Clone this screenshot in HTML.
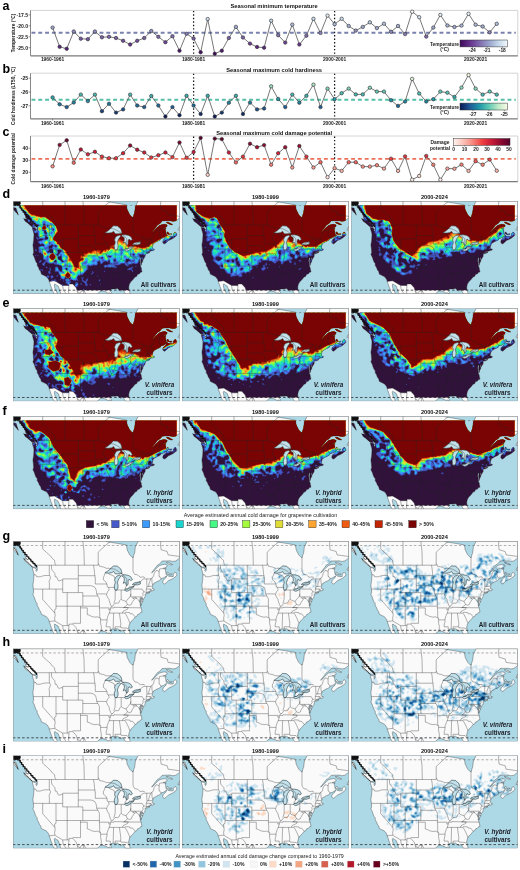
<!DOCTYPE html><html><head><meta charset="utf-8"><title>Figure</title>
<style>html,body{margin:0;padding:0;background:#fff;overflow:hidden;width:520px;height:870px;}svg{display:block;} svg.main{will-change:transform;}text{font-family:'Liberation Sans', sans-serif;}</style></head><body>
<svg class="main" width="520" height="870" viewBox="0 0 520 870">
<defs>
<clipPath id="dataclip"><path d="M163.6,32.8 163.0,31.6 162.3,30.9 160.5,33.0 160.3,35.4 159.2,35.4 157.6,35.4 155.4,35.0 154.7,34.4 153.4,33.7 152.9,31.6 152.7,29.6 152.0,28.2 153.2,27.9 152.9,27.2 151.4,27.5 149.6,27.5 150.3,27.2 151.8,26.8 153.8,25.8 154.3,24.4 153.6,23.8 151.4,23.2 148.7,23.8 146.7,24.4 144.5,26.2 142.5,28.2 140.7,30.3 139.3,31.3 138.7,31.6 140.0,29.9 141.6,27.9 142.7,26.5 144.5,24.1 146.2,23.1 147.6,22.0 149.1,20.0 151.4,19.8 154.3,19.8 156.9,19.7 159.8,20.3 162.5,20.0 163.6,19.3 163.6,4.4 123.1,4.4 122.5,5.5 121.7,12.1 121.2,13.0 120.3,16.4 119.2,16.2 116.8,13.7 114.3,8.8 113.6,4.4 7.1,4.4 6.9,5.3 8.0,7.7 9.8,9.7 11.3,12.1 12.4,14.9 12.9,16.9 14.7,18.3 15.3,18.6 15.3,18.6 13.1,17.9 11.1,17.9 12.2,20.3 14.4,21.7 16.7,23.8 19.1,25.5 21.1,26.2 22.5,26.2 22.3,24.8 20.9,23.1 18.9,21.4 17.9,20.1 19.1,21.0 20.9,22.4 22.5,23.4 23.4,24.1 23.8,25.5 24.5,27.2 24.3,29.2 23.6,30.3 22.9,29.6 23.6,27.9 21.8,27.0 19.4,26.2 19.6,27.9 20.5,30.9 21.1,33.3 20.9,36.1 20.7,39.5 20.0,43.9 20.5,48.0 20.7,51.5 20.0,53.5 21.4,56.2 22.3,59.0 23.1,61.0 24.3,62.4 24.3,64.5 25.6,66.5 26.5,68.9 27.8,70.6 28.5,73.3 30.3,74.0 31.6,74.7 33.2,75.4 34.3,76.4 35.9,78.8 36.3,80.4 36.3,80.4 41.7,79.8 49.7,84.5 56.1,84.5 56.1,83.0 59.9,83.0 63.3,86.7 64.0,89.2 97.6,89.2 97.6,88.7 99.0,87.9 101.0,87.9 102.3,87.9 104.5,87.6 105.7,88.4 106.7,89.2 109.1,89.2 109.2,89.1 109.7,89.2 116.2,89.2 115.9,87.7 115.9,85.7 116.4,83.6 117.0,82.2 118.1,80.5 119.3,79.5 120.8,77.8 122.2,75.9 123.7,75.4 124.8,73.3 126.4,73.0 127.7,71.3 129.1,71.0 128.6,68.6 128.2,66.5 127.5,65.1 127.3,62.1 126.8,60.0 127.1,57.6 127.7,56.6 128.2,57.3 127.7,60.0 128.0,62.1 128.0,64.7 128.6,63.1 128.8,62.1 129.7,60.7 130.0,59.0 129.1,57.3 129.1,56.2 130.4,58.5 131.1,57.3 132.2,55.6 132.4,53.5 132.0,53.0 132.6,52.8 132.7,52.8 134.6,52.5 137.1,51.3 136.2,51.1 134.6,51.6 133.1,51.8 134.9,50.8 136.9,50.4 138.2,49.8 138.9,49.8 139.8,49.6 141.3,49.1 141.3,47.9 140.0,48.0 139.3,47.0 139.6,45.6 140.0,43.9 140.9,42.2 142.5,41.5 144.0,40.5 145.8,39.8 147.6,38.8 148.2,37.4 150.0,37.1 151.4,36.4 152.9,35.2 153.8,34.9 152.9,36.8 151.4,38.1 150.3,39.1 149.8,41.2 150.7,42.6 151.8,42.9 153.6,41.5 155.6,39.5 158.1,38.5 160.7,37.1 162.3,35.7 163.6,34.7ZM92.1,31.8 92.3,31.5 95.0,29.9 97.8,27.5 100.5,24.8 104.5,25.1 107.9,27.9 108.8,30.9 109.0,32.7 107.9,32.5 104.5,32.8 102.3,32.7 100.7,30.3 99.0,31.5 95.6,32.1ZM108.6,34.9 109.7,33.7 112.3,33.7 115.7,34.4 117.9,35.7 119.5,38.5 117.9,39.5 116.1,38.1 115.2,39.8 115.2,43.3 113.7,44.6 112.3,41.2 110.3,42.2 111.5,39.1 111.2,36.4ZM102.3,41.9 102.3,40.5 101.6,39.1 102.3,36.8 104.1,34.9 106.8,34.2 107.9,35.0 105.7,38.1 104.5,41.2 105.2,44.6 105.0,47.0 103.9,49.1 102.3,49.1 101.6,48.0 101.4,44.6ZM119.5,43.6 120.4,42.4 122.4,41.5 125.7,41.0 127.3,40.5 127.5,42.9 124.6,43.8 121.3,43.8ZM111.5,49.1 112.1,48.0 114.6,47.9 116.8,45.8 119.0,45.8 121.3,45.3 119.0,47.4 115.2,49.8 113.5,50.1ZM3.1,7.0 0.8,6.7 0.6,8.4 2.2,10.4 3.7,12.1 5.1,13.2 4.0,9.7ZM153.6,21.0 153.8,21.7 155.6,22.7 158.1,23.8 159.8,23.6 155.8,21.4ZM154.7,30.8 153.8,32.0 154.5,33.0 156.5,33.7 158.3,34.0 159.2,32.8 156.5,33.0Z"/></clipPath>
<g id="base">
<rect x="0" y="0" width="167.0" height="93.0" fill="#add8e6"/>
<path d="M4.0,2.9 5.3,2.6 4.9,0.0 3.4,0.0ZM2.3,0.0 0.0,0.0 0.0,2.4 0.2,2.6 2.4,3.6 3.3,1.9ZM4.0,9.7 3.1,7.0 0.8,6.7 0.6,8.4 2.2,10.4 3.7,12.1 5.1,13.2ZM21.1,26.2 22.5,26.2 22.3,24.8 20.9,23.1 18.9,21.4 17.9,20.1 19.1,21.0 20.9,22.4 22.5,23.4 23.4,24.1 23.8,25.5 24.5,27.2 24.3,29.2 23.6,30.3 22.9,29.6 23.6,27.9 21.8,27.0 19.4,26.2 19.6,27.9 20.5,30.9 21.1,33.3 20.9,36.1 20.7,39.5 20.0,43.9 20.5,48.0 20.7,51.5 20.0,53.5 21.4,56.2 22.3,59.0 23.1,61.0 24.3,62.4 24.3,64.5 25.6,66.5 26.5,68.9 27.8,70.6 28.5,73.3 30.3,74.0 31.6,74.7 33.2,75.4 34.3,76.4 35.9,78.8 36.3,80.5 37.2,82.9 38.1,85.7 39.2,88.1 39.6,90.1 41.2,92.5 41.4,93.0 44.4,93.0 44.1,91.5 42.3,88.4 41.7,86.0 41.4,84.0 41.9,82.9 43.4,84.0 45.2,85.0 45.9,86.7 47.0,89.8 47.7,92.5 47.8,93.0 84.3,93.0 85.8,91.5 87.8,90.1 89.4,89.8 91.6,90.4 93.6,91.1 95.0,92.2 96.7,91.8 98.1,92.8 98.5,91.5 97.4,90.1 97.6,88.7 99.0,87.9 101.0,87.9 102.3,87.9 104.5,87.6 105.7,88.4 107.0,89.4 107.9,90.4 109.2,89.1 110.6,89.4 111.5,91.1 112.6,92.8 112.6,93.0 117.4,93.0 117.3,92.5 116.4,89.8 115.9,87.7 115.9,85.7 116.4,83.6 117.0,82.2 118.1,80.5 119.3,79.5 120.8,77.8 122.2,75.9 123.7,75.4 124.8,73.3 126.4,73.0 127.7,71.3 129.1,71.0 128.6,68.6 128.2,66.5 127.5,65.1 127.3,62.1 126.8,60.0 127.1,57.6 127.7,56.6 128.2,57.3 127.7,60.0 128.0,62.1 128.0,64.7 128.6,63.1 128.8,62.1 129.7,60.7 130.0,59.0 129.1,57.3 129.1,56.2 130.4,58.5 131.1,57.3 132.2,55.6 132.4,53.5 132.0,53.0 132.6,52.8 132.7,52.8 134.6,52.5 137.1,51.3 136.2,51.1 134.6,51.6 133.1,51.8 134.9,50.8 136.9,50.4 138.2,49.8 138.9,49.8 139.8,49.6 141.3,49.1 141.3,47.9 140.0,48.0 139.3,47.0 139.6,45.6 140.0,43.9 140.9,42.2 142.5,41.5 144.0,40.5 145.8,39.8 147.6,38.8 148.2,37.4 150.0,37.1 151.4,36.4 152.9,35.2 153.8,34.9 152.9,36.8 151.4,38.1 150.3,39.1 149.8,41.2 150.7,42.6 151.8,42.9 153.6,41.5 155.6,39.5 158.1,38.5 160.7,37.1 162.3,35.7 163.6,34.7 164.1,33.7 163.0,31.6 162.3,30.9 160.5,33.0 160.3,35.4 159.2,35.4 157.6,35.4 155.4,35.0 154.7,34.4 153.4,33.7 152.9,31.6 152.7,29.6 152.0,28.2 153.2,27.9 152.9,27.2 151.4,27.5 149.6,27.5 150.3,27.2 151.8,26.8 153.8,25.8 154.3,24.4 153.6,23.8 151.4,23.2 148.7,23.8 146.7,24.4 144.5,26.2 142.5,28.2 140.7,30.3 139.3,31.3 138.7,31.6 140.0,29.9 141.6,27.9 142.7,26.5 144.5,24.1 146.2,23.1 147.6,22.0 149.1,20.0 151.4,19.8 154.3,19.8 156.9,19.7 159.8,20.3 162.5,20.0 164.8,18.6 166.5,16.9 167.0,16.7 167.0,0.0 125.3,0.0 125.0,0.6 122.5,5.5 121.7,12.1 121.2,13.0 120.3,16.4 119.2,16.2 116.8,13.7 114.3,8.8 113.5,3.9 104.0,2.2 93.9,0.6 93.0,0.0 6.4,0.0 6.4,0.2 6.6,1.9 7.3,3.6 6.9,5.3 8.0,7.7 9.8,9.7 11.3,12.1 12.4,14.9 12.9,16.9 14.7,18.3 15.3,18.6 15.3,18.6 13.1,17.9 11.1,17.9 12.2,20.3 14.4,21.7 16.7,23.8 19.1,25.5ZM95.6,32.1 92.1,31.8 92.3,31.5 95.0,29.9 97.8,27.5 100.5,24.8 104.5,25.1 107.9,27.9 108.8,30.9 109.0,32.7 107.9,32.5 104.5,32.8 102.3,32.7 100.7,30.3 99.0,31.5ZM111.2,36.4 108.6,34.9 109.7,33.7 112.3,33.7 115.7,34.4 117.9,35.7 119.5,38.5 117.9,39.5 116.1,38.1 115.2,39.8 115.2,43.3 113.7,44.6 112.3,41.2 110.3,42.2 111.5,39.1ZM101.4,44.6 102.3,41.9 102.3,40.5 101.6,39.1 102.3,36.8 104.1,34.9 106.8,34.2 107.9,35.0 105.7,38.1 104.5,41.2 105.2,44.6 105.0,47.0 103.9,49.1 102.3,49.1 101.6,48.0ZM121.3,43.8 119.5,43.6 120.4,42.4 122.4,41.5 125.7,41.0 127.3,40.5 127.5,42.9 124.6,43.8ZM113.5,50.1 111.5,49.1 112.1,48.0 114.6,47.9 116.8,45.8 119.0,45.8 121.3,45.3 119.0,47.4 115.2,49.8ZM155.8,21.4 153.6,21.0 153.8,21.7 155.6,22.7 158.1,23.8 159.8,23.6ZM166.8,25.8 165.0,28.9 165.9,29.2 167.0,29.4 167.0,25.5ZM156.5,33.0 154.7,30.8 153.8,32.0 154.5,33.0 156.5,33.7 158.3,34.0 159.2,32.8Z" fill="#fafafa"/>
</g>
<path id="lakes" d="M100.7,30.3 102.3,32.7 104.5,32.8 107.9,32.5 109.0,32.7 108.8,30.9 107.9,27.9 104.5,25.1 100.5,24.8 97.8,27.5 95.0,29.9 92.3,31.5 92.1,31.8 95.6,32.1 99.0,31.5ZM110.3,42.2 112.3,41.2 113.7,44.6 115.2,43.3 115.2,39.8 116.1,38.1 117.9,39.5 119.5,38.5 117.9,35.7 115.7,34.4 112.3,33.7 109.7,33.7 108.6,34.9 111.2,36.4 111.5,39.1ZM103.9,49.1 105.0,47.0 105.2,44.6 104.5,41.2 105.7,38.1 107.9,35.0 106.8,34.2 104.1,34.9 102.3,36.8 101.6,39.1 102.3,40.5 102.3,41.9 101.4,44.6 101.6,48.0 102.3,49.1ZM127.3,40.5 125.7,41.0 122.4,41.5 120.4,42.4 119.5,43.6 121.3,43.8 124.6,43.8 127.5,42.9ZM121.3,45.3 119.0,45.8 116.8,45.8 114.6,47.9 112.1,48.0 111.5,49.1 113.5,50.1 115.2,49.8 119.0,47.4Z"/>
<g id="overlay">
<path d="M22.5,24.1 85.3,24.1 85.3,22.8 86.0,23.1 86.5,25.1 88.9,25.6 90.9,26.0 93.4,27.2 96.7,27.2 97.8,27.5 101.2,27.9 105.7,30.3 108.3,32.3 109.9,33.3 111.0,34.7 113.9,37.8 113.7,44.6 112.1,47.0 112.8,48.0 116.8,47.2 121.3,45.0 121.3,43.6 123.5,42.6 127.3,40.9 129.1,38.8 130.9,37.8 138.0,37.8 138.9,36.8 139.8,36.4 140.7,34.7 141.3,32.0 143.1,29.4 145.1,29.7 146.2,30.7 146.2,35.4 147.1,35.7 147.8,37.4M43.1,24.1 41.9,22.0 41.7,19.3 39.6,17.6 37.6,14.9 35.9,13.5 33.2,10.8 31.0,9.1 29.8,7.7 29.8,0.0M52.1,24.1 52.1,0.0M71.4,24.1 71.1,10.4 70.0,0.8 70.0,0.0M85.3,22.8 85.3,11.1 87.8,8.7 93.4,3.6 97.6,0.2 97.7,0.0M131.7,36.8 131.3,35.9 129.1,35.9 127.5,36.1 125.9,35.0 124.6,33.7 121.9,33.3 120.4,30.9 120.1,29.6 120.1,15.9M146.2,30.7 146.7,27.9 149.1,27.5M167.0,15.4 155.2,13.8 154.3,10.4 148.2,8.7 147.6,3.6 148.0,0.0M20.9,33.5 23.1,34.0 23.6,35.6 27.2,35.7 30.3,34.7 32.1,34.4 36.7,34.4M36.4,24.1 36.4,33.0 36.7,34.4 37.6,36.1 37.0,38.5 36.1,40.2 36.5,41.9 36.5,48.0M20.5,48.0 49.8,48.0M38.6,24.1 38.6,27.6 39.4,29.4 41.9,32.1 42.3,35.7 43.7,35.7 45.4,39.5 46.8,39.7 49.0,38.8 49.8,39.5M49.8,37.8 49.8,51.5M49.8,37.8 65.4,37.8M65.4,24.1 65.4,51.5M65.4,34.6 82.1,34.6M80.6,24.1 81.3,28.2 81.6,32.3 82.1,34.6 82.1,36.8 82.4,36.8 82.4,42.9M65.4,44.6 77.8,44.6 80.0,45.1 82.0,46.3 82.9,48.0 83.6,50.4 83.8,52.8 84.9,54.9 85.8,56.2 86.5,58.0 86.5,66.8M82.4,42.9 94.1,42.9M92.1,32.0 91.6,34.0 90.5,36.1 90.5,38.8 92.7,40.5 94.1,42.9 94.3,45.6 95.4,46.3 96.3,48.7 94.5,50.8 93.6,53.5 94.5,55.9 96.3,58.6 96.3,59.7 97.8,64.1 98.7,65.1 97.8,66.8 97.4,68.6 96.5,71.6 95.4,74.0 94.3,77.1 94.1,80.5 93.4,82.9 93.2,85.7 97.3,85.7 97.4,87.4 97.6,88.4M95.8,32.3 96.5,33.3 99.0,34.0 101.0,35.0 102.1,37.4M49.8,51.5 69.9,51.5M54.3,51.5 54.3,84.5M43.1,48.0 43.1,67.9 41.7,68.6 41.9,72.0 42.3,74.4 41.7,77.1 42.1,79.5 41.7,79.8M43.1,65.1 69.9,65.1M29.8,48.0 29.8,58.3 41.9,72.0M36.3,80.4 41.7,79.8 49.7,84.5 56.1,84.5 56.1,83.0 59.9,83.0 63.3,86.7 64.4,90.4 67.3,92.5 68.4,90.1 71.3,89.8 72.9,93.0M69.9,51.5 69.9,65.1M69.9,54.9 84.9,54.9M69.9,65.1 86.5,65.1M67.6,65.1 67.6,82.2 59.7,82.2M67.6,66.8 74.4,66.8 74.4,73.5 76.2,74.0 78.9,75.4 82.2,76.1 84.5,75.7 86.7,76.8 87.7,76.9M86.5,66.8 86.8,70.6 86.8,76.8M87.7,76.9 87.7,82.2 88.5,85.7 88.3,88.4 88.1,90.1M87.7,78.8 94.1,78.8M86.5,66.8 96.4,66.8 95.8,68.6 97.4,68.6M83.8,52.8 92.9,52.8 93.6,53.5M95.4,46.3 101.6,46.3M102.3,49.1 102.3,56.6 102.1,58.6 101.4,60.7 101.0,62.4M98.7,65.1 100.1,64.8 101.0,63.4 102.3,62.1 104.5,62.1 105.9,61.7 107.0,59.3 108.3,58.0 109.4,59.0 111.2,59.7 113.2,60.4 114.6,58.3 116.1,56.9 117.5,54.9 117.9,52.8 117.9,48.0M108.3,58.0 108.3,48.9M102.3,48.9 108.3,48.9 111.2,49.0M97.8,66.8 101.1,66.8 101.1,66.2 115.4,66.5 114.6,68.2 112.3,69.2 110.1,70.3 109.4,72.0M110.8,66.5 112.8,65.1 114.6,63.4 113.2,60.4M110.8,66.5 128.2,66.7M96.1,72.0 112.1,72.0M112.1,71.3 113.7,71.3 116.8,71.5 117.3,72.7 119.7,72.7 122.2,75.7M112.1,72.0 113.2,73.7 114.6,76.4 115.7,78.8 116.8,81.6 117.0,82.2M100.7,72.0 100.3,85.7 100.3,87.7M106.5,72.0 107.9,82.2 107.7,85.7 108.1,86.7 114.1,87.0 114.6,87.7 115.7,86.7M102.1,85.7 107.7,85.7M102.1,85.7 102.3,87.9M114.6,63.4 116.8,64.1 118.4,63.4 119.0,61.7 120.1,60.0 121.3,58.3 122.6,57.3 123.9,57.3 124.8,58.3 125.7,59.0 127.3,61.7M120.1,57.6 120.1,55.8M120.1,57.6 122.6,56.2 123.9,57.3M117.9,55.8 128.4,55.8 128.4,60.2 130.1,60.2M117.9,55.8 117.9,52.8M119.6,48.0 129.3,48.0 130.2,49.8 130.9,50.3 132.6,51.5M130.9,50.3 130.0,52.1 130.2,54.2 129.1,55.6M133.9,37.8 133.8,41.2 134.1,45.5 133.5,47.9 133.2,51.1M138.0,37.8 136.9,40.2 136.0,42.9 135.8,45.5M134.1,45.5 139.1,45.1M133.5,47.9 137.3,48.0 138.2,48.0 138.9,49.8M137.3,48.0 137.3,50.4M138.9,36.8 139.1,41.2 139.8,44.3M49.7,84.5 50.4,89.1 53.4,93.0M56.1,84.5 55.5,90.8 56.2,93.0M64.4,90.4 65.2,93.0M71.3,89.8 70.3,93.0" fill="none" stroke="#262626" stroke-width="0.42" stroke-linejoin="round" opacity="0.85"/>
<path d="M4.0,2.9 5.3,2.6 4.9,0.0 3.4,0.0ZM2.3,0.0 0.0,0.0 0.0,2.4 0.2,2.6 2.4,3.6 3.3,1.9ZM4.0,9.7 3.1,7.0 0.8,6.7 0.6,8.4 2.2,10.4 3.7,12.1 5.1,13.2ZM21.1,26.2 22.5,26.2 22.3,24.8 20.9,23.1 18.9,21.4 17.9,20.1 19.1,21.0 20.9,22.4 22.5,23.4 23.4,24.1 23.8,25.5 24.5,27.2 24.3,29.2 23.6,30.3 22.9,29.6 23.6,27.9 21.8,27.0 19.4,26.2 19.6,27.9 20.5,30.9 21.1,33.3 20.9,36.1 20.7,39.5 20.0,43.9 20.5,48.0 20.7,51.5 20.0,53.5 21.4,56.2 22.3,59.0 23.1,61.0 24.3,62.4 24.3,64.5 25.6,66.5 26.5,68.9 27.8,70.6 28.5,73.3 30.3,74.0 31.6,74.7 33.2,75.4 34.3,76.4 35.9,78.8 36.3,80.5 37.2,82.9 38.1,85.7 39.2,88.1 39.6,90.1 41.2,92.5 41.4,93.0 44.4,93.0 44.1,91.5 42.3,88.4 41.7,86.0 41.4,84.0 41.9,82.9 43.4,84.0 45.2,85.0 45.9,86.7 47.0,89.8 47.7,92.5 47.8,93.0 84.3,93.0 85.8,91.5 87.8,90.1 89.4,89.8 91.6,90.4 93.6,91.1 95.0,92.2 96.7,91.8 98.1,92.8 98.5,91.5 97.4,90.1 97.6,88.7 99.0,87.9 101.0,87.9 102.3,87.9 104.5,87.6 105.7,88.4 107.0,89.4 107.9,90.4 109.2,89.1 110.6,89.4 111.5,91.1 112.6,92.8 112.6,93.0 117.4,93.0 117.3,92.5 116.4,89.8 115.9,87.7 115.9,85.7 116.4,83.6 117.0,82.2 118.1,80.5 119.3,79.5 120.8,77.8 122.2,75.9 123.7,75.4 124.8,73.3 126.4,73.0 127.7,71.3 129.1,71.0 128.6,68.6 128.2,66.5 127.5,65.1 127.3,62.1 126.8,60.0 127.1,57.6 127.7,56.6 128.2,57.3 127.7,60.0 128.0,62.1 128.0,64.7 128.6,63.1 128.8,62.1 129.7,60.7 130.0,59.0 129.1,57.3 129.1,56.2 130.4,58.5 131.1,57.3 132.2,55.6 132.4,53.5 132.0,53.0 132.6,52.8 132.7,52.8 134.6,52.5 137.1,51.3 136.2,51.1 134.6,51.6 133.1,51.8 134.9,50.8 136.9,50.4 138.2,49.8 138.9,49.8 139.8,49.6 141.3,49.1 141.3,47.9 140.0,48.0 139.3,47.0 139.6,45.6 140.0,43.9 140.9,42.2 142.5,41.5 144.0,40.5 145.8,39.8 147.6,38.8 148.2,37.4 150.0,37.1 151.4,36.4 152.9,35.2 153.8,34.9 152.9,36.8 151.4,38.1 150.3,39.1 149.8,41.2 150.7,42.6 151.8,42.9 153.6,41.5 155.6,39.5 158.1,38.5 160.7,37.1 162.3,35.7 163.6,34.7 164.1,33.7 163.0,31.6 162.3,30.9 160.5,33.0 160.3,35.4 159.2,35.4 157.6,35.4 155.4,35.0 154.7,34.4 153.4,33.7 152.9,31.6 152.7,29.6 152.0,28.2 153.2,27.9 152.9,27.2 151.4,27.5 149.6,27.5 150.3,27.2 151.8,26.8 153.8,25.8 154.3,24.4 153.6,23.8 151.4,23.2 148.7,23.8 146.7,24.4 144.5,26.2 142.5,28.2 140.7,30.3 139.3,31.3 138.7,31.6 140.0,29.9 141.6,27.9 142.7,26.5 144.5,24.1 146.2,23.1 147.6,22.0 149.1,20.0 151.4,19.8 154.3,19.8 156.9,19.7 159.8,20.3 162.5,20.0 164.8,18.6 166.5,16.9 167.0,16.7 167.0,0.0 125.3,0.0 125.0,0.6 122.5,5.5 121.7,12.1 121.2,13.0 120.3,16.4 119.2,16.2 116.8,13.7 114.3,8.8 113.5,3.9 104.0,2.2 93.9,0.6 93.0,0.0 6.4,0.0 6.4,0.2 6.6,1.9 7.3,3.6 6.9,5.3 8.0,7.7 9.8,9.7 11.3,12.1 12.4,14.9 12.9,16.9 14.7,18.3 15.3,18.6 15.3,18.6 13.1,17.9 11.1,17.9 12.2,20.3 14.4,21.7 16.7,23.8 19.1,25.5ZM95.6,32.1 92.1,31.8 92.3,31.5 95.0,29.9 97.8,27.5 100.5,24.8 104.5,25.1 107.9,27.9 108.8,30.9 109.0,32.7 107.9,32.5 104.5,32.8 102.3,32.7 100.7,30.3 99.0,31.5ZM111.2,36.4 108.6,34.9 109.7,33.7 112.3,33.7 115.7,34.4 117.9,35.7 119.5,38.5 117.9,39.5 116.1,38.1 115.2,39.8 115.2,43.3 113.7,44.6 112.3,41.2 110.3,42.2 111.5,39.1ZM101.4,44.6 102.3,41.9 102.3,40.5 101.6,39.1 102.3,36.8 104.1,34.9 106.8,34.2 107.9,35.0 105.7,38.1 104.5,41.2 105.2,44.6 105.0,47.0 103.9,49.1 102.3,49.1 101.6,48.0ZM121.3,43.8 119.5,43.6 120.4,42.4 122.4,41.5 125.7,41.0 127.3,40.5 127.5,42.9 124.6,43.8ZM113.5,50.1 111.5,49.1 112.1,48.0 114.6,47.9 116.8,45.8 119.0,45.8 121.3,45.3 119.0,47.4 115.2,49.8ZM155.8,21.4 153.6,21.0 153.8,21.7 155.6,22.7 158.1,23.8 159.8,23.6ZM166.8,25.8 165.0,28.9 165.9,29.2 167.0,29.4 167.0,25.5ZM156.5,33.0 154.7,30.8 153.8,32.0 154.5,33.0 156.5,33.7 158.3,34.0 159.2,32.8Z" fill="none" stroke="#1e1e1e" stroke-width="0.35" stroke-linejoin="round"/>
<path d="M6.0,4.7 7.4,5.2 7.0,6.6 8.8,7.2 8.6,8.8 10.4,9.4 10.2,11.0 12.2,11.6 12.0,13.2 14.0,13.8 13.9,15.4 15.9,16.0 15.9,17.6 17.9,18.3 18.0,19.8 19.9,20.5 20.2,22.0 21.9,22.6 22.4,24.2 23.6,24.8 23.9,26.2" fill="none" stroke="#0d0d0d" stroke-width="1.25" stroke-linejoin="round"/>
<path d="M0.4,0.4 L7.6,0.4 L7.9,2.2 L6.8,4.2 L5.2,5.3 L3.6,4.4 L2.0,5.2 L0.4,4.6 Z" fill="#111"/>
<path d="M1.0,6.5 L2.6,8.8 L4.0,11.2 L5.4,14.2" fill="none" stroke="#1a1a1a" stroke-width="0.7"/>
<path d="M10.6,17.4 L13.5,20.0 L16.4,22.6 L19.2,25.8" fill="none" stroke="#1a1a1a" stroke-width="0.7"/>
<line x1="0" y1="4.35" x2="167.0" y2="4.35" stroke="#555" stroke-width="0.6" stroke-dasharray="2.4 2.1" opacity="0.8"/>
<line x1="0" y1="89.2" x2="167.0" y2="89.2" stroke="#222" stroke-width="0.75" stroke-dasharray="2.5 2.1"/>
</g>
</defs>
<rect width="520" height="870" fill="#fff"/>
<text x="274.15" y="8.30" font-size="5.75" font-weight="bold" text-anchor="middle" fill="#111" >Seasonal minimum temperature</text>
<text x="2.6" y="10.2" font-size="12.5" font-weight="bold" fill="#000">a</text>
<line x1="30.5" y1="10.4" x2="517.8" y2="10.4" stroke="#cfcfcf" stroke-width="0.9"/>
<line x1="517.8" y1="10.4" x2="517.8" y2="55.9" stroke="#cfcfcf" stroke-width="0.9"/>
<line x1="30.5" y1="10.4" x2="30.5" y2="55.9" stroke="#7a7a7a" stroke-width="0.9"/>
<line x1="30.5" y1="55.9" x2="517.8" y2="55.9" stroke="#7a7a7a" stroke-width="1.1"/>
<line x1="28.5" y1="14.9" x2="30.5" y2="14.9" stroke="#555" stroke-width="0.6"/>
<text x="28.20" y="16.70" font-size="5.1" font-weight="bold" text-anchor="end" fill="#222" >-17.5</text>
<line x1="28.5" y1="25.83" x2="30.5" y2="25.83" stroke="#555" stroke-width="0.6"/>
<text x="28.20" y="27.63" font-size="5.1" font-weight="bold" text-anchor="end" fill="#222" >-20.0</text>
<line x1="28.5" y1="36.77" x2="30.5" y2="36.77" stroke="#555" stroke-width="0.6"/>
<text x="28.20" y="38.57" font-size="5.1" font-weight="bold" text-anchor="end" fill="#222" >-22.5</text>
<line x1="28.5" y1="47.7" x2="30.5" y2="47.7" stroke="#555" stroke-width="0.6"/>
<text x="28.20" y="49.50" font-size="5.1" font-weight="bold" text-anchor="end" fill="#222" >-25.0</text>
<line x1="52.60" y1="55.9" x2="52.60" y2="57.4" stroke="#555" stroke-width="0.6"/>
<text x="52.60" y="60.90" font-size="4.9" font-weight="bold" text-anchor="middle" fill="#222" >1960-1961</text>
<line x1="193.60" y1="55.9" x2="193.60" y2="57.4" stroke="#555" stroke-width="0.6"/>
<text x="193.60" y="60.90" font-size="4.9" font-weight="bold" text-anchor="middle" fill="#222" >1980-1981</text>
<line x1="334.60" y1="55.9" x2="334.60" y2="57.4" stroke="#555" stroke-width="0.6"/>
<text x="334.60" y="60.90" font-size="4.9" font-weight="bold" text-anchor="middle" fill="#222" >2000-2001</text>
<line x1="475.60" y1="55.9" x2="475.60" y2="57.4" stroke="#555" stroke-width="0.6"/>
<text x="475.60" y="60.90" font-size="4.9" font-weight="bold" text-anchor="middle" fill="#222" >2020-2021</text>
<text x="0" y="0" transform="translate(15.3,33.0) rotate(-90)" font-size="4.8" font-weight="bold" text-anchor="middle" fill="#222">Temperature (°C)</text>
<line x1="31.0" y1="32.8" x2="515.8" y2="32.8" stroke="#7882ad" stroke-width="1.9" stroke-dasharray="3.9 2.9" stroke-dashoffset="-0.5"/>
<line x1="193.60" y1="10.9" x2="193.60" y2="55.4" stroke="#111" stroke-width="1.25" stroke-dasharray="1.4 2.06"/>
<line x1="334.60" y1="10.9" x2="334.60" y2="55.4" stroke="#111" stroke-width="1.25" stroke-dasharray="1.4 2.06"/>
<polyline points="52.60,27.60 59.65,46.80 66.70,48.80 73.75,31.50 80.80,38.70 87.85,39.20 94.90,31.50 101.95,37.30 109.00,36.80 116.05,38.00 123.10,40.80 130.15,44.50 137.20,40.80 144.25,38.00 151.30,31.00 158.35,36.80 165.40,42.20 172.45,36.20 179.50,50.70 186.55,33.80 193.60,38.50 200.65,52.30 207.70,19.10 214.75,53.70 221.80,50.70 228.85,38.00 235.90,26.90 242.95,37.50 250.00,43.60 257.05,47.00 264.10,47.70 271.15,20.70 278.20,35.20 285.25,42.60 292.30,24.60 299.35,44.50 306.40,35.70 313.45,18.80 320.50,32.90 327.55,15.60 334.60,24.20 341.65,18.80 348.70,26.00 355.75,30.60 362.80,26.90 369.85,22.30 376.90,28.10 383.95,23.70 391.00,31.80 398.05,26.00 405.10,34.10 412.15,11.70 419.20,17.20 426.25,36.60 433.30,27.60 440.35,14.90 447.40,25.50 454.45,27.00 461.50,25.60 468.55,13.80 475.60,24.70 482.65,26.50 489.70,32.30 496.75,23.80" fill="none" stroke="#4a4a4a" stroke-width="0.75"/>
<circle cx="52.60" cy="27.60" r="1.72" fill="#9ca6ce" stroke="#2e2e2e" stroke-width="0.62"/>
<circle cx="59.65" cy="46.80" r="1.72" fill="#5d2982" stroke="#2e2e2e" stroke-width="0.62"/>
<circle cx="66.70" cy="48.80" r="1.72" fill="#532076" stroke="#2e2e2e" stroke-width="0.62"/>
<circle cx="73.75" cy="31.50" r="1.72" fill="#8f8cbf" stroke="#2e2e2e" stroke-width="0.62"/>
<circle cx="80.80" cy="38.70" r="1.72" fill="#795aa5" stroke="#2e2e2e" stroke-width="0.62"/>
<circle cx="87.85" cy="39.20" r="1.72" fill="#7757a3" stroke="#2e2e2e" stroke-width="0.62"/>
<circle cx="94.90" cy="31.50" r="1.72" fill="#8f8cbf" stroke="#2e2e2e" stroke-width="0.62"/>
<circle cx="101.95" cy="37.30" r="1.72" fill="#7d63aa" stroke="#2e2e2e" stroke-width="0.62"/>
<circle cx="109.00" cy="36.80" r="1.72" fill="#7f67ad" stroke="#2e2e2e" stroke-width="0.62"/>
<circle cx="116.05" cy="38.00" r="1.72" fill="#7b5fa7" stroke="#2e2e2e" stroke-width="0.62"/>
<circle cx="123.10" cy="40.80" r="1.72" fill="#724d9c" stroke="#2e2e2e" stroke-width="0.62"/>
<circle cx="130.15" cy="44.50" r="1.72" fill="#66358d" stroke="#2e2e2e" stroke-width="0.62"/>
<circle cx="137.20" cy="40.80" r="1.72" fill="#724d9c" stroke="#2e2e2e" stroke-width="0.62"/>
<circle cx="144.25" cy="38.00" r="1.72" fill="#7b5fa7" stroke="#2e2e2e" stroke-width="0.62"/>
<circle cx="151.30" cy="31.00" r="1.72" fill="#908fc1" stroke="#2e2e2e" stroke-width="0.62"/>
<circle cx="158.35" cy="36.80" r="1.72" fill="#7f67ad" stroke="#2e2e2e" stroke-width="0.62"/>
<circle cx="165.40" cy="42.20" r="1.72" fill="#6d4497" stroke="#2e2e2e" stroke-width="0.62"/>
<circle cx="172.45" cy="36.20" r="1.72" fill="#816bae" stroke="#2e2e2e" stroke-width="0.62"/>
<circle cx="179.50" cy="50.70" r="1.72" fill="#4c176c" stroke="#2e2e2e" stroke-width="0.62"/>
<circle cx="186.55" cy="33.80" r="1.72" fill="#887cb7" stroke="#2e2e2e" stroke-width="0.62"/>
<circle cx="193.60" cy="38.50" r="1.72" fill="#7a5ba5" stroke="#2e2e2e" stroke-width="0.62"/>
<circle cx="200.65" cy="52.30" r="1.72" fill="#451063" stroke="#2e2e2e" stroke-width="0.62"/>
<circle cx="207.70" cy="19.10" r="1.72" fill="#c9dbec" stroke="#2e2e2e" stroke-width="0.62"/>
<circle cx="214.75" cy="53.70" r="1.72" fill="#3f0a5c" stroke="#2e2e2e" stroke-width="0.62"/>
<circle cx="221.80" cy="50.70" r="1.72" fill="#4c176c" stroke="#2e2e2e" stroke-width="0.62"/>
<circle cx="228.85" cy="38.00" r="1.72" fill="#7b5fa7" stroke="#2e2e2e" stroke-width="0.62"/>
<circle cx="235.90" cy="26.90" r="1.72" fill="#a0abd0" stroke="#2e2e2e" stroke-width="0.62"/>
<circle cx="242.95" cy="37.50" r="1.72" fill="#7d62a9" stroke="#2e2e2e" stroke-width="0.62"/>
<circle cx="250.00" cy="43.60" r="1.72" fill="#683b91" stroke="#2e2e2e" stroke-width="0.62"/>
<circle cx="257.05" cy="47.00" r="1.72" fill="#5b2880" stroke="#2e2e2e" stroke-width="0.62"/>
<circle cx="264.10" cy="47.70" r="1.72" fill="#58257c" stroke="#2e2e2e" stroke-width="0.62"/>
<circle cx="271.15" cy="20.70" r="1.72" fill="#c0d4e8" stroke="#2e2e2e" stroke-width="0.62"/>
<circle cx="278.20" cy="35.20" r="1.72" fill="#8471b2" stroke="#2e2e2e" stroke-width="0.62"/>
<circle cx="285.25" cy="42.60" r="1.72" fill="#6c4195" stroke="#2e2e2e" stroke-width="0.62"/>
<circle cx="292.30" cy="24.60" r="1.72" fill="#acbad9" stroke="#2e2e2e" stroke-width="0.62"/>
<circle cx="299.35" cy="44.50" r="1.72" fill="#66358d" stroke="#2e2e2e" stroke-width="0.62"/>
<circle cx="306.40" cy="35.70" r="1.72" fill="#826eb0" stroke="#2e2e2e" stroke-width="0.62"/>
<circle cx="313.45" cy="18.80" r="1.72" fill="#cbdced" stroke="#2e2e2e" stroke-width="0.62"/>
<circle cx="320.50" cy="32.90" r="1.72" fill="#8a81ba" stroke="#2e2e2e" stroke-width="0.62"/>
<circle cx="327.55" cy="15.60" r="1.72" fill="#deeaf4" stroke="#2e2e2e" stroke-width="0.62"/>
<circle cx="334.60" cy="24.20" r="1.72" fill="#adbcda" stroke="#2e2e2e" stroke-width="0.62"/>
<circle cx="341.65" cy="18.80" r="1.72" fill="#cbdced" stroke="#2e2e2e" stroke-width="0.62"/>
<circle cx="348.70" cy="26.00" r="1.72" fill="#a4b0d3" stroke="#2e2e2e" stroke-width="0.62"/>
<circle cx="355.75" cy="30.60" r="1.72" fill="#9191c2" stroke="#2e2e2e" stroke-width="0.62"/>
<circle cx="362.80" cy="26.90" r="1.72" fill="#a0abd0" stroke="#2e2e2e" stroke-width="0.62"/>
<circle cx="369.85" cy="22.30" r="1.72" fill="#b8c9e2" stroke="#2e2e2e" stroke-width="0.62"/>
<circle cx="376.90" cy="28.10" r="1.72" fill="#9aa3cc" stroke="#2e2e2e" stroke-width="0.62"/>
<circle cx="383.95" cy="23.70" r="1.72" fill="#b0bfdc" stroke="#2e2e2e" stroke-width="0.62"/>
<circle cx="391.00" cy="31.80" r="1.72" fill="#8e89be" stroke="#2e2e2e" stroke-width="0.62"/>
<circle cx="398.05" cy="26.00" r="1.72" fill="#a4b0d3" stroke="#2e2e2e" stroke-width="0.62"/>
<circle cx="405.10" cy="34.10" r="1.72" fill="#8779b6" stroke="#2e2e2e" stroke-width="0.62"/>
<circle cx="412.15" cy="11.70" r="1.72" fill="#f5f9fc" stroke="#2e2e2e" stroke-width="0.62"/>
<circle cx="419.20" cy="17.20" r="1.72" fill="#d5e3f0" stroke="#2e2e2e" stroke-width="0.62"/>
<circle cx="426.25" cy="36.60" r="1.72" fill="#8068ad" stroke="#2e2e2e" stroke-width="0.62"/>
<circle cx="433.30" cy="27.60" r="1.72" fill="#9ca6ce" stroke="#2e2e2e" stroke-width="0.62"/>
<circle cx="440.35" cy="14.90" r="1.72" fill="#e2ecf5" stroke="#2e2e2e" stroke-width="0.62"/>
<circle cx="447.40" cy="25.50" r="1.72" fill="#a7b3d5" stroke="#2e2e2e" stroke-width="0.62"/>
<circle cx="454.45" cy="27.00" r="1.72" fill="#9faad0" stroke="#2e2e2e" stroke-width="0.62"/>
<circle cx="461.50" cy="25.60" r="1.72" fill="#a7b3d5" stroke="#2e2e2e" stroke-width="0.62"/>
<circle cx="468.55" cy="13.80" r="1.72" fill="#e9f1f8" stroke="#2e2e2e" stroke-width="0.62"/>
<circle cx="475.60" cy="24.70" r="1.72" fill="#abb9d8" stroke="#2e2e2e" stroke-width="0.62"/>
<circle cx="482.65" cy="26.50" r="1.72" fill="#a1add2" stroke="#2e2e2e" stroke-width="0.62"/>
<circle cx="489.70" cy="32.30" r="1.72" fill="#8c86bc" stroke="#2e2e2e" stroke-width="0.62"/>
<circle cx="496.75" cy="23.80" r="1.72" fill="#b0bfdc" stroke="#2e2e2e" stroke-width="0.62"/>
<defs><linearGradient id="g_a" x1="0" x2="1" y1="0" y2="0"><stop offset="0.0" stop-color="#3f0a5c"/><stop offset="0.1" stop-color="#511d73"/><stop offset="0.2" stop-color="#63308a"/><stop offset="0.3" stop-color="#714a9b"/><stop offset="0.4" stop-color="#7f66ac"/><stop offset="0.5" stop-color="#8b84bb"/><stop offset="0.6" stop-color="#97a0ca"/><stop offset="0.7" stop-color="#adbcda"/><stop offset="0.8" stop-color="#c3d7ea"/><stop offset="0.9" stop-color="#dce8f3"/><stop offset="1.0" stop-color="#f5f9fc"/></linearGradient></defs>
<rect x="460" y="40.0" width="47.70" height="6.90" fill="url(#g_a)" stroke="#333" stroke-width="0.5"/>
<line x1="472.3" y1="46.9" x2="472.3" y2="48.1" stroke="#333" stroke-width="0.5"/>
<text x="472.30" y="52.40" font-size="4.9" font-weight="bold" text-anchor="middle" fill="#222" >-24</text>
<line x1="487" y1="46.9" x2="487" y2="48.1" stroke="#333" stroke-width="0.5"/>
<text x="487.00" y="52.40" font-size="4.9" font-weight="bold" text-anchor="middle" fill="#222" >-21</text>
<line x1="502.3" y1="46.9" x2="502.3" y2="48.1" stroke="#333" stroke-width="0.5"/>
<text x="502.30" y="52.40" font-size="4.9" font-weight="bold" text-anchor="middle" fill="#222" >-18</text>
<text x="444.50" y="45.60" font-size="4.85" font-weight="bold" text-anchor="middle" fill="#222" >Temperature</text>
<text x="444.50" y="51.40" font-size="4.85" font-weight="bold" text-anchor="middle" fill="#222" >(°C)</text>
<text x="274.15" y="71.70" font-size="5.75" font-weight="bold" text-anchor="middle" fill="#111" >Seasonal maximum cold hardiness</text>
<text x="2.6" y="72.6" font-size="12.5" font-weight="bold" fill="#000">b</text>
<line x1="30.5" y1="73.2" x2="517.8" y2="73.2" stroke="#cfcfcf" stroke-width="0.9"/>
<line x1="517.8" y1="73.2" x2="517.8" y2="118.9" stroke="#cfcfcf" stroke-width="0.9"/>
<line x1="30.5" y1="73.2" x2="30.5" y2="118.9" stroke="#7a7a7a" stroke-width="0.9"/>
<line x1="30.5" y1="118.9" x2="517.8" y2="118.9" stroke="#7a7a7a" stroke-width="1.1"/>
<line x1="28.5" y1="78.2" x2="30.5" y2="78.2" stroke="#555" stroke-width="0.6"/>
<text x="28.20" y="80.00" font-size="5.1" font-weight="bold" text-anchor="end" fill="#222" >-25</text>
<line x1="28.5" y1="92.0" x2="30.5" y2="92.0" stroke="#555" stroke-width="0.6"/>
<text x="28.20" y="93.80" font-size="5.1" font-weight="bold" text-anchor="end" fill="#222" >-26</text>
<line x1="28.5" y1="105.8" x2="30.5" y2="105.8" stroke="#555" stroke-width="0.6"/>
<text x="28.20" y="107.60" font-size="5.1" font-weight="bold" text-anchor="end" fill="#222" >-27</text>
<line x1="52.60" y1="118.9" x2="52.60" y2="120.4" stroke="#555" stroke-width="0.6"/>
<text x="52.60" y="124.50" font-size="4.9" font-weight="bold" text-anchor="middle" fill="#222" >1960-1961</text>
<line x1="193.60" y1="118.9" x2="193.60" y2="120.4" stroke="#555" stroke-width="0.6"/>
<text x="193.60" y="124.50" font-size="4.9" font-weight="bold" text-anchor="middle" fill="#222" >1980-1981</text>
<line x1="334.60" y1="118.9" x2="334.60" y2="120.4" stroke="#555" stroke-width="0.6"/>
<text x="334.60" y="124.50" font-size="4.9" font-weight="bold" text-anchor="middle" fill="#222" >2000-2001</text>
<line x1="475.60" y1="118.9" x2="475.60" y2="120.4" stroke="#555" stroke-width="0.6"/>
<text x="475.60" y="124.50" font-size="4.9" font-weight="bold" text-anchor="middle" fill="#222" >2020-2021</text>
<text x="0" y="0" transform="translate(15.3,96.0) rotate(-90)" font-size="4.8" font-weight="bold" text-anchor="middle" fill="#222">Cold hardiness (LT50, °C)</text>
<line x1="31.0" y1="99.7" x2="515.8" y2="99.7" stroke="#55c0a8" stroke-width="1.9" stroke-dasharray="3.9 2.9" stroke-dashoffset="-0.5"/>
<line x1="193.60" y1="73.7" x2="193.60" y2="118.4" stroke="#111" stroke-width="1.25" stroke-dasharray="1.4 2.06"/>
<line x1="334.60" y1="73.7" x2="334.60" y2="118.4" stroke="#111" stroke-width="1.25" stroke-dasharray="1.4 2.06"/>
<polyline points="52.60,97.40 59.65,104.30 66.70,107.10 73.75,102.50 80.80,94.60 87.85,101.10 94.90,94.60 101.95,111.20 109.00,103.80 116.05,112.60 123.10,109.40 130.15,94.60 137.20,105.50 144.25,107.10 151.30,96.00 158.35,105.50 165.40,116.50 172.45,107.10 179.50,115.20 186.55,95.80 193.60,105.50 200.65,114.00 207.70,95.80 214.75,116.50 221.80,112.60 228.85,102.70 235.90,95.80 242.95,114.00 250.00,102.60 257.05,109.40 264.10,108.50 271.15,86.30 278.20,99.00 285.25,107.10 292.30,94.60 299.35,102.70 306.40,95.80 313.45,84.70 320.50,107.10 327.55,88.60 334.60,99.20 341.65,93.20 348.70,88.60 355.75,94.40 362.80,94.40 369.85,87.70 376.90,91.60 383.95,91.60 391.00,100.20 398.05,105.90 405.10,101.50 412.15,78.90 419.20,93.50 426.25,101.50 433.30,99.20 440.35,91.60 447.40,92.70 454.45,97.00 461.50,87.60 468.55,75.00 475.60,88.60 482.65,94.60 489.70,91.50 496.75,94.60" fill="none" stroke="#4a4a4a" stroke-width="0.75"/>
<circle cx="52.60" cy="97.40" r="1.72" fill="#31a4ac" stroke="#2e2e2e" stroke-width="0.62"/>
<circle cx="59.65" cy="104.30" r="1.72" fill="#1f759d" stroke="#2e2e2e" stroke-width="0.62"/>
<circle cx="66.70" cy="107.10" r="1.72" fill="#1f5f96" stroke="#2e2e2e" stroke-width="0.62"/>
<circle cx="73.75" cy="102.50" r="1.72" fill="#1f82a2" stroke="#2e2e2e" stroke-width="0.62"/>
<circle cx="80.80" cy="94.60" r="1.72" fill="#46b6b0" stroke="#2e2e2e" stroke-width="0.62"/>
<circle cx="87.85" cy="101.10" r="1.72" fill="#1f8ba5" stroke="#2e2e2e" stroke-width="0.62"/>
<circle cx="94.90" cy="94.60" r="1.72" fill="#46b6b0" stroke="#2e2e2e" stroke-width="0.62"/>
<circle cx="101.95" cy="111.20" r="1.72" fill="#18417d" stroke="#2e2e2e" stroke-width="0.62"/>
<circle cx="109.00" cy="103.80" r="1.72" fill="#1f789f" stroke="#2e2e2e" stroke-width="0.62"/>
<circle cx="116.05" cy="112.60" r="1.72" fill="#153773" stroke="#2e2e2e" stroke-width="0.62"/>
<circle cx="123.10" cy="109.40" r="1.72" fill="#1c4e8a" stroke="#2e2e2e" stroke-width="0.62"/>
<circle cx="130.15" cy="94.60" r="1.72" fill="#46b6b0" stroke="#2e2e2e" stroke-width="0.62"/>
<circle cx="137.20" cy="105.50" r="1.72" fill="#1f6b9a" stroke="#2e2e2e" stroke-width="0.62"/>
<circle cx="144.25" cy="107.10" r="1.72" fill="#1f5f96" stroke="#2e2e2e" stroke-width="0.62"/>
<circle cx="151.30" cy="96.00" r="1.72" fill="#3cadae" stroke="#2e2e2e" stroke-width="0.62"/>
<circle cx="158.35" cy="105.50" r="1.72" fill="#1f6b9a" stroke="#2e2e2e" stroke-width="0.62"/>
<circle cx="165.40" cy="116.50" r="1.72" fill="#0c1a55" stroke="#2e2e2e" stroke-width="0.62"/>
<circle cx="172.45" cy="107.10" r="1.72" fill="#1f5f96" stroke="#2e2e2e" stroke-width="0.62"/>
<circle cx="179.50" cy="115.20" r="1.72" fill="#0f245f" stroke="#2e2e2e" stroke-width="0.62"/>
<circle cx="186.55" cy="95.80" r="1.72" fill="#3daeae" stroke="#2e2e2e" stroke-width="0.62"/>
<circle cx="193.60" cy="105.50" r="1.72" fill="#1f6b9a" stroke="#2e2e2e" stroke-width="0.62"/>
<circle cx="200.65" cy="114.00" r="1.72" fill="#122c68" stroke="#2e2e2e" stroke-width="0.62"/>
<circle cx="207.70" cy="95.80" r="1.72" fill="#3daeae" stroke="#2e2e2e" stroke-width="0.62"/>
<circle cx="214.75" cy="116.50" r="1.72" fill="#0c1a55" stroke="#2e2e2e" stroke-width="0.62"/>
<circle cx="221.80" cy="112.60" r="1.72" fill="#153773" stroke="#2e2e2e" stroke-width="0.62"/>
<circle cx="228.85" cy="102.70" r="1.72" fill="#1f81a1" stroke="#2e2e2e" stroke-width="0.62"/>
<circle cx="235.90" cy="95.80" r="1.72" fill="#3daeae" stroke="#2e2e2e" stroke-width="0.62"/>
<circle cx="242.95" cy="114.00" r="1.72" fill="#122c68" stroke="#2e2e2e" stroke-width="0.62"/>
<circle cx="250.00" cy="102.60" r="1.72" fill="#1f81a1" stroke="#2e2e2e" stroke-width="0.62"/>
<circle cx="257.05" cy="109.40" r="1.72" fill="#1c4e8a" stroke="#2e2e2e" stroke-width="0.62"/>
<circle cx="264.10" cy="108.50" r="1.72" fill="#1e5692" stroke="#2e2e2e" stroke-width="0.62"/>
<circle cx="271.15" cy="86.30" r="1.72" fill="#9bdec1" stroke="#2e2e2e" stroke-width="0.62"/>
<circle cx="278.20" cy="99.00" r="1.72" fill="#259aa9" stroke="#2e2e2e" stroke-width="0.62"/>
<circle cx="285.25" cy="107.10" r="1.72" fill="#1f5f96" stroke="#2e2e2e" stroke-width="0.62"/>
<circle cx="292.30" cy="94.60" r="1.72" fill="#46b6b0" stroke="#2e2e2e" stroke-width="0.62"/>
<circle cx="299.35" cy="102.70" r="1.72" fill="#1f81a1" stroke="#2e2e2e" stroke-width="0.62"/>
<circle cx="306.40" cy="95.80" r="1.72" fill="#3daeae" stroke="#2e2e2e" stroke-width="0.62"/>
<circle cx="313.45" cy="84.70" r="1.72" fill="#aee5c5" stroke="#2e2e2e" stroke-width="0.62"/>
<circle cx="320.50" cy="107.10" r="1.72" fill="#1f5f96" stroke="#2e2e2e" stroke-width="0.62"/>
<circle cx="327.55" cy="88.60" r="1.72" fill="#80d5bb" stroke="#2e2e2e" stroke-width="0.62"/>
<circle cx="334.60" cy="99.20" r="1.72" fill="#2499a9" stroke="#2e2e2e" stroke-width="0.62"/>
<circle cx="341.65" cy="93.20" r="1.72" fill="#50beb2" stroke="#2e2e2e" stroke-width="0.62"/>
<circle cx="348.70" cy="88.60" r="1.72" fill="#80d5bb" stroke="#2e2e2e" stroke-width="0.62"/>
<circle cx="355.75" cy="94.40" r="1.72" fill="#48b7b0" stroke="#2e2e2e" stroke-width="0.62"/>
<circle cx="362.80" cy="94.40" r="1.72" fill="#48b7b0" stroke="#2e2e2e" stroke-width="0.62"/>
<circle cx="369.85" cy="87.70" r="1.72" fill="#8ad8bd" stroke="#2e2e2e" stroke-width="0.62"/>
<circle cx="376.90" cy="91.60" r="1.72" fill="#5cc8b4" stroke="#2e2e2e" stroke-width="0.62"/>
<circle cx="383.95" cy="91.60" r="1.72" fill="#5cc8b4" stroke="#2e2e2e" stroke-width="0.62"/>
<circle cx="391.00" cy="100.20" r="1.72" fill="#1f93a7" stroke="#2e2e2e" stroke-width="0.62"/>
<circle cx="398.05" cy="105.90" r="1.72" fill="#1f6999" stroke="#2e2e2e" stroke-width="0.62"/>
<circle cx="405.10" cy="101.50" r="1.72" fill="#1f89a4" stroke="#2e2e2e" stroke-width="0.62"/>
<circle cx="412.15" cy="78.90" r="1.72" fill="#def3d8" stroke="#2e2e2e" stroke-width="0.62"/>
<circle cx="419.20" cy="93.50" r="1.72" fill="#4ebcb1" stroke="#2e2e2e" stroke-width="0.62"/>
<circle cx="426.25" cy="101.50" r="1.72" fill="#1f89a4" stroke="#2e2e2e" stroke-width="0.62"/>
<circle cx="433.30" cy="99.20" r="1.72" fill="#2499a9" stroke="#2e2e2e" stroke-width="0.62"/>
<circle cx="440.35" cy="91.60" r="1.72" fill="#5cc8b4" stroke="#2e2e2e" stroke-width="0.62"/>
<circle cx="447.40" cy="92.70" r="1.72" fill="#54c1b2" stroke="#2e2e2e" stroke-width="0.62"/>
<circle cx="454.45" cy="97.00" r="1.72" fill="#35a7ac" stroke="#2e2e2e" stroke-width="0.62"/>
<circle cx="461.50" cy="87.60" r="1.72" fill="#8cd9be" stroke="#2e2e2e" stroke-width="0.62"/>
<circle cx="468.55" cy="75.00" r="1.72" fill="#fbfbe6" stroke="#2e2e2e" stroke-width="0.62"/>
<circle cx="475.60" cy="88.60" r="1.72" fill="#80d5bb" stroke="#2e2e2e" stroke-width="0.62"/>
<circle cx="482.65" cy="94.60" r="1.72" fill="#46b6b0" stroke="#2e2e2e" stroke-width="0.62"/>
<circle cx="489.70" cy="91.50" r="1.72" fill="#5ec9b4" stroke="#2e2e2e" stroke-width="0.62"/>
<circle cx="496.75" cy="94.60" r="1.72" fill="#46b6b0" stroke="#2e2e2e" stroke-width="0.62"/>
<defs><linearGradient id="g_b" x1="0" x2="1" y1="0" y2="0"><stop offset="0.0" stop-color="#0c1a55"/><stop offset="0.1" stop-color="#153874"/><stop offset="0.2" stop-color="#1f5894"/><stop offset="0.3" stop-color="#1f769e"/><stop offset="0.4" stop-color="#1f95a8"/><stop offset="0.5" stop-color="#3eafae"/><stop offset="0.6" stop-color="#5cc8b4"/><stop offset="0.7" stop-color="#8dd9be"/><stop offset="0.8" stop-color="#bdeac8"/><stop offset="0.9" stop-color="#ddf3d7"/><stop offset="1.0" stop-color="#fbfbe6"/></linearGradient></defs>
<rect x="460" y="103.1" width="47.70" height="6.90" fill="url(#g_b)" stroke="#333" stroke-width="0.5"/>
<line x1="473" y1="110.0" x2="473" y2="111.2" stroke="#333" stroke-width="0.5"/>
<text x="473.00" y="115.50" font-size="4.9" font-weight="bold" text-anchor="middle" fill="#222" >-27</text>
<line x1="489" y1="110.0" x2="489" y2="111.2" stroke="#333" stroke-width="0.5"/>
<text x="489.00" y="115.50" font-size="4.9" font-weight="bold" text-anchor="middle" fill="#222" >-26</text>
<line x1="504.3" y1="110.0" x2="504.3" y2="111.2" stroke="#333" stroke-width="0.5"/>
<text x="504.30" y="115.50" font-size="4.9" font-weight="bold" text-anchor="middle" fill="#222" >-25</text>
<text x="444.50" y="108.70" font-size="4.85" font-weight="bold" text-anchor="middle" fill="#222" >Temperature</text>
<text x="444.50" y="114.40" font-size="4.85" font-weight="bold" text-anchor="middle" fill="#222" >(°C)</text>
<text x="274.15" y="134.60" font-size="5.75" font-weight="bold" text-anchor="middle" fill="#111" >Seasonal maximum cold damage potential</text>
<text x="2.6" y="136.2" font-size="12.5" font-weight="bold" fill="#000">c</text>
<line x1="30.5" y1="136.0" x2="517.8" y2="136.0" stroke="#cfcfcf" stroke-width="0.9"/>
<line x1="517.8" y1="136.0" x2="517.8" y2="181.6" stroke="#cfcfcf" stroke-width="0.9"/>
<line x1="30.5" y1="136.0" x2="30.5" y2="181.6" stroke="#7a7a7a" stroke-width="0.9"/>
<line x1="30.5" y1="181.6" x2="517.8" y2="181.6" stroke="#7a7a7a" stroke-width="1.1"/>
<line x1="28.5" y1="148.2" x2="30.5" y2="148.2" stroke="#555" stroke-width="0.6"/>
<text x="28.20" y="150.00" font-size="5.1" font-weight="bold" text-anchor="end" fill="#222" >40</text>
<line x1="28.5" y1="160.3" x2="30.5" y2="160.3" stroke="#555" stroke-width="0.6"/>
<text x="28.20" y="162.10" font-size="5.1" font-weight="bold" text-anchor="end" fill="#222" >30</text>
<line x1="28.5" y1="172.3" x2="30.5" y2="172.3" stroke="#555" stroke-width="0.6"/>
<text x="28.20" y="174.10" font-size="5.1" font-weight="bold" text-anchor="end" fill="#222" >20</text>
<line x1="52.60" y1="181.6" x2="52.60" y2="183.1" stroke="#555" stroke-width="0.6"/>
<text x="52.60" y="187.70" font-size="4.9" font-weight="bold" text-anchor="middle" fill="#222" >1960-1961</text>
<line x1="193.60" y1="181.6" x2="193.60" y2="183.1" stroke="#555" stroke-width="0.6"/>
<text x="193.60" y="187.70" font-size="4.9" font-weight="bold" text-anchor="middle" fill="#222" >1980-1981</text>
<line x1="334.60" y1="181.6" x2="334.60" y2="183.1" stroke="#555" stroke-width="0.6"/>
<text x="334.60" y="187.70" font-size="4.9" font-weight="bold" text-anchor="middle" fill="#222" >2000-2001</text>
<line x1="475.60" y1="181.6" x2="475.60" y2="183.1" stroke="#555" stroke-width="0.6"/>
<text x="475.60" y="187.70" font-size="4.9" font-weight="bold" text-anchor="middle" fill="#222" >2020-2021</text>
<text x="0" y="0" transform="translate(15.3,158.8) rotate(-90)" font-size="4.8" font-weight="bold" text-anchor="middle" fill="#222">Cold damage potential</text>
<line x1="31.0" y1="158.9" x2="515.8" y2="158.9" stroke="#ee7058" stroke-width="1.9" stroke-dasharray="3.9 2.9" stroke-dashoffset="-0.5"/>
<line x1="193.60" y1="136.5" x2="193.60" y2="181.1" stroke="#111" stroke-width="1.25" stroke-dasharray="1.4 2.06"/>
<line x1="334.60" y1="136.5" x2="334.60" y2="181.1" stroke="#111" stroke-width="1.25" stroke-dasharray="1.4 2.06"/>
<polyline points="52.60,166.30 59.65,144.90 66.70,140.30 73.75,162.70 80.80,149.50 87.85,154.30 94.90,151.80 101.95,156.60 109.00,158.20 116.05,158.20 123.10,153.20 130.15,145.50 137.20,149.70 144.25,152.50 151.30,157.50 158.35,155.20 165.40,152.50 172.45,157.10 179.50,142.50 186.55,157.80 193.60,152.00 200.65,137.90 207.70,174.80 214.75,138.60 221.80,139.10 228.85,152.50 235.90,162.40 242.95,156.60 250.00,143.70 257.05,147.20 264.10,145.10 271.15,164.70 278.20,153.20 285.25,147.20 292.30,167.50 299.35,146.00 306.40,156.60 313.45,167.50 320.50,162.20 327.55,177.20 334.60,168.20 341.65,170.90 348.70,162.20 355.75,162.20 362.80,166.60 369.85,166.60 376.90,165.20 383.95,168.60 391.00,158.70 398.05,170.90 405.10,156.40 412.15,179.70 419.20,176.00 426.25,155.90 433.30,164.70 440.35,179.70 447.40,168.60 454.45,168.70 461.50,164.60 468.55,170.90 475.60,161.20 482.65,164.70 489.70,159.60 496.75,170.70" fill="none" stroke="#4a4a4a" stroke-width="0.75"/>
<circle cx="52.60" cy="166.30" r="1.72" fill="#f78e84" stroke="#2e2e2e" stroke-width="0.62"/>
<circle cx="59.65" cy="144.90" r="1.72" fill="#8e0a30" stroke="#2e2e2e" stroke-width="0.62"/>
<circle cx="66.70" cy="140.30" r="1.72" fill="#68032c" stroke="#2e2e2e" stroke-width="0.62"/>
<circle cx="73.75" cy="162.70" r="1.72" fill="#f46a64" stroke="#2e2e2e" stroke-width="0.62"/>
<circle cx="80.80" cy="149.50" r="1.72" fill="#b81535" stroke="#2e2e2e" stroke-width="0.62"/>
<circle cx="87.85" cy="154.30" r="1.72" fill="#d9283c" stroke="#2e2e2e" stroke-width="0.62"/>
<circle cx="94.90" cy="151.80" r="1.72" fill="#cc1a38" stroke="#2e2e2e" stroke-width="0.62"/>
<circle cx="101.95" cy="156.60" r="1.72" fill="#e5353f" stroke="#2e2e2e" stroke-width="0.62"/>
<circle cx="109.00" cy="158.20" r="1.72" fill="#ed3f41" stroke="#2e2e2e" stroke-width="0.62"/>
<circle cx="116.05" cy="158.20" r="1.72" fill="#ed3f41" stroke="#2e2e2e" stroke-width="0.62"/>
<circle cx="123.10" cy="153.20" r="1.72" fill="#d3223a" stroke="#2e2e2e" stroke-width="0.62"/>
<circle cx="130.15" cy="145.50" r="1.72" fill="#940b31" stroke="#2e2e2e" stroke-width="0.62"/>
<circle cx="137.20" cy="149.70" r="1.72" fill="#b91536" stroke="#2e2e2e" stroke-width="0.62"/>
<circle cx="144.25" cy="152.50" r="1.72" fill="#cf1e39" stroke="#2e2e2e" stroke-width="0.62"/>
<circle cx="151.30" cy="157.50" r="1.72" fill="#ea3b40" stroke="#2e2e2e" stroke-width="0.62"/>
<circle cx="158.35" cy="155.20" r="1.72" fill="#dd2d3d" stroke="#2e2e2e" stroke-width="0.62"/>
<circle cx="165.40" cy="152.50" r="1.72" fill="#cf1e39" stroke="#2e2e2e" stroke-width="0.62"/>
<circle cx="172.45" cy="157.10" r="1.72" fill="#e73840" stroke="#2e2e2e" stroke-width="0.62"/>
<circle cx="179.50" cy="142.50" r="1.72" fill="#7b072e" stroke="#2e2e2e" stroke-width="0.62"/>
<circle cx="186.55" cy="157.80" r="1.72" fill="#ea3c40" stroke="#2e2e2e" stroke-width="0.62"/>
<circle cx="193.60" cy="152.00" r="1.72" fill="#cd1b38" stroke="#2e2e2e" stroke-width="0.62"/>
<circle cx="200.65" cy="137.90" r="1.72" fill="#55002a" stroke="#2e2e2e" stroke-width="0.62"/>
<circle cx="207.70" cy="174.80" r="1.72" fill="#fdd2ca" stroke="#2e2e2e" stroke-width="0.62"/>
<circle cx="214.75" cy="138.60" r="1.72" fill="#5a012b" stroke="#2e2e2e" stroke-width="0.62"/>
<circle cx="221.80" cy="139.10" r="1.72" fill="#5f022b" stroke="#2e2e2e" stroke-width="0.62"/>
<circle cx="228.85" cy="152.50" r="1.72" fill="#cf1e39" stroke="#2e2e2e" stroke-width="0.62"/>
<circle cx="235.90" cy="162.40" r="1.72" fill="#f46863" stroke="#2e2e2e" stroke-width="0.62"/>
<circle cx="242.95" cy="156.60" r="1.72" fill="#e5353f" stroke="#2e2e2e" stroke-width="0.62"/>
<circle cx="250.00" cy="143.70" r="1.72" fill="#85082f" stroke="#2e2e2e" stroke-width="0.62"/>
<circle cx="257.05" cy="147.20" r="1.72" fill="#a20f33" stroke="#2e2e2e" stroke-width="0.62"/>
<circle cx="264.10" cy="145.10" r="1.72" fill="#910b30" stroke="#2e2e2e" stroke-width="0.62"/>
<circle cx="271.15" cy="164.70" r="1.72" fill="#f68077" stroke="#2e2e2e" stroke-width="0.62"/>
<circle cx="278.20" cy="153.20" r="1.72" fill="#d3223a" stroke="#2e2e2e" stroke-width="0.62"/>
<circle cx="285.25" cy="147.20" r="1.72" fill="#a20f33" stroke="#2e2e2e" stroke-width="0.62"/>
<circle cx="292.30" cy="167.50" r="1.72" fill="#f8998f" stroke="#2e2e2e" stroke-width="0.62"/>
<circle cx="299.35" cy="146.00" r="1.72" fill="#980c31" stroke="#2e2e2e" stroke-width="0.62"/>
<circle cx="306.40" cy="156.60" r="1.72" fill="#e5353f" stroke="#2e2e2e" stroke-width="0.62"/>
<circle cx="313.45" cy="167.50" r="1.72" fill="#f8998f" stroke="#2e2e2e" stroke-width="0.62"/>
<circle cx="320.50" cy="162.20" r="1.72" fill="#f36560" stroke="#2e2e2e" stroke-width="0.62"/>
<circle cx="327.55" cy="177.20" r="1.72" fill="#fee2dd" stroke="#2e2e2e" stroke-width="0.62"/>
<circle cx="334.60" cy="168.20" r="1.72" fill="#f99f95" stroke="#2e2e2e" stroke-width="0.62"/>
<circle cx="341.65" cy="170.90" r="1.72" fill="#fbb6ac" stroke="#2e2e2e" stroke-width="0.62"/>
<circle cx="348.70" cy="162.20" r="1.72" fill="#f36560" stroke="#2e2e2e" stroke-width="0.62"/>
<circle cx="355.75" cy="162.20" r="1.72" fill="#f36560" stroke="#2e2e2e" stroke-width="0.62"/>
<circle cx="362.80" cy="166.60" r="1.72" fill="#f89187" stroke="#2e2e2e" stroke-width="0.62"/>
<circle cx="369.85" cy="166.60" r="1.72" fill="#f89187" stroke="#2e2e2e" stroke-width="0.62"/>
<circle cx="376.90" cy="165.20" r="1.72" fill="#f7857c" stroke="#2e2e2e" stroke-width="0.62"/>
<circle cx="383.95" cy="168.60" r="1.72" fill="#f9a399" stroke="#2e2e2e" stroke-width="0.62"/>
<circle cx="391.00" cy="158.70" r="1.72" fill="#f04242" stroke="#2e2e2e" stroke-width="0.62"/>
<circle cx="398.05" cy="170.90" r="1.72" fill="#fbb6ac" stroke="#2e2e2e" stroke-width="0.62"/>
<circle cx="405.10" cy="156.40" r="1.72" fill="#e4343f" stroke="#2e2e2e" stroke-width="0.62"/>
<circle cx="412.15" cy="179.70" r="1.72" fill="#fff2ef" stroke="#2e2e2e" stroke-width="0.62"/>
<circle cx="419.20" cy="176.00" r="1.72" fill="#fddbd4" stroke="#2e2e2e" stroke-width="0.62"/>
<circle cx="426.25" cy="155.90" r="1.72" fill="#e1323e" stroke="#2e2e2e" stroke-width="0.62"/>
<circle cx="433.30" cy="164.70" r="1.72" fill="#f68077" stroke="#2e2e2e" stroke-width="0.62"/>
<circle cx="440.35" cy="179.70" r="1.72" fill="#fff2ef" stroke="#2e2e2e" stroke-width="0.62"/>
<circle cx="447.40" cy="168.60" r="1.72" fill="#f9a399" stroke="#2e2e2e" stroke-width="0.62"/>
<circle cx="454.45" cy="168.70" r="1.72" fill="#f9a399" stroke="#2e2e2e" stroke-width="0.62"/>
<circle cx="461.50" cy="164.60" r="1.72" fill="#f67e76" stroke="#2e2e2e" stroke-width="0.62"/>
<circle cx="468.55" cy="170.90" r="1.72" fill="#fbb6ac" stroke="#2e2e2e" stroke-width="0.62"/>
<circle cx="475.60" cy="161.20" r="1.72" fill="#f25b57" stroke="#2e2e2e" stroke-width="0.62"/>
<circle cx="482.65" cy="164.70" r="1.72" fill="#f68077" stroke="#2e2e2e" stroke-width="0.62"/>
<circle cx="489.70" cy="159.60" r="1.72" fill="#f14a49" stroke="#2e2e2e" stroke-width="0.62"/>
<circle cx="496.75" cy="170.70" r="1.72" fill="#fbb4aa" stroke="#2e2e2e" stroke-width="0.62"/>
<defs><linearGradient id="g_c" x1="0" x2="1" y1="0" y2="0"><stop offset="0.0" stop-color="#fff2ef"/><stop offset="0.1" stop-color="#fdd8d0"/><stop offset="0.2" stop-color="#fbb9af"/><stop offset="0.3" stop-color="#f8968c"/><stop offset="0.4" stop-color="#f46d67"/><stop offset="0.5" stop-color="#f04242"/><stop offset="0.6" stop-color="#da2a3c"/><stop offset="0.7" stop-color="#bf1736"/><stop offset="0.8" stop-color="#9b0d32"/><stop offset="0.9" stop-color="#77062e"/><stop offset="1.0" stop-color="#55002a"/></linearGradient></defs>
<rect x="453.5" y="138.5" width="56.50" height="6.80" fill="url(#g_c)" stroke="#333" stroke-width="0.5"/>
<line x1="453.5" y1="145.3" x2="453.5" y2="146.5" stroke="#333" stroke-width="0.5"/>
<text x="453.50" y="150.60" font-size="4.9" font-weight="bold" text-anchor="middle" fill="#222" >0</text>
<line x1="464.6" y1="145.3" x2="464.6" y2="146.5" stroke="#333" stroke-width="0.5"/>
<text x="464.60" y="150.60" font-size="4.9" font-weight="bold" text-anchor="middle" fill="#222" >10</text>
<line x1="476" y1="145.3" x2="476" y2="146.5" stroke="#333" stroke-width="0.5"/>
<text x="476.00" y="150.60" font-size="4.9" font-weight="bold" text-anchor="middle" fill="#222" >20</text>
<line x1="487" y1="145.3" x2="487" y2="146.5" stroke="#333" stroke-width="0.5"/>
<text x="487.00" y="150.60" font-size="4.9" font-weight="bold" text-anchor="middle" fill="#222" >30</text>
<line x1="498" y1="145.3" x2="498" y2="146.5" stroke="#333" stroke-width="0.5"/>
<text x="498.00" y="150.60" font-size="4.9" font-weight="bold" text-anchor="middle" fill="#222" >40</text>
<line x1="509" y1="145.3" x2="509" y2="146.5" stroke="#333" stroke-width="0.5"/>
<text x="509.00" y="150.60" font-size="4.9" font-weight="bold" text-anchor="middle" fill="#222" >50</text>
<text x="440.00" y="144.30" font-size="4.85" font-weight="bold" text-anchor="middle" fill="#222" >Damage</text>
<text x="440.00" y="149.60" font-size="4.85" font-weight="bold" text-anchor="middle" fill="#222" >potential</text>
<svg x="12.9" y="201.0" width="167.0" height="93.0" viewBox="0 0 167.0 93.0" overflow="hidden">
<use href="#base"/>
<g clip-path="url(#dataclip)">
<rect x="0" y="0" width="167.0" height="93.0" fill="#30123b"/>
<g transform="scale(0.5) translate(0.5,0.5)" stroke-width="0.8" stroke-linejoin="round"><path d="M116,185h1v1h-1ZM91,185h1v1h-1ZM130,185l4,0 0,-1-3,0ZM84,183l-1,0-1,2 2,0ZM142,176l-2,0-1,1 2,1ZM73,176l1,1 1,-1ZM116,168l-1,2 1,1 2,0 1,-2-1,-1ZM153,167l1,1 2,-1-1,-1ZM77,168l3,0 2,1 2,3 2,0 2,2-1,6 2,-1 0,-2 4,-4 2,0 3,2 4,0 2,-1 2,2 0,3 3,3 0,-3 2,-2 1,0 0,-1-3,0-3,-3-2,1-2,-2 0,-3-3,-2-2,0-3,4-2,0-1,-1-6,1-3,-2 0,-2-1,-1-2,0ZM174,165h1v1h-1ZM135,164l0,2 1,1 1,-2ZM92,164l0,1 1,0ZM125,162l-1,8 1,1 3,0 2,-4 0,-3-2,-2ZM111,160l1,-1 1,1-1,1ZM100,159h1v1h-1ZM174,157l-2,0 0,2 1,1 1,-1ZM95,156l-1,0 0,2ZM87,160l-2,-2 0,-1-2,-1-2,2-2,0-1,-1-5,5-4,0 0,4 2,3 1,-1 0,-2 2,-2 4,0 4,-3 4,1ZM136,152l2,1 0,6 6,5 1,2 0,3 4,-1 0,-1-2,-2 0,-5 2,-2 0,-2 1,-1-2,0-2,2 0,2-1,1-3,0-3,-3 0,-2 2,-2-3,0ZM103,153l2,-2 4,2 5,-1 1,1 0,2-2,2-3,-2-3,0-2,1-2,-2ZM56,151l-1,0 0,1ZM168,149l0,1 1,0ZM79,149l-3,0-1,1 2,5 3,-3 0,-2ZM89,148l-1,0-1,2 2,0ZM70,148l-1,0 0,1-5,5 0,3 2,0 6,-6ZM114,143l1,-2 2,1-2,2ZM51,142h1v1h-1ZM36,141l1,1 0,3 2,0 0,-3-1,-1ZM159,140l-1,0 1,1 0,2-3,3 2,0 1,-2 2,-1ZM279,140l-1,-1-1,1ZM184,140l-1,-1-1,2ZM54,137l0,1 2,0 1,-1 2,2 1,0-1,-2ZM106,133l1,0 2,2 0,1-2,2-1,0-2,-2 0,-1ZM75,133l-2,0 1,6-4,2 2,4 2,0 0,-4-1,-1 2,-2ZM256,133l0,2 1,1 3,-1 0,-2-1,-1-2,0ZM290,131l-2,1 0,2 2,0ZM240,132l-2,-1-3,2-3,0-1,2-3,2 1,1 1,-1 6,0 3,4 1,-2-4,-3 2,-2 1,0ZM66,131l0,2 2,1 0,-2ZM33,131l-1,0-3,4-2,0-1,1 2,2 1,0 4,-4 1,0 0,-2ZM245,130h1v1h-1ZM260,126l1,2 0,-2ZM196,125l1,-1 1,1-1,1ZM286,125l-1,-1-1,2 2,0ZM278,124l-3,1 0,1 3,0ZM327,121l2,-1-2,0ZM41,120l-4,-1-1,1 1,4-2,2-2,0-1,-1-2,2 9,-1 2,-3ZM85,117l2,2 0,1-2,2-3,0-1,-2 3,-3ZM56,118l-1,0-3,3 0,2 4,-2ZM201,119l0,-2 1,-1 2,0 2,2-2,3-1,0ZM225,121l0,-4 2,-2 3,0 5,3-1,2-3,0-3,3-1,0ZM44,114l-1,0 0,1ZM178,111l2,2 0,1-1,1-3,0-1,-1ZM68,111l1,-1 1,1-1,1ZM290,110l-2,0-1,2 1,3 1,0 2,-2 0,-2ZM262,110h1v1h-1ZM190,110l2,-2 3,1 1,2-1,1-4,0ZM89,112l2,-2 3,0 2,-2 1,1 1,8 4,4-1,1-4,0-2,-4-3,0-3,-3ZM49,108h1v1h-1ZM44,108h1v1h-1ZM295,106l0,2 2,0 0,-2ZM239,108l0,-2 1,-1 2,0 1,1 0,1-2,2ZM27,103l-1,2 4,3 0,3 3,3 3,0 1,-1-1,-2-1,0-2,-2-1,-4-1,-1-3,0ZM94,96l3,2 0,2-4,4 0,1-2,1 0,3-1,1-3,-3 0,-1 2,-2-1,-6 2,-2ZM67,101l4,-2 2,-4 3,0 1,1 2,0 2,2 0,5 2,2 0,1-1,1-2,-2-4,0-4,-3-1,1-2,0ZM45,96l-1,3 3,0-1,-3ZM82,89l1,-1 3,0 1,1 0,2-2,1ZM79,87l2,2-2,2 0,1-3,3-3,0-2,-2 0,-2 2,-2 4,-2ZM30,87h1v1h-1ZM39,84l0,2 2,-1 0,-1ZM293,84l0,-2 1,-1 2,0 2,2-2,2-2,0ZM308,76l1,-1 1,1-1,1ZM31,76l0,1 2,2 6,0 1,-1-2,-2 0,-2-4,0ZM323,73l-2,-1-1,1 0,2 2,0ZM25,71l0,2 1,1 2,0 0,-2-1,-1ZM20,71l-1,2 1,0ZM65,69l1,0 4,3 0,3-2,2-4,0-1,-1 0,-3ZM26,63l-2,0-2,2-1,0 0,2 4,-2ZM64,57l3,3 0,2 1,1 0,1-3,3-4,-5 1,-3ZM58,58l3,-2 2,1-1,2-3,0ZM79,56l2,-1 1,2-2,1ZM20,54h1v1h-1ZM46,53l1,-1 2,1-1,1ZM68,51l0,-2 1,-1 2,2-2,2ZM0,49l0,5 4,-1 0,-1-1,0ZM62,44l2,2 0,3-1,1-1,0-2,-2 0,-2ZM41,47l3,-3 3,2 3,0 1,1 0,2-2,2-1,0-2,-2-3,0ZM30,36l0,4 1,1 3,-1-1,-3-1,-1ZM0,33h1v1h-1ZM12,27l-1,1 0,4-5,6-1,4-3,3-2,0 0,2 1,-1 4,0 0,-3 1,-1 2,0 3,-4 2,1 2,2 1,3 3,1 1,1 0,2 2,1 2,-2-4,-5-1,-4-3,-2 0,-3-3,-4 1,-2ZM6,17l0,2 2,0ZM13,0l3,9-4,4 0,2 1,1 0,2-1,1 5,2 0,-3 1,-1 1,0 1,2 2,-1 2,1 4,4-2,2-2,0 0,1 4,0 2,-1 5,5-2,1 5,4-2,4 2,2 1,0 2,3 0,3-5,4 0,2 1,1 2,0 0,-1 2,-1 1,1 4,0 1,1-1,4-1,1-3,0-1,-2-2,-1 3,3 0,3 1,1 4,0 1,-1 2,2 0,5 2,4-2,2-2,-3-2,0 1,2 2,1 0,3 1,-1-1,-1 1,-1 4,0 1,-1 4,0 2,2-4,3-4,0-1,1-2,0 0,2 4,4 6,-1 2,2 0,2-1,1-6,0-1,1-2,0-1,2 0,4 1,1-1,3 2,2 2,0 1,-1 1,1-1,3 2,-1 2,2-1,1 1,1 0,7 6,3-1,2-2,0-3,3-1,0 0,3 3,2 1,-1-1,-2 5,-5 4,3 10,0 3,3 1,-1 1,1 6,0 1,1 2,0 3,3 0,3 1,1-1,2 0,3-1,1-2,0-5,-5 0,-3-2,-2-3,0-1,1 0,5-1,2 2,2 4,-1 2,2 1,4 3,3 0,4 2,2 2,1 3,0 1,-1 2,2 0,3 1,1-1,2 4,3 0,2 1,1 2,0 1,-2 0,-3 2,-2 0,-2-2,-1 2,-2 4,0 1,1 3,0 1,1 1,0 2,-2 2,2 1,0-2,-4 0,-3 1,-2 2,-2 3,0 1,-1 2,0 1,1 1,-2 11,-11-1,-3 2,-4 4,2 1,-1 3,0 2,-2 2,1 4,0 2,-3 0,-2-1,-1 2,-2 3,0 1,1 1,4 3,0 0,-1 3,-3 2,-1 4,0 1,1 2,0 0,-1 2,-2 1,1 0,4 1,2-1,1-3,0-2,2-5,0-1,1 1,4 2,0 2,-2 2,1 10,0 1,1 7,0 0,-2-1,0-3,-3 1,-1 6,1 1,-1 2,0 4,-3 6,0 1,1 0,2 2,2 4,1 0,-1 3,-3 4,0 3,-2 2,0 1,1 5,0 2,-2 1,-4 3,-3 2,0 1,-1 3,3 2,0 1,-1-1,-2-2,0-2,-2 1,-1-4,1-4,-6 1,-1 6,0 1,1 6,1 4,-3 0,-3 4,-4 3,-1 3,2 2,0 3,-3 2,0 1,1 2,0 1,-1 8,0 3,4 3,1 2,-2 0,-1-2,-2 2,-2 1,0 1,-2 1,0 3,3 2,0 1,-1 1,-4 2,-2 1,0 0,-2-1,-1 0,-2 1,-1 2,0 4,2 0,5-2,2 0,3 4,3 6,0 0,-7-3,-3 0,-1 3,-3 0,-8-5,4-5,0-1,-1-8,6-4,2-2,0-1,1-8,-4 0,-1 5,-5 3,-1 1,1-2,4 0,3 3,0 1,-1 0,-5 2,-2 0,-1 5,-4 2,0 4,-2 2,0 1,1 3,0 2,-1 2,1-1,-2 0,-4 1,-1 0,-63ZM5,1l4,2 2,-3-6,0Z" fill="#4559cb" stroke="#4559cb" fill-rule="evenodd"/><path d="M90,171l-1,1 0,2 2,0 0,-2ZM97,169l-1,3 3,0 2,1-1,-1 0,-3ZM129,164l-2,0 0,1-2,2 0,2 2,0 1,-1ZM108,161l-1,2 1,0 3,3 1,-1 0,-2-2,0-1,-2ZM106,157l1,2 4,-1 0,-1-2,-1-2,0ZM112,140l2,-1 5,4-4,2ZM105,132l3,1 2,3-3,3-4,-3 0,-2ZM86,132l-1,4 3,3 1,0 1,-1 0,-2-2,-2 0,-1ZM184,129l0,1 2,1 0,-2ZM111,131l0,-2 1,-1 1,0 2,2-2,2ZM192,130l1,1 3,0 1,-1 4,0 0,-1-2,-1-6,0ZM102,128l2,-3 1,0 2,2 0,1-2,2-1,0ZM60,126h1v1h-1ZM228,126l-1,-1-1,1ZM241,122l-1,-1-4,2-5,-1 0,2 2,1 1,-1 3,0ZM147,119l1,1 0,4-3,2-3,0-2,-2 1,-2ZM163,116l2,2 0,1-5,4-2,-2 0,-2 3,-3ZM105,111l1,-1 1,1-1,1ZM222,110l1,-1 2,0 1,1 0,2-1,1-2,0-1,-1ZM188,109l2,-2 2,1 5,0 1,1 0,2-2,2-3,1-2,-1-3,-3ZM92,107l-1,1 2,1 1,-1ZM240,103l2,0 3,4-3,4-2,0-4,-5ZM218,101l1,1 0,2-2,2-1,0-1,-1 1,-1 0,-2ZM89,96l7,0 3,3 0,1-4,3 0,2 1,0 2,2 0,8 3,4 2,0 2,-2 1,0 1,1 0,2-1,1-4,1-1,1-4,0-3,-4-2,0-3,-3-1,-2 0,-2 1,-1-4,-4 3,-3 0,-4-1,-2ZM216,93l1,0 3,4 0,2-1,1-1,0-3,-4 0,-2ZM289,89l2,-1 1,2-2,1ZM309,80l-2,1 0,2 2,-1ZM333,77l-7,4-4,0 0,1 3,1 2,2 0,3-1,1-1,5 1,0 2,2 5,0 0,-2-2,-1-1,-4-1,-1 1,-4 2,-2 1,0ZM34,77h1v1h-1ZM297,76l1,-1 2,1-1,1ZM325,65l1,-1 2,2 0,1-2,1-1,-1ZM77,61l2,1 0,2-1,1-2,0-1,-1 0,-1ZM44,62l2,0 2,-2-4,0ZM79,53l2,0 2,4 0,1-2,2-1,0-3,-4 0,-1ZM58,51l1,-1 1,1-1,1ZM42,51l1,1 3,0 0,-2-3,0ZM68,46l1,0 3,3-2,4-1,0-2,-2 0,-4ZM73,45l2,-2 4,3-1,1-3,0ZM60,40l4,0 1,1 0,5 1,1 0,2-1,1-4,0-1,1-1,-1 0,-9ZM8,39h1v1h-1ZM31,37l0,3 1,0 0,-2ZM13,33l-2,2 0,2 4,1 1,1 1,4 1,0 1,-1-1,-2-4,-3-1,-2 1,-2ZM14,0l0,4 2,3 0,3-2,2-1,0 1,7 2,0 0,-2 1,-1 2,0 2,2 4,1 1,2 9,9 0,1 3,2 0,5 1,1 3,-1 5,7 3,0 3,3-3,3 0,7 2,2 0,11 2,2 8,0 1,-1 0,-5-2,-3 0,-4-2,0-2,-2 0,-1 2,-2 4,1 4,3 0,2 2,3-1,2 0,4 1,0 2,2-1,4-2,2-4,0-1,1-4,-1 0,2-1,1-4,0-1,2 1,1 2,0 2,-2 6,6 0,3 2,1 2,-3 2,-1 3,0 2,-2-3,0-1,-1 0,-2 2,-2 1,0 6,5 4,0 1,1 2,0 2,2-1,3-2,2-1,0-2,-2-3,0-1,3 2,1 0,7 3,3-1,2-3,-3-2,0-1,1-3,-2-3,0-2,1-3,-4 0,-2 4,-2 0,-2-1,-1-3,2-2,0-2,-2 0,-2-2,-1-5,0-2,2 0,3 4,3 0,2 2,4 2,2 0,2 1,1 0,4 1,1 2,0 3,-6 2,-1 2,2-1,4-1,1 1,1 0,5 3,2 4,0 4,-4 1,-2 3,0 2,2 0,4-1,2 3,0 3,2 2,0 3,3 1,2 0,8 3,2 0,2-2,1-2,-1-1,-2-2,0-1,-1-1,0 0,3 2,2 0,2 2,2 0,2 2,2 3,0 0,-2 2,-2 1,0 4,3 2,0 2,-2 2,0 1,1 0,2 2,2 2,1 5,0 1,-1 0,-3 2,-4 3,-3 4,0 3,-3 1,1 2,-1 2,-4 4,-3 1,-2-1,-1 1,-1-1,-1 0,-2 3,-3 4,2 6,-3 2,0 1,1 4,0 0,-4-1,-2 3,-2 4,0 2,1 2,4 1,-1 0,-1-2,-2 1,-2-1,0-5,-5 1,-1 5,0 1,-1 3,2 0,4 3,2 5,0 2,-2 2,0 2,2 0,4 2,1 3,0 1,-1-2,-4 0,-2 2,-2 4,0 2,2 0,2 3,3 0,4 4,-1 1,-1 6,0 2,-1 1,-6 3,-3 1,1 6,1 2,2 6,-1 2,2 0,5 3,0 2,-2 3,-6 2,-1-2,-2 0,-1-3,-2-1,-2 0,-2 1,-1 3,0 1,1 6,0 1,-1 4,3 1,-1 2,0 1,-1 0,-3 4,-4 4,-2 4,1 3,-2 7,0 1,-1 5,0 1,1 3,0 1,1 0,3 4,0 0,-1-1,-1-2,0-1,-2 2,-2 2,0 3,-2 4,0 0,-2-5,0-2,-2-1,1-2,-2-2,1-1,-1 0,-2-6,3-1,-1 0,-6 2,-1 4,2 2,-2 12,-5 4,-4 5,0 3,-3 2,2 2,0 3,-2 0,-3-2,-1 1,-1 3,0 0,-62ZM6,0l1,1 2,0 1,-1Z" fill="#3e9bfe" stroke="#3e9bfe" fill-rule="evenodd"/><path d="M109,158h1v1h-1ZM86,135l2,2 1,0-1,-2ZM246,117l0,2 1,1 1,-2ZM196,114l0,7 2,1 1,-2ZM246,112l0,2 4,0 0,-1ZM212,111l3,4-2,2-1,0-2,-2 0,-2ZM102,109l1,-1 4,1 1,1 0,4-1,1-4,-4ZM92,108h1v1h-1ZM303,98h1v1h-1ZM227,98l1,-1 2,0 1,1 0,2-1,1-2,-1ZM55,92l0,3 2,0 1,1 0,5 4,7 1,5 1,-1 2,0 0,-2 4,-3 2,2 0,7 1,1-1,3 2,2 4,0 6,-6 1,0 3,2 1,2 0,3 1,1 2,0 1,2 2,0 4,4 0,1 2,1 0,-3 2,-3 0,-2-1,-1-1,1-4,0-1,1-2,-2 0,-3-1,-1-2,0-2,-2-1,-2 0,-4-3,-3-2,0-3,-3-2,0-1,1-2,0-1,-1-5,1-2,-2-3,-6-3,-3 0,-2-1,-1ZM217,91l3,3 1,4 1,1-2,2 0,2 1,1-1,2-4,3-3,0-1,-1-4,1-1,-1-2,0-1,-1 1,-2 8,0 1,-2 0,-3-1,-1 1,-8 1,-1ZM328,89l-1,2 1,1 0,2 2,1 0,-2ZM66,89h1v1h-1ZM293,90l0,2 2,1 5,0 1,-1 4,0 1,-1 0,-2-1,-1-3,0-2,1-2,-3-3,1ZM333,79l-1,1-2,0-2,2 0,1 2,0 3,-3ZM82,52l2,2-1,1 1,3-3,3 0,3-2,2-2,0 0,1 1,0 2,2 0,3-1,1-6,-7 0,-3 3,-3 1,0 0,-2-2,-2-2,1-1,-2 6,-3ZM67,45h1v1h-1ZM49,41l2,-1 1,2-2,1ZM40,32l1,-1 1,1-1,1ZM14,0l1,1 0,3 1,1-1,1 2,3-3,3 0,3 1,1 2,-1 3,0 2,3 1,-1 16,17 0,3 3,0 5,5 1,2 3,1 3,3 0,1-4,3 1,6 2,2 0,11 1,1 8,0 0,-2-1,-1 0,-4-1,-1 0,-3-4,-3 1,-2 0,-3-1,-1 3,-3-1,-4-1,-1 1,-4 1,-1 5,-1 3,3 3,0 2,2 5,0 3,2 0,1-2,2-6,-1 0,5-2,2-3,-1-3,-3-3,0-2,2 0,3 2,1 4,0 3,3 0,3 2,2-1,2 0,4 1,0 2,2-1,4-3,3-1,-1-3,2-2,0-1,1 0,2 4,4 2,0 5,-7 3,0 2,1 4,-3 1,1 0,6 2,0 2,2 2,0 2,2 0,2-3,5-3,0-2,-2 1,1-2,4 1,4 2,2 2,0 1,-1 0,-4-1,-1 0,-2 2,-2 6,0 1,1 2,0 3,3 0,3 3,5 0,1-1,1-2,0-1,2 0,5 2,2 2,0 3,-4 2,3 0,3-2,2 0,3 2,2 0,1-2,2 0,2 4,1 0,-5 2,-3 1,0 4,5 0,1-2,2-1,0-1,2-2,1 0,1 2,0 1,-1 3,3 0,1 1,1 2,0 3,3 0,1-1,1-3,0-1,-1-2,0-1,1-6,-7-3,0-2,-2-4,-1-1,3 4,2 0,3-1,1-3,0-1,-1-4,-1 1,1 0,3 4,5 0,1 1,0 0,-2 1,-1 4,0 4,3 2,0 3,-3 2,0 1,1 0,2 2,1 1,2 1,0 1,-1 2,0 5,-10 3,0 2,-2 6,-1 2,-2-2,-4 1,-1 5,0 0,-4-1,-2-3,0-2,-1-3,-3 0,-1 8,-6 0,-2-1,-1 1,-2 2,0 2,2 0,4 1,1-1,1 0,3 4,0 2,2 2,-1 0,-3-1,-2 4,-5-3,-3 1,-1 4,-1 2,3 2,0 4,4 4,0-1,-2-1,0-2,-2 0,-2 1,-1 5,0 1,-1 2,0 4,4 0,3 4,2 3,-2 0,-3-1,0-2,-2 0,-3 2,-2 2,0 1,1 6,0 2,2 0,3 2,1 6,0 2,2-1,2 2,2 1,3 3,0 1,-1 4,1 3,-4 0,-1-3,-3 1,-2-1,-2 2,-2 3,0 4,5 2,0 4,2 6,0 1,-1 2,0-4,-1-8,-7 0,-2 1,-1 4,1 1,-1 0,-3 2,-2 2,2 0,2 3,3 0,2 1,1 1,0 1,-4 1,-1 4,0 2,1 2,-1 1,-2 1,0 5,5 1,0 3,-2-1,-2-3,0-1,-1 0,-1 3,-3 2,1 0,2 2,-3 3,0 2,-1 1,-2 1,1 4,0 1,-1 6,0 1,-1-2,-2-2,0-1,-1 0,-2 2,-2 1,1 4,0 0,-3 1,-1-1,-1 0,-2 2,-2 4,2 4,-1 0,-2-1,1-2,0-2,-2 2,-2 2,-1 2,1 1,2 2,0 4,-2 1,1 2,-1 4,-5 5,0 1,-2 4,-4 2,0 1,1-1,1 2,2 1,-2-3,-2 1,-1 4,0 0,-62ZM8,0h1v1h-1Z" fill="#19d5cd" stroke="#19d5cd" fill-rule="evenodd"/><path d="M108,129l-1,2 2,1 1,-1-1,-2ZM102,124l-2,0-3,2 0,1 3,3 1,-1ZM220,117l-2,-2-3,3 0,1 5,-1ZM100,112l0,4 1,1 2,0 1,-1-1,-4ZM219,109l-4,1 0,2 1,1 2,0 1,-1ZM201,110l4,2 2,-1-4,-2ZM151,108l1,1 0,2-1,1-2,-2ZM73,106l0,8 1,1-1,6 3,1 4,-2 3,-6 2,2 1,0 5,5 1,2 2,-2-2,-1-4,-4-1,-2 0,-4-1,-1-2,0-4,-4-2,0-1,1ZM263,103l0,1 2,1 2,-1-1,-1ZM82,97l0,5 2,2 2,0 1,-2-3,-3 0,-1ZM61,97l-2,1 0,3 4,8 0,2 2,0 0,-1 3,-3 0,-1-3,-4 0,-1ZM56,93h1v1h-1ZM294,91l1,1 4,0 3,-3 1,0 0,-1-2,1-2,-1-3,0-2,2ZM69,80l-2,-1-4,2-1,2 2,2 3,0 2,-1 1,-2ZM329,65l1,1 0,-1ZM52,51l-1,1 0,5 2,2 2,0 1,1-2,2 0,9 2,1 1,-1 2,0 0,-5-1,0-2,-2 1,-1 2,0 0,-2-4,-3 1,-1 0,-4-2,-2-1,1ZM59,52l0,3 2,1 5,0 2,2 0,3 2,2 2,0 4,-4-1,-1-3,0-2,-2 0,-1-1,-1-2,0-3,-3 0,-1-3,0ZM72,52l1,1 3,0 3,-3 0,-1-6,-1ZM69,36l1,-1 1,1-1,1ZM59,33l1,-1 1,1-1,1ZM15,0l1,2 0,6 1,2-3,3 0,1 1,1 2,0 2,-2 2,4 3,0 2,2 0,1 2,1 1,3 3,3 1,0 4,5 2,-2 4,1 1,1-1,2-1,-1-2,0-1,1 1,2 3,1 3,3 2,0 3,-3 0,-1 2,-1 1,1-1,2 0,3 4,8 1,0-1,-2 0,-6 1,-2 3,-2 3,0 3,3 3,0 2,2 4,0 1,1 2,0 4,4 1,2 0,3 1,1-1,2 1,4-3,3 0,2 1,1-2,2-1,0 2,2-1,2 0,3-2,2-2,-2 0,-2-2,-2 0,-1-1,0-2,-2 0,-1-1,0-1,1 0,2 3,4-1,1 0,3-1,1 4,1 1,1 1,-1 2,0 0,-2 1,-1 3,2 1,6 7,5-1,2 0,3 3,0 1,1 4,1 3,3 3,8 3,1 2,2 0,5-1,1 0,5-1,1 0,3 2,1 3,-4 1,0 2,2 0,2 3,3 0,5-1,1 0,3 1,2 3,1 4,3-1,4-4,2-3,-4-3,0-3,-5-2,-1-3,0-3,-3-2,0-1,2 2,0 2,2 0,3-2,2-6,-1 0,3 2,2 2,0 1,-1 1,1 3,0 4,3 2,0 3,-3 3,0 3,4 4,-1 3,-6-1,-2 2,-1 0,-2 3,-3 1,0 2,2 6,0 1,-1-1,-1 0,-4-1,-1 1,-1 5,0 0,-1-2,-2-4,1-4,-7 2,-2 2,0 4,-4 0,-4 3,-2 1,0 3,3 0,3 1,1-1,4 2,0 1,-3 5,-3 0,-2-2,-1-1,-2 3,-3 2,0 3,-2 2,1 2,4 2,0 0,-1 2,-2 4,0 4,-2 5,4 0,4 2,2 2,0 1,-1 0,-2-2,-2-2,-4 0,-2 3,-2 1,1 2,-1 0,-1 5,-5 2,0 1,1-1,1 0,3-2,2-3,1 1,1 2,0 4,-3 2,0 1,-1 6,0 1,1 2,-1 0,-2-1,-1 1,-8-1,-2 2,-2 2,0 5,4 1,4 3,3-3,3 0,3 1,2 4,0 3,4 2,0 2,2 4,1 1,-1-7,-6-1,-4-6,-3 4,-5 4,2 2,2 0,2 2,2 1,0 1,-2-1,-1 0,-2 1,-1 3,0 1,1 0,3 4,4 0,1 3,-4 6,0 3,-2-3,-3 1,-1 2,0 3,2 2,0 3,-2 6,0 2,-4 2,0 3,2 2,-1 2,-2-1,-3 3,-3 6,1 0,-4-1,-2 4,-3 2,1 0,-2 3,-3 5,0 1,-1 2,0 2,2 2,0 5,-7 5,1 0,-2 2,-2 4,-2 2,0 1,-1 3,0 0,-61Z" fill="#46f884" stroke="#46f884" fill-rule="evenodd"/><path d="M124,150l-3,1 3,0ZM96,147l1,2 7,0 5,4 2,0 3,-4 3,0 0,-2-3,0-2,-2 0,-2-2,-2-4,0-1,1 0,3-1,1-7,0ZM101,138l1,1 2,0-1,-1ZM101,125l-2,0-1,2 2,1 1,-1ZM157,116l-2,0-1,2 3,-1ZM102,113l-1,1 0,2 2,-1ZM233,111l1,1 0,-1ZM185,110l0,3 2,3 1,-1-2,-2 0,-3ZM80,105l-2,0-4,2-1,5 3,4-2,1-1,2 1,2 3,0 2,-1 2,-2 0,-2 3,-4 3,4-1,-6-1,-1-1,1ZM224,105l4,2 2,2 0,-3-1,-2-2,-1ZM236,100l0,2 1,-1ZM61,99l-1,1 1,5 1,2 2,2 1,0 2,-2 0,-2-2,-2 0,-1-3,-3ZM83,98l-1,1 1,2ZM298,89l-2,1 0,1 1,0ZM67,80l-1,0-2,2 0,2 2,1 3,-2 0,-1ZM73,70l0,3 1,1-1,2 1,2 4,0 0,-2-3,-6ZM57,67l-2,0-1,1 0,2 1,1 1,0 2,-2ZM52,52l-1,1 0,3 1,2 2,0 1,-1 0,-4-1,-1-1,1ZM61,50l-2,2 0,3 2,1 3,0 2,-1 2,2 0,3 2,2 1,0 0,-4-2,-2 0,-1-3,-1-2,-4ZM73,49l0,3 4,0 1,-1-1,-2ZM55,39l0,2 1,1 1,-2ZM58,37l2,-1-2,0ZM66,35l1,-1 2,0 3,3-1,1-2,0-2,-1ZM15,0l3,5-1,2 0,4-2,1 0,2 4,-1 3,4 2,0 6,6 0,1 6,5 0,2 1,-1 6,0 2,2 0,1-1,1-4,0 1,2 2,0 3,3 2,0 2,-2 0,-3 1,-1 2,0 2,2 1,0 4,-4 2,0 2,2-1,3 3,0 1,1 0,2 4,1 3,2 4,0 3,2 0,1 4,5 0,2 1,1-1,2 2,3-4,4 1,1 0,5-4,8 4,3 0,2 2,4 4,2 2,2-1,3 2,2 5,1 3,3 3,8 2,1 4,4 0,3-1,1 0,6-1,1 0,2 1,0 3,-3 1,0 4,4 0,1 3,4-1,2 0,4-1,1 0,2 5,3 3,0 6,-6 2,2 0,1 2,1 3,0 0,-5-3,-3 0,-4-2,-3 0,-2 3,-2 2,0 4,-5-1,-1 0,-2 1,-1 5,0 0,-3 2,-2 2,0 1,-1 3,0 1,1 8,-1 6,3 1,-1 5,-1 4,-4 5,0 2,-2 5,-2 4,-3 1,0 2,2 1,4 2,-1 4,0 1,1 2,0-1,-2 0,-3-1,-1 2,-1-1,-4 4,-5 7,4 2,6 2,1 3,-3 2,0 2,2 2,0 1,-1 4,0 1,1 2,0 2,2 0,4 4,2 0,-1 2,-2 6,0 1,-1-1,-2-2,0-1,-1 2,-2 4,0 4,2 4,-2 5,0 1,-3 2,-2 2,0 1,1 5,0 0,-2-2,-1 4,-4 2,-1 2,2 2,0 0,-4-1,-1 2,-2 4,-1 3,-4 5,0 3,-2 3,2 2,0 2,-4 4,-4 3,0 3,-2 2,0 4,-2 4,0 0,-61Z" fill="#a4fc3c" stroke="#a4fc3c" fill-rule="evenodd"/><path d="M97,147l0,1 7,1 5,4 2,0 2,-2 0,-1 3,-2-2,0-1,-1-2,-5-4,0-1,1 0,2-3,2-3,0-1,-1ZM100,126l-1,1 1,0ZM169,106l1,-1 1,1-1,1ZM80,105l-4,1-3,4 1,4 3,3-1,1-2,0 0,2 3,0 2,-1 6,-8 0,-1-1,0ZM62,100l-1,1 0,3 1,2 2,2 1,0 1,-1 0,-3ZM255,99l-2,1 1,1ZM207,97l0,1 1,0ZM280,90h1v1h-1ZM66,81l-1,2 2,1 1,-2ZM74,71l1,2 0,4 1,1 2,0 0,-1-3,-3 0,-2ZM55,69h1v1h-1ZM69,58l0,3 2,0-1,-3ZM67,55h1v1h-1ZM52,53l0,4 2,0 0,-2 1,-1-1,-1ZM61,50l-2,2 0,3 2,1 3,0 1,-1 0,-3-1,-2ZM74,49l0,3 2,0 1,-2-1,-1ZM16,0l4,5 0,2-3,3 1,1-2,1 0,1 2,-1 2,1 2,3 2,0 12,13 6,0 2,1 2,2 0,2-1,1-4,0 3,1 3,3 2,-2 0,-4 1,-1 4,0 1,2 2,0 2,-3 4,0 2,2 4,1 3,3-1,1-3,0 0,1 2,0 3,2 6,1 7,8 1,10-3,3 1,4-3,4-2,5 5,4 0,1 2,2-1,1 2,2 4,2 2,5 1,1 4,1 2,2 0,1 2,2 0,2 2,4 1,0 4,4 0,11-1,1 2,-1 4,0 4,4 1,4 1,1 0,5-2,2 0,2 3,2 4,0 3,-3 0,-2 1,-1 1,0 4,3 2,0 1,-1 0,-2-2,0-2,-3 0,-6-1,-1 0,-2 2,-2 4,-1 3,-3 0,-2-2,-3 1,-1 2,1 3,0 1,-1 0,-3 5,-3 13,0 2,2 3,0 2,1 1,-1 4,-1 3,-4 6,0 2,-3 3,0 5,-4 2,0 2,2 2,0 3,-3-1,-2 4,-2 4,-5 3,0 1,2 4,1 2,2 0,4 1,1 2,-1 0,-2-1,-1 1,-1 1,0 5,5 2,0 4,-2 2,2 4,2 0,4 3,2 1,-1-1,-2 1,-1 4,0-1,-3 3,-2 3,0 4,2 3,0 3,-2 3,0 5,-5 3,-1 9,-6 1,1 2,0 0,-4 6,-3 0,-1 2,-2 2,-1 4,1 2,-2 6,1-1,-1 2,-1 0,-1 4,-4 4,-1 1,-1 3,0 4,-2 5,0 0,-61Z" fill="#e1dd37" stroke="#e1dd37" fill-rule="evenodd"/><path d="M114,149l-1,-3-3,-4-2,0 0,1-4,4-6,0 0,1 6,0 1,2 4,3 2,0ZM74,119l1,1 1,-1ZM80,105l-4,1-3,4 1,4 2,2 1,0 1,2 1,0 4,-4 1,-2-1,-4ZM62,103l1,4 3,0 0,-2-2,-2ZM66,82l0,1 1,0 0,-1ZM76,77h1v1h-1ZM70,60h1v1h-1ZM52,54l0,2 2,0 0,-1ZM75,50l0,1 1,0 0,-1ZM61,50l-2,2 0,3 2,1 3,0 1,-1 0,-3-1,-2ZM48,34l-1,0-2,2 2,2 2,-2ZM17,0l3,2 0,3 1,1 0,2-2,1 0,2-1,1 1,-1 3,0 1,1-2,2 1,2 3,0 5,5 2,4 1,0 4,4 7,0 2,2 8,0 1,2 2,0 2,-2 5,0 4,3 1,0 4,4-1,1 2,2 4,0 8,9 1,2 0,3 1,1 0,5-3,2 0,2 1,1-4,5-2,5 6,4 1,2 0,3 1,1 3,0 2,2 1,3 3,3 4,2 0,1 3,4 1,4 2,1 4,4 0,5-1,1 0,2 1,2 3,0 5,3 1,4 2,3 0,6-2,2 0,1 2,1 4,0 2,-2 0,-3 1,-1 6,3 2,-1-4,-3 0,-7-1,-1 1,-1 0,-2 2,-2 3,0 2,-1 1,-2 0,-2-2,-3 1,-1 6,0 1,-1-1,-2 6,-4 2,0 1,1 7,-1 1,1 3,0 1,1 0,-2 1,-1 2,0 3,3 2,0 5,-5 3,0 2,1 3,-4 3,0 5,-4 4,2 2,0 2,-2 0,-2-2,-1 2,-2 3,0 5,-6 3,0 2,2 0,2 2,0 1,-2 4,1 4,4 0,1 4,3 1,-1 3,0 1,-1 2,2 4,-1 1,1-2,1 2,2 0,4 2,1-1,-5 2,-2 4,-2 12,2 5,-3 3,0 3,-4 8,-4 2,-2 4,-2 0,-1 2,-2 4,-1 3,-3 2,-1 4,0 3,-2 3,1-1,-1 1,-1 2,0 4,-4 2,-1 5,-1 3,-2 8,-1 0,-60Z" fill="#fea431" stroke="#fea431" fill-rule="evenodd"/><path d="M109,142l-1,2-5,4 1,0 3,4 4,1 2,-2 1,-3-3,-4 0,-1ZM78,105l-4,3-1,4 3,4 4,1 3,-3 1,-4-4,-5ZM63,103l-1,1 1,2 2,0 0,-2ZM245,100h1v1h-1ZM53,55h1v1h-1ZM61,50l-2,2 0,3 2,1 3,0 1,-1 0,-3-1,-2ZM48,36l-1,0 0,1ZM18,0l1,0 2,2 0,7 4,3-2,2-1,0 1,1 2,0 5,5 0,2 7,6 6,0 3,2 7,0 3,3 2,-2 6,0 4,3 1,0 3,3 1,0 1,1-1,1 1,1 3,0 9,10 2,4 0,2 1,1 0,4-2,2-1,0 0,3-4,5-2,5 4,3 1,0 3,3 0,3 1,1 2,0 3,3 1,3 2,2 3,1 4,4 2,6 1,0 4,4 1,2-1,8 6,1 2,2 3,6 0,2 1,1 0,3 1,1-1,1 0,2 1,1 2,0 1,-1-1,-2 3,-3 1,1 4,1-2,-3 0,-6-1,-1 1,-1 0,-3 1,-1 5,-1 3,-3 0,-1-3,-3 2,-2 5,0-2,-2 1,-1 2,0 6,-4 2,1 4,0 2,-2 1,0 2,2 1,0 0,-1-3,-2 1,-1 4,0 2,2 3,0 3,3 1,0 2,-2 1,0 2,-3 2,-1 1,2 2,0 3,-4 4,0 3,-3 7,1 1,-1 0,-2-1,0-1,-2 2,-2 3,0 2,-2 0,-4 2,-2 4,1 2,2 1,0 1,1 0,2 0,-2 3,-2 3,1 3,3 3,6 6,0 1,-1 2,1 1,-1 6,0 1,2-2,2-1,0 0,1 1,0 1,-2 3,0 1,-2 2,1 3,0 1,1 8,0 4,-3 3,0 5,-6 4,-2 2,0 3,-3 3,-1 2,-2 5,-2 4,-3 4,0 2,-2 4,-2 2,0 4,-4 2,-1 2,0 1,-1 4,0 1,-1 3,0 1,-1 4,0 0,-60Z" fill="#f05b12" stroke="#f05b12" fill-rule="evenodd"/><path d="M109,143l-3,3-1,4 2,2 4,1 2,-2 1,-3-1,-2-3,-3ZM78,105l-4,3-1,4 3,4 4,1 3,-3 1,-4-4,-5ZM63,104l1,2 0,-2ZM173,100l1,-1 1,1-1,1ZM61,50l-2,2 0,3 2,1 3,0 1,-1 0,-3-1,-2ZM20,0l2,1 0,7 2,2 1,4 1,0 2,2 0,1 3,3 1,3 3,1 2,3 3,0 1,1 2,-1 3,2 3,0 1,1 3,0 1,1 10,0 4,3 1,0 3,3 1,0 2,3 2,0 9,10 4,10-8,11-2,5 4,3 1,0 3,3 0,2 1,1 2,0 1,1 3,6 2,2 3,1 5,4 1,4 3,2 1,3 2,2 2,4-2,4 3,0 2,1 6,12 1,1 1,-1 1,1 0,2-2,1 0,2 2,-1 0,-2 1,-1 4,0 0,-3-1,-1 1,-1 0,-6 5,-4 4,-1 0,-2-1,-1-3,0-1,-1 2,-4 1,1 4,-1 0,-2 1,-1 3,0 6,-4 2,1 3,0 1,-2 1,0 4,-3 3,0 1,1 2,-1 1,1-1,2 4,-1 1,1-1,2 2,1 2,-1 5,-6 2,2 0,1 1,0 2,-4 4,1 4,-4 1,0 1,-2 1,2 3,2 2,-1 0,-1-1,0-2,-2 0,-2 6,-3 0,-4 1,-2 3,-2 3,0 4,3 5,-1 6,5 1,2 0,3 1,1 2,0 1,-1 11,0 1,1 2,-1 1,1 0,2 1,-2 2,0 1,1 3,0 4,2 1,-1 4,0 2,-1 1,-2 4,1 1,-2 4,-4 5,-2 2,-2 5,-2 2,-2 5,-2 4,-3 4,0 2,-3 12,-6 2,0 1,-1 4,0 1,-1 3,0 1,-1 4,0 0,-60Z" fill="#c32503" stroke="#c32503" fill-rule="evenodd"/><path d="M109,143l0,1-3,2-1,4 2,2 4,1 2,-2 1,-3-1,-2ZM125,136h1v1h-1ZM137,107l1,-1 1,1-1,1ZM78,105l-4,3-1,4 3,4 4,1 3,-3 1,-4-4,-5ZM200,93l1,1 0,-1ZM61,50l-2,2 0,3 2,1 3,0 1,-1 0,-3-1,-2ZM22,3l1,1 0,5 1,2 2,2 2,4 3,3 0,1 3,3 4,2 5,1 3,2 3,0 1,1 3,0 1,1 10,0 4,3 1,0 3,3 4,2 10,11 4,10-8,11-2,5 4,3 1,0 4,4 0,2 2,0 1,1 3,6 2,2 3,1 2,2 4,2 4,9 7,10 7,14 1,-1 1,1 4,0 0,-8 1,-1 0,-2 4,-2 2,-2 2,0 1,-1 0,-1-2,-1-1,1-2,0-1,-1 0,-3 3,-4 2,2 1,0 1,-1 0,-2-1,-1 2,-2 1,1 4,0 4,-3 4,2 1,-2 4,-3 7,0 1,-1 2,0 1,1 3,-1 2,2-2,4 2,0 6,-7 2,2 1,0 0,-2 1,-1 6,1 1,-2 0,-3 3,-3 1,1 3,-2 4,0 0,-4-1,-1 4,-4 6,-3 1,0 3,3 6,1 2,2 3,1 3,6-1,2 2,0 4,-2 1,1 1,-1 1,1 3,-1 6,3 3,0 1,1 3,0 1,1 4,0 1,-1 3,0 5,-3 2,1 1,-2 4,-3 5,-2 2,-2 5,-2 2,-2 5,-2 2,-2 4,-2 1,1 3,-3 12,-6 2,0 1,-1 4,0 1,-1 3,0 1,-1 4,0 0,-60-310,0 0,2Z" fill="#7a0403" stroke="#7a0403" fill-rule="evenodd"/></g>
</g>
<use href="#lakes" fill="#c3e1eb" stroke="#4f6f7c" stroke-width="0.3"/>
<use href="#overlay"/>
<text x="145.6" y="85.9" font-size="6.3" font-weight="bold" text-anchor="middle" fill="#1b1b22">All cultivars</text>
<rect x="0.25" y="0.25" width="166.5" height="92.5" fill="none" stroke="#8a8a8a" stroke-width="0.5"/>
</svg>
<text x="96.40" y="198.70" font-size="5.65" font-weight="bold" text-anchor="middle" fill="#111" >1960-1979</text>
<svg x="181.9" y="201.0" width="167.0" height="93.0" viewBox="0 0 167.0 93.0" overflow="hidden">
<use href="#base"/>
<g clip-path="url(#dataclip)">
<rect x="0" y="0" width="167.0" height="93.0" fill="#30123b"/>
<g transform="scale(0.5) translate(0.5,0.5)" stroke-width="0.8" stroke-linejoin="round"><path d="M142,152l-1,1 1,1ZM98,134l1,0 2,2 0,6-2,2-2,-1 0,-8ZM238,134l-4,1-1,2 3,-1ZM118,133l3,0 1,1 0,2-2,2-3,0-1,-1 0,-2ZM170,132l0,2 2,0 0,-2ZM194,131h1v1h-1ZM150,130l-1,2 1,0ZM262,129l-3,2 0,3 1,0 2,-2 1,-2ZM296,128h1v1h-1ZM79,126l1,0 2,2 0,3-2,2-3,-3 0,-2ZM174,126l0,1 1,0ZM131,126l2,-1 2,2-1,1-2,0ZM282,123l0,1 2,0 0,-1ZM169,123l-1,0-1,4-1,1-4,0 0,2 1,1-3,3-1,0 0,3 1,1 3,0 4,-3-2,-4 0,-2 1,-1 3,0 0,-3-1,-1ZM226,122l-1,1 0,4 2,-1ZM127,121l1,-1 2,0 1,1-1,1-2,0ZM278,118l-2,0-4,2-2,2 0,1 5,0 0,-1 3,-3ZM233,119l1,1 3,0 1,-1-1,-1ZM91,117l3,0 1,1 0,2-2,2-2,0-2,-2 0,-1ZM100,116l2,0 2,2 0,3-2,2-2,0-1,-1 0,-5ZM255,116l-1,2 2,1 2,2 0,1 1,0 1,-1 0,-3-3,0ZM306,115l-1,0-1,2 2,0ZM296,113l0,1 2,0 0,-1ZM185,113l1,-1 1,1-1,1ZM109,112l1,0 2,2-1,6 2,0 1,1 0,2 2,4 0,1-3,3-4,-4-1,-2 0,-5-2,-2 0,-3ZM306,112h1v1h-1ZM283,112l-1,3 2,-2ZM66,114l3,-4 4,0 1,1 4,1 2,2 0,1-3,3-4,2-4,-2-3,-3ZM274,109l0,3 1,0 1,-1-1,-2ZM316,105l0,2 2,1 1,-1 0,-2ZM242,105l2,-1 1,1 0,2-2,1-1,-1ZM82,100l1,2-2,2-1,0-1,-2 2,-2ZM229,99l2,0 4,4 0,3-2,2-3,0-1,-2-2,-1 0,-4ZM197,98l1,1 0,7-2,4 0,5-1,1-2,-2 1,-2 0,-6-2,-2 0,-4 2,-2ZM92,99l1,-1 1,1-1,1ZM324,98l1,1 3,0 0,-1ZM93,98l1,-1 2,1-1,1ZM51,98l2,1 0,-1ZM211,93l1,-1 2,1-1,1ZM46,92h1v1h-1ZM79,87l2,0 2,2 0,1-3,2-3,-3ZM320,81h1v1h-1ZM323,80l0,3 2,3 0,2 2,0 6,-3 0,-6-7,0-1,-1ZM68,80l0,-2 3,-3 8,0 1,1 0,1-6,6-3,0ZM63,75l1,-1 2,2-2,1ZM329,72l1,-1 1,1-1,1ZM25,69l0,1 1,0 0,-1ZM0,63h1v1h-1ZM9,60l1,2 0,-2ZM61,59l1,-1 4,1 1,1 0,3-2,1-1,-2-1,0-2,-2ZM33,58l0,1 3,3 2,0 1,-2-1,-1ZM76,57l1,-1 1,1-1,1ZM15,61l1,2 3,0 3,-3 2,-1 3,0 0,-1-1,-1-4,0-3,-3-1,0-2,3 0,3ZM74,46l2,3 0,3-2,2-3,0-2,-2 0,-2ZM4,47l1,1 1,-1 3,0 1,-1-1,-1-3,0-2,1ZM26,42l-1,1 1,7 1,1 4,0 1,-2-3,-2 0,-3ZM57,36l2,-2 2,0 2,1 1,2-1,1-4,0ZM7,28l-1,1 0,4 1,1 3,0 1,1 0,3-4,2 2,0 2,-2 2,2 0,4 1,0 1,-2-1,-2 1,-10-5,0ZM0,23l0,4 4,-2 2,0-2,0ZM21,22l-1,2 1,2 2,0 0,-3ZM10,6l4,5-1,1 0,2 3,1-2,-4 0,-1 2,-2 4,7 1,0 2,2 0,1 2,2 1,0 13,14 3,0 2,1 2,3 0,2-1,1-2,-1-2,1 4,0 2,2 0,3 3,2-2,3-1,-2-1,1 0,1 1,-1 1,1 0,6-3,2 2,2 1,0 2,3-2,2 0,3 2,2 0,2-1,1 0,5 1,1 3,0 1,-1 2,0 3,-3 2,1 0,2-1,1-2,0-3,3 0,4 2,1 3,0 3,3-1,4-3,4 0,8 4,5 0,2 1,1 0,1-2,1-1,2 2,0 3,4 1,0 4,4 3,1 2,2-1,2 1,2 2,1 5,0 3,3 1,3 3,3 2,1 4,0 1,1 0,4 1,1 2,-1 10,-1 1,-1 1,0 1,2 2,1 3,0 2,-2 0,-2-1,0-1,-2 5,-3 1,0 3,3 0,-1 4,-3 2,0 2,2 1,-1 0,-3 5,-4-1,-2 0,-3 3,-2 1,1 3,0 1,-1 4,-1 1,-4 1,-1 3,0 1,-1 0,-2-1,-1 0,-2 1,-1 2,2 0,1 12,0 1,1 5,0 7,5 3,-1 0,-2 1,-1 2,0 4,-2 3,4 0,3 2,1 2,-1 0,-2 3,-3 4,-1 1,-1 3,0 1,1 1,4 3,0 1,-1-2,-4 2,-2 1,0 1,-2-2,-2-1,0-3,-4 0,-1 2,-2 3,0 6,3-1,2 0,4 1,1 3,0 4,-5 3,0 3,3 3,0 1,-1 4,0 1,1 1,-1 2,0 1,-2-1,-2 1,-1 1,0 2,2 4,0 1,-1 2,0-1,0-2,-2 0,-1 2,-1 0,-2 3,-3 2,1 6,-3 6,8 0,2 3,0 2,2 2,-2 1,1 3,0 1,-2-1,-1 0,-3-2,-2-1,2-2,2-1,0-1,-1-2,0-2,-4 2,-2 4,-1 0,-4-1,-1 0,-2 1,-1 2,0 1,1 4,0 2,2 0,2 4,3-1,2 1,1 4,0 1,1 3,-2 3,0 1,1 0,4 1,0 3,-6 5,0 3,-2 0,-5-2,-1-4,1-1,-1 1,-1 0,-5-3,2-1,-1-2,2-4,1-1,1-2,0-1,1-4,-1-1,-1 0,-2 6,-3 0,-3-2,-1 0,-2 3,-3 2,0 1,1-1,5 2,0 3,-2 2,2 0,2 4,-2 2,1 4,-2 1,-2-2,-1-4,0-1,1-2,0-1,-1-3,0-2,-2 2,-2 3,2 4,-1 2,-2 0,-2 1,-1 2,0 1,1 3,0 2,-1 2,3-1,2 2,2 2,0 0,-74-320,0 3,8-1,1-3,-3ZM5,0l1,1 1,-1Z" fill="#4559cb" stroke="#4559cb" fill-rule="evenodd"/><path d="M122,131l2,3-1,1 0,2-4,3-3,0-2,-3 0,-2 3,-3 2,-1ZM129,126l3,-3 1,0 2,2 1,0 2,3-3,2-2,0ZM131,118l2,2 0,1-2,2-2,0-2,2 1,1-1,2-2,-2-1,-6 4,-2ZM145,115l3,2 0,1-2,2-3,-3ZM117,130l-2,2-3,0-3,-3-3,-6-2,0-1,1-2,0-4,-2-2,1-5,0-4,-2-2,-3 1,-1 4,0 1,-1 3,0 1,-1 2,0 1,1 4,-2 2,1 3,0 0,-1 3,-3 1,0 2,2 0,5 2,0 2,3 0,3 1,1ZM227,108l-1,2 0,3 2,1 2,-3-1,-2ZM257,106l0,1 1,0ZM237,96l1,-1 3,0 3,3-1,1-5,0-1,-1ZM75,96l1,-1 1,1-1,1ZM94,94l5,5 0,2-2,1-1,-1 1,-1-2,0 2,2-3,2-2,0-1,-1 1,-1-2,-2 0,-2ZM70,95l1,-1 2,0 1,1-1,1-2,0ZM295,92l0,1 3,0 3,3 4,-1 2,2 5,0 4,-2 2,-2 1,1 1,-1-1,-2-1,1-2,-1-6,0-4,-2-1,1-1,-1-6,1ZM78,85l2,0 4,3 0,2-2,3-3,0-2,-2-1,-3ZM311,86l2,0 1,-1-3,0ZM328,84l2,0 1,-1-3,0ZM333,82h1v1h-1ZM326,81h1v1h-1ZM320,77h1v1h-1ZM52,76l0,1 2,0 0,-1ZM308,75l-1,0 0,3 2,-2ZM77,62l2,2 0,2 1,1-1,1-3,0-1,-1 0,-3ZM62,56l2,0 5,5 0,2-3,3-1,0-3,-4-2,0-1,-1 0,-2ZM73,45l1,0 3,3 0,5 2,2 0,3-1,1-2,0-3,-4-2,0-3,-2 0,-2ZM27,44l0,5 2,0-2,-3ZM69,40l2,-1 2,2 0,2-1,1ZM56,35l3,-2 3,0 2,1 2,2 0,1-2,2-4,1-4,-2ZM13,33h1v1h-1ZM8,31h1v1h-1ZM22,25h1v1h-1ZM14,0l1,1 0,3 2,2 0,4 2,3 2,0 2,2 1,3 5,4 0,1 3,3 0,1 1,0 5,6 3,0 2,1 4,4 1,5 1,-1 2,0 1,1-1,2 0,2 1,1-3,4 0,4 1,1 0,2 3,0 4,3-2,4-3,0-1,1 1,4 1,1 2,-1 1,-3 2,-1 3,3 0,2 3,0 4,3 2,-1 7,0 1,-1 2,1 1,4-5,6-7,0-1,1-3,-5-2,0-3,2-2,0-2,2 0,2 1,1 3,0 4,3 0,3-3,4 0,2-1,1 0,4 1,1 1,4 2,2 2,0 0,-1 2,-2 2,0 2,-4 4,-2 3,-4 6,0 1,1 0,3-3,3-2,1-2,0-1,-1-2,2 0,3 5,3 0,2-7,6-3,0-3,-2-1,0 0,1 6,6 2,0 1,-1 0,-2 2,-2 4,5 0,2 1,1 0,5 1,0 6,6 0,1 3,2 2,0 1,-1 0,-9 1,-1 4,1 1,1 0,9-2,4 3,0 0,-2 2,-2 2,0 2,2 4,1 5,-6 1,1 2,0 1,-1 2,0 1,1 3,0 1,-1 6,0 0,-2 3,-2 0,-6 2,-2 2,0 4,-2 3,0 1,-1 0,-6 2,-2 2,0 1,-2 4,-1 3,3 7,0 0,-1 3,-3 2,0 1,1-1,2 1,2 4,0 1,-1 2,2 0,1 2,-2 1,0 0,-2-1,-1-3,0-1,2-2,-4 6,-3 3,0 2,2 0,3 2,1 1,-2 0,-3 1,-1 0,-3-2,-3 0,-4 2,-3 6,0 1,1 3,-3 2,4 1,0 2,2-3,4-2,1-3,0-2,3 0,6-1,1 1,4 4,0 1,-1 5,-1 3,-3 7,0-1,-3-4,-2-2,-2 0,-1 3,-3-1,-1-4,-1-2,-2 1,-1-2,-3 0,-2 1,-1 2,0 2,-2 4,0 1,1-3,6 4,2 2,2 0,1 3,2 3,0 1,-5 3,-3 0,-2-1,-1 2,-2 2,2-1,3 2,2 4,2-1,1 0,6 3,2 1,-1 0,-5 3,-3 1,0 4,5 2,-1 4,0 3,-3 3,-1 1,-2-1,-1 0,-2 2,-2 1,0 4,4 1,0 2,-2 3,0 1,1 0,2 2,2 1,0 1,-2-1,-1 2,-2 4,-1-1,-7 2,-2 2,0 3,2 4,-1 2,-2 0,-2 2,-3 1,2 2,0 0,-2-2,0-1,-1 0,-3 1,-1 2,0 4,-3 3,0 4,-3 2,2 0,1 3,0 1,-1 0,-4 1,-1 4,0 2,-1 2,2 2,0 1,2 3,3 1,0 0,-72Z" fill="#3e9bfe" stroke="#3e9bfe" fill-rule="evenodd"/><path d="M129,135l1,-1 1,1-1,1ZM128,134l1,-1 1,1-1,1ZM109,131l-1,0-4,4-1,2 0,3 1,1 1,0 5,-5 1,-2ZM136,131l-3,0-4,-2-1,2 1,2-4,2-1,4 1,0 2,2 5,-2 2,-3 3,-1ZM95,127l0,1 2,2 4,2 5,-4 1,0 0,-1-4,-3-6,0ZM83,123l0,9 3,3 1,0 5,5 0,1 2,1 1,-1 0,-9-3,-3-1,-4-3,-2ZM206,112l1,2-2,2-1,0-1,-2 2,-2ZM228,111h1v1h-1ZM150,109l2,1 0,2-1,1-2,0-1,-1 0,-1ZM140,109l2,2-4,2-1,-2 2,-2ZM105,108l1,-1 2,0 1,1-1,1-2,0ZM239,105l-2,0 0,3 2,-1ZM210,104l-3,0-2,4-2,1-2,-1-2,2 0,8 4,-2 3,1 4,-3 0,-5-1,-1 2,-3ZM240,101h1v1h-1ZM90,101l-2,-2-1,1 0,3-6,5-2,-1-1,2 2,1 3,-4 2,0 3,-3 1,0ZM307,93l0,2 1,1 3,0 2,-2-2,-1ZM303,91l0,1 1,0 0,-1ZM62,82l-1,1-2,0-2,2 1,1 5,0 3,3-1,5-3,3 0,2-1,1 1,7 2,1 3,-2 2,0 1,-1 0,-2 4,-2 2,-2-1,-1-5,0-2,-2 0,-2 2,-2 2,0 1,1 4,0 0,-1-1,-1-1,-5-4,0-3,2-3,-2 0,-4ZM58,63l0,2 1,1 3,0 1,-1-1,-2ZM73,60l1,-1 1,1-1,1ZM52,50l-2,3 0,2 2,2 5,2 2,-2 0,-3-2,0-1,-1 2,-1 1,-2ZM57,33l2,0 1,-1 4,1 4,4 3,1 3,3 0,3 4,5 0,3 2,4 0,2-1,1-4,1-3,-4-4,-1-2,-2 5,-6 0,-3-3,-3 0,-2-3,0-4,2-4,-1-2,-3 0,-2ZM15,0l1,1 0,2 3,3-1,1 0,3 1,2 3,0 2,2 0,3 1,2 1,0 6,6 0,1 1,0 4,4 1,2 6,2 3,3 0,1 6,5 0,4 1,1 5,-4 3,0 3,3 0,1-2,2-1,0 0,1 5,5 0,1 3,3 3,1 1,2-2,2-2,0-2,2-1,0-1,2-2,0 0,2 1,0 4,3 4,0 1,-1 2,0 1,-1 0,-3-2,0-2,-2 1,-1 0,-4 1,-1 2,0 2,2 2,0 1,1 0,4-1,1 1,2-2,2 2,3 0,2-1,1 0,5 4,2 4,-1 2,3-2,2-3,0-3,4 2,2 4,0 2,-2 1,-3 2,-1 2,4 3,3 1,2 0,3-6,3-5,4-5,0-2,2 1,1 0,2-4,5 2,2 1,0 0,-4 1,-1 7,0 6,-3 9,1 5,-4 3,3 0,3 1,0 3,3 0,2 1,1 0,5 2,2 3,0 1,-1-2,-8 2,-2 3,0 1,-1 4,0 2,2 0,2 1,1 2,0 2,2 0,3 3,0 7,-5 0,-2-1,0-2,2-4,-3 0,-5 2,-3 2,0 2,2 1,3 4,-1 1,-2 4,-2 1,-2 4,-3 2,1 0,2-4,3 0,2 2,2 6,0 0,-2 2,-2 3,0 4,-4 3,0 1,1 6,0 2,2 1,0 1,-4-2,-3 0,-6 2,-2 4,0 1,-1 2,0 0,-3 2,-2 4,1 1,1 2,0 3,-2 4,0 2,2 0,3-2,1 0,2 4,0 4,5 5,-6-1,-4 2,-2 2,0 3,6 1,0 2,-3 4,0 1,1 2,0 3,4-1,1 1,4 5,0 4,-4 0,-2 2,-1 3,-4 2,0 4,4 1,0 2,-2 3,0 3,2-1,1 1,2 0,-3 6,-4-2,-4 4,-5 6,3 3,-2 0,-3 2,-3 0,-2 2,-2 8,-4 2,0 4,-3 2,0 1,1 0,2 2,0 0,-2-1,-1 2,-2 3,0 4,-2 9,7 0,-71Z" fill="#19d5cd" stroke="#19d5cd" fill-rule="evenodd"/><path d="M126,137l0,1 2,1ZM108,135l-2,0-2,3 1,1 0,-1ZM131,131l1,2 3,0ZM97,126l0,2 3,2 2,0 2,-2 0,-2-2,-1-4,0ZM143,124l-2,0-1,2 2,0ZM85,124l-2,3 1,2 0,3 2,2 6,2 2,-2-1,-2-2,-1-1,-5-1,0-2,-2ZM120,123l-1,2 1,2 2,0 0,-2ZM203,111l-2,-1-1,1 0,2 2,0ZM208,106l-2,4 2,0ZM107,111l-1,-1-2,1-2,-2-3,0-1,-1 0,-3-2,0-4,4-5,2-2,4 5,0 1,-1 2,0 1,-1 0,-3 3,-2 2,1 0,3 1,1 5,0ZM88,101h1v1h-1ZM255,97l-3,0-1,1-2,-1-1,1 0,5 4,0 3,-3ZM65,96l-2,2 0,2 1,0 4,3 2,-2 0,-1-4,1-1,-1 1,-1 0,-3ZM91,90l-2,0-1,1 0,3 1,1 3,-4ZM70,89l0,2 5,1 0,-3-1,-1-3,0ZM83,71l2,3-1,2-2,-1 0,-3ZM67,69l3,4 3,0 3,-2-1,-1-2,1-3,-4-1,0ZM59,64l2,1 0,-1ZM70,57l0,1 2,0ZM51,53l0,2 2,0 2,2 2,0 0,-1-1,0-3,-4ZM66,40l-4,2 0,1 4,2 0,3-2,2 0,1 3,0 4,-5 0,-1-2,-1ZM16,0l1,2 2,0 3,3-3,3-1,0 1,3 4,0 2,2-1,2 1,1 0,2 10,10 1,0 3,4 2,0 4,2 3,3 0,1 3,3 2,0 2,2 0,1 3,0 2,-1-1,-2-2,0-2,-2 0,-4 2,-2 2,0 1,-1 4,0 2,1 7,6 3,7 3,4 0,3 2,4 0,1-2,2-1,0 0,1 1,1 2,0 1,-1 1,1 0,9-2,2 1,1 0,4 1,1-1,1 0,2 1,1 3,-1 1,2 2,0 5,5 1,3 6,7 0,3 2,2 4,2 4,0 1,1-1,2 1,2 8,10 1,-3 2,-2 2,1 2,0 1,-1 5,0 4,4 3,0-2,-2 0,-2-3,-3 1,-3 2,-2 3,0 3,2 3,0 2,-2 3,0 2,2 0,1 1,0 2,-2 2,0 0,-1 2,-2 4,-1 2,2-1,3-4,3 0,1 2,2 3,0 4,-5 3,-1 3,-3 8,0 1,1 2,-1 2,2 0,-3-1,-1 0,-6-1,-2 2,-2 5,0 2,-1 0,-5 1,-1 5,0 3,2 3,0 1,-1 2,1 4,0 2,2 0,3-2,2 4,0 2,-1 2,2 0,1 1,0 2,-2-1,-2 0,-3 2,-2 3,0 2,2 0,3 1,1 1,0 2,-3 4,0 4,2 3,0 3,-2 2,0 4,2 4,-3 2,0 4,4 1,0 2,-2 7,1 1,-2-3,-1-2,-2 2,-2 3,0 2,-2 1,0 0,-1 2,-2 4,0 2,2 1,0 2,-2 0,-2 2,-4 2,-2 4,-1 2,-2 4,-1 4,-3 2,0 4,-2 3,0 4,-2 3,0 2,2 1,0 1,2 3,1 0,-69Z" fill="#46f884" stroke="#46f884" fill-rule="evenodd"/><path d="M99,126l0,2 2,0 1,-1-1,-1ZM86,125l-2,2 0,4 2,2 4,1 0,-5-1,-2ZM92,111l-2,0-2,3 4,-1ZM100,110l0,2 2,0 0,-1ZM95,107l1,1 1,-1ZM254,98l-1,-1-3,3-1,0 0,1 2,1 3,-2ZM91,91l-2,0-1,2 1,1 2,-2ZM72,89l0,1 2,1 0,-1ZM213,86l1,-1 1,1-1,1ZM69,44l-2,1 0,3-1,2 1,0 0,-1 3,-3ZM65,42h1v1h-1ZM56,42l1,1 2,-1ZM18,0l1,0 4,4-1,2-2,2-1,0 0,2 1,1 2,-1 2,0 2,3-1,1 0,3 3,3 0,1 1,0 1,2 9,8 4,1 2,2 1,0 6,7 1,0 2,-3-1,-2 1,-2 4,-1 1,-1 2,0 1,-1 4,2 5,4 4,9 4,5 1,8-2,1 0,1 1,1 1,-1 2,0 1,1 0,9 2,3 0,2-1,1-2,0 0,1 9,8 3,6 7,6 0,2 2,3 1,0 2,2 4,0 2,2 0,4 1,0 2,2 0,1 2,2 0,2 2,0 0,-3 1,-1 2,0 3,2 1,0 2,-2 1,1 1,-1 2,0 1,-1 0,-2 4,-4 2,0 4,2 2,0 2,-2 6,0 3,2 2,-1 1,-2 3,-2 3,0 2,3 0,2-5,4 1,2 3,0 1,-1 0,-2 2,-2 3,-1-1,-6 2,-2 3,4 4,0 1,1 2,-1 2,2 2,-2 0,-2 1,-1-5,-5 7,-4 2,1 3,-1 0,-3-1,-1 2,-2 3,0 2,-2 3,0 1,-1 1,1 3,0 1,1-1,1 2,2 4,0 2,2 1,4 1,0 2,-2 1,0 2,2 0,-3 2,-2 2,-1 3,0 1,-1 1,1 0,2-1,1 1,1 0,2 2,-1 0,-2 1,-1 3,0 5,3 2,0 4,-2 7,1 1,-1 5,-1 1,2 2,2 1,0 1,-2 2,-1 4,-5 3,0 5,-5 5,0 1,1 7,-9 3,0 2,-2 4,-1 4,-3 6,-1 2,-2 4,0 1,-1 4,0 1,-1 1,0 1,2 4,-1 0,-64Z" fill="#a4fc3c" stroke="#a4fc3c" fill-rule="evenodd"/><path d="M86,126l-1,1 0,4 1,1 2,0 1,-1 0,-2ZM167,112l-1,0-1,2 2,0ZM117,112l1,1 0,-1ZM187,102h1v1h-1ZM253,98l-1,2 1,0ZM234,92l1,2 0,-2ZM90,91h1v1h-1ZM21,8h1v1h-1ZM21,0l0,1 3,4 0,3 2,3 0,3-1,1 1,3 2,1 0,1 4,4 0,1 4,2 4,4 4,1 2,2 5,3 0,3 2,0 1,-1 0,-4 1,-1 4,-1 1,-1 2,0 1,-1 4,1 5,5 4,9 5,7 1,7 1,0 2,2 0,2-1,1 0,4 3,5 0,2-3,2 5,5 2,1 4,8 4,4 1,0 6,7 4,1 1,1 2,0 1,1 1,4 1,-2 2,2 1,0 1,2 2,0 4,3 6,-3 1,-2 4,-3 6,0 2,1 4,-3 1,1 3,0 3,2 2,0 3,-4 2,-1 4,0 1,1 0,3 1,1 2,0 1,-1-1,-1 0,-4 2,-2 2,0 1,-1 2,3 0,2 1,1 2,0 2,-1 0,-1-4,-1-2,-2 0,-1 4,-2 3,-3 3,1 4,-3 1,1 3,0 1,-2-3,-2 3,-3 3,0 2,-3 3,0 2,-3 3,3 5,0 3,2 3,0 1,1-2,1-1,2 2,4 1,-1 4,-1 2,-2 1,0 1,-2 2,1 1,-1 2,0 1,1 2,0 2,2 5,1 2,2 6,-1 1,-1 2,1 3,0 1,-1 6,0 1,2 2,1 1,-2 5,-5 5,-2 2,-2 4,-2 3,0 1,1 5,-7 18,-9 7,-1 4,-2 10,0 0,-63Z" fill="#e1dd37" stroke="#e1dd37" fill-rule="evenodd"/><path d="M86,128l-1,1 2,1 0,-2ZM180,103l0,1 1,0 0,-1ZM194,91l-1,1 1,0ZM52,34l1,-1 1,1-1,1ZM21,0l3,2 0,2 2,3 0,2 1,1-1,6 2,2 1,3 2,1 2,3 4,2 1,2 9,4 2,2 2,0 1,1-1,1 0,2 2,0 0,-4 1,-1 2,0 1,-1 2,0 4,-2 2,0 4,2 2,2 5,11 6,8 0,3 1,2 3,3-1,2 0,7 2,3 0,3-2,1 6,6 4,8 4,4 1,0 8,7 2,0 5,4 2,0 2,2 4,2 3,3 4,-2-1,-1 1,-2 4,0 4,-3 5,0 1,1 4,-3 3,0 4,3 3,0 3,-4 6,-1 1,1 1,4 2,0-1,-2 0,-3 3,-3 4,-2 2,0 5,-4 4,1 2,-2 0,-1 10,-9 1,-2 1,0 1,2 1,0 0,-1 2,-2 2,0 2,3 11,1 1,1 0,3-3,3 1,2 5,-2 1,-1 0,-3 2,-2 1,0 3,2 6,1 1,2 2,1 3,0 2,2 3,0 1,-1 12,0 1,-1 1,1 2,0 1,2 1,0 1,-2 4,-4 5,-2 2,-2 1,0 1,-2 2,-1 1,1 1,-1 3,1 5,-6 18,-9 7,-1 1,-1 6,-1 1,-1 6,1 0,-63Z" fill="#fea431" stroke="#fea431" fill-rule="evenodd"/><path d="M170,106h1v1h-1ZM225,87l-2,-1-2,4 3,0 1,-1ZM52,38h1v1h-1ZM23,0l2,1 0,2 2,4 0,3 1,1-1,5 2,3 0,2 10,8 10,5 2,-1 5,1 1,-1 8,-2 4,2 2,2 5,11 2,2 2,4 3,3 1,4 2,1 0,4-1,1 0,6 3,6-1,2 3,3 5,10 9,8 9,4 2,2 4,1 7,6 2,0 1,-1-2,-2 3,-2 4,0 3,-2 7,-1 4,-2 4,0 2,3 3,1 1,-1 0,-2 2,-2 4,0 1,-1 4,1 4,-4 2,0 10,-7 1,2 2,0 1,-1 0,-2 6,-6 1,0 5,-6 1,0 2,-2 2,2 2,0 2,2 0,1 6,0 1,1 12,1 3,2 5,1 2,1 1,2 3,0 4,3 4,-2 6,0 1,1 2,-1 6,0 1,2 1,0 2,-4 6,-3 2,-2 8,-4 1,1 2,0 3,-4 20,-10 7,-1 1,-1 6,-1 1,-1 6,0 0,-62Z" fill="#f05b12" stroke="#f05b12" fill-rule="evenodd"/><path d="M126,111h1v1h-1ZM208,77l1,1 0,-1ZM206,76h1v1h-1ZM26,0l0,4 2,3 0,8 1,1 0,5 17,11 4,0 1,1 5,1 1,-1 8,-2 4,2 2,2 5,11 10,14 0,4-1,1 0,6 2,3 1,5 4,8 2,2 1,3 9,8 18,9 6,-1 1,-1 3,0 1,-1 2,1 2,-2 3,0 1,-1 2,1 4,-3 6,1 2,3 2,0 0,-4 1,-1 7,0 1,-1 2,1 2,-2 5,-2 2,-2 4,-2 3,-3 4,2 1,-1 0,-3 3,-3 1,0 0,-1 2,-1 4,-4 1,-2 1,0 6,-5 7,7 0,1 2,1 1,-1 1,1 4,0 1,1 7,0 2,2 8,2 1,2 2,0 3,3 3,0 2,-2 1,1 14,0 1,1 1,-2 3,-1 7,-5 8,-4 4,0 2,-3 20,-10 7,-1 1,-1 6,-1 1,-1 6,0 0,-62Z" fill="#c32503" stroke="#c32503" fill-rule="evenodd"/><path d="M155,104l0,1 1,0 0,-1ZM27,0l0,3 1,1 0,11 1,1 0,5 10,7 4,2 5,1 6,3 2,0 1,-1 2,0 4,-2 2,0 4,2 2,2 5,11 10,14 0,4-1,1 0,6 2,3 1,5 4,8 2,2 1,3 9,8 18,9 6,-1 1,-1 3,0 1,-1 3,0 1,-1 3,0 1,-1 2,0 4,-2 8,0 2,-2 7,0 1,-1 3,1 1,-2 9,-4 6,-5 1,0 2,2 0,1 1,0 0,-4 2,-3 2,0 1,-1 0,-2 2,-1 8,-8 1,0 2,-2 2,0 8,8-1,1 2,0 1,1 12,0 8,4 5,1 1,2 4,3 2,-2 2,1 15,0 4,-2 2,-2 3,-1 2,-2 10,-5 1,1 1,-2 22,-11 7,-1 1,-1 6,-1 1,-1 6,0 0,-62Z" fill="#7a0403" stroke="#7a0403" fill-rule="evenodd"/></g>
</g>
<use href="#lakes" fill="#c3e1eb" stroke="#4f6f7c" stroke-width="0.3"/>
<use href="#overlay"/>
<text x="145.6" y="85.9" font-size="6.3" font-weight="bold" text-anchor="middle" fill="#1b1b22">All cultivars</text>
<rect x="0.25" y="0.25" width="166.5" height="92.5" fill="none" stroke="#8a8a8a" stroke-width="0.5"/>
</svg>
<text x="265.40" y="198.70" font-size="5.65" font-weight="bold" text-anchor="middle" fill="#111" >1980-1999</text>
<svg x="350.9" y="201.0" width="167.0" height="93.0" viewBox="0 0 167.0 93.0" overflow="hidden">
<use href="#base"/>
<g clip-path="url(#dataclip)">
<rect x="0" y="0" width="167.0" height="93.0" fill="#30123b"/>
<g transform="scale(0.5) translate(0.5,0.5)" stroke-width="0.8" stroke-linejoin="round"><path d="M131,133l0,2 1,0 0,-2ZM128,128l-1,-1-2,0-2,2-1,-1-4,0-1,1 0,2 2,2 1,-1 6,1 2,-3ZM150,126l-1,2 1,0ZM137,126l-2,0-4,2 1,1 4,0 1,-1ZM286,115l1,1 0,3 0,-4ZM88,112l1,1 0,2-3,5-1,-1-1,-5 2,-2ZM279,112l0,1 2,0ZM155,106l0,-1 4,-3 4,2 0,1-2,2-5,0ZM139,106l3,-3 2,0 1,-1 4,3 0,3-1,1-2,0-1,-1-2,0ZM58,102l-2,3 0,4 3,0 2,-2 0,-1ZM156,100l1,-1 1,1-1,1ZM220,99l1,-1 2,0 2,2-1,1-3,0ZM155,99l1,-1 1,1-1,1ZM243,94l1,2-2,3-2,-2 0,-1 2,-2ZM276,94l0,1 3,0 0,-1ZM56,91l-1,1 1,2-1,4 2,2 1,0 0,-4-1,-1 0,-3ZM284,90l2,-1-2,0ZM256,88l1,-1 2,0 1,1 0,2-1,1-2,0-1,-1ZM303,87h1v1h-1ZM291,86h1v1h-1ZM191,85l2,2-2,2-1,0-1,-2ZM323,74l-2,0-1,1 0,2 1,1 3,-2ZM297,62l2,0 2,2-2,4-2,0-2,-2 0,-2ZM75,57l1,-1 2,0 1,1-1,1-2,0ZM58,54l4,0 4,4 0,6 1,1 4,0 1,1 2,0 2,1 1,2 4,2-3,4 1,3-3,3 2,4 0,1-2,2-2,0-3,-2-1,0-2,2-3,-3 0,-2 3,-3 3,0 1,-1 1,-6-2,-2-2,0-4,4-3,0-3,-3 0,-2-2,-3 0,-5-2,-1 0,-4ZM72,52l2,2 0,2-4,2-2,-4 2,-2ZM29,50l0,7 2,1 1,-2-2,-2ZM4,49l1,1 0,-1ZM44,45l-2,1 1,2 2,-1ZM62,37l1,1 0,3-2,2-3,1 2,2 0,2-2,3-3,0-1,-1 0,-7 1,-1 0,-2 3,-3ZM13,35l0,2 2,0 0,-1ZM30,31l1,-1 1,1-1,1ZM6,9l3,0 0,-1-2,0ZM0,4l0,2 1,0ZM13,0l0,1 4,4-1,3 2,4 4,4-1,1 5,6-1,1 1,-1 4,5 0,1-2,2-2,-1 0,4-1,1 0,2 1,1 5,0 1,-2-1,-4 1,-1 5,5 1,0 6,7 2,0 1,-1 2,2-1,1 0,5-1,1 0,4 1,1 0,4-1,2 4,5 0,6 2,-1 6,0 1,1 0,4-4,3-3,0-2,-2 0,-1 0,2 2,1 4,4 0,3 3,0 4,6 5,0 3,2 3,0 3,-2 3,0 3,5 3,-4 1,0 2,2 0,2 2,3-3,3-3,-2-2,3 3,3-1,1-2,0-1,-1-2,0-1,1 0,1 2,2 0,2-1,1-4,0-2,-2-4,-2 0,-3 2,-2 1,0 2,2 0,-2-5,-6-3,3 0,2-3,3-1,6 5,5 0,1 5,4 2,0 1,-4 2,-2 3,3-1,2 0,3 1,1-1,2 0,3 3,3 2,0 3,3 1,3 2,1 4,0 4,5 2,0 1,1 6,-1 5,-3 6,1 1,-1 0,-5-1,-1-3,0-3,3-4,2-5,0-1,-1-2,0-2,-2 0,-4 1,-1 5,0 4,-4 0,-2-5,-6-2,0-1,-1-1,0 0,2 2,2 0,1-2,2-4,1-2,-2 0,-5-2,-4 0,-3 2,-4-2,-4 1,-2 5,-4 3,0 2,2-4,5 0,3 2,2 7,1 2,2 1,4 4,4 1,-1 0,-3-2,-2 0,-2 3,-5 2,1 0,3-1,1 0,2 1,1 2,0 0,-1 2,-1 1,-2 2,0 4,4 2,1 5,0 2,-2 0,-3 1,-1 4,0 1,-1 2,0 5,3 3,0 0,-3-1,-1 1,-1 8,0 1,2-2,2 0,1 4,0 1,-1-1,-1 0,-2 2,-2 3,0 4,4 1,-1 3,0 2,-2-4,1-3,-4 0,-2-1,-1 4,-3 1,-4 1,-1 2,0 3,3 0,2-3,3 0,1 6,-1 2,2 0,3 1,1 4,-2 3,0 1,1 3,-2 0,-2-3,-4 2,-2 8,0 1,-1 2,1 5,0 1,1 0,2 2,2 8,-2 1,-1 0,-2-1,0-2,-2 0,-1 2,-4 2,-2 4,-2 1,2-2,3 1,2-1,2 5,4 5,0 1,-1 3,0 2,-4 2,-2 8,1 1,1 4,-1 1,1 1,-2 3,0 2,-1 0,-3 2,-2 2,-1 2,1 4,-4 2,-1-3,-3 3,-4 2,-1 3,0 1,1-1,5 8,0 1,-1 0,-3 3,-2 5,0 2,-1 0,-2 1,-1 0,-5-1,-1 0,-7 2,-2 4,1 4,3 0,1-3,3-3,0 0,3-1,1 0,5 1,-1 4,1 3,-4 4,-1 4,-4 1,-2 3,3-1,3 2,2-1,1 1,1 2,0 0,-74ZM4,0l0,1 2,1 0,-2Z" fill="#4559cb" stroke="#4559cb" fill-rule="evenodd"/><path d="M101,143l0,2 2,1 4,0 2,-1 0,-1ZM119,140l-1,0 0,1ZM125,130h1v1h-1ZM121,130l-1,-1-1,2 2,0ZM109,129l-3,-3-1,0 0,1-2,2-4,2-8,0-4,-4-2,0-1,1 0,4 1,0 7,8 4,0 1,1 2,0 0,-5 2,-2 5,0 2,-2ZM70,114l0,5 3,2 2,0 1,-1 0,-4-3,-2ZM112,110l1,-1 1,1-1,1ZM69,109l-1,0-1,2 2,0ZM58,106l1,1 0,-1ZM221,103h1v1h-1ZM137,106l5,-4 5,0 3,3 0,2 1,1-2,2-2,0-4,-2-4,2ZM72,103l-2,0-1,3 2,0 1,-1ZM246,100l-2,1 2,0ZM82,85l1,2-2,1-1,-1ZM82,84l1,-1 1,2-1,1ZM201,83l0,1-2,1 0,3-1,1-2,0-1,-1-2,0-2,2-2,0-1,-1 0,-3 3,-2 5,0 2,-2 2,0ZM70,71l-2,2 0,5 1,1 2,-1 1,-2 0,-3ZM56,63l-4,2 0,6 5,0 0,-5-1,-1ZM299,61l3,3 0,1-3,4-4,2-1,-1 1,-2-1,-4 3,-3ZM76,47l2,1 0,3-1,1-1,0-2,-2 0,-1ZM53,46l-3,0 0,16 1,0 0,-1 3,-3 2,-4-3,-3ZM29,34l0,2 1,1 0,-3ZM17,3l1,6 1,2 4,4 1,6 3,3 0,1 3,3 0,1 4,4 3,1 6,7 5,0 1,1 3,0 5,-5 3,0 2,-1 2,2 0,4-1,2 1,0 2,2-3,4-2,0-1,1 3,0 2,4 2,0 0,-2 2,-2 4,0 2,3 3,0 2,2 1,2-2,2-8,-2 0,4-1,1 3,3 6,1 4,3 0,1-4,4 0,4-2,2 0,2 2,2 0,1-3,3-6,-1-2,2-1,0-2,-3-1,-6-4,1-2,2 0,1 1,0 5,6 5,0 3,3 3,0 4,-3 2,0 2,2 1,3 1,0 0,-1 2,-2 1,0 2,2 1,3 4,3-6,5-2,-2-2,0 0,1 4,3 1,6-1,1-1,5 1,1 1,4 2,1 2,0-1,-6-1,-1 0,-3 2,-2-1,-8 4,-4 2,-1 4,0 3,3 0,3-1,1-2,0-1,4 3,2 5,1 3,5 1,0 0,-2 2,-3 0,-2 2,-2 2,0 1,1 0,4-1,1 1,2 2,-1 2,-3 2,0 4,4 2,1 3,0 1,-1-1,-2 5,-5 1,1 7,0 1,1 3,0-1,-2 0,-3 1,-1 0,-2 3,-3 0,-1-4,-3 0,-2 1,-1 2,0 4,2 4,4 6,0 1,-1 3,0 1,2 3,0 0,-6 1,-1 4,0 4,5 0,4 5,0 3,4 1,-1 4,0 0,-2-2,-3 3,-3 8,0 1,-1 7,1 4,-3 6,0 1,-3 5,-5 4,0 3,4-1,1-3,0-1,1 0,3 1,2 2,1 2,0-1,-7 3,-2 3,0 2,3 0,3 2,-1 3,-4 2,0 3,2 1,-2-2,-2 0,-3 2,-2 2,0 3,3-2,4 1,4 2,-1 2,1 3,-2 0,-3-1,-1-2,0-2,-2 5,-5 1,0 3,3 0,1 3,0 1,-1 2,0 1,1 1,-1-1,-2 0,-4 1,-2 5,-4 2,0 4,3-1,4 5,0 1,-1 0,-3 2,-2 2,0 1,-1 4,-1 2,-2 0,-4-2,-3 1,-1 0,-3-1,-1 0,-2 1,-1 9,2 3,3-1,3-5,4 0,2 2,2 0,-1 3,-3 3,0 5,-4-4,-5 1,-3 1,-1 2,0 1,1 0,3 4,4 1,2 0,5 2,2 0,-12-2,-1 0,-1 2,-2 0,-57-315,0 0,2ZM14,0h1v1h-1Z" fill="#3e9bfe" stroke="#3e9bfe" fill-rule="evenodd"/><path d="M85,129l0,2 5,4 1,3 2,1 5,0 0,-4-1,0-4,-3-4,-1-2,-2ZM108,129l-2,-1-3,2-2,0-1,1 0,2 5,0 3,-3ZM71,116l0,2 1,1 2,0 0,-2-1,-1ZM142,110l0,1 2,1 6,0-1,-1-2,0-4,-2ZM110,109l1,-1 3,0 1,1 0,2-1,1-2,0-2,-2ZM93,105l-1,0-2,3 1,2 0,4-2,3 0,3 2,4 1,0-1,-7 2,-3 0,-3-1,-1 0,-4ZM235,96l0,2 2,2 0,-3ZM191,95l2,-1 1,2-1,1ZM263,92l0,2 3,0 0,-1-2,0ZM70,90l2,3 3,0 3,-2 0,-2-1,1-3,0-1,-1-2,0ZM216,87l1,1 0,2-5,4-1,-1 1,-3 3,-3ZM61,83l0,3 2,2 1,0 0,-4-1,-1ZM217,81l1,1 0,2-2,3-1,-1 0,-3ZM205,80l3,-3 2,0 2,2 0,2-1,1-5,0ZM70,72l-1,1 0,2 1,1 1,-1 0,-2ZM55,65l-2,1 0,4 3,0 1,-1ZM331,63l0,2 1,1 0,4 1,1 0,-8ZM318,64l1,2 1,-1 3,0 0,-1-2,-2-2,0ZM54,54l-2,0 0,4 2,-2ZM51,47l0,1 1,0ZM70,42l2,-1 1,2-2,1ZM18,0l0,6 5,7 3,6 0,3 2,2 0,1 14,13 1,2 5,0 1,1 2,0 5,-4 4,0 1,-1 2,0 2,2 0,5 2,2-1,5 7,0 0,-1 3,-3 1,0 2,2 0,6 3,4 0,3-2,1-3,-2-3,0-2,-1 0,4 1,2 6,0 4,4 0,3-3,3 0,4 1,1-1,1-2,0 0,2 1,1 2,0 1,-2 2,-1 2,2 0,2-2,1 0,5 1,2 1,-1 2,0 2,2 2,4 2,0 2,3 6,-1 5,4 1,4-2,2-2,0-1,2 1,1 2,0 1,1 4,1 1,1 0,2 2,-1 1,-4 3,-3 2,0 3,4-2,2 0,1 2,0 0,-2 1,-1 2,0 2,1 4,4 2,0 1,-1 0,-2 3,-3 0,-2-2,-3 0,-2 4,-4 2,0 1,-1 5,1 3,3 0,1 1,0 2,-2 0,-3-1,0-3,-3 0,-1 2,-2 4,0 2,2 6,3 2,0 1,1 1,0 2,-2 3,0 2,2 0,1 1,0 0,-3-1,-2 3,-3 2,1 3,0 3,-2 3,0 1,1 0,2-4,3 1,4 1,1 2,-2 2,1 3,4 1,0-1,-4 1,-2 3,-2 0,-4-2,-4-3,-2-4,3-3,-2 0,-4 2,-2 2,-1 4,0 4,-3 2,1 3,0 1,1 0,1-2,2 0,2 1,1-1,1-3,0-1,1 0,1 3,3 0,4 1,1 5,0 1,-1 6,1 5,-3 6,0 0,-2 5,-5 2,-1 3,0 5,3 4,0 1,1 7,0 3,-6 5,0 1,1 2,0 3,-4 3,0 4,4 3,-3 2,-6 2,-1 4,-5 1,0 3,3 3,1 1,2-2,3 3,0 1,-1-2,-2 0,-1 2,-2 5,0 4,-2 2,-2 0,-3-1,-2-2,0-3,4-3,1-2,2-3,-3 1,-2 0,-4 4,-4 2,0 4,4 1,0 1,-2-1,-1 0,-4 1,-1 3,0 1,1 1,-1 4,3 5,0 2,-1 2,-3 2,0 2,2 1,3 2,0 1,-3 2,-2 0,-55Z" fill="#19d5cd" stroke="#19d5cd" fill-rule="evenodd"/><path d="M90,133l2,4 2,1 3,0 0,-1-1,0-3,-4ZM106,130l-4,1 2,1 2,-1ZM104,111l1,2 6,1 2,2 1,-1 0,-2-2,0-4,-3-1,1ZM190,98l-1,2 1,1 2,0 0,-3ZM196,95l0,2 1,1 1,-1-1,-2ZM168,91l1,-1 3,0 1,1 0,3-1,1-2,0-2,-2ZM62,84l1,2 0,-2ZM213,83l-1,1-2,-1-4,0-1,1 0,3 1,2-3,3 0,5 1,1 4,0 1,-1 1,-7 1,-1 0,-2ZM80,83h1v1h-1ZM304,67l-1,0-1,4-1,1-3,0 1,2 2,-1 1,-2 3,0 0,-3ZM54,67l0,2 1,1 1,-2ZM333,64l-1,1 1,1-1,1 1,1 0,2ZM73,61l0,2 1,1 2,0 1,-2-1,-1ZM19,0l0,6 1,1 2,-1 2,1 0,3-1,2 4,7 0,3 1,2 5,5 1,0 4,4 1,2 1,0 3,3 3,0 3,2 2,0 4,-3 5,0 1,-1 3,0 1,1 0,4 2,2 1,0 3,-4 3,3 0,2-2,2-4,1 0,2 1,1 3,0 1,-3 2,-2 2,0 2,2 1,2 0,5 3,5-1,4-1,1 0,2 3,6 0,1-3,2 0,2 6,6 1,2-1,1-2,0-1,1 0,2 2,2 2,-1 2,2 1,3 2,2 2,0 1,1 0,2 4,0 1,-1 4,2 3,3 0,2 1,1 5,0 2,2 3,0 4,4 2,0 4,2 3,3 1,0 4,-5-2,-4 0,-3 3,-4 4,-2 2,0 1,1 3,0 2,1 1,2 2,0 0,-2-1,0-3,-3 0,-4 1,-1 4,-1 6,4 4,0 3,-2 2,2 4,0 1,1 0,-3 3,-3 2,0 2,2 5,-2 0,-7 2,-2 7,-1 2,-3 4,0 1,1 2,-1 4,-4 2,0 4,4 0,1 4,-1 2,2 0,2-1,1 0,5-1,2-6,5 1,2 2,0 6,-4 1,1 3,0 1,-3 2,-1 0,-1 2,-2 3,0 1,-1 4,0 3,2 3,0 2,-1 2,2 4,1 2,-2 0,-2 2,-2 4,0 1,1 2,0 3,-4 5,0 2,2 2,0 2,-2 0,-4-1,-2 2,-2 3,1 5,-6 4,5 2,0 0,-2-1,-1 1,-7 4,-4 4,-1 2,2 0,1 2,0-3,-4 0,-1 2,-2 8,0 2,2 0,1 6,0 2,-1 0,-1 2,-2 2,0 4,4 2,-2 0,-1 2,-1 0,-54Z" fill="#46f884" stroke="#46f884" fill-rule="evenodd"/><path d="M92,135h1v1h-1ZM106,112l4,1 0,-1ZM145,98l1,2 2,0-1,-2ZM217,94l-1,0-2,2 2,0ZM209,84l-2,0-1,1 1,2 0,3-3,4 0,2 1,1 2,0 2,-4 0,-5 1,-1 0,-2ZM304,68h1v1h-1ZM333,67h1v1h-1ZM70,49l2,-1-2,0ZM19,0l0,5 1,1 2,-1 2,0 1,1 0,4-1,2 4,7 1,6 2,1 1,2 2,0 2,2 1,0 1,1 0,2 3,3 2,1 4,0 3,2 2,0 2,-3 1,1 10,-1 1,1 0,4 1,1 3,-3 2,0 3,3 0,1 5,4 0,2 1,1 0,4 2,4-1,6-1,1 1,1 0,2 2,4 0,6 6,8-1,2-1,-1-3,0 0,2 2,1 2,-2 3,3 1,4 1,1 1,-1 2,1 0,3 1,1 1,-1 3,0 4,2 4,5 3,0 3,2 3,0 4,4 4,1 5,4 1,0 2,-3 0,-3-1,-1 0,-5 1,-2 4,-4 0,-3 2,-2 5,1 2,-2 2,0 1,-1 4,0 3,3 2,1 3,0 2,-1 2,-3 0,-2-2,-3 0,-1 2,-2 4,1 4,6 0,-1 4,-3 3,1 2,2 1,-6 2,-2 4,0 2,-1 4,-5 7,1 3,-3 8,0 2,3 4,0 4,2 0,2-1,1-1,-1-2,1 0,3 2,2-2,2-1,0 0,3 1,0 2,2 1,0 0,-1 3,-3 0,-2-4,-2 3,-4 3,3 0,2 4,0 1,-2 2,-1 4,3 7,-1 3,3 3,0 2,-4 2,-1 6,1 2,-4 10,1 1,-1-1,-6 3,-3 3,1 3,-4 4,0 2,1 0,-4 1,-2 5,-5 1,0 3,-4 2,-1 9,0 2,2 0,1 3,1 1,-1 2,0 4,-4 2,0 3,3 2,0 0,-1 3,-3 0,-52Z" fill="#a4fc3c" stroke="#a4fc3c" fill-rule="evenodd"/><path d="M165,91l-2,2-4,-1 0,2 1,1 2,0 2,-1ZM225,89l-1,0-2,2 2,1ZM86,87l0,2 1,0ZM230,85l0,1 2,0 0,-1ZM208,85l0,1 1,0 0,-1ZM20,0l0,4 1,1 1,-1 2,0 1,1 0,2 1,1-1,4 4,8 0,4 4,4 3,1 5,6 2,1 6,0 1,1 2,-1 2,0 1,1 10,-1 4,2 3,0 4,4 0,1 1,0 3,3 0,2 2,3 0,4 1,1 0,4-1,1 0,7 2,4 0,3 1,1 1,4 5,6 0,2 2,2 1,3 4,2 0,2-1,1 1,1 2,0 1,-1 6,3 3,4 2,0 3,2 4,0 4,4 5,2 4,3 2,-2 0,-2-2,-3 0,-3 5,-7 1,-4 2,-2 5,0 4,-2 7,0 1,-2 6,-1 0,-2 3,-3 5,1 4,3 1,0 4,-5 2,0 4,-3 3,0 8,-4 2,0 2,-1 0,-2 1,-1 4,0 3,2 5,-1 4,3 6,1 3,5 2,0 2,-2 2,2 3,1 4,4 2,0 1,-1 0,-2 3,-3 2,0 1,2-2,1 0,2 1,0 3,3 1,0 3,-4 6,0 5,-5 1,1 3,0 1,1 3,-1 0,-5 4,-4 4,0 0,-1 2,-2 4,-1 0,-1 10,-10 1,-2 3,0 1,-1 9,0 2,2 0,2 4,0 5,-5 4,1 2,2 3,-3 1,0 0,-52Z" fill="#e1dd37" stroke="#e1dd37" fill-rule="evenodd"/><path d="M205,66l2,-1 1,1 0,2-1,1-2,-2ZM20,0l1,3 3,0 2,2 0,7 1,1 0,3 2,2 1,7 1,0 3,3 3,1 5,6 8,0 1,1 3,0 1,1 10,-1 1,1 8,2 2,2 0,1 1,0 2,2 1,4 3,5-1,15 2,4 1,6 3,4 0,1 6,7 0,1 5,4 0,3 4,0 2,2 2,0 3,4 2,1 3,0 6,3 5,4 2,0 3,2 1,0 0,-3-2,-4 5,-7 1,-4 4,-4 2,-1 3,0 4,-2 2,1 3,0 1,-1-1,-1 2,-3 2,2 2,0 5,-5 4,0 5,3 2,0 3,-4 4,-1 3,-3 2,-1 6,0 4,-2 4,-5 1,1 3,0 4,2 1,-1 4,0 4,3 4,0 3,2 0,2 1,1 2,0 2,-2 4,2 4,4 0,1 2,1 1,-1 0,-3 3,-2 4,0 1,1-1,5 1,0 2,2 4,-5 1,1 4,0 4,-5 3,0 4,2 1,-1 0,-5 4,-3 4,-1 3,-3 3,-1 9,-9 0,-1 3,-3 3,0 1,-1 1,1 2,-1 6,0 3,3 0,1 3,0 2,-1 0,-1 2,-2 4,0 1,1 2,0 2,-2 2,0 0,-51Z" fill="#fea431" stroke="#fea431" fill-rule="evenodd"/><path d="M173,82l0,1 2,1 1,-1 0,-1ZM21,0l1,2 3,0 1,1 0,2 1,1 0,8 4,8-1,2 1,0 2,2 0,1 5,2 2,2 0,2 1,0 2,2 7,0 1,1 3,0 1,1 10,-1 4,2 3,0 6,4 2,4 0,2 3,5-1,15 2,4 1,6 3,4 0,1 3,3 0,1 3,3 0,1 8,7 4,2 2,0 2,2 0,1 12,6 3,0 4,3 0,-2-1,0-2,-2 5,-4 4,-7 0,-2 2,-1 5,-5 5,0 2,-2 1,1 2,0 3,-5 3,0 1,1 0,2 1,0 0,-2-2,-1 1,-1 4,0 1,-1 6,0 1,-1 3,0 1,-1 7,0 4,-4 9,0 2,-2 0,-3 2,-1 4,-4 4,-2 4,4 0,2 0,-1 2,-1 5,5 2,0-1,-1 1,-1 2,0 3,3 0,1 2,1 0,2 1,1 2,-2 2,0 2,2 3,1 3,3 0,1 1,0-1,-2 2,-2 7,0 2,2 0,2 2,0 3,-3 4,2 3,-4 6,-1 1,-1 2,1 0,-3 1,-1 1,0 3,-3 4,-1 6,-5 3,-1 2,-4 6,-6 2,-1 12,-1 2,1 2,2 0,1 3,0 2,-4 4,0 1,1 2,0 3,-2 2,0 0,-50Z" fill="#f05b12" stroke="#f05b12" fill-rule="evenodd"/><path d="M318,53h1v1h-1ZM21,0l1,1 3,0 2,2 0,6 1,1-1,1 1,1 0,3 2,2 0,4 1,1 0,2 3,3 4,2 4,4 4,1 1,1 7,1 1,1 10,-1 4,2 6,1 3,3 2,4 0,2 3,5-1,15 1,1 1,6 1,1 1,4 8,10 0,1 3,3 3,1 2,2 3,1 2,2 4,2 3,3 8,4 4,-3 1,0 3,-3 0,-2 4,-4 0,-2 8,-7 4,0 1,-1 2,0 2,-1 3,-4 3,0 1,-1 5,0 1,-2 1,1 4,0 1,-1 3,0 2,-1 1,-2 4,2 2,-1 0,-1 3,-3 7,0 1,1 2,0 1,-1 0,-4 5,-5 4,-2 3,0 2,2 3,1 2,2 4,2 4,0 5,6 4,0 2,2 4,2 3,0 1,-1 8,0 1,1 0,2 3,0 2,-2 6,0 2,-2 3,0 2,-1 1,-2 1,1 0,-1 6,-5 2,0 4,-3 1,0 3,-3 2,0 3,-4 0,-1 6,-6 3,0 4,-2 1,1 5,-1 1,1 4,1 2,-2 7,0 2,1 1,-1 3,0 2,-1 0,-49Z" fill="#c32503" stroke="#c32503" fill-rule="evenodd"/><path d="M26,0l2,2 0,9 1,1 0,4 1,1 0,4 1,1 0,2 13,10 6,1 1,1 3,0 1,1 10,-1 4,2 6,1 3,3 2,4 0,2 3,5-1,15 2,4 1,6 3,4 0,1 9,11 3,1 2,2 3,1 2,2 4,2 3,3 8,4 1,-2 5,-4-1,-1 2,-1 0,-1 4,-4 0,-2 4,-2 4,-4 8,-2 5,-5 19,-3 18,-9 1,2 2,2 1,0-1,-4-1,-1 5,-4 8,-4 3,1 4,4 4,1 10,5 1,2 2,1 1,-1 2,1 1,2 2,0 2,2 4,0 2,-1 1,1 5,0 2,2 2,0 2,-2 4,0 1,1 1,-2 2,0 1,-1 2,0 4,-2 6,-5 1,0 4,-4 1,0 2,-2 4,-1 1,-1 0,-2 6,-6 2,-1 3,0 1,-1 6,-1 1,-1 4,2 2,0 2,-2 16,0 0,-49ZM23,0h1v1h-1Z" fill="#7a0403" stroke="#7a0403" fill-rule="evenodd"/></g>
</g>
<use href="#lakes" fill="#c3e1eb" stroke="#4f6f7c" stroke-width="0.3"/>
<use href="#overlay"/>
<text x="145.6" y="85.9" font-size="6.3" font-weight="bold" text-anchor="middle" fill="#1b1b22">All cultivars</text>
<rect x="0.25" y="0.25" width="166.5" height="92.5" fill="none" stroke="#8a8a8a" stroke-width="0.5"/>
</svg>
<text x="434.40" y="198.70" font-size="5.65" font-weight="bold" text-anchor="middle" fill="#111" >2000-2024</text>
<svg x="12.9" y="308.3" width="167.0" height="93.0" viewBox="0 0 167.0 93.0" overflow="hidden">
<use href="#base"/>
<g clip-path="url(#dataclip)">
<rect x="0" y="0" width="167.0" height="93.0" fill="#30123b"/>
<g transform="scale(0.5) translate(0.5,0.5)" stroke-width="0.8" stroke-linejoin="round"><path d="M125,184l0,1 2,0 0,-1ZM109,185l10,0-1,-1-8,0ZM68,184l0,1 1,0ZM66,182h1v1h-1ZM91,179l-1,2 2,2 1,-1 0,-2ZM56,178h1v1h-1ZM115,175l-1,-1-1,1-3,0 0,2 1,1 2,0 2,-2ZM162,172l-2,1 0,2 2,-2ZM126,171l1,1 0,2-2,2 0,1 1,0 2,-3 0,-1ZM140,168l-2,2 1,1 0,2 2,2 1,0 1,1 0,2 2,1 1,-1 0,-3-3,0-1,-1 1,-3-1,-2ZM106,169l3,0 1,-2-3,0ZM83,164l0,2 2,2 0,1 2,2 1,0 1,-2-1,-3-2,-2ZM137,161l-1,1 0,3 2,0 0,-3ZM101,161l1,-1 1,1-1,1ZM199,158h1v1h-1ZM137,158h1v1h-1ZM69,158l-2,2 1,1 1,0ZM56,155l-1,-1-2,0-2,4 3,0 2,-2ZM189,149l0,2 2,2 1,0 1,-1 0,-2-1,-1ZM73,149l-2,0-1,1-1,6 2,-1-1,-2 3,-3ZM48,146l-1,0 0,7-3,2 2,0 1,-1 0,-2 2,-3-1,-1ZM154,144l1,2 3,0 1,1-4,3-2,-1 0,-2-1,-1ZM297,142h1v1h-1ZM251,136h1v1h-1ZM57,136h1v1h-1ZM274,135l1,2 2,1 1,-1-1,-2ZM193,134l1,1 0,3-1,1-1,-1 0,-3ZM35,132l-4,1-1,1 0,2 1,1 2,0 2,-2ZM257,131l0,2 1,0ZM86,130l2,-1 1,2-1,1ZM46,130l0,2 2,4 3,0 2,-2-5,-2-1,-2ZM58,128l-2,0-1,1 0,3 3,-3ZM298,128l-1,-1-1,2 2,0ZM289,127l-2,0-1,1-3,0-1,-1-2,2-2,0-1,1-4,-1 0,1 3,0 1,1 12,-1ZM222,125l1,-1 3,0 2,2 1,4-1,1-2,0-3,-3ZM35,125l-1,0 0,1ZM221,124l1,-1 1,1-1,1ZM106,123l1,-1 2,0 2,2 1,3-2,2-2,0-2,-2ZM68,123l2,-1 2,1 2,2 0,1-2,2-1,0-2,-2ZM59,123l0,2 1,1 1,-2ZM262,121l0,3-2,4 4,0 1,1-2,4 0,2 1,1 3,0 1,-2-2,-4-3,-3 0,-3 2,-1 0,-2ZM163,120l2,4 2,2 0,2-3,3-5,1-2,-2 0,-2 3,-3 0,-3 2,-2ZM93,119l1,0 3,3 0,3-2,2-1,0-4,-4 2,-1 0,-2ZM259,119h1v1h-1ZM225,118l1,-1 3,3 0,1-2,1ZM252,114l1,2-3,3-3,1-1,-2 3,-3ZM219,114l2,2 0,3 1,1 0,3-1,1-2,0-3,-3 0,-5ZM69,114l2,1 0,3-1,1-2,-2 0,-2ZM252,114l1,-1 1,1-1,1ZM107,113l1,2-3,3-1,0-2,-2 3,-3ZM296,111l0,1 2,2 2,-1-2,-2ZM41,109h1v1h-1ZM33,108l-1,0-1,3 2,-2ZM280,107h1v1h-1ZM80,105l1,-1 2,1-1,1ZM305,104l-1,1 1,2 1,0 0,-3ZM55,102l-2,0-2,-2-2,0-1,3-3,4 0,5-1,1 1,2 2,0 1,-1 0,-1-3,-3 2,-2 4,-1 4,3 2,-2-2,-2ZM310,98l2,-1 1,2-1,1ZM85,97l2,0 4,3 0,5-3,2-2,-2 0,-2-2,-2 0,-3ZM72,100l3,-3 2,0 4,4 0,3-1,1-4,0-4,-3ZM85,90l1,-1 3,0 2,2 0,3-1,1-3,0-2,-2ZM47,89l-2,4-2,2-2,0-3,-3 0,-2 0,5-2,2-2,0 0,1 1,1 4,-1 2,2 1,0 0,-1 5,-4ZM303,88l1,-1 1,1-1,1ZM26,87l-2,-1-1,1 0,2 1,0ZM64,80l1,1 0,2-1,1 0,4-3,2-2,0-1,-1 2,-6 3,-3ZM35,79l-3,1-1,1 0,3-3,2 5,-2 2,-3ZM321,79l-4,3-1,-1-2,1 0,1-2,2-6,3-1,-1 0,-3-1,0 0,3-1,1-1,-1-2,0-2,-2 0,-2 3,-2 4,0 2,-1 1,2 1,0-1,-3 4,-3 1,1 4,0ZM54,72l2,1 0,2 2,2 0,3-1,1-2,0-3,-4 0,-3ZM37,64l-1,1 1,0ZM57,63l2,-1 1,2-2,1ZM39,62h1v1h-1ZM21,59l0,2 2,1 1,-2-1,-1ZM4,55l0,2 2,0 1,-1-1,-1ZM15,53l-3,1 0,1 2,1 1,-1ZM80,51l1,0 2,3 0,1-2,2-2,0-1,-1 0,-2ZM77,50l1,1 0,2-2,2-1,0-2,-2 3,-3ZM62,50l1,-2 2,-1 3,3 0,1-1,1-3,0ZM1,48l-1,0 0,2ZM25,46l2,2-1,5 1,0 2,-2 2,0 1,1-1,6 2,0 1,-1 0,-5-3,-4 1,-2ZM34,43h1v1h-1ZM9,40l0,2 1,0 0,-2ZM1,33l-1,0 0,3 1,-1ZM10,29l-1,1 0,3 2,1 1,-1 0,-2ZM8,24l0,1 2,2 1,0-1,-1 0,-2ZM15,19l-1,1 1,2 2,-1ZM5,20l-4,0-1,-1 0,8 1,-2 5,-4ZM0,14h1v1h-1ZM6,10l-1,1 0,3 2,4 2,1 1,-1 0,-6-2,0ZM8,5l0,2 1,0 5,-3 4,7 0,4 2,0 1,2 8,7 0,2 1,1 0,2-4,4-4,-1-2,-4-7,-1 8,8 2,1 2,-1 4,0 3,-2 2,0 1,1 4,0 4,4 2,4 0,3-2,2 0,1 2,0 2,3-1,1-3,0-1,2 4,4 3,-4 2,1-2,4 0,3-1,1 0,3-1,1 1,5-4,2-2,2 0,1 2,1 3,0 2,2 0,7 5,0 2,2 1,2-1,6 2,2 3,1 2,3 0,2-1,1 0,2-2,4-1,6 5,5 2,1-2,2 1,1 4,0 1,1-1,3-3,2-2,-2-1,0 0,3 6,3 2,-1 3,-4 4,0 2,4 2,2 0,2 2,1 4,4 2,0 1,1 1,-2 4,0 5,5 0,1-2,2-4,0-1,-1-5,0-2,1-1,-1-2,2 1,1-2,2-1,0-1,-2-2,-2-1,0-1,1 2,4 0,2-2,2 1,2 1,-1-1,-2 4,-3 3,1 3,3 2,0 0,-1-2,-1-2,-3 1,-3 1,-1 8,0 3,5-2,2-1,0 0,3 3,1 2,2 2,0 0,-2-1,-1 1,-1 2,0 1,-1 5,0 2,-1-1,-6 3,-4 2,2 0,3-1,1 0,3-1,1 1,1-1,2 2,2 0,5-1,1 4,-4 3,1 1,-2-3,-3 0,-1 2,-2-1,-5 1,-1 6,0 3,3 1,0 0,-5 4,-2 5,-5 2,0 3,3 2,0 1,1 0,2 3,0 3,2 4,0 5,-3 0,-3-3,-3 0,-1 4,-4 6,1 0,-3 2,-2 4,0 1,1 0,4 1,1 5,0 1,-1 16,1 3,-5 0,-4 4,-6 2,0 2,2-1,2 0,8 3,3 2,-1 4,0 1,-1 5,1-1,-1 3,-4 2,0 2,2 1,0-1,-2 0,-3 3,-3-1,-5 2,-3 1,0 2,3 3,0 1,-1 2,0 1,1-1,5-2,2-2,0-1,3 2,2 3,1 1,-1-2,-2 0,-2 1,-1 2,0 5,-5 0,-1 2,-1-1,-4 2,-2 6,-3 0,-4 1,-1 5,0 7,-5 4,1 0,-3 1,-1 8,0 1,1-3,4 4,0 0,-4 1,-1 7,0 4,-3 5,3 6,0 3,-2 3,3 4,-2 3,0 1,1 4,0 2,-1 0,-100-320,0 1,3-1,1-4,-1ZM2,0l-2,0 0,3 2,-2Z" fill="#4559cb" stroke="#4559cb" fill-rule="evenodd"/><path d="M97,160l0,1 3,1 0,-2ZM117,146l1,-1 2,1-1,1ZM111,139l1,-1 2,0 2,2 1,3-1,1ZM178,130l1,-1 1,1-1,1ZM74,129l-2,0-4,4 0,2 2,0 4,-4ZM86,127l4,0 1,1 0,2-2,4-1,0-3,-3 0,-3ZM67,124l-1,1 0,2 2,-1ZM199,122l2,2 0,2-1,1-1,0-2,-2 0,-1ZM253,122l-2,1-1,-1-2,3 0,3 2,-1 1,-4ZM214,122l0,4 5,5 2,0 3,5 2,-2 0,-1-2,-1-1,-2-3,-3-1,0-4,-5ZM106,121l4,1 3,3-1,4-3,2-2,-1-2,-3 0,-5ZM72,121l1,-1 2,1-1,1ZM163,119l2,2 0,1 2,1 1,2 0,3-1,2-4,3-2,0-1,1-4,-2-2,0-1,-1 0,-3 1,-1 3,0 2,-1 0,-5 2,-2ZM93,119l2,0 3,3 0,3-4,5-4,-5 0,-2 2,-1 0,-2ZM71,120l1,-1 1,1-1,1ZM68,113l2,0 1,1 0,4 1,1-1,1-1,0-4,-4 0,-1ZM108,112l2,2-5,5-2,0-2,-3 4,-4ZM243,108l0,-2 2,-1 1,2-2,2ZM289,104h1v1h-1ZM50,102l-2,4 4,0 2,2 1,0 0,-1-2,-2 0,-2-1,-1ZM94,100l1,-1 2,0 1,2-1,1-2,0ZM325,95l1,-1 1,1-1,1ZM91,90l1,4-2,2-3,0 1,1 2,0 2,2 0,6-2,2-2,0-3,-2-2,0-1,1-7,-1-4,-3 0,-2 3,-3 3,-1 5,5 1,2 2,0-2,-2 0,-2 2,-3-1,-6 2,-2 3,0ZM53,83l0,3 3,1 1,-1 0,-3ZM321,79l0,3-3,2-2,-2-1,0-6,6-2,0-3,2-4,-2-3,-3 0,-1 3,-3 5,-1 2,-1 0,-1 2,-2 2,1 1,-2 4,2 3,0ZM62,73l2,-1 2,2 0,1-1,1-2,0-1,-1ZM72,62l2,0 1,1 0,3 1,1-1,2-4,-4 0,-2ZM58,60l3,2 0,3-1,1-3,0-1,-1 0,-3ZM70,53l4,-3 4,-1 2,1 4,5-3,3-2,0-4,-3-3,0ZM29,48l0,1 1,0 0,-1ZM64,46l2,0 2,2 1,2 0,2-1,1-5,0-1,-1 0,-4ZM22,33l1,2 2,-1-1,-1ZM17,29l2,2 1,0 0,-2ZM0,21l0,1 1,0 0,-1ZM7,13l0,2 2,1 0,-2ZM14,0l0,4 4,8 2,2 1,3 4,4 1,0 4,4 1,2 0,3-3,2 0,2 2,0 2,-2 2,1 4,0 5,5 1,3 2,2 2,4-1,1 1,1 0,3-3,2 4,-2 2,0 2,3-2,4 0,4 1,1 0,2-2,2 1,4-2,2-4,1 0,1 4,1 1,1 2,0-1,-4 3,-4 3,2 0,3 2,2 0,3 3,0 2,-1 2,2 0,2-2,1 0,3 1,2-4,2-3,4 0,2 5,4 0,2 1,1 0,3-2,2 0,2-1,1 0,1 1,0 2,2-1,1 0,3 1,1 2,0 1,-1 2,2 2,0 4,3 0,2 3,3 0,1 2,0 3,5-1,1 0,3 1,1 3,1 4,3 3,0 1,-1 3,1 4,4 0,3-4,3 3,1 3,3 8,1 1,-1 0,-5 3,-5 3,4 0,2-1,1 0,5 1,1 1,4 3,0 0,-1-1,0-2,-2 0,-1 2,-1 1,-2-2,-3 0,-6 1,-1 2,1 0,2 1,1 4,0 1,-1 2,1 0,-1 2,-2 4,-1 1,-1 1,-4 3,-2 1,0 5,5 2,0 0,-2 5,-3 0,-2 2,-1 0,-1 2,-2 2,0 2,2 1,-1 5,0 2,-3 4,0 2,-1 1,-2 1,1 0,3 2,2 0,2 1,1 4,-2 3,0 1,-1 0,-3-3,-4 2,-4 1,0 4,5 0,2 2,3 0,2 4,0 4,-3 0,-3 1,-2 5,-6 0,-5 2,-2 3,0 4,-4 3,3 0,4 1,1 1,0 0,-3-1,-1 1,-2 2,0 3,3 0,1 2,2 0,2-2,2 2,4 0,2 3,-2 0,-5 1,-1 0,-3 3,-3 2,0 1,1 0,4 2,0 1,-1 0,-3 2,-2 2,0 5,-6 1,1 6,0 4,-2 7,-1 4,-4 1,1 3,-4 16,1 6,-4 6,1 3,-4 5,0 2,-2 2,0 1,1 0,6-1,1 2,0 2,-2 7,1 0,-1 3,-3 0,-11-2,-2 2,-2 0,-80ZM1,0l-1,0 0,1Z" fill="#3e9bfe" stroke="#3e9bfe" fill-rule="evenodd"/><path d="M118,157l0,3 2,0 1,-2-1,-1ZM119,136l1,-1 2,0 1,1 0,2-3,2-1,-1ZM103,136l1,-1 2,2-2,1ZM73,130l-1,0-2,2 0,1ZM67,126h1v1h-1ZM197,122l4,0 2,2 0,5-1,1-3,-1-4,-4 0,-1ZM96,119l2,2 0,5-1,1 0,5 1,1-2,1-2,-2 0,-1-3,0 0,2-2,2-2,0-2,-2-1,-5 3,-3 2,1 0,-2 2,-2 1,0 0,-3 1,-1 1,1ZM65,118h1v1h-1ZM205,116l1,-1 1,1-1,1ZM196,118l0,-2 2,-1 1,2-2,2ZM106,111l3,0 2,2 0,1-4,4 1,3 2,0 3,3 0,4-3,4-4,-1-1,-1 0,-7-3,-4 0,-1-3,-2ZM262,106l1,-1 2,1-1,1ZM51,104h1v1h-1ZM295,90l1,-1 1,2-1,1ZM70,99l2,-2 3,-1 1,-2 5,5 1,0 2,-3 0,-5-1,-1 0,-2 1,-1 3,0 1,1 2,0 2,2 0,2 1,1 0,4 1,1 3,0 2,2 0,2-1,1-4,0-4,5-5,-3-2,0-1,1-6,0-1,-1-2,0-3,-3ZM55,84l-1,1 2,1 0,-2ZM60,77l0,2 1,-1ZM47,75l4,2 0,-2ZM80,73l2,3 0,3-2,2-1,0-1,-2 1,-1 0,-4ZM78,61l1,-1 1,1-1,1ZM76,58l2,2-2,4 1,2 0,3-1,1-2,0-1,-2-1,0-3,-3 1,-1 0,-2 3,-2 2,0ZM49,47l-1,1 1,2 2,0 0,-2ZM61,48l3,-3 2,0 4,5 3,0 1,-1 5,0 5,6 0,2-2,1-2,3-1,-2-2,0-2,-3-3,1-4,-3-5,0-2,-2ZM58,41l2,-1 1,2-2,1ZM45,37l2,-2 3,0 2,2 0,1-2,2-2,0ZM14,0l1,1 0,5 4,5 1,4 12,12 1,4 1,1 3,0 4,3 1,0 2,2 0,4 3,4 1,0 3,-3 3,1 2,2 0,4-2,2 0,2 2,2 0,3 4,2 2,2 0,3-2,2-2,-1-4,0-3,3 0,1 1,1 1,-1 4,1 1,1 0,3 1,0 0,-1 3,-4 2,0 3,3 0,4-1,1 1,2-1,1 0,2-2,1 0,3 1,2-2,2-1,0-3,4 1,3 1,0 3,3 0,2 2,3 0,1-4,3 0,2 2,1 4,0 2,-1 1,1 0,5 6,5-1,1 1,4 1,0 6,6-1,2 0,3 8,5 2,-1 5,0 1,2 4,3-1,1 0,3-2,1-1,2 8,4 4,-2 0,-2 4,-8 4,4 0,1 0,-3-4,-2 1,-3-6,-6 3,-3 3,3 0,1 3,3 0,1 3,3 0,1 3,4 4,0 2,-1 3,-4 1,1 0,-1-2,-2 0,-2 3,-2 1,1 6,-1 4,4 2,0 0,-1 2,-1 2,-2 0,-1 2,-2 1,0 0,-1-5,-1-4,5-2,0-1,-1 1,-3 2,-2 4,-2 0,-3-2,-2-1,0-1,-2 1,-1 5,0 2,2 3,0 0,-6 2,-2 4,0 2,4 1,0 2,2 0,3-1,1 0,2-2,2 0,2 2,0 2,-3 4,0 6,-5 1,0 2,2 0,2-2,1-1,2 2,1 2,-3 1,1 0,2 1,1 2,0 0,-3-4,-2 1,-2 4,-4-1,-1 1,-1 2,0 2,3 0,2 4,8 2,0 1,-1 2,0 0,-4 4,-3 3,-6-1,-1 0,-4 1,-1 6,0 0,-1 3,-3 2,1 5,0 6,-3 2,0 1,2-3,3-1,0 0,3 3,3 0,2 1,-1 0,-3 4,-5 0,-3 4,-4 0,-1 4,-3 2,2-1,1 1,1 0,2-4,2 0,2-1,1 1,1 4,0 2,-2 0,-2-2,-2 2,-2 3,0 4,3 2,0 3,-3 1,2 2,-2 5,0 2,-1 3,-4 4,-2 7,0 3,2 3,0 5,-3 2,0 2,-2 4,0 1,-1 0,-2 2,-2 1,0 0,-2-2,0-3,2-5,-3-2,0-1,-1 0,-2 3,-4 6,-2 4,-4 1,1 2,-2 4,2 4,0 3,3 0,1 4,5 0,3-2,3-3,0-2,-2 0,-2 1,-1-6,-3-2,2 0,2-2,2 0,3 1,1 2,0 0,-1 3,-3 1,0 4,4 1,2 1,0 0,-1 2,-2 1,0 2,2 4,0 0,-9-3,-3 0,-1 2,-2 1,0 0,-79Z" fill="#19d5cd" stroke="#19d5cd" fill-rule="evenodd"/><path d="M119,158l0,1 1,0 0,-1ZM151,137l-1,1 1,0ZM197,130l0,3 2,1 1,-2-2,-2ZM175,120l2,-1 1,1 0,2-1,1ZM198,120l0,1 5,0 2,2 1,0 0,-2-1,0-3,-4-1,0ZM234,114l-2,1 0,1 1,0ZM246,110l-1,1 0,2 3,0 1,-2-1,-1ZM63,110l0,1 2,0 0,-1ZM217,105l1,-1 2,2 0,1-1,1-2,-2ZM228,102l2,-1 1,2-1,1ZM288,98l1,2 3,0 0,-2-1,-1ZM324,92l-2,0 0,1 1,1ZM305,92l-2,0-2,-2-2,0-3,7 2,0 2,-2 3,0 2,-2ZM314,85l0,1 4,2 2,-2-3,0-2,-2ZM74,57h1v1h-1ZM62,44l6,0 1,1 0,3 1,1 8,-1 7,8 0,1-3,3 0,1-2,2-2,0-1,2 1,2 0,3 1,0 3,3 0,3 2,2-1,3-2,2-3,0-1,-1 1,-2 0,-4-1,-1 0,-2-1,0-3,-3 0,-1-5,-4 4,-7-1,0-3,-3-6,0-2,-2 1,-2 0,-2-1,-1ZM45,40l0,2 1,2 1,0 2,-2-2,-2ZM15,0l1,2 0,4 2,4 2,2 1,3 12,13 0,2 1,1 3,0 5,4 4,0 1,-1 4,1 1,-1 2,0 1,1-1,6 2,0 2,-2 3,0 1,1 0,4-4,3-2,4 0,2 2,2 0,2 4,3 1,4-2,3-6,0-2,2 3,0 2,2 1,-1 3,0 2,-1 5,6 0,2-1,1-1,5-1,1-2,0 1,6-4,3-1,3 2,2 1,0 4,-3 4,2 1,-1 2,0 0,-2 2,-2 4,4 0,1 2,1 2,-3 0,-2-2,-3 0,-3 3,-4 8,7 1,6 1,1 2,0 3,3 0,2-2,2-4,-1-1,2 0,3-1,1-7,-4-6,1-1,1-1,-1-5,-1-3,-3 0,-2-2,-1-2,1 0,2 3,3-1,1 0,3 1,2 1,0 2,2 0,5 7,6 0,3 2,1 3,3 0,1 1,0-2,-3 1,-2 4,-4 2,1 2,-2 1,0 0,-3 1,-1 2,0 3,2 1,2 0,2-1,1 0,5 2,3 0,2-1,1-3,0-2,-2 0,-1-2,-1-3,4-5,0-1,1 2,3 1,0 4,3 5,-1 1,1 3,0 2,3 2,0 1,1 0,6-1,1-3,0 1,2 4,2 4,0 2,-2 5,-12-6,-6 0,-5-3,0 0,4 1,1-1,1-2,0-1,1-2,-2-2,-4 2,-2-1,-1 3,-3 0,-6-2,-2 0,-1-5,-4 0,-2 1,-1 2,2 7,-4 2,0 2,2 0,2-3,4 0,2 1,1 2,0 4,4-2,2 0,4-1,1 4,5 1,0 4,-3 3,3 0,1-3,3 0,3 4,6 4,0 3,-4 0,-4 3,-3 2,1 4,0 1,-1 1,-3-2,0-2,-2 1,-1 6,0 1,-1 2,0 1,-2-5,-5 0,-2 1,-1 2,0 1,1 4,0 2,2 3,0-1,-1 0,-4 3,-3 5,0 1,1 0,2 4,3-1,6 3,0 0,-3 3,-3 2,1-1,2 1,1 1,0 2,-2 1,0 2,2 2,0 3,-3-4,-5 1,-1 2,0 6,3 1,-1 0,-3 3,-4 6,1 1,-1 4,0 1,-1 3,2 2,0 3,-3 7,0 1,-1 4,-1 2,-2 6,1 9,-7 1,0 2,2-1,1 0,2 2,0 1,-1 4,0 2,2 2,0 0,-2 1,-1 11,0 2,-4 2,0 4,-2 7,0 0,-1 2,-2 2,-1 1,1 1,-1 0,-2 2,-2 0,-3 2,-4 2,-2 4,-2 2,0 3,-3 4,-2 8,0 2,1 5,6 2,4 0,6 1,1 4,0-1,-6-4,-5 3,-3 2,0 0,-78Z" fill="#46f884" stroke="#46f884" fill-rule="evenodd"/><path d="M84,137l0,1 1,1 2,0 2,2 0,1 3,0 0,-2 1,-1 1,0 2,3 3,0 2,2 0,1 1,0 2,2 0,5 1,1-2,2-1,0 3,2 4,0 1,-2 2,-1 2,-4 0,-2 2,-3 0,-1-6,-6-7,2-3,-3-3,1-5,-5 0,2-2,2-3,0-1,-1ZM199,120l3,0 0,-1-2,0ZM246,111l0,1 1,0 0,-1ZM209,107l0,-2 2,-1 1,2-2,2ZM251,104l-1,-1-1,2ZM213,103l1,-1 4,0 3,3 0,3-2,1ZM282,94l1,-1 1,1-1,1ZM236,94l2,-2 2,0 3,3-1,1-4,0ZM300,92l0,2 2,-1ZM331,89l-1,-1-1,2 2,0ZM330,85h1v1h-1ZM328,71l2,-1 2,2-2,1ZM56,68l1,1 2,0 0,-1-2,-1ZM64,63l-1,1 0,3-1,1 3,0 5,8 0,2-2,4-2,2-2,0 1,7-2,1 0,1-2,2 1,1 2,-1 3,0 1,-1 1,1 4,0 0,-3 3,-2 3,3 0,1 2,2 1,0 1,-1 0,-3-2,-2 0,-4-5,-4 1,-2 0,-4-3,-3-1,-3-6,-5 1,-2ZM65,56l0,3 1,1 2,0 1,-2-2,-2ZM60,49l-2,1 1,1ZM73,41l1,1 0,2-3,2-1,-2ZM46,41h1v1h-1ZM16,0l0,5 3,6 2,2 1,3 14,15 2,0 3,3 5,0 1,-1 4,1 1,-1 1,1 5,1 2,2 0,1 2,1 1,4 5,0 2,2 0,3 3,0 1,-1 4,1 4,4 0,1 5,6 0,4-7,5-1,-1 0,2 3,3 0,2 1,1 0,2 2,2 0,2 2,1 1,3 5,5 2,5 5,4 0,4 1,2-2,2-2,-3-3,0-1,4-1,1-7,-4-6,1-1,1-2,-1-3,0-1,-1-4,0 0,3 1,2 2,1 0,7 6,5 1,0 2,2-1,1 1,1 3,-1 4,-3 3,0 2,-1 0,-3 1,-1 3,0 3,3 0,7 2,1 3,-2 0,-3-2,-4-5,-4 0,-5 1,-1 1,2 2,1 7,-4 2,0 2,4-3,4 0,3 8,4 0,1-3,2 0,7 3,2 2,-2 4,0 1,1 0,4-2,3 0,2 1,1 0,2 1,0 2,3 4,-2 0,-4 5,-7 3,3 2,-1 0,-1-4,-2 3,-4 2,-1 7,0 0,-1-4,-5 0,-4 1,-1 4,2 4,0 2,2 1,0 0,-3 2,-4 8,-2 4,3-2,2 0,1 4,2 2,-1-1,-2 4,-4 3,5-1,3 2,0 2,2 2,0 2,-2 0,-1-6,-3 4,-4 4,1 1,1 2,0 5,-6 9,0 1,-1 3,0 4,2 3,-3 7,0 5,-3-1,-3-1,0-4,-3 0,-2 2,-4 4,5 3,0 2,3-1,2 2,2 2,0 9,-7 8,0 1,1-2,1 0,2 1,0 0,-2 1,-1 1,1 6,0 1,1 3,0 7,-5 12,-1 4,-4 2,0 0,-5 2,-1 1,-2 5,-5 4,-1 3,-3 6,-3 5,0 1,-1 3,2 5,0 1,1 0,3-1,1 1,1 2,-2 4,-1 0,-77Z" fill="#a4fc3c" stroke="#a4fc3c" fill-rule="evenodd"/><path d="M97,139l-1,1 0,2 5,-1 2,2 0,3 1,1 0,5 2,0 1,1-2,2 0,1 3,1 2,-4 2,1 4,-10-6,-6-2,1-3,0-2,1-1,2-2,-2 0,-1ZM87,137l-2,0 0,1 1,1ZM93,136l-1,0 0,1-2,1 1,4-1,-3 2,-1ZM181,123l0,1 1,0 2,2 2,-1 0,-2-2,-1-2,0ZM174,113l-3,4 1,1 1,0 2,-3ZM103,127l0,-4-3,-5-2,0-2,-2 0,-5 1,-1 0,-5-1,-1-2,0 0,4-1,1-8,-4-6,1-1,1-2,0-1,-1-4,0-2,-1-1,2 4,4-1,2 0,5 9,7 6,-1 1,-1 3,0 2,-1 0,-3 2,-2 2,0 3,4 0,5 2,2ZM222,102l-1,1 1,1 0,5 2,0 3,-2 0,-2-2,-2ZM234,99l1,-2 0,-3 2,-2 5,0 4,4-4,2-4,-1 0,3-1,1ZM80,92l0,3 3,0 0,-3ZM68,67l-1,0 0,3 3,4 1,3-1,1 0,4-1,1-5,1 0,3 1,1-1,6 1,1 2,-1 0,-2 1,-1 1,1 4,0 3,-2 3,0 1,-2-1,-2-3,-2 0,-4 1,-1-1,-1 0,-2-3,-2-1,-4ZM16,0l1,6 4,8 6,6 0,1 8,9 2,0 3,3 2,0 1,1 2,-1 4,0 1,1 2,-1 4,2 4,0 4,7 6,0 3,-3 2,2 1,2 0,3 3,2 0,1 3,3 0,1 3,3 0,1 4,5 0,2-2,2-2,-1-4,4 2,2 0,5 2,2 0,2 3,2 1,3 3,3 3,6 6,5 0,5 1,1-2,3 0,4 5,-1 5,-4 3,5-4,7 4,3 3,0 1,-1 2,2 0,1-5,4 0,4 1,2 2,1 1,-1 4,-1 3,3 0,3-3,4 1,1 0,2 3,3 2,0 1,-1 0,-5 2,-1 3,-6 4,-4 4,-2 3,0 0,-2-2,-2 0,-3-1,-1 0,-3 1,-1 3,0 4,3 3,0 2,1 1,-1 0,-4 1,-1 2,0 3,-2 6,0 2,-3 9,0 1,1 0,4-1,2 3,0 3,-3 2,1 5,0 4,-5 9,0 1,-1 3,0 1,1 4,1 3,-3-1,-2-2,-2 0,1-4,4-3,-3 0,-2 4,-4 4,-2 5,0 2,-1 0,-3 3,-2 2,0 2,2 0,4 5,0 1,1 0,5 3,0 3,-3 3,-1 1,-1 0,-3 1,-1 1,2 2,1 2,-1 6,3 3,-1 5,3 4,-4 4,-2 5,0 2,-1 2,-4 2,0 1,1 0,2 1,0 3,-3 0,-2 2,-4 1,0 5,-5 7,-3 2,-3 4,-2 4,0 4,-2 4,3 1,-1 4,0 1,-1-1,-2 1,-1 3,0 2,2 0,1-3,3-1,-1-1,1 0,2 1,0 2,-2 2,0 0,-75Z" fill="#e1dd37" stroke="#e1dd37" fill-rule="evenodd"/><path d="M97,140l0,1 1,0 0,-1ZM110,138l-7,2 1,12 2,0 1,1 0,3 1,0 0,-2 1,-1 3,1 2,-4 0,-2 2,-3 0,-1ZM183,123l0,1 2,1 0,-1ZM154,119l0,2 1,0 0,-2ZM99,119l0,2 1,1 0,4 2,1 1,-1-1,-5-2,-2ZM173,115h1v1h-1ZM93,109l1,-1 1,1-1,1ZM215,108l-4,2 1,1 2,0 1,-1ZM225,104l-2,0 0,3 1,1 2,-2ZM97,105l-2,-1-1,1 0,3-1,1-8,-4-6,1-1,1-3,0-1,-1-5,0 0,1 3,3 0,2-1,1 0,5 9,7 6,-1 1,-1 3,0 2,-1 0,-3 1,-2 2,-1 0,-4-1,-2 3,-2ZM245,99l-1,-1-5,1-2,4 2,0 4,-2ZM81,92l-1,2 2,1 1,-2ZM74,76l-1,0-2,2 0,4-1,1-6,1 1,7 8,1 7,-4-5,-5 0,-6ZM333,73h1v1h-1ZM322,71l1,-1 1,1-1,1ZM68,69l0,2 2,2 0,1 1,0 1,-1 0,-2-2,-2ZM16,0l2,4 0,3 2,4 2,2 0,2 4,3 2,4 4,3 2,4 4,1 3,3 4,0 1,-1 2,0 1,1 3,0 4,2 4,0 5,7 4,-1 4,-3 2,2 4,9 3,3 0,1 8,10-1,2 0,3-1,1-3,-3-2,2 0,2 2,1-2,4 7,10 0,1 2,2 3,6 7,6 0,7-1,1 0,3 3,0 3,-2-1,-2 1,-2 1,0 1,2 1,0 3,4 0,2-3,4 0,2 5,3 2,-2 3,3 0,1-5,4 0,5 1,1 2,0 1,-1 4,0 2,2 1,3-1,1 0,2-2,2 0,2 4,3 1,-1 0,-3-1,-1 5,-4 1,-3 5,-5 5,-2 0,-2-2,-2-1,-2 0,-3-1,-1 2,-2 2,0 1,-1 1,1 2,-1 1,2 2,2 1,0 3,-4 3,0 4,-3 6,0 3,-3 3,0 1,-1 4,0 3,3-1,5 2,0 1,-1 0,-7 3,-2 1,0 3,3 0,1-2,2-2,0 0,1 6,0 3,-3 5,0 1,-1 3,0 1,-1 1,1 2,0 0,-1-3,-3 1,-2 5,-5 7,-1 0,-1-2,-2 0,-2 2,-2 2,2 3,0 2,-2 6,1 1,1 0,1-2,2 0,2 1,1 3,-2 1,-4 2,-2 4,0 1,1 4,1 3,3 0,1 2,0 2,2 3,0 1,1 4,-1 2,3 2,0 1,-2 3,-2 9,-2 4,-5 5,1 2,-2 1,-4 2,-1 5,-5 6,-2 3,-3 6,-3 10,-1 1,2 1,-1 2,0 2,-4 3,0 2,1 0,-69Z" fill="#fea431" stroke="#fea431" fill-rule="evenodd"/><path d="M126,142l-2,0 0,3 1,1 1,-1ZM103,140l1,12 8,2 4,-10-6,-6ZM100,120l0,5 2,1 0,-4ZM95,114h1v1h-1ZM206,108l0,1 1,0ZM224,105l0,1 1,0 0,-1ZM95,105l-1,2 2,1 0,-3ZM93,109l-8,-4-6,1-1,1-8,0 2,2 0,3-1,1 0,5 9,7 6,-1 1,-1 3,0 2,-1 0,-3 1,-1 0,-5 1,-1 0,-2ZM244,99h1v1h-1ZM81,93l0,1 1,0 0,-1ZM74,77l-2,1 0,4-1,1-4,0-1,1-2,0 1,7 8,1 7,-4-6,-6 0,-2 1,-1ZM86,70h1v1h-1ZM69,70l2,2 0,1-1,-3ZM85,67h1v1h-1ZM16,0l2,3 1,6 3,3 0,2 6,5 0,2 7,8 2,0 3,3 9,0 1,1 2,0 4,2 4,0 3,3 1,3 2,0 1,-1-1,-1 0,-2 1,-1 1,0 2,2 3,0 2,2 4,9 3,3 0,1 8,10-1,2 0,3-1,1 0,3-2,2-2,0 0,2 2,2 2,5 4,5 3,6 7,6 0,2 1,1-1,7 3,0 1,-1-1,-4 1,-1 2,0 2,2 1,3 3,4-3,4 0,2 2,2 3,0 1,-2 4,6-6,4 1,4 2,0 1,-1 4,0 3,3 0,3 1,2 4,-1 1,-4 2,-2 7,-4 0,-2-2,-2 0,-3-2,-3 3,-3 9,-2 2,2 0,1 3,-3 4,1 2,-4 7,0 2,-2 3,0 1,-1 5,0 4,5-1,1 0,2 2,0-1,-2 0,-6 4,-2 3,0 3,4 1,0 3,-4 1,1-1,3 4,0 0,-3 7,-5 1,-4 1,-1 1,1 4,0 1,-1 0,-3-1,0-2,-2 0,-3 1,-1 2,0 1,1 0,2 3,-2 2,2 3,0 1,-2 2,0 1,1 4,0 1,1 0,4-1,1 2,-1 0,-2 2,-2 8,0 4,3 1,0 4,4 3,0 1,-1 1,1 4,0 1,1 0,2 2,0 0,-2 1,-1 2,0 1,-1 4,0 2,-1 3,-4 4,-2 2,1 3,0 2,-4 3,-3 1,0 1,-2 7,-4 2,0 3,-3 8,-4 2,0 1,-1 5,0 1,-1 1,0 1,2 1,0-1,-2 3,-2 5,1 0,-68Z" fill="#f05b12" stroke="#f05b12" fill-rule="evenodd"/><path d="M126,143l-2,0 0,2 1,0ZM103,140l1,12 8,2 4,-10-6,-6ZM101,122l0,3 1,0ZM95,105l0,2 1,0ZM93,109l-8,-4-6,1-1,1-7,0 1,1-1,10 9,7 6,-1 1,-1 3,0 2,-1 0,-3 1,-1 0,-5 1,-1 0,-2ZM80,88l-7,-7 1,-2-1,0 0,2-2,2-4,0-1,1-2,0 1,7 8,1ZM16,0l3,3 0,5 4,4 0,3 4,2 1,3 4,3 0,2 2,2 0,1 2,0 6,4 3,-1 1,1 3,0 1,1 2,0 4,2 5,0 4,5 1,0-1,-2 2,-2 6,1 1,1 5,11 3,3 0,1 8,10-1,2 0,3-1,1 0,3-1,2-2,1 3,8 4,5 3,6 8,7 1,2-1,7 2,-1-1,-4 2,-2 1,0 3,3 1,3 2,2 2,4-4,3 3,3 1,0 2,-2 4,6 0,1-4,3 0,3 2,-1 4,0 5,6 0,1 2,-1 0,-2 2,-2 4,-1 3,-3-1,-2 0,-4-1,-1-1,1-2,-2 1,-2 4,-4 7,-1 2,-2 3,0 1,1 1,-1 3,2 2,0 0,-2 4,-3 6,0 1,-1 4,0 1,-1 1,1 1,-1 2,1 3,0 2,-2 3,0 1,-1 3,0 2,2 5,-4 2,1-1,2 0,4 2,-4 2,-2 2,0 0,-2 2,-1 0,-4 1,-1 2,0 2,2 2,0 1,-1 0,-2-5,-4 0,-3 2,-2 3,0 2,2 1,0-1,-1 1,-1 4,0 1,1 6,1 1,1 3,0 1,-1 1,1 0,2 2,-1 7,0 8,4 3,4 2,-2 2,1 5,0 1,1 0,3 0,-3 1,-1 3,0 1,-1 1,1 2,0 1,-1 2,0 0,-2-1,-1 3,-2 2,0 1,-1 7,0 3,-6 5,-2 2,-2 5,-2 2,-2 10,-5 5,-1 6,-3 8,0 0,-67Z" fill="#c32503" stroke="#c32503" fill-rule="evenodd"/><path d="M103,140l1,12 8,2 4,-10-6,-6ZM115,118l1,-1 1,1-1,1ZM104,108h1v1h-1ZM95,106h1v1h-1ZM93,109l-8,-4-6,1-1,1-3,0-1,1-1,-1-1,1 0,4-1,1 0,5 9,7 6,-1 1,-1 3,0 2,-1 0,-3 1,-1 0,-5 1,-1 0,-2ZM209,94l0,1 2,2 2,0 0,-2ZM80,88l-6,-6-10,2 1,7 8,1ZM17,0l0,1 3,4 0,4 2,0 1,-1 2,3-2,2 0,1 4,2 1,4 5,4 0,2 2,2 3,0 2,2 2,0 4,2 3,0 1,1 2,0 4,2 5,0 4,4 0,-2 1,-1 3,0 1,1 3,0 1,1 5,11 3,3 0,1 8,10-1,2 0,3-1,1 0,3-2,3 0,4 2,4 4,5 3,6 3,3 1,0 3,3 1,0 1,2 3,1 3,3 1,3 2,2 3,6-1,1-3,0 0,1 1,1 2,0 1,-1 2,1 4,7-2,2-1,0 0,1 2,-2 1,2 2,1 2,4 3,-3 1,1 1,-1 4,0 2,-2 0,-6-2,1-2,-4 2,-8 2,-2 3,3 3,-1 2,-4 2,1 0,2 0,-2 1,-1 1,1 3,0 5,3 1,-3 3,-2 14,-1 1,-1 4,1 2,-2 5,0 1,-1 3,1 1,-2 1,1 6,-3 1,2 2,1 2,-1-1,-2 2,-2 0,-3 2,-2-2,-2 0,-1 2,-1 0,-3 3,-3 2,0 1,1 5,-4 1,1 5,0 1,2 1,0 3,3 5,0 1,2 3,0 1,1 2,-2 7,4 5,1 1,1-1,2 2,0 1,-1 2,0 1,1 6,0 1,-1 2,0 3,2 1,-1 2,0 0,-3 4,-2 2,-2 7,1 1,-1 0,-3 2,-2 5,-2 2,-2 5,-2 2,-2 10,-5 2,0 6,-3 2,0 3,-2 6,0 0,-66Z" fill="#7a0403" stroke="#7a0403" fill-rule="evenodd"/></g>
</g>
<use href="#lakes" fill="#c3e1eb" stroke="#4f6f7c" stroke-width="0.3"/>
<use href="#overlay"/>
<text x="146.6" y="78.9" font-size="6.3" font-weight="bold" text-anchor="middle" fill="#1b1b22"><tspan font-style="italic">V. vinifera</tspan></text>
<text x="146.6" y="86.5" font-size="6.3" font-weight="bold" text-anchor="middle" fill="#1b1b22">cultivars</text>
<rect x="0.25" y="0.25" width="166.5" height="92.5" fill="none" stroke="#8a8a8a" stroke-width="0.5"/>
</svg>
<text x="96.40" y="306.00" font-size="5.65" font-weight="bold" text-anchor="middle" fill="#111" >1960-1979</text>
<svg x="181.9" y="308.3" width="167.0" height="93.0" viewBox="0 0 167.0 93.0" overflow="hidden">
<use href="#base"/>
<g clip-path="url(#dataclip)">
<rect x="0" y="0" width="167.0" height="93.0" fill="#30123b"/>
<g transform="scale(0.5) translate(0.5,0.5)" stroke-width="0.8" stroke-linejoin="round"><path d="M135,155l0,1 2,0ZM98,153l2,-1-2,0ZM124,151l-1,0 0,1ZM160,150l0,1 4,2 0,-2ZM114,147h1v1h-1ZM150,146l0,1 3,0 0,-2-2,0ZM247,143l0,1 1,0 0,-1ZM198,142h1v1h-1ZM160,142l1,1 2,0 1,-2-3,0ZM73,138l-1,1 2,1 0,-2ZM177,131l2,2-3,3-2,0-1,-2ZM294,130h1v1h-1ZM102,130l1,-1 2,0 2,2 0,2-1,1-2,0-2,-2ZM184,130l0,-2 1,-1 5,0 1,1-5,4ZM276,125l2,-1-2,0ZM102,123l2,2 0,2-1,1-2,0-1,-1 0,-2ZM285,121h1v1h-1ZM167,116l4,0 1,1 0,3-3,4-2,0-2,-2 0,-2ZM298,116l1,2 3,0-1,-3-2,0ZM261,115l1,1 0,-1ZM208,114l1,1 0,2-1,1-3,0-1,-1 3,-3ZM50,114h1v1h-1ZM219,114l1,-2 2,0 1,1-3,2ZM85,110l1,-1 4,0 3,3 4,0 4,-3 1,2 3,0 1,1 0,3-2,1-4,-3-2,3 0,5 1,1-2,1-2,-2 0,-3-2,-2 0,-1-1,-1-4,0-3,-3ZM73,107l2,-1 1,2-1,1ZM284,107l0,2 1,1 5,0 2,-1 0,-2-1,0-2,-2-3,0ZM86,101l1,-1 1,1-1,1ZM84,93l1,-1 2,0 3,3-2,1ZM297,87l1,1 0,2-1,1-3,0-1,1-1,-2 3,-3ZM52,81l1,0 2,2 0,3-2,2-3,-1-2,-3ZM320,80l1,-1 4,0 2,2-2,2-3,0-2,-2ZM333,73h1v1h-1ZM316,73l1,-1 1,1-1,1ZM76,67l3,-2 1,1 3,0 2,2 0,2-3,2-3,0-1,-1 0,-3ZM29,61l1,1 1,-1ZM53,45l2,0 1,1 0,7-1,1-5,-2-2,-2 0,-1ZM20,46h1v1h-1ZM10,45l0,1 2,2 0,3-2,1 0,1 2,2 0,2 2,2 0,-2-2,-3 0,-4 1,-1 0,-2-2,-2ZM67,45l2,-2 2,0 3,3 0,2-2,1ZM46,39l1,-1 2,1-1,1ZM60,36l1,0 2,2 0,2-1,1-2,0-2,-3ZM25,34l0,2 3,0-2,-2ZM18,25l-1,0 0,4-1,1 1,1 2,-3ZM13,21l-2,0-1,2-4,-1-2,2 1,1 1,5 6,-2 0,-4 1,-1ZM5,10l-1,0-1,2 1,0ZM12,2l0,3 1,1 4,1 5,5-1,2 2,4 1,0 4,3-1,2 2,2 1,-1 1,2 5,5 2,0 1,-1 1,1 0,2 2,4-2,8 2,3 0,3 1,1 0,1-3,2 1,1 0,5 1,1-4,5-3,-1 0,1 4,0 1,1 10,-1 2,2 0,2 5,0-1,-10-6,0-2,1-2,-2 0,-1 3,-3 5,0 2,-2 2,2 0,2 4,4 0,3-1,1 1,7-1,1-2,0-1,-1-3,4-2,-1-3,-4-4,1 0,7 1,1 0,4 1,1-1,1 0,2 1,1 0,2 2,4 2,2 3,0 2,1 2,-2 0,-2-2,-3 1,-2 3,0 1,1 0,2 4,2 4,-1 0,-4 2,-3 6,3-1,1 0,5-5,5-2,0-2,2 0,2-5,3-3,0-3,-5-2,-1-3,0-1,2 1,6 1,1 3,0 1,-1 4,1 1,1 0,4-2,2 0,1 4,2 1,0 2,-3-1,-1 0,-2 1,-1 2,0 4,2 2,2 0,4-2,2-6,0-1,1 1,1 0,2 3,2 3,0 2,1 3,3 2,0 1,2 5,0 2,-3 1,-4 2,-2 1,0 1,1 0,2-2,3 0,4 1,1 3,0 1,1 0,1-2,2-2,0 0,1 2,0 2,-2 3,-1 3,2 0,3 1,0 0,-2 1,-1 3,0 2,-2 4,0 8,4 6,-1 1,2 2,-3-3,-2 1,-1 6,-1 1,1 0,3 2,2-1,3 1,1 3,0 0,-2-4,-3 0,-2 1,-1 3,0 1,-1 3,0 2,-1 3,-5 2,0 2,2 3,0 2,-3 7,1 1,1 0,3 1,1 2,-3 3,0 1,1-1,1 0,3 3,0 4,-4 1,-2 3,0 2,-2 5,1 4,3 2,0-1,-2 0,-3 5,-4 2,0 4,5 3,0 2,-1 1,-2 3,-2 0,-2 3,-4 5,1 0,-2 3,-3 0,-3-1,-1 1,-1 2,0 1,1 2,-1 3,2 0,2-5,7 0,3-1,1 0,1 3,0 1,-1 2,1 4,-3 1,0 3,-3 3,0 3,-2 1,1 2,-2 3,-1 1,-2 5,-4 0,-3 3,-2 5,0 4,-4 6,0 3,-5 2,-1 4,0 0,-3 3,-2 4,4 0,1-2,2-3,0 2,2 4,1 1,1 10,0 2,-2 0,-1-8,-7 1,-1 0,-2-4,-3 0,-2-1,-1 3,-2 2,0 0,-1-2,-1 3,-2 2,0 3,-3 2,2 0,1 1,0 2,-2 2,0 2,2 2,0 1,1 0,5 1,0 2,3 0,2-3,4-3,0-1,-1 3,-6-4,1-1,1 0,8 1,1 1,0 3,3 5,1 1,-1 4,0 2,-2 0,-2 1,-1 2,0 0,-9-2,0-2,-3 0,-2 2,-2 2,0 0,-1-3,-1-1,-2-2,0-3,2-7,-5 10,-5 2,1 1,3 3,0 0,-71-320,0Z" fill="#4559cb" stroke="#4559cb" fill-rule="evenodd"/><path d="M189,132l4,0-1,-1-2,0ZM183,131l-2,1 2,0ZM206,128l1,2 2,0 1,-1-1,-1ZM208,112l3,3 0,1-2,3-5,1-1,-1 0,-3 4,-4ZM190,113l1,-1 2,0 1,2-1,1-2,0ZM82,111l-1,1-2,0 0,5-2,1-2,6-1,1-3,0-1,-1-2,1 2,3 3,0 1,1 1,-1 2,2 2,0 3,3 3,0 2,-4 2,-2 0,-3-2,-1-2,-2 1,-3 3,-3 1,0-2,0-4,-2ZM105,108l-1,1 1,0ZM54,104l-1,1 0,3 1,1 4,0-1,-4-1,-1ZM218,101l1,-1 3,0 2,2-1,1-3,0ZM300,96l0,3-1,2 5,0 0,-2ZM238,94l1,1 0,2-3,3 0,3-2,1-2,-2 0,-4 4,-4ZM91,91l1,-1 2,1-1,1ZM333,87l-3,0-3,3-1,-2 2,-2-1,-2-2,0-1,1 0,3-1,2-5,6 0,1 2,2 6,-1 5,-5 2,0ZM65,77l2,2-1,2-1,0-2,-2ZM314,74l1,2 5,0-3,-2ZM72,64l1,-1 2,0 1,1 5,0 5,4 0,2-4,3-6,1-2,-2 1,-3-3,-4ZM66,61l3,3 0,2-1,1-4,-3 0,-1ZM67,43l3,-1 5,4 0,4 1,1 0,3-1,1-2,-1-3,0-1,-1 1,-1 0,-3-5,-4ZM13,0l2,6 4,1 2,2 0,1 2,1 0,5 6,5 0,2 1,0 3,3 1,3 2,0 1,1 1,-1 2,0 1,1 0,5 2,2 3,0 1,-1 2,1 0,3-1,1-3,0-1,-1-1,4-1,1 1,1 0,3 2,3 0,2-2,1 2,4-2,4 0,3 2,0 1,1 1,-1 4,0 3,3 2,-1-1,-1 0,-3-2,-2-3,0-2,1-3,-3 0,-2 2,-2 2,-1 3,0 0,-1-1,0-4,-4 0,-2 3,-3 1,0 0,-2 1,-1 6,-1-1,-3 2,-2 3,0 3,4-8,7 0,5 1,1 0,2 4,4 1,4 1,1-2,4 1,1 0,3 1,2-2,2-3,0-3,4-1,0-2,-2 0,-1-4,-3-2,1 0,4 1,1 3,0 1,-1 4,2 0,6-2,2-4,0 0,4 2,2 5,2 0,-3-1,-1 0,-4 1,-1 3,0 2,-2 1,0 2,2-2,2 0,2 2,2 3,0 2,-3-1,-2 2,-3 2,0 3,2 4,-2 3,0 1,1 0,4 5,0 1,2 4,3 0,1-4,3-1,3-2,1-4,-3 3,-3-2,-2-3,-1-1,-1 0,-2-2,0 0,4-1,2-4,4-2,0-2,2 0,1-6,5 0,2 1,1-1,6 2,0 1,-1-2,-3 0,-1 2,-2 4,2 4,0 0,-3-2,-3 0,-3 2,-2 1,0 2,2 0,2 2,2 4,0 4,-2 3,0 2,1 3,-3 8,1 2,-2 1,0 2,2 0,2-1,1 0,7-2,2-1,0-2,-2-2,0 0,2-1,1 0,1 2,2 1,-1 4,3 0,3 2,3 0,3-2,2-3,0-3,-3 0,-2-2,-4-5,-5 0,-1-2,0-1,2 5,5 0,2-2,3 0,3 2,2 2,0 6,3 4,0 1,-1 6,0 4,3 5,1 0,-3 2,-4 2,0 3,2 1,-1 3,0 1,-1 3,4 5,-1 3,-4 0,-2 2,-2 4,0 1,1 3,0 1,-1 0,-1 2,-2 0,-4 6,-5 0,-3 2,-2 2,0 4,3 0,3-1,1 0,4 1,1 0,2-1,1-3,0-5,-4-1,0-1,5 1,1 3,0 1,2 5,0 3,-4 3,0 4,-3 2,0 6,-4 2,1 4,5 1,0 3,-3 1,1 2,0 3,-2 3,0 2,2 2,0 2,-4 3,-3 6,-3-1,1-4,0-2,-2 0,-3 6,-3 2,0 4,3 3,0 1,-1 3,2-1,4-4,4-1,2 0,3 4,0 6,-7 8,-1-3,0-1,-1 0,-2-2,-2 1,-2 2,-1 4,4 5,0 3,-3 0,-2 5,-3 0,-3 2,-2 2,0 2,2 0,2 3,-4 2,1 4,-1 0,-1 3,-3 1,0 2,-2 2,0 4,-4 2,-1-1,-2 3,-3 0,-1 4,-4 2,-1 1,-2 2,0 1,1 2,-4 2,-1 1,1 4,-1 2,-2 1,0 0,-3 1,-1 2,1 0,2 4,0 2,-1 4,-7 2,2 0,4 2,2 1,0 0,-70Z" fill="#3e9bfe" stroke="#3e9bfe" fill-rule="evenodd"/><path d="M164,128l0,1 1,0 0,-1ZM134,128l1,-2 2,1-2,2ZM69,126l1,1 3,0-1,-1ZM114,125l1,-1 2,0 1,2-2,2ZM196,123l0,3 1,0 1,-2ZM236,118l-3,3-1,0-1,4 2,0 2,-2 0,-3ZM139,118l2,-2 3,0 2,2-3,3-2,0ZM241,116l-1,-1-1,2 2,0ZM81,113l-1,1 0,3-3,4-1,6 2,-1 3,0 1,-1 2,2 0,5 1,0 2,-4 0,-3-3,0-1,-1 0,-3 3,-6-2,-2ZM196,113l0,2-3,2-5,0-1,-1 2,-1 0,-3 2,-2 2,0ZM55,106h1v1h-1ZM78,106l1,1 6,0 0,-2-6,0ZM70,105l-3,3-1,0 0,2 2,2 4,1-1,-8ZM217,99l1,-1 3,0 5,4-2,3-4,0-3,-3ZM246,95l2,3-4,5 1,2 0,2-1,1-3,-2 0,-2 1,-1-1,-4 3,-4ZM238,93l3,3 0,1-4,4 0,3-2,2-1,0-3,-3-1,-5 4,-4ZM79,93l0,4-1,1 0,2 2,1 2,-1 1,-2-1,0-2,-2ZM327,93l-2,-2-2,0-1,1-1,5 4,-1ZM52,91l0,1 2,1 0,-1ZM333,88l-2,1 0,2 2,0ZM76,83l1,-1 1,1-1,1ZM296,77l1,-1 1,1-1,1ZM49,76l-1,2 2,1 1,-2ZM73,69l-1,0 0,1ZM45,63l0,3 2,-1 5,0 2,1 0,-2-1,-1-3,0-1,1ZM46,54l3,0-1,-1ZM45,49h1v1h-1ZM15,4l1,-1 1,1-1,1ZM13,0l1,4 2,1 1,-1 1,2 1,0 5,5 0,5 5,4 0,2 1,1 1,-1 5,7 4,-1 2,2-1,2 1,3 6,0 2,2 0,4-1,1-3,0-1,1 0,1 2,2 3,-2 0,-2 1,-1 4,-1 0,-2 2,-2 4,-1 4,3 1,4 6,0 4,5 0,3 3,6-1,1-4,0-1,-1-5,0-1,1-1,-1 0,-3-1,-1 3,-2-1,-2-4,-4-1,0-4,4 0,5 3,3 6,3 3,3 2,0 1,-1 6,0 1,2 5,2 2,4-2,3-4,1-2,2-4,0-4,2-3,-3 0,-3 1,-2-4,-2-1,1 1,7 1,0 2,2 1,3-3,3-2,0-2,-2 0,-2-2,-1-3,4 0,3 2,1 2,-2 3,0 2,3 0,2-2,2 0,1 1,1 3,0 0,-6 1,-1 0,-3 2,-2 2,1 0,3 1,1 3,0 2,-2 2,1 1,-1 0,-3 4,-4 2,1 0,1-3,3 0,3 1,1-1,4 5,0 1,-1 3,0 1,1 0,1-2,2 0,1 2,2 0,2-5,4 0,4 2,1 7,-5 2,2 5,-1 2,2 1,4 1,1 0,1-2,1 0,5-4,3-1,-1-2,0 0,1 3,0 5,4-1,4 2,2 0,1-2,2 0,2-4,2-1,-1-3,0-2,-3 0,-3-2,0-2,3 0,1 2,2 5,1 2,2 3,0 2,-2 1,0 1,1 7,1 2,2 3,0 0,-4-4,0-1,-1 3,-3 1,1 6,0 2,2 4,0 2,-2 2,2 1,3 2,0 3,-2 1,-4 3,-3 5,0 1,1 2,0 2,-2 1,-2 0,-3-1,-1-3,0-1,1-2,-3 1,-1 3,0 2,-4 2,4 3,0 2,-2 1,0-1,-2 3,-3 3,0 2,2 1,-1 1,1 2,-1 3,0 2,2-1,2-2,-1-3,0-1,2 0,3-1,1 2,4 2,0 1,-1 0,-3 3,-4 8,0 1,1 6,1 2,-4 0,-2 1,-1 2,0 1,1 1,-2-1,0-1,-2 5,-4 1,0 2,4 3,2-1,6-6,3 2,1 2,0 3,-2 1,1 4,-4 0,-1-2,-2 0,-3 8,-5 3,1 3,3 3,0 1,-1 2,0 1,1 5,0 3,-3 1,0 4,5 3,0 1,-1-1,-2 1,-1-1,-1 1,-1 6,0 2,-2 0,-2 3,-3 0,-1-2,-1 0,-1 2,-2 2,-1 4,0 1,-1 3,4 5,0 3,-3 8,-4-1,-3 6,-7 0,-2 1,-1 1,1 2,-3 8,-4 5,1 2,-2 0,-3 2,-2 2,0 2,2 2,0 3,-2 0,-2 2,-2 3,0 1,1 0,6 2,1 0,-69Z" fill="#19d5cd" stroke="#19d5cd" fill-rule="evenodd"/><path d="M121,139l-1,-1-1,2ZM96,133l0,1 1,0 0,-1ZM157,125l-3,0-2,2 0,2 1,1 2,0 2,-3ZM233,123h1v1h-1ZM177,119l-2,1 0,4 1,0 1,-2ZM109,118l-1,1 0,2 3,1 1,-1 0,-2-1,-1ZM213,117l0,2 1,0 0,-2ZM84,114l-2,0-1,1 0,4-3,3 0,3 2,0 1,-1 0,-4 2,-2 1,0 1,-2ZM69,108l-1,2 1,1 2,0-1,-3ZM238,106l-2,2 4,2 1,-1 0,-2-1,-1ZM240,102l-2,0 0,1 1,1ZM80,99h1v1h-1ZM223,97l1,-1 1,1-1,1ZM324,93h1v1h-1ZM67,91l-2,1 2,0ZM67,84h1v1h-1ZM60,81l-1,2 1,0ZM71,79h1v1h-1ZM61,46l-3,3 0,2 3,4 2,0 1,1 1,-1 0,-2-1,-1 1,-4-2,-2ZM46,43l0,1 3,0 0,-1ZM19,2l1,2-1,2 5,4 1,2 0,4 5,4 0,2 1,0 5,6 5,0 1,1 0,5 6,0 3,2 0,4 2,0 0,-1 3,-3 2,-1 3,0 2,2 1,0 3,3 0,1 3,0 4,3 4,7 1,4 2,2 0,2-1,1-2,-2-3,0-1,1-4,-1 0,1 1,1 1,-1 2,1 4,0 1,-1 2,2 0,1 4,2 2,3 0,4-6,3-2,2-3,1 0,1 3,3 2,0 0,-1 4,-4 2,-1 3,1 2,2-4,2-1,2 0,4-1,1 0,2 2,1 4,-3 2,0 3,3 0,1-2,1 1,7-2,3-3,0-1,1 0,2 2,1 4,-3 3,-1 1,-2-1,-3 2,-1 2,2 0,2 2,1 4,4 1,4 4,5 1,6 4,4 0,3-2,3-1,0-3,-3-1,0 0,4-3,2 0,3 2,2 4,0 3,-6 8,1 3,2 4,0 1,-3-2,-2 0,-3 5,-4 2,0 1,1 0,3-2,2 0,2 2,2-2,1 0,4 2,0 1,-1 0,-2-1,-1 3,-3 0,-1 2,-2 1,1 3,0 0,-5 1,-1 0,-2-1,-1-4,2-4,0-1,1-2,-3 0,-2 2,-3 5,-1 5,4 2,0 1,1 1,-1 0,-2 2,-2 1,0 2,2 0,3 3,0 2,-1 0,-4 3,-2 3,0 1,1 8,-1 3,3 0,1 3,0 0,-6 1,-1 4,0 1,-1 2,0 4,2 0,-2 2,-2 1,0 2,2 3,-2 1,-7-3,0-2,-2 2,-2 3,0 3,3 1,2 0,3 1,1 0,5 1,1 2,0 4,-2 0,-3-2,-2 0,-4 2,-2 4,0 1,1 2,-1 1,1 0,2 2,2-2,4 3,4 3,0 2,-1-4,-5 0,-4-1,-2 6,-6 4,0 1,1 6,0 4,4 2,0 1,1 0,3-1,1-4,0-2,2 1,4 3,3-1,-1 1,-1 0,-3 2,-2 2,0 2,2 3,0 1,-1 1,-4 1,-1-2,-1 0,-4 3,-2 1,1 2,-1 3,0-3,-2 1,-1 2,0 1,1 5,-1 1,1 0,4 3,0 3,-3 4,-2 3,0-1,-3 1,-2 3,-2 0,-4-2,-1 0,-1 2,-2 2,0 1,-1 4,0 8,-4 5,1 1,-1 0,-3 3,-3 6,1 5,-5 3,0 3,3-2,2 0,2 2,1 0,-68-313,0ZM13,0l0,1 2,0 0,-1Z" fill="#46f884" stroke="#46f884" fill-rule="evenodd"/><path d="M140,135l-1,0 0,2ZM116,133l-1,-1-5,1 0,3 1,1 3,0ZM156,127l-2,0-1,2 2,0ZM82,115l1,2 1,-1ZM230,106l0,3 1,0 0,-2ZM251,103h1v1h-1ZM91,103l0,2 3,-1 0,-1ZM256,98l-2,2 0,1 2,4 3,0 1,-2 0,-3-1,-2ZM333,64l-1,1 0,2 1,0ZM76,59h1v1h-1ZM62,47l-3,2 0,2 2,3 2,0 0,-2 1,-1ZM20,4l0,2 6,6 0,4 4,3 0,2 1,0 6,7 1,-1 2,0 3,3-1,2 1,2 1,-1 6,1 2,2 0,2 1,0 4,-3 4,0 2,2 6,3 5,4 8,14 0,3 5,5 1,2-1,4-1,1-4,1 0,1-2,2-1,0 0,2 2,0 0,-1 3,-3 2,0 1,-1 2,0 4,4 0,2 1,1-2,2-2,0-1,-2-1,1 0,4-1,2 2,1 2,-1 1,-3 2,-2 1,1 0,2 3,3 0,2-3,2 2,3-1,6 1,0 2,-2-1,-1 0,-3 2,-2 1,0 3,3 1,3 4,4 2,5 3,3 0,4 1,1 0,2 6,6-2,5 5,3 3,-1 2,2 2,0-1,-6 7,-7 0,-4 5,-4 4,0 4,3 3,1 0,-3 2,-2 5,4 0,2 1,1 2,-2 0,-3 2,-2 3,0 1,-1 6,0 1,-1 5,0 2,3 1,-4 3,-3 1,1 2,0 2,-2 1,1 2,0 5,-4 0,-2 1,-1 2,2 0,1 1,0 0,-2-2,0-2,-2 0,-3 4,-2 2,0 4,4 1,5 3,2-1,1 2,1 1,-1-1,-2 0,-5 1,-1 0,-4 1,-2-3,0-1,1-1,-1 0,-1 3,-2 1,1 3,0 1,1-1,1 2,3-1,2 3,-3 1,0 3,3 2,0 4,-3 1,-2-1,-2 1,-1 1,0 5,4 6,0 1,-1 3,3 0,1 6,-1 1,-1 1,1 2,0 2,-2 3,0 0,-2 1,-1 6,0 1,-1 5,0 2,3 1,-1 2,0 3,-4 1,0 4,-3 0,-2-3,-2 2,-4 4,-1 1,-1 5,0 8,-4 4,1 1,-4 3,-3 6,0 5,-4 2,0 4,2 0,-61-312,0 0,3ZM14,0h1v1h-1Z" fill="#a4fc3c" stroke="#a4fc3c" fill-rule="evenodd"/><path d="M110,134l0,1 2,2 2,-2 0,-1ZM257,99l-1,1 0,3 2,1 1,-1 0,-3ZM212,96l-1,4 1,1 2,0 0,-4ZM96,93l0,1 1,0 0,-1ZM91,84l-1,0-2,2 0,2 2,0 1,-1ZM286,83l2,1 2,-2-3,0ZM84,74h1v1h-1ZM333,65l-1,1 1,1ZM62,48l-2,1 0,2 1,1 2,-1 0,-2ZM21,0l0,6 1,0 4,6 0,3 4,3 1,3 1,0 5,6 4,0 2,2 0,4 7,0 3,3 6,-2 7,5 3,1 5,4 0,1 4,5 1,3 2,2 2,6 5,5 0,6 1,0 5,6 1,4 1,1 0,2 3,3 1,4 5,5 1,3 3,3 2,5 3,2 1,2 0,5 1,1 0,2 6,4 1,4-2,1 0,1 2,2 2,0 4,-2 0,-2 6,-6 1,-2 0,-3 6,-5 5,0 3,2 2,0 0,-1 2,-2 1,1 2,0 4,4 0,1 1,0 1,-4 3,-2 3,0 3,-2 1,1 2,0 4,-3 5,0 2,-2 3,0 1,-1 7,-1 2,-2-1,-2 1,-4 5,-4 4,1 5,-5 6,0 1,-1 2,2 0,2-1,1 1,1 3,0 2,2 3,0 2,-2 0,-2-1,-1 2,-3 4,1 4,4 5,0 0,-1 2,-1 4,4 8,0 7,-5 6,0 2,-2 1,0-1,-1 1,-1 4,1 1,1 2,0-1,-4 1,-2 5,-4 6,-3 5,0 2,-2 2,0 3,-2 5,0 2,-4 5,-4 4,0 3,-2 6,0 2,1 0,-60Z" fill="#e1dd37" stroke="#e1dd37" fill-rule="evenodd"/><path d="M111,135l1,1 0,-1ZM126,121l1,-1 2,2-2,1ZM257,100l0,3 1,0 0,-3ZM90,86h1v1h-1ZM287,83h1v1h-1ZM333,66h1v1h-1ZM61,50l0,1 1,0 0,-1ZM21,4l0,1 6,7 0,3 4,3 0,2 1,0 1,2 4,4 3,0 3,2 0,3 1,1 6,0 2,1 1,2 6,-1 7,5 3,1 5,4 0,1 4,5 1,3 4,5 0,2 4,4 2,4 0,3 3,3 3,7 6,8 1,4 4,4 0,2 3,3 3,6 3,3 1,2-1,2 1,1 1,4 3,2 3,0 2,2 1,4-2,1-1,2 4,-2 2,-2 0,-1 6,-5-1,-1 1,-1 0,-3 2,-2 3,0 0,-1 3,-2 4,0 1,1 8,-1 4,3 2,0 0,-1 2,-2 5,-1 2,-2 4,1 3,-4 3,1 8,-4 2,1 6,-3-1,-1 7,-10 5,0 2,-2 4,-1 1,-1 2,1 2,-1 0,-2 2,-2 2,3 0,4 1,1-1,2 4,-1 2,2 1,0 0,-4 3,-3 3,0 2,1 4,4 3,0 2,-2 2,0 4,4 7,0 7,-5 2,1 3,0 1,-1 0,-2 2,-2 4,0 3,-4 3,-1 2,-2 7,-4 6,0 2,-2 2,0 3,-2 4,0 2,-4 2,-2 4,-2 6,-1 1,-1 4,0 1,1 2,0 0,-59-311,0 0,3Z" fill="#fea431" stroke="#fea431" fill-rule="evenodd"/><path d="M127,125l0,2 1,0 0,-2ZM22,3l0,2 6,7 0,3 1,0 3,3 2,4 4,4 3,0 3,3 0,2 1,1 5,-1 3,3 6,0 7,5 3,1 5,4 0,1 4,5 1,3 8,11 8,17 2,2 0,1 4,5 1,3 2,2 0,1 6,8 1,3 4,5 2,8 3,2 2,0 1,-1 4,-1 3,4 2,0 2,-2-1,-5 2,-2 3,0 2,-1 1,-2 5,0 1,-1 1,1 3,0 1,-1 3,0 6,3 3,-3 4,-1 3,-3 1,0 2,3 4,-5 5,0 4,-3 3,0 1,1 7,-6 2,-4 0,-4 2,-4 2,0 1,1 2,0 1,-1 6,0-1,-2 2,-2 1,2 1,0-1,-1 1,-1 4,-1 4,5 0,4 4,0 1,-2 3,-3 1,0 1,1 5,1 1,1-1,1 3,2 2,0 2,-2 1,0 5,4 4,0 2,1 8,-6 2,1 3,0 0,-3 1,-1 6,-2 6,-5 6,-3 2,0 1,-1 4,0 9,-5 3,0 2,-1 0,-2 3,-3 4,-2 4,0 1,-1 9,0 0,-58-310,0 0,2Z" fill="#f05b12" stroke="#f05b12" fill-rule="evenodd"/><path d="M174,105l1,-1 1,1-1,1ZM23,3l0,2 2,1 1,4 2,1 1,3 4,4 1,3 2,1 1,3 3,0 2,1 2,2 0,3 7,0 3,3 3,-1 4,2 5,4 3,1 5,4 0,1 4,5 1,3 8,11 8,17 2,2 0,1 4,5 1,3 2,2 0,1 6,8 1,3 4,5 2,4 0,3 2,2 8,-2 3,3 0,1 3,0-1,-7 3,-2 2,1 2,-1 0,-1 2,-2 9,0 1,-1 2,0 1,1 4,0 2,-2 1,0 1,2 1,-1 3,0 4,-4 4,0 1,1-1,2 1,0 0,-2 2,-3 3,0 1,-1 8,-2 2,-2 1,0-1,-1 2,-2 1,1 0,2 2,-1 2,-2 2,-4-1,-1 0,-3 1,-2 2,-2 5,1 2,-1 5,-5 8,0 2,1 2,2 0,5 1,1 1,0 4,-5 3,0 1,1 6,1 1,1-1,1 1,2 4,-1 1,-1 5,4 4,-1 1,2 1,-1 4,-1 0,-1 4,-3 4,2 1,-1-1,-2 1,-2 2,0 17,-9 2,0 3,-2 1,1 5,-4 1,1 5,-3 3,0 2,-4 8,-4 3,0 1,-1 7,0 1,1 0,-58-308,0 0,2Z" fill="#c32503" stroke="#c32503" fill-rule="evenodd"/><path d="M120,118l1,-1 1,1-1,1ZM226,85l2,0 1,-1-3,0ZM26,0l2,4-1,1-1,4 1,0 3,3-1,1 3,2 1,3 2,2 2,4 7,3 1,1-1,1 1,2 6,-1 2,1 1,2 3,0 4,2 2,2 6,3 5,4 0,1 4,5 1,3 8,11 8,17 2,2 0,1 4,5 1,3 8,11 1,3 7,10 0,2 2,2 2,-2 4,-1 1,1 2,0 1,2 2,1-1,-6 2,-2 5,0 3,-4 4,0 1,-1 1,1 3,0 2,-2 2,2 4,0 2,-3 5,1 5,-3 3,0 1,-1 2,0 4,-2 6,-1 4,-3 0,-1 4,-5 2,1-1,2 0,2 1,0 3,-4 0,-2-2,-2 2,-4 4,-3 2,2 4,-1 2,-2 0,-2 2,-2 1,1 3,-1 1,1 11,1 1,1 2,0 2,2 4,0 15,8 2,-1 2,0 1,1 4,0 2,-4 4,-1 2,2 1,0-1,0-2,-2 1,-1 5,-1 17,-9 2,0 3,-2 2,0 2,-2 8,-4 3,0 0,-1 2,-2 12,-6 2,1 6,0 0,-57Z" fill="#7a0403" stroke="#7a0403" fill-rule="evenodd"/></g>
</g>
<use href="#lakes" fill="#c3e1eb" stroke="#4f6f7c" stroke-width="0.3"/>
<use href="#overlay"/>
<text x="146.6" y="78.9" font-size="6.3" font-weight="bold" text-anchor="middle" fill="#1b1b22"><tspan font-style="italic">V. vinifera</tspan></text>
<text x="146.6" y="86.5" font-size="6.3" font-weight="bold" text-anchor="middle" fill="#1b1b22">cultivars</text>
<rect x="0.25" y="0.25" width="166.5" height="92.5" fill="none" stroke="#8a8a8a" stroke-width="0.5"/>
</svg>
<text x="265.40" y="306.00" font-size="5.65" font-weight="bold" text-anchor="middle" fill="#111" >1980-1999</text>
<svg x="350.9" y="308.3" width="167.0" height="93.0" viewBox="0 0 167.0 93.0" overflow="hidden">
<use href="#base"/>
<g clip-path="url(#dataclip)">
<rect x="0" y="0" width="167.0" height="93.0" fill="#30123b"/>
<g transform="scale(0.5) translate(0.5,0.5)" stroke-width="0.8" stroke-linejoin="round"><path d="M134,157l1,1 0,-1ZM110,151h1v1h-1ZM115,139l0,1 2,1 0,-2ZM174,126l-2,1 1,2 1,-1ZM173,121h1v1h-1ZM114,114l1,1 0,5-5,3-2,-2 0,-4 2,-2ZM239,109l0,2 2,0 3,3-1,1 0,2 3,0 0,-2-2,-4 0,-3-3,0ZM106,107l0,-2 1,-1 2,0 1,1 0,1-2,2ZM263,104l-3,0-2,1-3,3 0,1 2,1 1,-1 0,-2 1,-1 3,0ZM254,103h1v1h-1ZM103,102l1,-1 2,2-2,1ZM316,96l-2,-1-2,2 1,1 2,0ZM274,95l-1,2 1,0ZM221,98l2,-2 2,0 3,-2 2,0 3,3 0,1-2,2 1,3-1,1-6,0-3,-3ZM68,93l1,-2 2,-2 1,0 3,2 0,6 1,0 3,-3 0,-2 2,-2 3,0 1,1 4,0 2,-1 4,4 2,1 0,3-1,1-3,0-2,-2-1,-3-1,-1-2,0-2,3 0,4 1,1 0,2-2,1-3,-2-2,0-1,1 0,7-1,1-2,0-3,-2-2,-4 2,-6-4,-4ZM266,88l2,2-1,2-1,0-2,-2ZM62,87l0,1-2,2-3,0-1,-1 1,-2 2,0 1,-1ZM275,83l2,-1 1,2-2,1ZM65,83l1,-1 4,0 1,1 0,2-2,2-1,0-3,-3ZM319,81l-3,1-7,5 5,0 2,-2 0,-1 2,-2 1,0ZM282,79l1,-1 2,0 2,2 1,4-2,1-4,-4ZM312,76l1,2 2,0 0,-2ZM82,71l2,1-1,7 4,0 3,4 0,1-2,2-2,0-2,-2-1,0-2,-2-2,0-2,-2 0,-3 2,-2 0,-2ZM52,71l-2,0-2,2 0,1 1,1 2,-1ZM66,69l0,-1 2,-2 2,0 3,2-3,3-2,0ZM309,66l1,-1 3,0 1,1 0,2-1,1-2,0-2,-2ZM75,64l2,0 3,3-3,4-4,-3ZM330,59l1,1 0,3-5,5-1,0-3,-3 0,-1 5,-5ZM62,60l1,-1 2,1 4,0 1,2-1,1-2,0-1,-1-3,0ZM28,57l0,1 6,1 0,-1-2,-1ZM32,50l-1,1 1,1ZM52,43l3,3 5,0 1,1 0,3-2,1-2,3-3,0-2,-2-4,-2 1,-4ZM37,44l-1,1 0,3 1,1 0,2 2,1 2,-5-2,-2 0,-1ZM19,41h1v1h-1ZM48,33l1,2-2,1-1,-1ZM16,32l-1,1 0,2 3,0 0,-3ZM5,21l-2,2 0,1 0,-1 2,-1ZM18,15h1v1h-1ZM6,4l0,2 1,1 2,0 3,-2 0,-1ZM13,1l1,1 1,4 1,-1 0,-2ZM16,8l2,4 2,2 1,3 5,5 0,1 1,0-1,-4 1,-1 2,0 2,3 0,5 6,6-2,2 0,2 2,2 2,0 2,-2 3,4-1,8 3,4 0,5-2,4 2,8 1,0 2,-2 2,0 2,1 4,4 4,0 1,-1 2,1 3,4-3,3-4,0-3,-4-2,1 0,4-3,5 0,2 3,4 1,3 1,1 4,0 3,2 0,5-2,2 0,2 6,6 1,2 2,1 3,0 1,1 2,0 3,-3 1,0 3,3 1,0 1,-1-1,-4 3,-3 2,-1 4,0 2,3-1,6 3,3 0,1-2,2-2,0-2,-2 0,-1-1,0 0,1 2,2 0,2-3,3 0,2 2,-1 1,-4 2,-2 4,4 2,1 4,-1 2,4 6,0 9,5 3,0 2,-1 0,-2-1,-1 0,-4-1,-1 1,-1 2,0 3,3 0,2 2,1 2,0 4,-3 2,0 1,2 1,0 1,-1 2,0-1,-1-3,0-1,-1 7,-7 2,1 0,4 3,0 2,-2 2,-4 0,-2 1,-1 2,1 0,6 2,1 4,0 0,-1 2,-2 1,0 0,-4 2,-2 3,0 1,-1 2,0 3,3 0,3 2,0 0,-5 3,-2 4,4 0,1 2,0 0,-2 1,-1-1,-1 0,-4-2,-3-2,0-1,-1 0,-1 3,-2 2,0 2,2 1,3 3,0 1,1 2,-1 5,0 1,1 2,-1 3,3 3,0 0,-1-2,-2 0,-6 1,-1 3,0 4,4 0,4-1,1 0,2 1,-1 8,-1 1,-1 2,0 3,-4 3,0 1,1 1,-1 0,-2-3,-3 3,-6 3,0 2,2 0,2 1,1 4,0 1,-2 7,0 0,-2 1,-1 2,0 2,3 0,2 12,-9 2,0 3,-3 4,0 1,1 2,0 0,-1 4,-3 2,0 2,2-1,2 2,2 3,0 0,-2 4,-3 0,-1-2,0-1,-1 0,-3 2,-1 1,-2 2,-1 3,0 4,-2 4,-4 4,1 8,-4 2,1 2,4-4,3 2,4-1,5-1,1-4,1 0,1 10,0 0,-87-312,0 0,3 1,2-3,3ZM0,0l0,1 1,0 0,-1Z" fill="#4559cb" stroke="#4559cb" fill-rule="evenodd"/><path d="M70,109l0,3 1,1 6,1-1,-2ZM65,106h1v1h-1ZM220,102l0,1 2,2 0,4 1,1 4,-1 3,-2 0,-1-4,0-5,-4ZM105,100l6,5 0,2-2,2-3,0-1,2-2,2-1,0-2,-2 0,-1 4,-2 0,-1-3,-5 2,-2ZM61,92l-2,0 0,1 1,1ZM65,88l-1,1 0,3 1,1-1,2 1,1 0,3 1,2 2,1 2,-1 0,-2-3,-3 0,-3 2,-4-1,-1ZM333,83h1v1h-1ZM56,77l0,2 1,0 0,-2ZM79,71l4,0 2,2-1,5 3,0 2,2 1,2 0,3-2,2-3,-1-2,-2-6,-1-1,-1 0,-5 2,-2 0,-3ZM59,60l3,-3 3,0 1,1 3,-1 3,4 0,1-2,2 2,2 1,-1 0,-2 1,-1 2,0 5,5-1,1 0,2-2,2-6,-2-4,3-1,0-2,-4 3,-4-1,-1-4,0-2,-1-2,-2ZM73,54l1,-1 2,0 1,2-2,2-2,-2ZM65,52l1,-1 2,0 2,2 0,1-2,2-1,0-2,-2ZM44,35l1,-2 2,-1 2,1 2,2 0,1-4,2ZM18,11l0,1 4,3 5,0 4,4 1,2 0,6 6,6-1,2 1,1 1,-2 1,1 1,-1 4,5 0,5-1,1 1,3 2,0 2,-4 3,-2 3,3 6,0 1,1 0,4-1,2-4,4-2,0-6,-4-2,1 0,7-1,1 1,4 1,1 4,0 2,1 2,2 0,1 2,1 3,0 2,-1 4,3 0,2 1,1 0,2-2,2-5,0-2,2-2,0-1,2 1,1 7,0 1,-3 2,-2 4,0 2,2 0,3-2,2 0,1 3,1 2,2 0,4 2,-1 0,-3 2,-4 4,3 5,0 2,-2 1,0 1,1 0,3 5,3 0,3-2,2-3,0-2,-2-1,-3-1,-1-2,0-2,4 1,1 0,2 2,2-2,2-3,0-2,-2-1,0-1,1 0,6 1,1 3,0 2,-1 0,-1 2,-2 2,0 1,-1 4,0 2,2 0,7 2,2 2,-1 3,0 2,2 0,2-2,3-3,-2-2,1 0,1 2,2 4,-2 2,1 1,-1 0,-3-1,-2 3,-3 6,-3 1,1 0,7-5,4 0,4 4,2 1,2 2,1 1,-1 3,0 1,1 1,-2 0,-5-1,-1-2,0-2,-2 1,-2 2,0 1,1 5,0 4,5 2,1 3,0 6,-5 1,0 4,-4 2,0 2,2-1,1 1,2 3,-3-1,-6 2,-1 1,1 2,0 2,2 0,4 3,2 3,-3 1,-4 3,-3 2,0 1,1 2,-1 0,-2-3,-3 2,-2 2,0 3,4 0,4 2,0 2,-2 2,0 3,2 1,-2-1,-3-1,-1-3,0-2,-2 5,-4 0,-4 2,-2 2,1 0,5 1,0 2,2 0,2 2,0 0,-1 2,-2 3,0 1,2 2,2 1,0 4,-3-1,-1 0,-4 1,-1 2,0 1,1 4,1-2,-4 0,-4 1,-1 2,0 2,4 5,0 2,-2 3,0 5,4 4,-5 2,1 2,0 1,-1 1,1 0,5 3,0 0,-1 2,-2 5,0 3,-3 3,0 2,2 0,1 2,1 0,-2-2,-2 0,-3 2,-2 2,0 3,3 0,1 2,1 0,-1 2,-2 1,0 1,-2-3,-4 1,-2 2,-1 1,1 2,0 1,1 0,3 2,2 2,0 1,-1-5,-5 0,-1 3,-3 3,0 3,3 0,1 6,5 0,1 2,0 2,-1 0,-7 1,-2 5,-3 4,0 3,-3-4,-3 0,-3 1,-1 3,-1 3,3 1,0 1,2 3,0 1,-1-1,-1 1,-2 6,-6 3,0 2,2 0,3-3,4 0,2 3,3 0,1-3,2 0,2 1,1 2,-2 1,0 0,-76-311,0 0,6Z" fill="#3e9bfe" stroke="#3e9bfe" fill-rule="evenodd"/><path d="M122,126l-3,1 0,4 3,0 1,-1 0,-3ZM116,123l-3,0-1,1 0,2 2,1 2,-2ZM143,111l1,-1 3,0 3,3-3,2-2,0-2,-2ZM98,110l-2,4 2,2 2,-2-2,-2ZM180,107l2,4 6,0 0,-2-3,0-3,-2ZM80,105l-1,1 0,2 2,2 2,0 2,-2 0,-1-3,-2ZM246,97h1v1h-1ZM67,90l-1,0 0,1ZM208,85l1,2-3,4-2,-4ZM73,87l4,2 0,-2-1,-1-2,0ZM282,85h1v1h-1ZM82,85l0,3 2,1 5,0 0,-2-3,0ZM73,80l1,2 0,-2ZM63,80l-2,2 1,2 2,-2ZM70,72l-1,2 1,2 2,-1 3,1 2,-2 0,-1-3,-2ZM333,65l-2,2 0,3 2,2 0,1ZM48,62l0,2 1,1 6,1 3,4 2,0 3,-3 2,0 1,-2-5,0-2,-1-2,-2 0,-4-1,-1-3,0 0,1 4,3-2,3-6,-3ZM50,54l-1,0-1,2 2,0ZM53,39l-2,-1-3,0-2,1 0,5-1,1 1,1 2,0 0,-1 5,-4ZM20,10l0,2 3,2 3,0 5,4 2,4 0,4 4,4 1,3 6,-1 1,-1 1,1 3,0 2,1 3,3 0,1 4,0 2,2 0,2-1,1-4,0 1,2 3,0 1,-2 7,0 1,1-3,3-1,0-1,2 0,4 1,0 2,-2 4,-1 2,2 2,0 3,2 1,3-2,2-2,0-2,-3-2,1 3,4 2,0 5,4 0,1 2,2-1,1 0,2 2,0 3,3-1,4 4,2 2,4 0,3 1,0 2,2 0,4 5,3 0,3-2,3-4,0-2,-2-1,-3-1,-1-2,0-1,1 0,4 3,3-1,2 6,0 4,2 2,-2 0,-3 2,-3 2,0 4,3 1,0 3,4-1,2-5,4-1,2 1,2 3,-2 2,0 3,-3 1,0 2,2 0,4-1,1 0,2 1,1 2,0 1,-1 2,1 3,0 4,-2 2,2 0,3 2,2 4,0 2,-1 2,-2 3,-1 5,-5 1,1 2,0 0,-5 1,-1 2,0 2,2 4,1 1,1 0,4 2,1 2,-2 2,-4 0,-2 3,-3 0,-2 2,-3 2,-1 8,0 3,-2 0,-5 4,-3 3,0 1,1 4,-4 0,-2 3,-3 1,1 0,3 1,2-2,2 0,2-2,2 0,3 4,1 1,2 2,1 1,-1 0,-1-2,-1 0,-3 1,-2 3,-3 2,0 5,-5 2,0 3,3 0,1 2,1 3,-1 3,-3 5,4 1,0 3,-4 1,0 2,2 1,-1 3,0 3,3 5,0 2,-2 6,-2-1,0-2,-2 0,-3 1,-1 2,0 1,2 5,0 1,1 2,0 0,-2 4,-5 5,0 4,-4 3,0 2,2 1,0 3,-3 3,2-3,3 0,2 2,2 4,1 0,-5-2,-4 1,-1 4,0 3,-2 5,0 1,-1 0,-1-2,-2-6,0-2,-2 2,-3 6,0 1,-1 4,-1 6,5 2,-5 2,-1 0,-1 2,-2 4,-1 4,3 0,-60-311,0 1,7Z" fill="#19d5cd" stroke="#19d5cd" fill-rule="evenodd"/><path d="M121,128l-1,1 1,0ZM114,124h1v1h-1ZM81,106l-1,2 2,1 1,-2ZM87,95l-1,3 4,5 0,1 5,0 1,1 2,0 0,-2-5,0-2,-2 0,-2-2,-4ZM205,94l-3,1 0,2-2,2 0,1 2,1 2,-2ZM83,86l0,2 2,1 2,0 1,-1ZM294,79l-1,1 0,2 4,2 0,-3-2,-2ZM71,72l0,2 4,0-1,-2ZM333,68h1v1h-1ZM58,66l-1,2 2,1 0,-2ZM50,63l0,1 2,0ZM51,39l-3,0-2,3 0,2 1,1 4,-4ZM21,11l2,2 3,0 5,4 3,6 0,2 2,2 1,0 3,4 4,0 1,-1 3,2 4,1 2,2 3,0 4,4 1,2 6,0 1,1-1,4-4,3 4,0 2,-2 8,7 0,8 4,4 1,3 3,3 0,4 4,4 1,4 4,3-1,4 2,2 3,1 2,3-2,4 2,-3 3,0 4,3 1,0 3,3 0,5-2,2-1,0-1,2 3,0 4,-3 3,4-1,2 0,4 9,0 3,-3 6,-1 1,-1 4,0 1,2-2,2-7,0 1,5 6,0 2,-2 2,0 3,-3 0,-1-5,-5 0,-2 2,-2 4,-2 2,4 3,0 1,-1 5,0 0,-1 2,-2 1,1 0,2-2,2 0,2 3,1 1,1 0,3 1,0 3,-4 0,-2 3,-5 0,-2 2,-2 4,-1 1,-1 3,0 1,1 4,-1 0,-3-1,-2 2,-2 2,0 1,-2 2,-1 2,-3 2,3 2,-2 0,-3 2,-2 6,0 4,-5 1,0 2,3-1,1 0,3-2,2 0,3 2,0 2,-2 0,-4 1,-1 0,-3 1,-1 2,2 1,3 2,1 0,1 3,4 4,-1 2,-5 4,-2 3,2-1,2-3,1 0,2 1,1 1,0 4,-4 3,-1 4,3 3,-1 3,4 2,0 2,-2 0,-4 4,-4 2,0 2,2 4,0 1,1 4,-6 2,-1 5,0 4,-4 6,1 2,-3 2,1 2,-1 1,-2 4,2 6,-1-1,-2-4,2-2,-1 0,-4 3,-4 7,0 4,-2 4,3 2,-1 6,-6 6,0 2,1 0,-58-310,0 1,8Z" fill="#46f884" stroke="#46f884" fill-rule="evenodd"/><path d="M145,119l-2,-2-1,0-4,4-2,0 0,1 2,1 2,-2 3,0ZM87,96l0,3 1,1 2,0-1,-4ZM211,89h1v1h-1ZM84,87h1v1h-1ZM294,80l0,2 2,1 0,-2ZM73,73h1v1h-1ZM49,40h1v1h-1ZM23,0l0,3 2,3 0,2-2,3 3,1 5,4 5,10 1,0 4,4 3,0 1,-1 2,2 2,0 5,3 3,0 2,1 4,5 4,0 3,3 0,2 2,2 0,1 6,5 1,2 0,7 2,1 3,6 2,2 1,2 0,3 3,3 2,5 1,0 3,3-1,2 0,3 5,2 6,5 4,2 3,4 0,5 2,-1 3,4 0,6 4,0 1,1 1,0 3,-3 2,0 7,-4 4,0 0,-2 3,-3 1,0 2,-3 1,0 2,2 0,2 1,1 4,-2 3,1 2,-4 3,0 1,1 0,3-2,3 0,2 5,1 1,-2-1,-2 0,-5 1,-1 6,-3 3,0 1,-1 2,0 1,1 4,-1-2,-5 2,-2 4,0 2,-3 0,-3 1,-1 5,1 0,-2 3,-2 6,0 2,-2 0,-3 1,-1 5,0 2,1 3,3 0,2 5,3 0,3 1,1 1,0 2,-2 0,-3-1,-1 1,-2 7,0 5,3 1,-1 8,1 2,2 1,4 2,0 0,-5 6,-5 4,1 1,1 4,0 2,-2 0,-1 4,-3 4,0 5,-4 5,1 0,-1 2,-2 4,0 0,-1 3,-3 1,0 1,-3 4,-3 7,0 2,-2 3,0 1,1 4,-2 2,-2 2,0 1,-1 6,0 2,1 0,-57Z" fill="#a4fc3c" stroke="#a4fc3c" fill-rule="evenodd"/><path d="M142,119l-1,1 1,0ZM164,110l-1,2 2,2ZM88,96l-1,2 2,1 0,-2ZM226,87l-2,1 1,2 1,-1ZM24,0l0,4 2,2 0,3-1,2 1,0 6,6 4,8 1,0 4,4 5,0 2,2 2,0 3,2 3,0 4,2 3,4 3,0 6,6 1,3 5,4 1,2 0,3 1,1-1,3 4,3 1,4 2,2 3,7 2,2 0,2 6,6-2,4 3,2 4,1 5,5 1,0 5,4 2,5 4,5 0,5 1,1 4,0 2,-2 7,-3 3,-3 2,0 3,-3 3,-1 0,-2 2,-2 4,2 0,4 1,0 0,-1 3,-3 2,1 1,-2 9,0 1,-1 2,0 6,-3 6,1 1,-1-1,-1 0,-4 2,-2 4,1 2,-3 0,-3 2,-2 2,0 5,-3 7,0 1,-1 0,-2-3,-2 1,-2 5,0 1,1 2,-1 2,2 2,0 2,2 1,4 1,1 2,0 0,-1 3,-2 10,0 4,2 1,-1 1,1 4,0 1,1 6,1 2,-2 2,0 2,-2 8,0 1,1 2,-1 1,-2 4,-3 4,0 3,-3 6,0 2,-3 4,0 0,-1 2,-2 1,0 4,-5 2,-1 3,0 1,-1 2,1 4,-3 4,-1 2,-2 3,0 2,1 2,-2 5,0 2,-2 1,0 0,-53Z" fill="#e1dd37" stroke="#e1dd37" fill-rule="evenodd"/><path d="M179,99h1v1h-1ZM88,97h1v1h-1ZM24,0l0,3 3,4-1,3 2,2 0,1 5,4 0,2 2,4 2,2 1,0 3,3 5,0 1,2 2,1 3,0 10,5 1,2 2,0 9,9 0,1 4,4 2,4 0,5 2,0 3,5 0,2 3,4 0,2 3,3 1,4 5,6-1,4 1,1 5,1 5,5 1,0 5,4 1,3 3,3 1,3 2,2 0,5 4,0 2,-2 4,-1 2,-2 1,0 2,-3 3,-1 2,-2 2,0 1,-1 0,-2 3,-2 4,1 1,1 2,-1 11,0 1,-1 2,0 1,-1 4,-1 0,-4 1,-1 1,1 6,1 0,-3 3,-2 4,1 1,-2 0,-3 2,-3 5,-1 3,-2 6,0 1,-1-4,-3 4,-4 2,1 6,0 1,1 2,0 3,3 0,1 2,1-1,2 1,-2 4,0 1,-1 1,1 8,0 1,1 5,0 1,1 3,0 1,1 5,1 2,-2 3,0 2,-2 10,0 7,-5 3,0 3,-3 5,0 2,-3 4,0 11,-9 5,0 4,-3 4,-1 3,-2 4,1 3,-3 1,1 2,0 2,-2 2,0 0,-52Z" fill="#fea431" stroke="#fea431" fill-rule="evenodd"/><path d="M25,0l0,3 2,3 0,4 1,2 4,3 1,3 2,2 2,4 1,0 4,4 2,-1 20,10 13,13 11,23 2,2 5,10 3,3-1,1 0,2 1,1 3,-1 3,3 1,0 1,2 2,1 6,6 2,4 5,6-1,2 0,2 1,1 2,0 3,-3 3,0 2,-2 1,0 3,-4 6,-3 3,-4 18,0 5,-3 2,0 3,-4 3,0 1,-1 1,1 4,-3 6,0 0,-4 4,-4 6,-3 5,0-2,-3 5,-5 3,0 1,1 5,0 4,2 2,2 6,1 1,1 14,1 1,1 3,0 1,1 5,1 1,-2 10,-1 1,-1 5,0 4,-3 4,-2 2,0 4,-3 3,0 3,-3 4,0 2,-2 1,0 4,-5 4,-2 1,1 1,-1 4,0 3,-3 4,-1 3,-2 1,1 2,0 3,-3 5,0 1,-1 2,0 0,-51Z" fill="#f05b12" stroke="#f05b12" fill-rule="evenodd"/><path d="M25,2l3,4 1,6 3,3 1,3 2,2 2,4 3,1 2,2 2,0 20,10 13,13 11,23 2,2 5,10 4,4-1,2 1,-2 15,14 2,4 5,6 0,4 2,0 4,-3 3,0 1,-2 4,-4 1,0 3,-3 1,0 0,-1 3,-3 7,0 1,-1 2,1 10,0 2,-2 4,-2 0,-1 3,-2 2,0 1,-1 2,1 4,-3 5,0 0,-3 3,-4 3,-1 5,-4 2,0 0,-2 8,-6 4,2 4,0 4,3 2,0 1,1 2,0 4,2 14,1 6,3 2,0 2,-2 4,0 1,-1 5,0 1,-1 3,0 1,1 1,-2 16,-8 1,1 0,-1 2,-2 1,1 1,-1 3,0 2,-2 1,0 2,-3 10,-5 1,1 9,-5 5,0 0,-1 2,-2 9,0 0,-51-307,0Z" fill="#c32503" stroke="#c32503" fill-rule="evenodd"/><path d="M26,2l2,2 0,5 9,15 27,13 13,13 11,23 2,2 5,10 19,18 2,4 5,6 0,3 3,0 2,-2 4,-1 1,-1 0,-2 2,-2 3,-1 2,-2 0,-2 1,-1 3,0 1,-1 7,0 1,-1 6,0 1,1 1,-1 4,0 3,-3 6,-3 2,0 7,-4 4,0-1,-1 9,-9 1,0 0,-1 2,-2 5,-2 6,-6 4,1 1,1 2,0 1,1 2,0 1,2 2,1 2,-1 1,1 2,0 4,3 3,0 1,1 2,-1 1,1 6,1 4,2 4,0 1,-1 5,0 1,-1 10,-1 18,-9 2,-2 4,0 4,-4 18,-9 2,0 3,-2 4,0-1,-1 3,-2 9,0 0,-50-306,0Z" fill="#7a0403" stroke="#7a0403" fill-rule="evenodd"/></g>
</g>
<use href="#lakes" fill="#c3e1eb" stroke="#4f6f7c" stroke-width="0.3"/>
<use href="#overlay"/>
<text x="146.6" y="78.9" font-size="6.3" font-weight="bold" text-anchor="middle" fill="#1b1b22"><tspan font-style="italic">V. vinifera</tspan></text>
<text x="146.6" y="86.5" font-size="6.3" font-weight="bold" text-anchor="middle" fill="#1b1b22">cultivars</text>
<rect x="0.25" y="0.25" width="166.5" height="92.5" fill="none" stroke="#8a8a8a" stroke-width="0.5"/>
</svg>
<text x="434.40" y="306.00" font-size="5.65" font-weight="bold" text-anchor="middle" fill="#111" >2000-2024</text>
<svg x="12.9" y="416.2" width="167.0" height="93.0" viewBox="0 0 167.0 93.0" overflow="hidden">
<use href="#base"/>
<g clip-path="url(#dataclip)">
<rect x="0" y="0" width="167.0" height="93.0" fill="#30123b"/>
<g transform="scale(0.5) translate(0.5,0.5)" stroke-width="0.8" stroke-linejoin="round"><path d="M137,185h1v1h-1ZM106,181l0,4 10,0-1,-2-3,0-1,-1ZM94,178h1v1h-1ZM142,177h1v1h-1ZM129,177l-2,0-1,2 0,3 1,1 3,-2 0,-3ZM151,176h1v1h-1ZM83,175l-2,0 0,2 1,1 1,-1ZM76,170h1v1h-1ZM114,168l1,2 3,0 0,-3-3,0ZM81,167l2,4 8,0 0,-2-2,-2-4,0-2,-2ZM155,168l0,-2-2,-3-4,3 0,1 2,1ZM162,161l0,2 2,0 0,-1ZM171,160h1v1h-1ZM112,160l-2,1 0,2 1,1 2,-2ZM86,159l-1,3 3,0 1,-2ZM139,158l0,2 2,0 0,-2ZM94,157l0,3 1,1 1,7 5,0 4,5 2,-8-6,3-3,-3 0,-6 2,-1 1,-2-2,0-1,1-2,-1ZM156,154l-1,1 0,3 2,-1 0,-2ZM78,154h1v1h-1ZM104,149l-1,1 0,3 3,1 2,-2 0,-1ZM96,146l0,2 1,0 0,-2ZM178,145l0,1 2,1 0,-2ZM67,146l1,1 5,0-2,-2-3,0ZM73,138l1,2 2,-1 0,-1ZM84,137l-2,2 0,1 2,-1ZM116,132l1,-1 2,1-1,1ZM74,129l0,1 1,0 0,-1ZM107,128l1,-1 3,0 3,3 2,0 1,1-1,1-2,0-1,3-2,1-2,-2-2,-4ZM269,127l2,-1 1,2-2,1ZM252,127l0,1 1,0 0,-1ZM184,125l-5,1-2,2 0,1 1,1 4,0 2,-1ZM268,124l-3,3 1,1 0,2 4,2 2,-2 1,0 2,-2-1,-3ZM246,123l-1,1 1,0ZM185,123h1v1h-1ZM264,119l0,1 3,0-1,-1ZM101,118l2,2 0,4-3,3-4,1 1,2-3,3-2,0-2,-2 1,-6 7,-6ZM253,117h1v1h-1ZM331,114l2,2-1,-2ZM99,114l3,-2 2,0 2,4-3,2-2,0-2,-2ZM86,111l1,-1 3,0 5,4 0,2-2,2-4,-1-3,-3ZM305,108h1v1h-1ZM283,109l1,3 3,3 4,0 1,1 1,-1-6,-3-1,-2 1,-2-3,0ZM171,107l1,2-3,3-2,0-2,-2 0,-1 4,-3ZM82,107l1,-1 2,2-2,1ZM273,106l-2,-1-4,2-1,3 6,0 1,-1ZM249,103l2,-1 3,3 0,2-3,2-2,0-1,-1 0,-3ZM191,103l1,-1 2,0 3,2 0,2-3,2-3,-2ZM174,107l0,-3 3,-2 2,0 3,3-5,4-1,0ZM63,103l1,-1 4,0 2,2 3,0 3,-2 2,0 2,2 1,0 1,2-1,1-4,1-3,3-3,0-2,-2-4,-1-2,-3ZM306,102l0,1 1,0 0,-1ZM289,101l-1,-1-2,0-2,1 0,1 1,1ZM88,98l2,0 2,2-1,1 0,2-2,2-3,-3 0,-2ZM188,96l3,2 0,2-2,2-3,-3 0,-1ZM297,96l0,2 4,0 2,1-1,-2-2,-1ZM333,95h1v1h-1ZM218,89l1,1 0,4-3,3-1,0-1,-1 0,-4ZM274,88l3,4 0,1-3,4-3,0-2,-4 1,-2 3,-3ZM97,89l-3,3-2,0-4,3-2,-2 0,-1 2,-2 0,-2 2,-2 3,0ZM303,83h1v1h-1ZM38,81h1v1h-1ZM87,78l2,2 0,2-2,2-2,0-2,2-1,0-1,-1 0,-2 5,-5ZM325,79l-2,0-1,-1-2,2-1,0 1,6-3,4 0,4 1,1 4,0 1,-2 2,-2 2,0 1,-2-1,-2-4,-3 0,-2 2,-2ZM290,74l4,0 1,1 0,3-2,2-3,0-2,-2 0,-2ZM322,72l-1,0 0,2ZM329,70l1,-1 1,1-1,1ZM51,66l2,-2 2,0 2,3 3,0 1,1 0,2-1,1-3,0-1,-1-2,1-3,-2ZM77,63l2,2 0,1-4,3-2,-2 0,-2ZM33,63l0,1 2,0 0,-1ZM16,59l0,4 2,1 1,-2ZM62,58l1,-1 2,1-1,1ZM33,56l-2,-1-3,4 3,0ZM0,43l0,11 2,0-2,-3 0,-4 2,-2 1,0 0,-1-1,-1ZM23,39l0,3-1,1 2,1 1,-2ZM60,35l3,3 0,2-5,3 0,4-3,2-4,0-2,-2 0,-1 3,-4 3,-7 1,-1 1,1ZM14,26l-2,0 1,2 0,3-1,1-2,0-2,-2-3,0-4,2 0,2 2,1 2,-2 3,0 1,1 1,6 3,-1 1,-1 0,-5 2,-2 0,-2ZM18,22l0,1 2,2 4,1 0,-3-2,-2-3,0ZM15,13l-3,-3-5,3-3,0-1,1 1,2 2,1 2,-2 6,0ZM0,8l0,3 1,0 0,-2ZM18,0l0,3 1,1 0,7 5,4 1,6 1,0 7,7 1,2 1,-2 3,3 0,2 5,5-1,1 0,2-2,1-3,-3-1,-5-1,0-3,4 0,2 1,0 2,2 0,1-2,1-1,2 1,-1 8,0 2,-2 3,3-1,2-2,0 0,4-3,2-1,4 1,1 0,-1 2,-2 4,-2 1,-2 2,0 1,1 0,1-3,3 0,2-1,1 0,5 1,1 0,2-2,2-1,0 1,5 6,6 6,2 3,3 0,2 1,0 2,2-1,1-3,0-6,-4-2,0-2,2 0,1 2,2 0,4 4,3 0,2-1,1 1,4 3,3 2,1 4,0 2,2 0,2 1,1 0,5 4,3 1,0 4,-4 2,0 1,-1 4,0 1,1 0,6-4,4 0,2 2,0 2,2 0,1 4,0 5,7 5,2 2,2 4,0 1,1 4,-2 1,1 0,2 3,2 1,0 2,-2 5,4 4,0 3,2 4,0 1,-1 0,-2 3,-3 3,2 4,0 2,2 1,-1-3,-5-3,0-2,2-2,-1 0,-2 3,-3 6,0 2,2 0,2 1,0 3,3 2,-2 0,-3-6,-2-4,-4-3,2-4,1-1,1-1,4-6,6-2,0-3,-2-2,0-1,-1-1,-4-1,0-2,-3 1,-1 3,0 1,1 4,1 2,-3 0,-2 4,-5-2,-3 1,-1 3,0 2,1 1,2 1,0 1,-1 0,-2-2,-3 1,-3 7,-6 0,-3 1,-2 4,-3 4,3 0,4-2,2-4,0 0,2-1,1 0,4 2,2 4,-3 4,0 1,2-5,4 0,2 1,0 4,-2 0,-3 4,-4 4,-1 1,-1 2,0 3,-2 2,0 2,2 2,-1 1,1 3,0 1,1 4,0 1,-1 3,1 2,-1 1,1 4,0 1,1 6,-3 2,-2 0,-7 1,-1-1,-1 2,-3 0,-4 3,-3 3,-1 1,2-1,1-1,4-2,2 0,4 1,1-1,3 2,3 0,2-2,2-4,0-2,1 2,1 3,0 1,1 5,0 6,-3 3,3 1,-1 2,0 2,-2 0,-2 1,-1 2,0 4,-2 1,0 2,2 0,1 4,-1 0,-4 2,-2 3,4 3,-3 1,0 5,-4-1,-1 1,-2 2,0 2,-2 1,1 2,-1 4,-4 3,0 3,-2 2,0 0,-5 3,-2 2,0 0,-1-4,-4 0,-1 2,-2 2,0 5,3-1,1 0,2 1,1 4,-3 1,0 1,1 0,2 3,2 2,-2 2,2 8,0 1,-1 3,0 2,-3 0,-4-5,2-4,3-5,0-1,-1 0,-7-2,-2 0,-1 1,-1 4,0 5,-4 4,0 3,-3 2,1 6,-1 1,-1-1,-1 0,-3 2,-2 2,0 3,-2 2,2-3,4-3,1 0,2 2,2 1,0 1,-2 2,2-2,2-1,0 0,1 2,4 3,-1 0,-78ZM12,0l2,1 0,-1Z" fill="#4559cb" stroke="#4559cb" fill-rule="evenodd"/><path d="M116,168l0,1 1,0 0,-1ZM105,168l-2,0 0,1 1,1ZM96,159l0,4 1,1 0,2 0,-6ZM104,150l-1,2 1,1 2,0 1,-2-1,-1ZM132,149l-3,2 1,2 2,-1ZM141,147h1v1h-1ZM143,139l-2,1 2,0ZM83,129h1v1h-1ZM86,128l1,0 1,2 0,-1ZM148,118l-1,6 3,0 0,-3-1,-1 1,-2ZM85,122l1,2 2,1 2,-2 3,-1 2,-2 0,-1-4,0-4,-2-1,1ZM175,115l1,-1 1,1-1,1ZM176,114l1,-1 1,1-1,1ZM184,112l1,2-3,3-1,-2 1,-2ZM252,110l-2,0-1,2 1,1 2,-1ZM157,110l1,-1 1,1-1,1ZM269,109l2,-1-2,0ZM85,114l-1,-1 0,-2-1,0-3,-3-3,1 0,1-2,2-5,0-2,-1 0,6 2,2 5,0 1,-1 7,-1 2,-2ZM104,107l2,-1 1,2-2,1ZM226,105l2,2-1,3-2,1-2,-2 0,-1ZM183,104l0,2-1,1-1,0-4,3-4,-1-5,5-4,-4 0,-1 5,-4 3,1 3,-4 6,0ZM229,102l1,-1 1,1-1,1ZM185,96l1,-1 1,1 4,0 2,2 0,3 3,1 2,2 0,2-4,3-2,-1-3,-4-4,-2ZM224,92l2,-1 2,2-2,2-2,-2ZM236,90l2,-2 2,2-1,1-2,0ZM219,88l1,-1 1,1-1,1ZM220,87l1,-1 2,0 1,1-1,1-2,0ZM326,88l-2,-2-2,0-4,4 1,3 2,0 3,-3 1,0ZM312,85l0,3 1,-2ZM67,73l1,-1 1,2-1,1ZM333,72l-2,2 1,1 1,0ZM319,64l0,1-2,1 0,2 2,0 1,-1 0,-2ZM79,63l1,1 0,2-4,4-2,0-3,-3 0,-1 3,-3ZM55,54l2,-2 2,0 1,2 6,0 1,-1 1,1 0,6-2,2-3,0-1,-2-1,0-2,-2 0,-1-1,0ZM66,45l1,-1 2,2-2,1ZM36,43l1,1 3,0 0,-2-3,0ZM35,36l-2,2 0,1 2,1 1,-1 0,-2ZM12,34l-1,0 0,4 2,-1 0,-2ZM14,28h1v1h-1ZM21,22l-1,1 2,1ZM10,13l1,1 2,0-1,-2ZM19,0l0,6 1,1 0,3 4,3 2,8 6,5 4,1 3,3 0,3 5,4 0,4 3,4 1,0 4,-4 0,-3 2,-2 0,-1-2,-1 2,-2 2,0 2,2 3,1 3,3 0,2-5,4 1,2 2,0 1,-1 1,2-1,1-4,1-1,2-2,-2-3,0-1,1 0,6-4,2-1,2 0,4 2,2 1,0 0,-1 3,-3 2,0 3,4 2,0 2,2 0,2-2,2-6,0-4,-3-1,0-3,4 1,1 0,2 4,4 2,0 1,1 4,1 4,5 3,0 1,-1 5,0 0,-2 3,-3 2,-1 5,0 2,-2 5,-1 2,2 0,3-2,2 0,1 4,0 5,3 0,2-4,4-1,0-2,2 0,1 2,1 3,-2 6,0 1,-1 3,3-2,3-2,-1-1,2-2,-1-4,2-2,-1-4,5-3,-4 0,-2-1,-1 3,-3 0,-1-2,-2 0,-6-5,0-2,-2-3,0 2,2 0,1-4,4-3,0-1,-1-6,0-1,1-2,0-6,-3-1,4 4,3-1,7 5,4 2,0-1,-2 0,-3 2,-3 2,0 4,3 4,0 3,-2 2,0 2,-2 2,0 1,1-2,2 0,1 1,0 9,8 1,0 2,-2 1,0 3,4 1,0 2,-2 2,0 5,5 0,2-1,1-3,0-1,1 0,4-4,4-2,1 0,3 2,0 2,2 0,1-3,2-3,-1-1,-2-2,1 2,2 0,1 2,1 4,4 2,-1 4,0-1,-1 0,-2 3,-3 0,-1-2,-2-2,-4 0,-2 4,-2 4,3 4,1 3,3 0,1-1,1-3,0-1,-1-1,1 0,2-4,3 0,2-1,1 1,5 3,2 1,0 2,-3 3,2 1,-1-1,-2-2,-1 0,-2-1,-1 3,-2 1,0 1,2 2,-1 2,1 1,-1 0,-3 3,-3 0,-3-1,-2 2,-2 7,1-3,-4 1,-1 0,-2 4,-2 4,-4 1,-4 3,-3 5,0 2,2 1,2 0,3-2,2 0,3 3,3 2,0 5,-3-2,-2-3,0-1,-1 0,-3 3,-3 2,4 3,3 3,-4 2,2 8,0 2,3 12,0 1,-1 2,0 1,1 4,0 4,-3 0,-8 2,-2 3,-8 3,-2 1,-4 3,-3 3,-1 1,1 0,4-1,1 0,2-3,4 0,4 1,1-2,3-3,0 2,12-2,2-1,0 1,1 3,0 2,-3 6,-1 5,-4 5,0 1,-1 0,-5-1,-2 3,-2 1,0 2,2 1,3 2,2 3,-1 2,-4 0,-2-3,-3 1,-2 2,1 1,-2 2,0 6,5 8,-1 2,-2 2,0 2,-2 0,-2-1,-1 0,-5 4,-4 1,0 3,3 3,0 0,-1-4,-5 2,-2 7,0 4,3-2,2 0,1 5,-2 3,3 0,1 2,0 1,-2 0,-3 1,-1-1,-1-5,0-1,-1-2,0-4,-5 0,-1 2,-2 4,-2 3,0 2,2 0,1 6,0 1,-1 0,-2-1,0-2,-2 1,-1 3,0 3,2 3,0 3,-2 0,-4 4,-4 2,0 1,1 4,0 3,-2 2,0 2,2-2,4 1,2 2,1 0,-69ZM14,0l-1,0 0,1Z" fill="#3e9bfe" stroke="#3e9bfe" fill-rule="evenodd"/><path d="M130,151h1v1h-1ZM104,151l0,1 2,0 0,-1ZM113,137l-3,2-1,5 1,1 0,2 4,2 2,-3 2,0 0,-1-2,-4 1,-2ZM104,127l-2,0-2,2 0,2 1,0 2,2-1,3-3,2-2,0 3,2 4,0 4,-4-3,-4 0,-4ZM133,126h1v1h-1ZM87,119l0,4 2,0 3,-2 0,-1-2,-1ZM156,118l-1,2 1,2 2,1 3,-3-1,-1ZM163,112l0,1 1,0 0,-1ZM156,112l0,1 1,0 0,-1ZM176,111l-2,-1-3,3 0,2 3,-1 2,-2ZM229,109l-1,3 2,2 2,0 0,-4-1,-1ZM83,112l-2,-2-3,-1-3,4-2,0-1,1-1,-1-2,0 0,3 1,0 2,2 8,-1 3,-2ZM179,110l0,2 1,1 1,0 2,-3 2,0 3,4 0,3 3,0 2,-3 0,-2 2,-2 1,0 4,4 0,1 2,-1 0,-4-2,-3-6,3-2,-1-4,-4-2,0-3,3ZM103,102l-1,-1-2,2-8,1 0,1-2,2 3,2 1,-1 2,0 3,3 2,0 1,-1 0,-3 1,-1ZM259,89l1,1 0,2-4,4-1,-1 0,-2ZM84,92l-2,-2-2,0-8,6-4,0-4,-3-2,1-3,0-2,-2-2,1 0,1 3,3-1,7 2,1 2,-1 0,-5 1,-1 3,0 2,1 4,4 1,0 6,-3 2,-2 3,0 1,-1ZM323,88h1v1h-1ZM297,87l-2,0 0,1 1,1ZM276,86l0,2 2,1-1,-3ZM237,85l5,3 0,4-3,2-3,0-1,1-2,-2 0,-1 2,-2 0,-2ZM70,70l2,2-3,3 0,1-2,1-2,-2 0,-2 3,-3ZM309,69l3,0 1,-1-1,-1-1,1-1,-1ZM333,64l-1,1 0,2 1,1ZM79,62l2,2 0,3-2,1-2,3-2,1-2,-1-3,-4 1,-3 3,-2 2,1ZM49,60l-1,1 0,3 2,-1 0,-2ZM53,50l0,2 2,0 1,-1-1,-1ZM38,43h1v1h-1ZM52,36h1v1h-1ZM19,2l1,2 0,4 1,2 4,3 1,6 7,7 4,1 2,2 1,4 2,2 4,0 2,2-2,2 0,2 1,1 3,0 1,-1 0,-3-2,-2 0,-1 4,-4 3,0 2,2 4,2 3,4 0,1-3,3 0,1 6,-1 2,2 0,2-1,1-4,0-2,2-2,0-1,1 2,2 4,-1 3,3 1,5-3,4-4,1-2,-4-4,-4-2,-1-1,1 0,3 3,3 0,1 1,1 4,0 1,1-1,1 0,3 1,1-2,2-6,0-4,-2-3,0-1,2 1,3 3,3 8,2 4,5 1,0 2,-2 3,0 7,-6 2,0 1,-1 2,1 1,-1 7,-1 2,3-1,5 2,0 2,2 2,0 2,2 0,2-2,3 0,2 4,0 2,-1 4,3 0,3-1,2 2,1 2,3 0,2-2,4 4,5 0,1-2,2-3,0-1,1 0,3 4,0 5,4 3,0 4,4 0,1-2,2-3,0-1,-1 4,3 1,0 2,3 3,0 1,-1-1,-2 4,-4-1,-1 0,-4 4,-5 0,-3 3,-3 1,1 3,0 2,-2 2,-4 0,-2 4,-3 5,0 1,1 2,0 3,-2 2,2 3,0 4,-2 1,-2 2,0 4,-3 9,0 0,-4 2,-2 6,0 1,1 2,0 1,1-1,3 2,1 2,2 0,1 2,1 4,0 2,-2 1,-4 4,-4 0,-2 6,-6 0,-3 1,-1 4,0 4,3 0,2 4,5 0,1-2,2-2,0-3,-3 0,-4-2,1-1,6-3,4 2,3 0,2-3,4-2,0 0,7 2,3 1,-1 3,0 3,-2 0,-2-1,0-2,-2 0,-1 2,-3 0,-2 5,-4 0,-2 2,-2 2,2 3,0 1,2 2,1 4,4 1,2 2,0 1,-1 0,-3-6,-3 0,-4 2,-2 2,0 2,2 0,1 1,0 2,-2 2,0 4,4 2,1 5,-1 2,-4 5,0 0,-5 2,-2 4,-7 1,0 4,-3 1,1 5,0 1,-1-2,-3 3,-3 6,-3 2,0 2,2 1,0 1,-1-1,-2 3,-3 3,0 4,-3 3,1 7,-5 5,0 1,1 4,-3 2,0 3,3 0,-61-313,0Z" fill="#19d5cd" stroke="#19d5cd" fill-rule="evenodd"/><path d="M105,151h1v1h-1ZM113,137l-3,2-1,5 1,1 0,2 4,2 3,-5 0,-2-2,-4ZM103,127l-2,2 3,3 0,2-2,3 0,2 4,-2 0,-2-2,-3 0,-4ZM88,121l1,1 1,-1ZM157,120l0,1 2,0 0,-1ZM74,116h1v1h-1ZM215,112l0,3 2,2 2,0 1,-1-3,-2 0,-2ZM174,112l-1,0 0,1ZM180,111h1v1h-1ZM78,111l-1,4 1,1 4,-1 0,-2-2,-2ZM199,109h1v1h-1ZM186,107l0,2 4,5 2,-3-1,-2-2,-2ZM243,105l0,1 1,0ZM103,103l-1,-1-2,2-4,0-1,1-2,0 0,2 3,0 4,3 2,-1 0,-4ZM60,101l-2,1 1,2 1,-1ZM76,98l-4,-1-1,1-2,0 0,1 2,3 2,0 2,-2 1,0ZM239,95l-3,1 0,2 1,0 2,-2ZM59,95l1,1 3,0 0,-1ZM222,93l-1,1 0,2-3,4 1,0 4,3 3,-2 0,-4ZM83,92l-2,0-1,1 0,3 2,0ZM261,87l1,1 0,3 1,1-3,3-3,1-2,2-2,-2 0,-2 5,-7 1,1ZM48,73l0,2 3,3 5,0 4,2 3,3 0,1 1,0 3,-3 0,-2-4,-4 0,-1-8,0-4,-2-2,0ZM333,66h1v1h-1ZM63,70l3,0 2,-1 1,-2-1,-1-4,0-1,1ZM56,58l-1,1 3,4 0,1 1,0 1,-2ZM50,39l-2,1 2,0ZM20,0l1,9 5,5 0,3 2,4 5,4 3,1 4,4 1,4 2,1 2,-1 4,0 5,-4 1,1 4,1 7,7 0,3 3,0 2,2 0,6 1,2-2,1-3,-3-2,0-1,1 4,1 2,2 0,2 1,1 0,4 1,1 2,-1 1,1 2,0-1,-2 1,-1-1,-1 1,-2 3,3 0,2 3,5-4,4-2,4-4,0-2,1 0,5-1,1 3,-1 5,-5 6,0 1,1 2,-1 3,0 1,1 0,2 1,1-1,4 2,2 4,1 2,2-2,6 3,0 2,-1 2,2 1,0 2,3 0,3 2,2 0,2 1,1-1,7 3,4 0,2-2,2-4,1 0,1 3,0 5,4 4,1 4,4 1,2 0,5 1,0 1,-1 0,-2 2,-2 1,0 0,-2-2,-2 1,-4 2,-2 1,0 0,-2 2,-4 2,-2 4,0 1,1 2,-2 0,-2 1,-1-1,-1 0,-3 3,-3 1,0 1,2 1,-1 8,0 3,-3 3,-1 1,2-2,2 0,1 3,0 1,-1 2,0 0,-1 3,-3 3,0 1,-2 6,0 3,-3 0,-1 3,-2 4,1 2,-2 2,2 1,0 4,-3 2,0 2,2 0,5-2,1-2,-2-1,0-1,2 1,1 2,0 1,2 3,1 3,-4 3,-6-1,-6 2,-2 1,1 0,2 4,-1 0,-5 3,-2 4,0 2,2 2,0 2,3 0,3 3,2 4,-3 0,-3-2,-2 1,-1 4,1 2,2 4,2 1,2-1,4 2,-1 2,2-1,1 3,0 4,4 2,1 2,-2 2,1 2,-4 3,0 2,1 1,-2 0,-3 3,-3 0,-3 7,-6 1,0 1,2 3,0 1,-1 0,-4 3,-3 6,-3 2,0 2,2 1,-1 0,-2 2,-2 2,0 7,-4 4,0 5,-4 6,0 2,-2 4,0 2,2 1,0 0,-59Z" fill="#46f884" stroke="#46f884" fill-rule="evenodd"/><path d="M113,137l-3,2-1,5 1,1 0,2 4,2 3,-5 0,-2-2,-4ZM103,128l-1,1 1,0ZM79,114h1v1h-1ZM163,105l1,1 1,-1ZM102,104l-8,2 6,3 1,-1ZM204,100l-2,1 2,0ZM71,99l0,2 2,0 1,-1 0,-1ZM259,96l-1,1 1,1 1,-1ZM222,96l0,2-1,1 2,2 1,0 1,-1 0,-2-2,-2ZM266,93l-2,1 2,0ZM230,87h1v1h-1ZM58,76l0,1 2,2 3,0 0,-1-2,-2ZM74,75l-2,1 1,2 2,-1ZM49,73l0,2 2,2 3,0 1,-1 0,-1-2,-2ZM64,67l0,2 2,0 1,-1 0,-1ZM20,2l2,4 0,3 4,4 1,5 2,2 0,1 6,5 2,0 4,4 0,3 1,1 6,-1 4,-3 3,0 6,3 5,5 0,1 6,5 0,5 2,3-3,3 0,1 2,2 0,2 2,0 0,-4 2,-1 4,4 0,2 3,4 0,3-1,1-2,0-2,5 5,-1 2,2 1,-2 2,0 3,3 0,2 1,1 0,2-1,1 2,3 4,0 1,1 0,7 2,-1 4,2 2,2 0,2 3,5 0,2 1,1 0,2-1,1 0,4 3,5 0,2-2,2 2,4 2,1 3,0 5,5 1,2 3,0 0,-2-2,-3 0,-2 1,-2 3,-2 1,-4 2,-2 0,-1 2,-2 1,1 3,0 1,1 2,-3-1,-6 3,-3 2,0 1,-1 2,2 0,1 3,0 6,-4 4,0 1,-1 5,1 1,-1 3,0 2,-2 2,1 1,-1 2,0 5,-5 5,0 2,-2 3,0 2,1 4,-3 4,2 0,3 1,1 3,-6-1,-2 7,-6 4,-2 2,0 1,-1 4,1 2,3 4,0 2,-2 3,0 2,2 7,1 3,2 0,4-1,1 3,0 2,2 1,0 4,-4 1,-2 3,0 3,-3 2,2-2,4 2,1 1,-1 2,0 2,-2 0,-4 5,-4 4,-2 1,2 2,1 2,-1-2,-4 8,-5 2,0 9,-5 3,0 2,-2 4,-2 3,0 5,-4 5,0 3,-2 5,0 2,2 0,-58-312,0Z" fill="#a4fc3c" stroke="#a4fc3c" fill-rule="evenodd"/><path d="M113,137l-3,2-1,5 1,1 0,2 4,2 3,-5 0,-2-2,-4ZM98,106l0,1 2,1 0,-2ZM269,86l-1,1 0,2 1,-1ZM50,74l0,1 2,2 2,-2-1,-1ZM65,68h1v1h-1ZM75,54l-2,0-1,2 2,1ZM21,1l0,3 2,3 0,2 4,5 0,2 2,4 5,5 5,2 2,2 1,4 4,0 8,-4 6,3 4,4 1,0 5,5 2,1 2,8 3,2 0,2 3,3 2,5 4,5-1,2-4,1 0,2 4,-2 4,2 4,4 0,2 2,3-1,1 0,2 1,1 1,-1 2,0 2,3-1,5 4,0 4,3 2,4 0,2 2,3 0,10 3,4 0,2-1,1 0,4 1,1 4,0 7,7-1,-5 1,-1 0,-2 4,-4 1,-5 5,-4 2,2 2,0 1,-1-1,-6 4,-4 2,0 1,-1 2,1 1,2 1,0-1,-1 1,-1 2,0 3,-2 1,1 2,-1 4,0 1,-1 3,1 2,-2 3,0 1,-1 5,0 5,-4 5,0 2,-3 6,0 2,-2 6,0 2,3 1,-1-1,-2 1,-3 2,-2 5,-2 2,-3 3,0 1,-1 4,0 1,1 2,0 1,1-1,2 1,0 2,-2 6,0 2,2 3,0 1,1 5,0 4,4-1,3 2,0 1,1 2,-1 2,-4 2,0 1,1 4,-4 3,0 1,-1 3,1 9,-6 2,1 0,2 2,0 0,-2-2,-2 1,-1 12,-6 2,0 4,-3 3,0 9,-5 2,0 5,-4 6,-1 1,-1 5,0 2,2 0,-57-311,0Z" fill="#e1dd37" stroke="#e1dd37" fill-rule="evenodd"/><path d="M113,137l-3,2-1,5 1,1 0,2 4,2 3,-5 0,-2-2,-4ZM139,111h1v1h-1ZM282,78h1v1h-1ZM52,75h1v1h-1ZM83,70h1v1h-1ZM73,55h1v1h-1ZM22,0l0,3 2,3 0,4 6,8 0,2 5,5 3,1 6,6 3,0 4,-3 6,1 16,13 9,19 5,6-1,1 8,7 1,3 2,2 0,1-2,1 0,1 1,0 1,-2 4,5-1,3 6,3 3,4 0,2 2,3 0,3 1,1 0,8 3,5-1,6 1,1 2,-1 2,1 1,2 3,2 1,-5 3,-3 2,-4 0,-3 1,-2 9,-8 6,-3 4,0 1,-1 8,0 1,-1 3,0 1,-1 3,0 1,-1 3,0 1,-1 5,0 4,-2 2,-2 5,0 3,-3 3,0 2,-1 1,-2 2,0 1,-1 4,2 4,-5 2,0 4,-2 1,-3 2,-2 1,1 3,0 1,-1 3,2 5,0 2,2 5,0 2,2 2,0 1,-1 1,1 3,0 4,2 2,2 2,0 3,-2 2,2 2,0 3,-4 2,0 1,-1 2,1 3,0 1,-2 4,-1 2,-2 3,-1 3,-3 10,-5 3,0 1,-2 5,0 7,-5 3,0 2,-2 1,0 1,-2 3,0 6,-3 4,0 1,1 2,0 0,-55Z" fill="#fea431" stroke="#fea431" fill-rule="evenodd"/><path d="M113,137l-3,2-1,5 1,1 0,2 4,2 3,-5 0,-2-2,-4ZM23,0l0,2 3,5-1,3 3,4 0,1 2,1 1,4 3,4 5,2 5,5 4,0 3,-3 4,1 4,3 1,0 13,11 9,19 3,3 2,4 7,7 0,1 7,8 1,2-1,3 1,0 2,2 2,0 4,6 0,3 1,1 0,3 1,1 0,3 1,1-1,2 3,5 0,8 4,0 3,3 0,1 2,-3 0,-2 2,-2 2,-4-1,-1 1,-1 1,-4 7,-6 5,-2 4,-3 1,1 2,0 1,-1 3,0 1,-1 8,0 1,-1 3,0 2,-2 3,0 1,-1 3,1 7,-4 4,0 2,-1 1,-2 6,-2 0,-2 4,-3 6,-1 1,-1 4,1 1,-1-1,-3 1,-1 2,0 1,2 1,-1 0,-2 2,-2 1,1 5,0 3,2 1,-1 2,0 3,3 5,0 1,2 3,0 2,-1 6,3 2,0 1,2 2,0 4,-2 2,3 4,-5 2,0 1,-1 4,2 3,-3 3,-1 2,-2 22,-11 2,1 4,-3 2,0 3,-3 2,0 2,-2 8,-4 1,1 1,-1 8,0 0,-54Z" fill="#f05b12" stroke="#f05b12" fill-rule="evenodd"/><path d="M113,137l-3,2-1,5 1,1 0,2 4,2 3,-5 0,-2-2,-4ZM239,79l1,-1 1,1-1,1ZM23,0l4,5-1,6 5,5 0,3 4,5 5,2 5,4 2,0 2,-2 6,1 4,3 1,0 13,11 9,19 19,23 0,1 2,2-1,1 2,2 1,0 5,7 0,3 1,1 0,3 1,1 0,3 2,4 0,3 1,1 1,6 1,0 5,5 1,-4 4,-6-1,-2 3,-4-1,-1 4,-3 1,0 1,-2 11,-5 3,0 1,-1 5,0 1,-1 2,1 1,-1 5,0 1,-1 2,0 1,-2 8,0 2,-2 4,-2 1,1 2,0 2,-1 2,-3 4,-1 2,-4 3,0 1,-2 4,-2 2,0 2,-2 1,1 0,2 1,0-1,-3 2,-2 2,0 5,-3 2,1 5,0 1,2 2,-1 3,0 3,4 4,0 2,2 2,0 1,-2 2,0 3,2 2,0 3,3 3,0 2,-2 1,0 1,2 2,1 2,-4 3,0 1,-1 4,1 2,-2 28,-14 3,0 2,-2 2,0 2,-2 16,-8 8,0 0,-53Z" fill="#c32503" stroke="#c32503" fill-rule="evenodd"/><path d="M113,137l-3,2-1,5 1,1 0,2 4,2 3,-5 0,-2-2,-4ZM24,0l4,5 0,4-1,2 5,4 0,4 2,4 7,3 4,3 1,0 0,-1 2,-1 1,1 3,0 1,1 4,1 16,13 9,19 16,19 0,1 3,3 2,4 6,7 1,2 0,3 1,1 0,3 1,1 0,3 2,4 1,7 1,2 6,6 1,-4 2,-3 1,-5 4,-8 15,-7 3,0 1,-1 3,0 1,-1 4,0 1,-1 2,0 1,1 1,-1 3,0 1,-2 3,0 1,-1 3,0 2,1 1,-2 3,-2 6,0 2,-3 4,-2 3,-3 3,-1 1,-2 15,-8 10,1 1,1 5,0 3,3 4,0 2,2 1,0 1,-2 6,3 2,0 4,3 5,-2 2,2 0,1 3,-4 3,0 1,-1 4,1 1,-2 2,0 52,-26 8,0 0,-53Z" fill="#7a0403" stroke="#7a0403" fill-rule="evenodd"/></g>
</g>
<use href="#lakes" fill="#c3e1eb" stroke="#4f6f7c" stroke-width="0.3"/>
<use href="#overlay"/>
<text x="146.6" y="78.9" font-size="6.3" font-weight="bold" text-anchor="middle" fill="#1b1b22"><tspan font-style="italic">V. hybrid</tspan></text>
<text x="146.6" y="86.5" font-size="6.3" font-weight="bold" text-anchor="middle" fill="#1b1b22">cultivars</text>
<rect x="0.25" y="0.25" width="166.5" height="92.5" fill="none" stroke="#8a8a8a" stroke-width="0.5"/>
</svg>
<text x="96.40" y="413.90" font-size="5.65" font-weight="bold" text-anchor="middle" fill="#111" >1960-1979</text>
<svg x="181.9" y="416.2" width="167.0" height="93.0" viewBox="0 0 167.0 93.0" overflow="hidden">
<use href="#base"/>
<g clip-path="url(#dataclip)">
<rect x="0" y="0" width="167.0" height="93.0" fill="#30123b"/>
<g transform="scale(0.5) translate(0.5,0.5)" stroke-width="0.8" stroke-linejoin="round"><path d="M157,143l1,1 0,-1ZM101,139h1v1h-1ZM163,137l0,1 1,0 0,-1ZM120,137l-1,-1-3,2 0,2 3,-1ZM169,131l0,1 1,0 0,-1ZM154,130l-2,-1-1,1-3,0-2,1 0,1 1,1 2,-1 5,0ZM111,129l0,2 4,1 0,-2-2,-2ZM148,126l-2,-1-1,2-2,1 4,0ZM185,123l0,2 1,0ZM140,123h1v1h-1ZM130,122l0,1 1,0ZM226,120l0,1 1,0 0,-1ZM247,119l-3,0-5,5 2,4 2,-2 0,-2ZM151,119l-2,0-2,1 0,1 1,1 2,0 1,-1ZM83,119l1,-1 1,1-1,1ZM306,116l0,1 2,2 1,-1 0,-2ZM284,113h1v1h-1ZM190,111l1,-1 3,3-1,1-2,0-1,-1ZM215,111l-3,-1-2,4 2,0ZM289,107h1v1h-1ZM272,106l0,1 3,2-1,-3ZM286,103l1,2 0,-2ZM101,103l1,-1 3,0 1,1 0,2-1,1-2,0-2,-2ZM298,102l-2,0-2,2-1,0-1,2 1,1 2,0 3,-3ZM175,100l1,0 2,2-1,10-1,1-1,0-3,-3-3,0-2,-2 0,-2 3,-3 2,0ZM305,100l-2,4 0,2 2,-1ZM86,98l2,-1 2,2 0,1-2,1-2,-2ZM307,97l0,1 1,-1 3,3-1,-2ZM276,97l-1,2 2,1 0,-2ZM266,97l0,3 3,-1 0,-2ZM288,95l0,1 3,1 0,-2ZM228,91l2,0 6,7-3,4-3,0-2,-3-2,0-1,-1 1,-1 0,-4ZM88,91l2,-2 2,0 1,1 2,0 2,2 0,1-1,1-6,0-2,-2ZM302,88l2,0 1,1-1,2 2,0 0,-3ZM216,88l2,-1 2,2 0,1-1,1-2,0-1,-1ZM222,85l1,-1 4,4 0,1-2,1-3,-3ZM220,84l1,-1 1,1-1,1ZM278,82l1,-1 2,1-1,1ZM93,79l1,4-2,3-2,1-4,0 0,8-2,2-1,-1-9,0-3,-2-1,-2 1,-2 0,-3-3,-3 0,-3 3,-2 5,0 4,3 3,0 3,-4 2,0 1,-1 2,0ZM36,70l0,1 1,0 0,-1ZM68,68l2,4-2,7-1,1-6,0-1,1 0,3-2,2-5,-6 0,-2 1,-1 4,0 2,1 5,-4-1,-3 3,-3ZM325,61l1,1-3,3-1,-2 2,-2ZM40,62h1v1h-1ZM328,59l1,1-2,2-1,0-1,-1 2,-2ZM78,56l1,0 2,2 1,5 2,2 0,4-1,1-1,-1-5,-1-2,-2 2,-4-1,-4ZM72,55l2,2 0,2-2,2-1,4-1,1-2,0-1,-1-1,-7 2,-2 3,0ZM27,50h1v1h-1ZM17,47h1v1h-1ZM50,46l1,-1 2,1-1,1ZM34,46l-2,2 1,1 0,2 2,1 1,-3-1,-1 0,-2ZM12,41l-3,0-4,4 0,1 1,1 2,0 4,-4ZM62,39l1,0 3,4-3,3-3,-3 0,-2ZM25,29l-5,0-1,1 0,2 2,2 0,3-1,1 1,3 2,-1 1,-4-2,-3ZM8,27l-1,1 0,2 1,1 2,0 1,-2-1,-2ZM1,20l-1,0 0,6 2,-2 0,-3ZM17,18l-1,0 0,1ZM6,13l0,4 4,-2-1,-2ZM1,7l-1,0 0,4 2,-2ZM13,0l1,4 3,6 4,4-1,1 1,2 4,4 3,1 1,2 4,3 0,1 3,4-3,4-6,-1 1,5 2,0 3,2 2,0 2,-4 4,-2 2,2 0,4 3,0 3,3-3,6-3,3-6,1-2,2-2,0-2,2 0,1 2,2 2,0 4,-5 2,0 4,3 0,2-1,1 0,7 2,0 3,-2 2,0 1,-4 1,-1 0,-2 1,-1 0,-2 3,-4 0,-4 1,-2 2,-2 2,0 2,2 0,2-3,4 0,6-1,1 0,11-1,1-4,0-2,1-1,3-1,1-2,0 0,2 3,6 1,1 2,0 2,2 0,2 1,1 2,-1 1,-3 3,-3 1,0 2,2 0,2-1,1 0,5-4,4-1,0 0,1 3,1 4,-4 2,0 1,-1 1,0 2,2-1,5-1,1-3,0-2,1 1,2 3,2 5,0 2,-2 1,0 2,2-2,4 1,3 2,2-1,4 2,0 1,-2 2,-1 3,2 3,-1 1,2 4,1 2,-2 2,0 2,-2 3,-1 0,-3-1,-1-3,3-2,0-3,-4-3,0-1,1 1,2-1,2-2,-1 0,-3-1,-1 0,-4 1,-1-1,-1 2,-2 1,0 3,-4 2,0 3,2-1,2 2,2 1,0 2,3 3,-3 6,3 0,1-2,2-1,0 0,3-1,2 6,6 8,0 0,-1-6,1-2,-2 0,-1 3,-3 6,1 2,-2-1,-2 0,-3 2,-2 3,1 2,2 2,0 8,8 1,-1 0,-2-1,-1 1,-2 14,0 1,-1 3,5 6,0 0,-1-4,1-2,-3 0,-2-1,0-7,-6 4,-4 1,0 4,4 0,1 4,3 0,1 2,2 5,0 1,1 6,0 1,-2 4,0 3,2 1,6 1,1 2,-2 0,-4 2,-3 3,3 1,-1-1,-2 4,-2-3,-3-1,-4-1,0-5,4-3,0-2,-2 0,-3-1,-2 3,-3 4,-1 2,-2 4,5 4,-1 2,-2 0,-2 3,-4 2,1-1,5 3,2 0,2 1,1 1,-1 5,0 5,6 0,1 1,0 2,-3 1,0 3,3 6,-1 1,-1 2,2-1,2 1,1 2,0 0,-2-1,-1 1,-2 3,-3 10,-1 1,-1 0,-3-1,-2 2,-2 1,1 2,-1 3,-3 0,-2 2,-2 9,0 1,1 0,2-1,1 3,2 3,0 1,-1-1,-4-2,0-1,-1 2,-4 1,0 3,4 2,0 1,-1 6,0 2,-1 0,-1 7,-8 4,0 1,-1 2,0 2,-1 5,-5 7,0 1,-1 2,0 1,1 2,-2 3,4-2,2-4,2 0,1-2,2-4,-1 0,1-5,5-1,0 0,1-2,2 1,1 3,0 3,2 3,-2 2,-8 1,-1 2,0 1,1 2,0 2,2-1,4 1,2 2,0 0,-17-1,-1-2,0-2,-2 4,-4 1,0 0,-64ZM1,0l-1,0 0,1Z" fill="#4559cb" stroke="#4559cb" fill-rule="evenodd"/><path d="M191,116h1v1h-1ZM96,115l0,6 4,-1 0,-2-1,0-1,-2ZM168,111l1,2 2,0 1,-1-1,-1ZM223,102l0,2 3,0 1,-1 0,-1ZM159,101l1,-1 2,2-2,1ZM75,98l0,4 4,3-4,2 4,-2 3,4-1,4 2,2 2,0 3,3 2,0-1,-4-1,-1 0,-3-2,-2 0,-2 1,-1-1,-6-2,-2-7,0ZM225,92l-1,-1-2,0-4,2-3,0-1,1-2,0-2,2 0,1 2,1 2,3 2,0 1,-1 5,0 3,-5ZM277,90l-1,2 2,1 1,-2ZM89,88l-2,1 1,1ZM69,86l-1,0 0,2-1,1 0,7 2,0 1,-1-1,-2 1,-6ZM209,84l2,-1 1,1 0,2-2,1-1,-1ZM53,83l0,1 2,1-1,-2ZM321,82l-1,-1-4,1 0,1-3,3 0,1 1,1 4,0 3,-3ZM66,82l-1,-1-3,0-1,1 0,4-3,3 2,0 0,-2 2,-2 3,-1ZM75,75l1,-1 1,1-1,1ZM55,75l1,1 2,0 0,-1ZM333,73l-2,1-3,0-1,4 4,0 2,-1ZM300,68l1,-1 2,0 1,2-1,1-2,0ZM43,56h1v1h-1ZM71,48l2,1 0,3-1,1-2,-1 0,-3ZM29,36l0,2 1,1 3,0 2,1 0,-2-1,-1-1,1-2,0ZM49,33l2,-1 2,2 0,2-1,1-3,-2ZM22,30h1v1h-1ZM0,22h1v1h-1ZM13,0l1,4 3,3 2,4 1,0 2,2-1,4 3,3 1,-1 2,0 7,6 0,3 3,4-2,3 4,0-1,-2 1,-1 2,0 2,2 0,5 1,2 1,-1 3,0 2,2 0,1 3,0 2,2-3,4-2,0-1,-1-1,1 0,3-1,1 0,3-1,1 0,2 2,3-2,2 0,2 1,1 2,0 2,-2 2,-4 0,-3 3,-4 0,-3 2,-4 0,-4 1,-2 3,-3 1,0 4,4 0,2-2,2 0,5-3,3 0,7-2,3 1,2 0,3 2,1 3,-4 0,-3-1,-1 0,-5 2,-2 4,0 1,-1 1,0 2,2 4,-1 3,4 0,2 2,3 1,6-1,1-2,0-3,-2-3,0-2,-2 0,-2 1,-1 0,-4-1,0-2,3 0,2-2,2 0,3 1,1 0,2-1,1 0,4 6,0 3,2 1,-1 1,1 2,0-1,-1 1,-2 6,0 2,-1 3,3 0,2 1,1 0,2-2,2 0,2 5,3 1,4-1,1-2,0-1,-1-6,0 2,3-1,5 1,1 3,-1 0,-1 3,-3 2,2 3,0 1,-1 3,1 2,3 0,2 2,0 5,4 0,1-4,4 1,1-1,2 2,2 3,0 3,-3 5,0 1,-1 0,-4 2,-2 4,0 1,1 2,0 2,1 5,5 0,-1 2,-2 13,-1 0,-1-4,-1-2,-2 1,-2 2,0 2,-1 1,-2 3,-1 3,3 1,0 2,3 1,0 0,-3 2,-2 1,-3 1,-1 2,1 3,-2 4,2-1,8 2,1 0,1-2,2-3,1 0,1 5,0 0,-2 2,-2 2,0 2,2 2,0 0,-2-2,-2-1,-9 3,-3 4,0-1,-2 0,-2 1,-1 2,0 4,4 1,3 2,1 2,-1 1,-4 3,-4 1,0 2,-2 4,1 0,-1 5,-5 1,-2 2,0 5,5 1,0 2,2 2,4 5,4 0,3-2,2-4,2 1,3 2,0 1,-1 6,1 4,-8 4,2 4,0 0,-4 2,-3 5,0 3,-3 0,-4 1,-1 4,0 2,-1 3,2 2,0 2,-2 0,-4 3,-2 2,2 0,4 1,2 1,0 2,-2 5,1 2,-1 0,-1 2,-2 1,0 4,-5 0,-1-3,-3 1,-1 3,0 2,2 4,1 2,-1 0,-1 3,-3 4,-1 1,-1 4,0-1,-2 1,-1 0,-3 6,-5 3,0 2,2-2,4-4,0-3,3 1,3 1,-1 1,1 5,-6 2,0 0,-63Z" fill="#3e9bfe" stroke="#3e9bfe" fill-rule="evenodd"/><path d="M141,111l-2,1 0,2 2,0ZM181,103l-2,4 2,1 1,2 4,0-1,-1-1,-5-1,-1ZM80,97l-4,2 0,1 4,3 1,3 3,3-1,3 1,0 0,-3 2,-4 0,-3-2,-4ZM93,96l-1,1 1,1-1,4 2,-1 0,-3ZM223,93l-6,1-2,2-4,0 4,3 5,0 2,-1 1,-2ZM68,90h1v1h-1ZM244,87l1,-1 3,0 2,2 3,0 1,2-2,3-3,0-1,-2-2,0-2,-2ZM260,85l0,1-3,4-4,-2 0,-2 1,-1 4,0 1,-1ZM62,83h1v1h-1ZM320,82l-2,0-4,4 1,1 3,0 2,-2ZM291,74l2,4-4,3-1,0-1,-1 1,-5 1,-1ZM73,76l-1,-1-1,2ZM328,64l-2,0-2,3 2,1 2,-2ZM65,63l-3,0-1,1 0,2 2,1 2,-2ZM333,61h1v1h-1ZM57,47l-2,0 0,1-2,2-4,0 0,5 2,2-1,1 0,3 1,1 1,-1 0,-5 3,-2 0,-2 1,-1ZM13,0l0,1 2,1 1,3 7,8 0,3-1,1 1,1 4,0 2,2 3,1 2,2 0,2 1,1 1,4 1,1 3,0 2,1 3,3 0,3 2,0 1,-2 3,2-2,-2-1,0-2,-2 0,-1 1,-1 6,0 1,1-1,4 2,3 3,0 4,-3 1,0 5,5 0,3-2,4 0,3-2,2-1,0 0,4 4,-5 2,1-1,-2 0,-4 2,-2 1,0 3,3 0,5 5,0 2,2 2,4 0,2 2,3 1,6-2,2-4,-3-4,0-3,-3 1,-5-1,1 0,2-2,2 0,3 2,2 3,0 2,2 0,2-1,1 1,1 2,0 3,-3 2,0 1,1 6,0 1,1 3,6 0,1-2,2 0,2 3,1 3,4 0,5-1,1 1,1 3,0 1,-1 3,3 1,0 4,5 4,2 0,3-4,3 0,3 1,1 3,0 2,-3 5,0 1,-1 0,-3 3,-3 5,0 1,1 5,-3 3,1 4,5 3,0 1,-2-3,-5 0,-2 1,-1 2,0 4,3 5,-4-1,-2 2,-2 2,0 3,3 0,1-2,2 0,1 3,1 3,-3 0,-3 1,-1 9,0 4,2 6,-5 1,0 0,-3 2,-2 3,0 2,1 2,2 1,3 1,1 2,0 1,-1 0,-3 2,-4 2,-1 1,-2-1,-1 1,-1 0,-3 1,-1 4,2 0,5 2,-2 1,0 4,-5 2,0 5,5 5,0 1,1 0,3-1,1 1,2 4,2 2,2 0,3-4,4 2,0 2,2 2,0 1,-4 3,-4 2,-1 5,0 0,-2 2,-2 6,0 2,-2-1,-2 0,-3 2,-2 2,1 3,-2 5,3 2,0 1,-1 0,-4 2,-2 4,0 1,1 0,5 2,0 2,-2 2,1 3,0 0,-1 2,-2 2,0 2,-2 0,-3-4,-1-2,-2 6,-3 3,-4 3,0 3,2-2,2-2,0 0,2 2,-1 2,1 4,-2 2,-2 4,-1 3,-3 0,-3 7,-5 3,0 2,2 1,0 0,-58Z" fill="#19d5cd" stroke="#19d5cd" fill-rule="evenodd"/><path d="M113,115l0,3 3,0 0,-3ZM140,113h1v1h-1ZM183,107l0,2 1,0 0,-2ZM182,105h1v1h-1ZM101,98l0,1 1,0 0,-1ZM81,98l-1,1 0,2 1,1 1,4 2,1 1,-1 0,-5-2,-3ZM217,97l4,0 1,-2-3,0-2,1ZM202,94l-2,1 1,2 1,-1ZM255,91l1,1 2,0-1,-1ZM236,90l2,-2 2,2-1,1-2,0ZM320,84l-2,-1-2,3 2,0ZM294,76l0,4 3,0 0,-3-1,-1ZM81,72l-2,0 0,3 1,1 2,-2ZM72,69h1v1h-1ZM326,66l-1,1 1,0ZM63,65h1v1h-1ZM50,51l0,3 3,0 1,-1 0,-1ZM14,0l2,0 1,1 1,4 3,3 2,4 0,3 2,2 3,0 1,2 3,1 2,2 2,4 0,3 1,1 3,0 4,2 2,0 1,-1 5,0 2,2 0,4 2,2 2,0 4,-3 2,0 1,1 0,1 4,4 1,3 5,4 0,4 4,0 2,2 2,4 0,2 4,8 0,6 5,0 2,2 2,4 0,4-1,2 5,4 1,2 0,3 4,1 1,1 0,2 1,1 2,0 2,2 1,3 4,1 2,3 0,4 2,2 2,0 2,-3-1,-1 5,-4 5,0 1,-1 3,0 1,-1 1,1 4,0 1,-1 0,-2 2,-2 4,0 2,2 2,0 3,-2 0,-3 2,-2 3,0 4,3 0,1-3,3 1,1 1,0 2,-2-1,-3 2,-2 9,0 1,1 5,0 2,-1 3,-3 1,-3 3,-2 6,0 2,-2 1,0 1,1 0,2 0,-4-2,-2 2,-2 1,0 1,1 0,2 2,0 1,-1-1,-2 3,-3 4,1 2,4 1,0 4,-5 2,0 5,5 6,0 2,2 0,2-2,2 0,1 1,1 1,-1 2,2 1,0 3,4 0,2-2,1-1,2 1,2 1,0 1,-1 0,-4 5,-4 0,-2 1,-1 0,-1-2,0-4,-4 0,-1 2,-2 4,0 3,2 2,0 3,-3 6,-1 1,-1 1,0 1,2 1,0 3,-3 4,4 3,0 0,-5 1,-1 4,-1 1,-1 2,0 2,2 1,0 1,-2 0,-3 2,-2 2,0 2,-2 3,0 4,-4 2,-1 2,1 5,0 2,2 1,-1 2,0 2,-2 2,0 2,-3 0,-2 4,-2 2,-2 3,-1 2,2 2,0 0,-57-311,0-1,1-2,-1Z" fill="#46f884" stroke="#46f884" fill-rule="evenodd"/><path d="M114,116l0,1 1,0ZM240,103h1v1h-1ZM83,100l-1,4 2,1 0,-3ZM242,91l-3,2 2,4 2,1 2,-2 0,-3-1,0ZM318,84h1v1h-1ZM295,77l0,2 1,1 1,-2ZM18,2l1,1 0,2 2,2 3,6 0,2 1,1 3,0 2,3 4,2 3,8 2,0 1,1 4,0 1,1 2,-1 2,1 4,0 2,2 0,4 1,1 2,0 4,-3 2,0 2,2 0,1 3,3 1,4 3,1 2,2 0,2 2,2 2,0 2,2 3,6 0,3 2,2 0,2 2,2 0,5 3,0 3,2 3,6 0,3-1,1 4,3 2,5 5,3 0,3 1,1 3,0 2,4 4,0 2,3 0,6 1,1 3,0 0,-3-1,-1 2,-2 2,-1 4,0 3,-2 9,0 4,-5 5,-1 2,2 0,1 2,0 1,-1 0,-3 4,-3 2,0 2,2 3,0 1,-1 2,0 1,1 3,0 1,-1 2,1 7,0 0,-1 2,-2 1,0 2,-4 4,-1 1,-1 2,0 6,-7 3,0 2,-2 1,0 1,-2 1,1 3,-1 2,2 0,3 2,0 0,-1 3,-3 2,0 5,5 5,0 1,1 2,-1 2,2 4,0 3,-2 4,1 1,1 3,0 3,-3 2,0 4,-2 2,0 1,2 1,0 0,-2 1,-1 3,0 3,4 2,0 0,-2-1,-1 1,-2 4,-1 3,-2 3,0 1,1 1,-1 0,-3 1,-1 4,-1 1,-2 4,0 4,-4 2,-1 1,1 8,-1 2,2 2,-2 3,0 1,-1 0,-2 3,-3 3,-1 1,-2 4,0 2,2 1,0 0,-57-310,0-2,2Z" fill="#a4fc3c" stroke="#a4fc3c" fill-rule="evenodd"/><path d="M244,94l-2,0 0,3 2,-1ZM296,78h1v1h-1ZM20,3l0,2 2,2 0,2 2,3 1,4 4,0 1,2 5,4 2,4 0,2 1,1 3,0 1,1 3,-1 1,1 8,1 2,2-1,2 1,2 3,0 0,-1 3,-2 4,2 0,1 4,4 1,4 1,0 9,8 3,6 0,3 3,3 2,4 0,4 2,0 3,2 3,6 1,5 2,2 3,6 3,1 2,2 1,2-1,1 3,-1 4,5 2,0 3,3 1,3-2,3 2,2 1,0 1,-2-2,-2 1,-2 4,-2 4,0 3,-2 9,0 0,-2 2,-2 4,-1 1,-1 4,0 1,1 0,2 0,-2-1,-1 7,-4 1,0 2,2 4,0 2,-1 1,1 9,0 1,1 2,0 1,-1 0,-2 2,-2 2,0 5,-4 3,0 2,-1 1,-3 3,-3 6,-3 2,-3 4,0 3,2 0,3 1,0 0,-1 2,-2 2,0 2,1 4,4 9,0 3,2 1,-1 7,0 1,1 4,0 4,-2 2,-2 3,0 1,-1 6,-1 1,-1 2,4 2,1-1,-2 3,-4 2,0 4,-2 4,1 1,-4 1,-1 3,0 3,-3 3,0 5,-4 6,0 1,-1 3,0 1,-1 2,1 3,0 5,-6 2,0 3,-3 2,0 4,2 0,-56-310,0 0,1-2,2Z" fill="#e1dd37" stroke="#e1dd37" fill-rule="evenodd"/><path d="M120,112l0,2 2,0 0,-2ZM243,95h1v1h-1ZM23,5l1,-1 1,1-1,1ZM21,4l2,3 0,3 2,3 0,2 4,0 1,2 2,2 1,0 1,2 2,1 0,2 2,2 0,2 2,0 1,1 3,0 2,-1 3,2 8,1 1,2-2,2 0,1 2,0 2,-2 4,0 6,6 1,4 11,9 0,2 2,2 0,2 1,1 0,3 1,0 2,2 2,4 0,3 1,0 4,4 7,15 9,8 1,0 3,4 4,1 3,3 1,-1 8,0 2,-2 8,0 2,-4 2,0 4,-2 3,0 2,-2 4,0 1,-1 3,0 2,2 2,0 2,-2 4,2 2,-1 5,0 2,1-1,-2 1,-2 2,0 2,-2 1,1 6,-4 4,0 1,-1 0,-3 2,-2 3,-1 1,-2 3,-1 2,-3 4,0 1,1 7,1 6,3 2,0 1,-1 3,1 1,-1 2,2 4,2 2,0 1,1 3,-1 1,1 5,1 7,-4 2,0 1,-2 2,1 1,-2 1,1 4,-1 2,2 1,0 3,-4 2,-1 3,0 1,-2 2,2 2,0 0,-3 2,-2 3,0 3,-3 3,0 4,-3 4,0 1,-1 3,0 4,-2 1,1 4,0 9,-8 4,0 1,1 2,0 0,-55-309,0Z" fill="#fea431" stroke="#fea431" fill-rule="evenodd"/><path d="M121,113h1v1h-1ZM24,0l0,3 2,1 0,2-2,2 0,3 2,4 2,-1 0,-2 1,-1 2,3 0,3 5,5 1,3 2,2 2,1 4,0 1,-1 2,2 6,1 1,1 2,0 3,2 4,1 8,8 0,1 3,3 0,1 3,1 3,3 4,8 0,3 2,1 4,9 4,4 1,3 2,2 5,10 8,7 1,0 3,4 4,1 1,1 4,0 1,1 6,0 2,-2 2,0 1,-1 1,1 3,0 2,-4 3,0 4,-2 3,0 1,-1 2,0 4,-2 2,0 3,2 2,0 2,-2 1,0 2,2 4,-2 4,1 1,-2 4,-3 1,1 2,0 3,-3 2,0 1,-1 1,1 2,-1 0,-3 1,-2 4,-2 3,-3 2,0 0,-1 2,-2 2,0 1,1 5,0 3,2 3,0 1,1 3,0 1,-1 1,1 3,0 1,1 5,1 2,2 2,0 1,1 10,1 4,-2 2,-2 2,0 4,-2 3,0 2,-1 2,2 1,0 4,-4 4,-2 4,1 0,-2 2,-2 4,0 0,-1 2,-2 2,-1 3,0 1,-2 2,0 1,-1 2,1 1,-1 3,0 4,-3 1,1 5,0 3,-4 4,-1 0,-1 2,-2 2,0 1,1 4,1 0,-55Z" fill="#f05b12" stroke="#f05b12" fill-rule="evenodd"/><path d="M314,59l1,-1 1,1-1,1ZM316,58l1,-1 1,1-1,1ZM24,0l0,1 3,2 0,4-2,1 0,3 1,2 1,0 0,-1 2,-1 3,4 0,2 3,3 1,3 3,2 0,1 2,1 5,0 6,3 2,0 1,1 2,0 3,2 4,1 11,11 0,1 2,1 4,4 8,17 6,8 1,3 2,2 4,7 14,14 3,0 1,1 7,0 1,1 4,-2 7,-1 3,-3 4,0 2,-2 10,-1 1,-1 3,0 2,2 1,0 2,-2 4,-1 1,-1 1,1 6,1 0,-2 4,-3 1,1 3,0 0,-2 1,-1 3,0 1,-1 1,1 2,0 1,-1 0,-3-1,-1 3,-2 2,0 3,-4 2,0 4,-3 2,1 5,0 2,2 2,0 1,1 5,0 2,-1 1,1 8,2 3,2 5,1 3,2 4,0 2,-2 2,0 1,-2 3,0 1,-1 6,-1 1,-1 4,1 2,-3 8,-4 1,1 1,-2 4,0 2,-1 2,-3 4,0 2,-2 2,0 4,-2 3,0 6,-3 2,1 4,-2 2,-2 2,0 2,-3 5,0 1,1 2,0 0,-54Z" fill="#c32503" stroke="#c32503" fill-rule="evenodd"/><path d="M25,0l0,1 2,0 1,1 0,5-2,2 0,1 2,0 2,2 0,1 2,2 1,3 2,2 2,4 27,10 17,17 8,17 6,8 1,3 2,2 4,7 14,14 14,0 1,-1 3,0 1,-1 2,0 4,-2 3,0 1,-1 2,0 1,-1 4,0 1,-1 5,0 1,-1 4,0 2,1 2,-2 4,0 1,-1 6,1 1,-1-1,-1 5,-3 2,2 1,0 0,-1-2,-1 1,-1 3,0 4,-3 2,2 1,0 0,-4 4,-3 1,0 4,-4 4,-2 2,0 1,1 6,0 4,2 7,0 1,1 8,2 3,2 2,0 1,1 2,0 4,2 1,-1 3,0 4,-3 3,0 4,-2 3,0 1,-1 4,1 2,-3 12,-6 3,0 5,-4 3,0 1,-1 2,0 4,-2 6,-1 15,-8 8,0 0,-53Z" fill="#7a0403" stroke="#7a0403" fill-rule="evenodd"/></g>
</g>
<use href="#lakes" fill="#c3e1eb" stroke="#4f6f7c" stroke-width="0.3"/>
<use href="#overlay"/>
<text x="146.6" y="78.9" font-size="6.3" font-weight="bold" text-anchor="middle" fill="#1b1b22"><tspan font-style="italic">V. hybrid</tspan></text>
<text x="146.6" y="86.5" font-size="6.3" font-weight="bold" text-anchor="middle" fill="#1b1b22">cultivars</text>
<rect x="0.25" y="0.25" width="166.5" height="92.5" fill="none" stroke="#8a8a8a" stroke-width="0.5"/>
</svg>
<text x="265.40" y="413.90" font-size="5.65" font-weight="bold" text-anchor="middle" fill="#111" >1980-1999</text>
<svg x="350.9" y="416.2" width="167.0" height="93.0" viewBox="0 0 167.0 93.0" overflow="hidden">
<use href="#base"/>
<g clip-path="url(#dataclip)">
<rect x="0" y="0" width="167.0" height="93.0" fill="#30123b"/>
<g transform="scale(0.5) translate(0.5,0.5)" stroke-width="0.8" stroke-linejoin="round"><path d="M184,112l-4,2 1,1 2,0 1,-1ZM118,100l1,0 2,2 0,2-1,1-1,0-3,-3ZM261,100l-1,3 2,3 2,0 0,-3-1,-2ZM145,96l2,0 2,2-2,4-2,0-1,-1 0,-4ZM270,96l0,3 1,0 0,-3ZM262,96l0,1 3,0-2,-2ZM172,94l1,-1 2,1-1,1ZM299,93l-1,-1-2,0-1,1-4,0 0,1 7,0ZM162,91l1,-1 1,1-1,1ZM312,88l-2,0-1,1 0,2 1,1 2,-2ZM170,86l3,3-2,4-1,0-3,-3 0,-2ZM235,87l2,-3 3,0 1,1 0,3-3,2-2,-1ZM244,83l1,-1 2,0 2,2 0,3-2,1-2,-2ZM212,82l3,3 0,2-2,3-3,0-1,-1 0,-5ZM92,83l2,-1 1,2-2,1ZM310,83l3,0-1,-1ZM293,82l-2,0 0,3 2,-1ZM229,79l1,-1 2,0 2,2 0,1-2,1-2,-1ZM332,78h1v1h-1ZM218,76l1,0 5,5 0,2-3,3-2,-1 0,-4-2,-2 0,-2ZM325,76h1v1h-1ZM63,75l1,1-2,2-1,0-1,-1 2,-2ZM81,72l3,0 4,5 1,3-2,2-1,0 0,4 2,0 4,2 1,2-2,2-5,0-3,-3 0,-1-5,-4 0,-3 3,-2 0,-2-1,-1 0,-3ZM82,62l1,2-6,4-1,9-2,2-4,0-2,1-3,-3 2,-2 2,0 1,-1 0,-6 2,-2 3,0ZM306,61l2,2 0,1-2,2-4,2 1,3-2,1-2,-2 1,-8 1,-1ZM57,42l1,-1 4,0 1,-1 2,0 1,1 0,6 2,0 1,-1 1,1 5,-1 2,2 0,3-1,1-8,0-1,1-2,0-5,-4 0,-2-2,-2ZM22,39l0,3 2,2 2,0 0,-2-2,-2 0,-1ZM46,30l2,-2 2,1 7,6 0,2-2,1-5,-4-2,0-2,-2ZM4,24l0,1 2,0 0,-1ZM10,18l0,1 1,0ZM0,4h1v1h-1ZM16,6l0,2 2,4 3,0 2,3-2,2-2,-2 0,-1-1,0-2,2 2,2 0,3-4,2 1,1 2,0 3,-4 0,-2 1,-1 4,4 3,-1 2,3-4,4-2,1 1,2 2,1 2,-3 3,-1 6,5-3,2 0,5 4,0 0,-2-2,-2 0,-2 1,-1 2,1 4,4 0,1 3,3 0,1 2,1 2,2 0,1 4,3 0,2-3,3-3,0-3,-4-2,0-1,1 0,2 1,0 5,4 1,2 0,3 1,1 5,0 1,-1 0,-4-1,-1 0,-2 2,-2 8,1 4,3 0,9-1,1-3,0-2,-2-4,0-2,2 0,2-2,2-3,0-2,2-1,3 1,0 3,3 0,1 2,1 2,2 0,1 3,2 4,-3 3,-1 2,2-3,4 0,1 3,1 2,-3 2,0 4,4 1,3-2,2-2,-1-2,1 1,4 4,2 4,-3 5,0 1,2-2,4-2,2 1,0 4,3 4,1 1,2 6,5 2,0 1,-1 4,-1 0,-2 2,-2 2,0 1,2 4,2 1,2 0,-3 2,-2 0,-3 2,-2 4,0 2,2 0,6 1,1 2,0 2,-3 0,-2 2,-2 5,0 1,-1 2,1 1,-1 7,0 4,-3 3,0 1,1 2,-1 3,0 1,-2-2,-3 2,-2 1,0 2,2 0,1 3,2 1,0 2,-2 5,0 6,-6 0,-2-4,-2-2,-2 0,-1 2,-2 2,1 5,6 0,3-1,1 1,4 2,0 3,-2 6,0 1,-1 0,-2-2,-2-2,0-1,-1 0,-4 2,-2 4,0 1,-1 4,1 2,2 0,2 2,3 0,2 2,1 4,0 0,-4 2,-3 2,2 0,3 2,0 0,-2-1,-1 1,-1 6,-1 3,3 0,1-2,2 0,3 2,0 2,-2-1,-1 3,-2 8,0 1,-3 4,-3 6,0 2,1 4,-3 2,0 6,-3 1,-1 0,-3 1,-1 2,0 2,2-1,6 5,6-1,2 1,1 2,0-1,-2 1,-3-2,-3 1,-4-2,-2 0,-2 2,-2 2,0 4,3 4,-4 0,-3 3,-4 1,0 3,3 0,5-1,1-2,0 1,1 6,-1-2,-1 3,-3 8,1 0,-4 3,-2 4,0 3,-2 2,0 2,2 0,-5 3,-2 2,0 3,5-1,1 2,3 2,0 0,-9-1,-1 1,-1 0,-61-311,0 1,1-1,4-1,1Z" fill="#4559cb" stroke="#4559cb" fill-rule="evenodd"/><path d="M108,101l2,2 0,2-2,2-2,0-2,-2 1,-2ZM189,99l3,0 1,-2-3,0ZM99,96l2,1 0,2-1,1-2,0-1,-1 0,-1ZM212,94h1v1h-1ZM69,88h1v1h-1ZM153,86l2,0 2,2-2,2-1,0 0,1 1,0 2,2 0,3-1,1-2,0-4,-4-1,-3ZM99,87l1,-1 1,1-1,1ZM274,84l0,1 1,0 0,-1ZM66,80l-1,-1-3,0-2,1-1,2 2,2 2,0 3,-3ZM217,75l3,0 6,6-1,3-3,3-2,0-2,-2 0,-3-3,-3ZM207,76l1,-1 2,1-1,1ZM78,76l0,1 2,1 0,-1ZM273,73l1,-1 1,1-1,1ZM59,68l0,5 1,1 2,-1 2,0 1,1 4,-1 0,-5-2,0-4,-2-2,0ZM332,64l-1,1 0,4 2,2 0,-7ZM68,53l1,2 4,-1 0,-1ZM56,53l-2,0 0,1-2,2-1,0 0,5 1,1 3,0 1,-1 0,-3-1,-1ZM19,9l1,2 2,0 2,3 0,2 1,1-2,2 1,1 2,-2 2,0 2,2 0,5 4,4 1,-1 7,0 1,1-1,2-3,0 3,3 1,0 2,2 0,1 10,9 2,5 2,0 0,-4-4,-4-1,-4-1,0-4,-4-3,-1-2,-3 3,-3 2,0 4,3 2,0 2,2 1,4 2,3 4,-2 3,3 1,4 2,0 1,1 4,-1 2,2 1,2 0,3-2,2 0,3-2,2-3,0-1,4 1,2 4,0 6,-4 2,0 2,2 0,2-2,2-3,0-2,2 0,3 2,-1 4,0 3,3 0,1 3,4 0,3-2,1-1,2 2,0 0,-2 3,-3 3,0 1,1 0,9-3,4-6,-1-2,-1-3,-3 0,-1-5,-4 0,-2-2,-2-4,0-1,1 0,2 2,2 5,2 2,3 1,4-1,2-2,1 0,2 3,0 1,-1 7,0 1,1 0,2-2,3 0,3 3,2 3,0 2,1 2,2 1,0 1,2 3,1 2,-3 3,0 4,-2 2,2 0,1 3,2 1,-2-1,-5 2,-2-3,-3 0,-2 2,-2 2,0 3,3 0,4 1,1 2,0 3,3 0,2-1,1 1,2 2,0 1,-1 0,-3-2,-2 0,-2 1,-1 3,2 7,0 4,-2 0,-1-2,0-1,-1 0,-2 2,-2 0,-4 1,-1 4,0 2,2 1,2 0,2-2,2 1,2 2,-2 3,0 1,1 5,0-2,-4 1,-2-1,-1 0,-3 1,-1-1,-4 2,-2 4,1 3,-3 3,0 2,1 2,2-1,3 4,2-2,4-4,0-5,-5-1,0 0,4 4,5 2,-1 2,1 4,0 4,-6-5,-4 0,-3 2,-2 3,1 4,4 1,0 3,3 1,0 2,-2 0,-2 3,-3 3,0 2,-2 2,0 2,2 2,0 1,-3 2,-2 4,0 2,3 0,2 2,2 4,2 1,-1 3,0 2,-2 3,0 1,1-2,1 0,2 1,1 4,1 1,1 3,0 2,-1 1,-3 2,-2 0,-2-1,0 0,1-2,2-2,0-1,1-4,-1-1,-2 2,-3-4,-2-3,0-2,-2 1,-2 3,-2 3,0 1,1 4,0 1,-1 2,0 2,3 3,0 3,3 2,4 6,0 0,-1 2,-2 2,0 1,1 4,-1 1,-2 0,-3 1,-1 3,0 2,2 4,-1 1,-3 2,-2 1,1 0,3 5,0 1,-1 0,-2 3,-6 2,0 4,4 0,2 1,1 2,-1 0,-3-2,-3 0,-2 1,-1 0,-3 2,-2 2,0 1,-1 5,0 1,1 1,-2 2,0 1,1 0,1-9,8 0,4 2,1 2,-4 7,-3 2,-2 0,-2 2,-3 2,-1 3,0 1,1 7,0 1,-1 0,-1-2,1-1,-1 0,-2 2,-2 1,0 0,-54-310,0 1,1-1,5Z" fill="#3e9bfe" stroke="#3e9bfe" fill-rule="evenodd"/><path d="M129,112h1v1h-1ZM114,111l1,2 1,-1ZM110,98l1,1 0,7-3,2-2,0-3,-3 0,-1 5,-5ZM178,98l-2,0-1,2 2,0ZM151,97l2,4 2,1 3,0 0,-3-1,-1-4,1ZM100,95l2,2 0,2-2,2 1,2 0,3-2,2-1,0-2,-2 1,-2-1,-6 3,-3ZM236,93l4,0 0,-1-3,0ZM79,88l0,2 2,4-1,1 0,2 8,0 2,-2-2,-2-3,0-4,-5ZM226,86l-2,0-4,2 2,2 1,0 3,-2ZM216,82l1,4 0,-3ZM71,82l1,2 4,1 0,-2-2,-2-2,0ZM64,80l-2,0-1,1 0,2 2,0 1,-1ZM205,77l1,-1 0,-2 1,-1 2,0 4,5-1,1-4,0ZM60,68l0,3 1,1 7,0 0,-3-4,-2-3,0ZM333,65l-1,1 1,4ZM315,63l-2,0-3,3-1,0-1,2 2,0 3,-3 1,0ZM52,58l0,3 2,0 1,-1 0,-2ZM56,46l1,3 1,0 0,-2ZM51,40h1v1h-1ZM46,36l1,1 0,-1ZM24,0l1,1 0,2-2,4 0,3 3,4 0,1 4,4 1,2 0,5 3,2 3,-2 5,0 3,2 1,-1 3,0 4,3 2,-1 3,2 1,6 2,0 0,-4 2,-1 2,3 0,2 3,3 0,2 4,3 1,-1 2,0 3,3 1,5-2,2 0,3-3,3-3,0 0,3 2,2 1,0 7,-5 3,0 2,3 0,4-1,1-4,0-1,1 4,1 4,4 1,3 2,2 2,0 1,-1 3,3 0,4 2,0 1,-1 2,1 0,4-2,2-4,1 0,1-3,3 0,2-4,4-1,2 0,2 2,2 5,0 4,3 9,0 2,-2 4,-1 1,-1-1,-5 3,-4 2,0 3,2 1,2 0,4 2,1 2,0 2,-2 2,0 2,2 5,0 1,-1 0,-3 3,-3 0,-4-1,-2 1,-1 2,1 4,0 1,-1-1,-3 4,-4 2,-1 4,2 2,0 1,-1 4,0 3,-3 2,0 5,3 3,0 1,-1 3,0 0,-2 1,-1 2,0 2,2 0,2-1,1-2,0 5,5 2,0 3,-5 4,-1 3,-3 2,0 2,2 1,0 0,-2-2,-2 0,-1 2,-1 2,3 1,-1 2,0 1,-2 2,-1 0,-3 1,-1 5,0 4,4 3,0 3,-2 3,0 1,1 7,-1 1,1 4,1 4,4 1,4 4,0 1,-1-1,-2 0,-2 1,-1 3,0 1,2 3,2 3,-2 0,-3 4,-3 4,3 1,0 1,-1 0,-2-4,0-1,-1 2,-4 4,1 1,1 3,0 1,-1 1,1-1,4 1,1 2,0 3,-6 0,-2-2,-2 1,-2 2,-1 2,1 2,2 0,1 3,1 1,-7 3,-3 7,-1 4,-3 2,0 2,4 3,0 3,-3 3,0 2,-2 2,0 2,-2 3,0 0,-53Z" fill="#19d5cd" stroke="#19d5cd" fill-rule="evenodd"/><path d="M101,109l7,1 0,-1-4,0-1,-1ZM95,101l-1,-1-2,2-1,0-2,2 0,2 2,1 3,0ZM80,90l1,4 2,3 2,0 3,-2-4,-2-2,-2 0,-1ZM223,88h1v1h-1ZM253,84h1v1h-1ZM194,79l1,1 0,3-2,2-1,-1 0,-3ZM285,75h1v1h-1ZM90,73l-1,1 1,1 0,2 1,1 2,0-1,-4ZM61,68l0,2 1,1 3,0 1,-1-2,-2ZM333,66h1v1h-1ZM53,59h1v1h-1ZM24,5l0,4 3,4 2,5 2,2 1,2 0,4 1,1 4,-2 4,0 1,1 3,0 1,1 4,0 2,2 3,-1 5,3 3,0 2,2 0,2 3,4 1,3 2,1 4,0 3,3 1,4 1,1 0,2-2,2 0,3-2,2-3,0-1,1 0,2 1,1 2,0 2,-3 3,-1 2,-2 2,0 2,3 0,3 1,1 0,5 3,0 1,-1 2,1 2,3 0,3 3,4 0,2-1,1 1,1 3,-1 2,2 0,5-2,2-4,1-2,2 0,2 3,-3 2,0 5,3-4,4 1,1 1,0 3,-4 5,-1 1,1 0,3 1,2 1,-3 3,-3 1,0 1,1 2,0 2,2 0,3 2,3 4,-2 4,2 3,0 2,-4 3,-3 0,-2-2,-2 0,-2 1,-1 4,0 1,1 2,0 1,-4 5,-4 8,1 5,-3 8,0 1,1 4,0 2,-3 6,0 2,3-1,1 0,3 1,2 2,0 0,-2 2,-2 4,0 3,-3 1,-4 4,-3 0,-2 2,-2 2,0 1,1 2,0 1,-1 2,0 1,1 4,0 4,4 3,0 4,-2 2,0 1,1 7,-1 1,1 4,0 2,2 2,0 4,2 2,-1 3,0 3,3 2,0 1,-1 0,-2 3,-3 1,0 2,-4 2,-1 4,0 1,1 6,-1 0,-3 3,-3 2,-1 3,0 2,2 1,0 1,-1 0,-3 1,-1 4,-1 1,-1 2,0 2,-2 3,-1 4,-3 2,0 1,1 0,4 2,0 3,-3 2,1 2,-1 4,-4 3,0 1,1 0,-52-308,0 0,4Z" fill="#46f884" stroke="#46f884" fill-rule="evenodd"/><path d="M103,101h1v1h-1ZM83,94l0,2 2,0 1,-1ZM198,80l-1,0-1,4 2,0 1,-2ZM91,75l0,2 1,-1ZM62,69h1v1h-1ZM75,61l-1,0-1,2 2,0ZM25,4l0,5 8,13-1,3 1,1 1,0 2,-2 2,1 6,0 1,1 4,0 3,2 2,-1 1,1 2,0 1,1 2,0 4,2 5,9 2,2 4,0 3,3 3,6 0,2-1,1 0,4 3,-2 2,1 1,4 1,1 1,6 3,0 4,3 0,2 4,7 0,3 2,-1 3,3 0,5-3,3 0,1 1,1 2,0 4,2 1,-2 2,-2 1,0 6,4 3,0 4,4-1,1 0,2 1,1 1,0 2,-2 2,0 4,3 2,-3-2,-4 1,-1 1,0 1,2 3,-1 0,-1-1,0-2,-2 0,-2 3,-3 4,0 2,1 1,-1 0,-2 4,-4 4,0 1,-1 1,1 4,0 2,-2 2,0 1,-1 13,0 2,-2 7,0 2,1 1,-2 4,-3 2,0 1,1 5,0 1,-1 0,-3 2,-2 6,0 1,-1 2,0 2,2 5,1 3,3 2,0 4,-2 4,0 1,1 4,-1 4,2 2,0 1,-1 2,2 4,1 1,1 2,-1 3,0 3,3 2,0 0,-4 4,-2 1,-2 4,-3 5,0 1,1 2,-2 2,0 0,-2 4,-3 8,-2 5,-3 3,0 4,-4 6,-3 2,0 1,-1 2,3 7,0 3,-4 4,0 1,1 0,-51-307,0 0,3Z" fill="#a4fc3c" stroke="#a4fc3c" fill-rule="evenodd"/><path d="M82,55l-1,0 0,1ZM25,6l1,4 2,2 2,5 5,6-1,1 2,-1 1,1 11,1 3,2 2,0 1,-1 6,3 2,0 4,4 1,3 3,2 1,3 4,1 4,4 1,3 7,10 0,5 1,2 6,3 6,12 1,0 3,3 1,2 0,3 1,1 0,1-2,2 2,2 2,0 0,-2 1,-1 5,1 2,2 4,2 6,1 4,4 0,1 1,0 2,2 1,0-1,-6 3,-3 1,-4 2,-2 2,0 1,-1 4,1 0,-2 1,-1 6,-3 3,0 1,-1 1,1 2,0 1,-1 2,0 4,-2 2,1 2,0 1,-1 6,0 3,-2 9,0 1,-2 1,0 4,-3 7,1 0,-3 6,-3 5,0 5,3 3,0 1,1 1,0 0,-1 2,-2 4,3 5,0 1,1 2,0 1,-1 4,2 4,0 1,1 2,0 3,2 5,-1 4,3 1,0 1,-1-1,-1 0,-3 1,-1 3,0 6,-4 6,0 5,-5 4,-2 8,-2 3,-2 2,0 2,-1 4,-4 6,-3 2,0 1,-1 2,2 0,1 6,0 0,-2 1,-1 2,0 1,-1 4,0 1,1 0,-50-307,0 0,5Z" fill="#e1dd37" stroke="#e1dd37" fill-rule="evenodd"/><path d="M26,5l0,3 5,10 1,0 1,2 1,0 3,3 3,0 1,1 5,0 4,2 4,0 1,1 2,0 3,2 4,1 3,3 0,2 2,2 1,0 1,2 2,2 1,0 7,7 1,3 5,7 1,6 4,2 0,1 4,5 3,6 6,6 0,3 1,2 3,2 4,1 2,2 4,2 4,0 1,1 4,1 1,2 4,4-1,-2 0,-3 3,-4 0,-2 3,-3 1,0 4,-5 4,1 1,-1 2,0 1,-1 4,0 4,-2 5,0 1,-1 7,0 1,-1 6,0 3,-2 2,1 2,-1 3,0 2,-2 3,-1 3,-3 4,1 0,-3 2,-2 1,1 4,0 2,-2 1,1 3,0 4,3 4,0 2,-2 3,0 1,1 2,0 2,2 9,1 3,2 3,0 1,-1 1,2 2,0 1,1 10,0 0,-2 2,-2 5,-1 3,-2 7,-1 4,-4 6,-3 5,-1 3,-2 5,-1 4,-4 6,-3 5,-1 2,2 4,0 0,-2 1,-1 4,0 1,-1 4,1 0,-49-306,0 0,4Z" fill="#fea431" stroke="#fea431" fill-rule="evenodd"/><path d="M27,0l0,9 2,4 2,2 0,2 1,0 7,6 4,0 1,1 2,-1 3,2 2,0 1,1 2,0 1,1 2,0 3,2 4,1 4,4 0,1 2,1 2,2 0,1 9,9 1,3 4,5 2,4 0,2 3,2 1,3 4,5 3,6 7,7 0,2 3,3 2,0 5,4 6,1 3,2 3,0 2,2 1,0 1,-3 2,-1 0,-2 7,-7 1,-2 10,0 1,-1 2,0 4,-2 6,0 1,-1 4,1 3,-2 1,1 1,-1 4,0 1,-1 8,0 3,-3 3,-1 3,-3 3,0 0,-1 2,-2 5,0 2,-2 4,2 3,0 4,3 1,0 2,-3 4,0 1,1 2,0 2,2 2,0 1,1 5,0 5,3 3,-1 6,3 1,-1 6,0 0,-2 5,-3 2,1 6,-3 3,0 2,-1 4,-4 6,-3 9,-2 4,-2 4,-4 6,-3 5,-1 1,1 3,0 1,1 2,-3 9,0 0,-48Z" fill="#f05b12" stroke="#f05b12" fill-rule="evenodd"/><path d="M28,0l0,9 3,6 3,3 4,2 1,2 4,0 1,1 5,1 3,2 2,0 1,1 2,0 3,2 4,1 17,18 1,3 4,5 1,3 4,5 1,3 4,5 1,3 2,2 0,1 8,8 0,1 2,1 4,4 2,0 5,3 2,-1 2,2 6,0 2,-2 1,0 1,-1 0,-2 2,-1 6,-7 12,0 2,-2 2,0 1,-1 5,0 1,-1 1,1 4,0 2,-2 1,1 3,0 4,-2 9,0 3,-3 1,0 3,-4 4,0 0,-1 4,-3 2,1 3,-2 4,2 4,-1 3,4 1,0 0,-1 2,-2 5,0 4,3 4,1 1,1 3,-1 4,3 4,0 4,2 6,0 2,-1 1,-2 2,0 6,-3 3,0 3,-2 3,0 3,-3 10,-5 2,0 3,-2 3,0 4,-2 1,-2 8,-4 6,-1 1,-1 4,1 4,-2 5,0 1,1 0,-48Z" fill="#c32503" stroke="#c32503" fill-rule="evenodd"/><path d="M28,0l0,9 2,2 2,4 1,0 4,5 27,10 17,18 1,3 4,5 1,3 4,5 1,3 4,5 3,6 14,14 6,1 1,1 3,0 2,2 2,-1 2,1 13,-13 3,0 1,-1 5,0 1,-1 6,0 1,-1 5,0 1,-1 4,1 3,-2 6,0 1,-1 9,0 6,-6 1,0 2,-2 3,0 0,-2 1,-1 6,-1 1,-1 3,0 1,-1 1,0 2,2 3,0 1,1 6,0 1,1 5,1 1,2 2,0 1,1 5,0 1,1 2,0 1,2 1,-1 1,1 8,2 1,-1 3,0 3,-2 2,0 3,-2 8,-2 38,-19 6,-1 1,-1 3,0 1,-1 10,0 0,-47Z" fill="#7a0403" stroke="#7a0403" fill-rule="evenodd"/></g>
</g>
<use href="#lakes" fill="#c3e1eb" stroke="#4f6f7c" stroke-width="0.3"/>
<use href="#overlay"/>
<text x="146.6" y="78.9" font-size="6.3" font-weight="bold" text-anchor="middle" fill="#1b1b22"><tspan font-style="italic">V. hybrid</tspan></text>
<text x="146.6" y="86.5" font-size="6.3" font-weight="bold" text-anchor="middle" fill="#1b1b22">cultivars</text>
<rect x="0.25" y="0.25" width="166.5" height="92.5" fill="none" stroke="#8a8a8a" stroke-width="0.5"/>
</svg>
<text x="434.40" y="413.90" font-size="5.65" font-weight="bold" text-anchor="middle" fill="#111" >2000-2024</text>
<svg x="12.9" y="541.1" width="167.0" height="93.0" viewBox="0 0 167.0 93.0" overflow="hidden">
<use href="#base"/>
<g clip-path="url(#dataclip)">
</g>
<use href="#lakes" fill="#c3e1eb" stroke="#4f6f7c" stroke-width="0.3"/>
<use href="#overlay"/>
<text x="145.6" y="85.9" font-size="6.3" font-weight="bold" text-anchor="middle" fill="#1b1b22">All cultivars</text>
<rect x="0.25" y="0.25" width="166.5" height="92.5" fill="none" stroke="#8a8a8a" stroke-width="0.5"/>
</svg>
<text x="96.40" y="538.80" font-size="5.65" font-weight="bold" text-anchor="middle" fill="#111" >1960-1979</text>
<svg x="181.9" y="541.1" width="167.0" height="93.0" viewBox="0 0 167.0 93.0" overflow="hidden">
<use href="#base"/>
<g clip-path="url(#dataclip)">
<g transform="scale(0.5) translate(0.5,0.5)" stroke-width="0.8" stroke-linejoin="round"><path d="M123,152l0,1 2,1 0,-2ZM96,125l4,-3 3,0 1,1 5,-1 1,1 0,2-2,2-2,-1-2,1-6,0ZM154,121l-1,1-2,0-1,1 1,2-2,2-2,0-1,1 1,4 3,1 2,-2 3,-6 0,-3ZM120,120l2,-1 2,2-2,2-2,-2ZM119,110l2,2-2,2-1,0-1,-2ZM129,97l1,1 0,5-3,3-1,3-2,1-5,-5 3,-4 4,-1 1,-2ZM121,94l1,1-2,4-2,2-2,0-2,-2 0,-2 3,-3ZM222,93l-1,1 2,1ZM254,92l-1,2 1,1 2,0 1,-2ZM245,93l-2,-1-3,3 0,1 3,-1ZM197,92l1,1 0,-1ZM155,91l2,2 0,5 2,4-3,3-4,1-2,-3 1,-2-3,-2 2,-2 0,-2ZM189,89l-2,1 1,2 2,-1ZM70,92l3,0 2,-2-1,-1-3,0 0,2ZM264,86l-4,3 0,2-1,1 1,1 2,-1 3,0 3,5 1,-1 0,-3-2,-2 0,-4-2,0ZM237,85l1,2 5,0 5,5 1,0 3,-3-1,-1 0,-2-3,0-1,-1-3,0-2,1-2,-2-2,0ZM230,83l1,2-2,1-1,-1ZM96,84l1,-1 1,1-1,1ZM140,86l4,-4 2,0 4,5-1,1-6,1ZM224,80l1,-1 2,0 1,1 0,2-2,1-2,-2ZM177,80l0,2 3,0-1,-2ZM247,79l1,1 0,-1ZM158,75l1,1 0,2-3,3-1,0-1,-1 0,-2 3,-3ZM99,74l1,0 2,2 0,2-1,1-2,0-2,-2 0,-1ZM252,75l1,6-2,2 0,1 6,0 2,-2 0,-2 1,-1 1,0 2,2 0,2 1,1 7,0 1,-6-2,-2-7,0-2,-2-2,0-3,4-2,0-2,-2 0,-1 2,-2 0,-1ZM93,69l1,-1 1,1-1,1ZM156,68l0,2 2,0 1,-1 0,-1ZM239,66l0,2 1,1 7,0 0,-3-3,-3-3,0ZM110,60l7,0 2,2 0,3-3,4 0,3 2,4 1,0 4,5 0,1-2,2-2,-1-3,-6-5,-1-4,-3-2,0-1,-1 0,-3 1,-1 8,-3 0,-1-2,0-1,1-2,-2ZM88,61l1,-1 2,0 3,3-2,2-3,0-1,-1ZM177,60l0,3 1,-1ZM276,62l-3,-3-1,0-1,1-4,0-5,4-2,0-3,-2-2,1-4,0 0,1 1,1 1,-1 4,2 5,0 1,-1 5,-1 1,1 0,4-1,1 0,2 2,0 1,-2 3,-3 1,0 0,-3ZM237,53l0,1 2,2 0,2-2,3 6,-1 0,-2-2,0-2,-2 0,-2ZM184,53l-2,4 0,2 3,3 0,4 1,1 2,-1 3,1 1,1 0,3-4,4-1,-1-5,-1-2,-2-2,0 0,1 2,1 4,4 3,0 2,-2 5,0 1,-1 2,1-7,8-2,0-1,-1-1,1 1,2 3,0 2,-2 2,0 1,-1 5,0 3,2-2,4 1,2 3,1 2,2 6,0 2,-3 2,0 1,-1 1,-3 2,-2 2,0 2,2 4,2 3,6 0,3 2,1 4,-1-3,-3 0,-4-1,-1 0,-3 1,-1-3,-3 2,-2 5,0 1,-1 0,-3 1,-1-1,-2-3,0-2,-2 0,-3-2,-1-1,1 0,2 2,3 0,2-2,2-2,0-4,-4 0,-3 2,-1 0,-4-1,-1-3,2-4,0-1,-1 0,-3-1,-2-1,2-2,1-2,-1-4,-4 0,-2 1,-1 3,1 2,2 3,0 3,-2 1,1 2,0 2,2 1,3 1,0 3,-3 1,0 0,-2-1,-1-4,2-3,-3-3,0-2,-2-2,0-1,1-6,0-5,4-2,-4-2,1 0,3-1,1 0,2 1,1 4,-2 6,7 2,1 6,-3 3,4 0,8 1,2-2,2-5,0-1,1 0,3-2,2-1,0-1,-1-4,0-2,-2 0,-1 2,-2 3,0 1,-1 0,-2-3,0-3,-2-1,-3-2,-2 0,-4-1,-1-7,1-2,-4-3,0-2,-2 0,-3 1,-2-2,-3ZM193,52l-1,3 1,1 2,0 1,-1 0,-3ZM271,52l-2,-1-4,1 0,4 3,-3 2,0ZM286,47l0,1 3,0 0,-2-2,0ZM72,51l-3,4 0,5 3,0 2,-2 2,2 0,2 1,1 5,-1 3,3-1,2 0,3 1,1 0,3 1,1 0,3-1,1 3,2 0,3 1,1 4,1 3,2 1,2-1,6 4,3 4,0 4,-5 2,0 3,3 0,1-3,3-2,0 0,6 1,1 0,2 2,0 2,2-1,2-4,1-2,2-2,0-3,-2-2,2-4,0-1,1-2,0-4,-4-4,0-4,-5 0,-2-1,-1 0,-2 1,-1 1,0 3,4 8,4 3,0 1,1 3,0 1,1-1,-2 0,-5 1,-2-5,-4-4,0-1,-1 0,-2 2,-3 0,-3-1,0-3,-3 0,-1-4,-1-3,-3 0,-4-2,1-4,0-2,-2 0,-4-2,-2 2,-2 1,-4-2,-1-3,2 0,3 2,2-2,4 0,5 2,2 0,1 2,1 2,-1 4,0 1,1 0,2-1,1 0,6-1,2-3,3-4,0-1,1 0,6-1,1 3,0 2,2 1,10 4,0 5,5 2,0 6,-5 1,0 2,3 0,4-2,2-5,0-2,-1-4,2-3,-2 0,-2-2,-2-1,0 0,3-2,2 2,2 1,3 1,1 4,0 2,4 1,0 2,2 0,3 1,2 3,2 0,4-1,2 1,1 2,0 1,-1 0,-5-1,-1-1,-4-2,-2 0,-6 5,-3 4,0 1,2-2,1 0,1-2,2 0,2 2,2 1,0 0,-1 2,-1 2,2 0,1-2,2-1,8-3,3-3,1 0,1 3,2 4,-4 2,0 2,4 3,0 0,-1-1,0-3,-3 0,-1 2,-2 3,1 2,3 2,-1 1,1 3,0 2,-3 0,-3-1,-2-5,0-2,-4-2,0-2,-2 1,-2-2,-2 0,-1 2,-2 2,0 1,-1 0,-1-1,0-2,-2 0,-3 1,-1 5,0 1,-1 3,0 3,3 0,2 1,1-2,2-2,0-6,3 0,3 1,1 3,0 2,2 0,1 2,0 0,-1-2,-2 0,-2 2,-2 3,0 1,1 1,-4 2,-2 2,0 3,-2 6,6-3,2-5,1-1,2-2,1 0,1 1,0 3,3-1,4 1,0 3,3 0,2 5,0 2,-2-2,-2-4,0-1,-1 0,-5 5,-3 2,0 2,2 4,0 1,-1 0,-4-4,-1-4,-5 2,-4-2,-2-4,1-2,-1-2,-3 3,-3 1,0 2,2 0,1 2,0 3,-3 2,-1 3,0 0,-2 2,-2 4,1 1,1 1,-1 0,-2-1,0-2,-2-5,-1-1,1 0,2-2,2-3,1-4,4-1,0-1,-1 0,-2 1,-1 0,-4 1,-2-3,-2 3,-4 3,4 4,1 1,-2-2,-2 0,-3 2,-2 2,1 1,3 3,0 1,1 7,0 3,2 2,-1 0,-4-1,-1 1,-1 0,-3-2,-4 4,-3-1,-1-6,0-2,-2 0,-3 1,-2 2,-2 3,0 1,-1 0,-12-4,2-3,3-1,0-2,-2-5,0-3,-4 1,-2 3,0 2,-2 0,-1-3,-4 0,-2-2,-2-2,0-4,3-4,-1-1,-1 2,-3 0,-2-4,-1-4,-3 2,9 4,2 0,2-2,2 0,1 6,0 3,3-4,4-3,1 0,2 2,1 2,-1 3,0 1,2-2,2-4,1-3,4 0,1 3,1 1,2-2,2-3,1-2,4-3,0-2,-3 0,-2 1,-1 4,-1 1,-3-2,-2 0,-3-2,-2 2,-3 0,-2-2,-1 3,-3 0,-1-3,-4-3,0-2,-2-1,-2 1,-2 0,-3-2,-2 0,-2 1,-1-2,0-3,2-2,0-3,-3-8,0-1,-1-4,0 3,4 0,1-3,3 2,0 3,3 0,1-4,4-3,0-1,-1 0,-3 1,-1 0,-2-1,-1-1,0-2,-2-1,1-3,0-2,-2 0,-2 3,-2 0,-2-1,-1-5,0-1,1-3,0-2,1 0,1 2,1 4,0 2,2-2,3-4,0-2,2-4,-5ZM73,43l-1,1 0,3 2,-1ZM54,43l-1,1 2,1 1,-1ZM55,34l-1,1 1,0 2,2 0,2 1,0 1,-1-2,-4ZM281,32l-1,2 1,2 5,0 1,2-2,2-3,0-1,1 0,2-2,3 1,1 1,0 0,-2 5,-6 2,1 5,6 8,-2 1,-3-4,-2-2,-2 0,-1 3,-3 0,-1-1,0-3,3-1,0-4,-5-3,0-1,-1-2,0ZM76,24l1,0 2,2 0,1-2,2-1,0-2,-2 0,-1ZM83,16l-1,0 0,1-3,3-3,0-1,-1 0,-4-1,-1-1,1-3,0-1,1 1,2 0,3-1,1-4,0-2,2 1,2 2,0 2,2 1,2-1,1 0,3-1,1-3,-4-2,0-2,2 5,5 2,4 4,-2 1,1 1,-1 0,-4 3,-3 2,-1 5,0 0,-3 1,-1 0,-7-1,-1ZM76,11h1v1h-1ZM21,10l-1,1 0,4 1,2 4,4 0,1 4,0-1,-3-4,-2 0,-4-1,-1 0,-2ZM38,7l-4,1-2,2 1,4 1,1 5,0 1,-1-1,-1 0,-5ZM71,6l-1,-1-2,0 0,1-3,3-2,0-2,-2-4,0-3,2-4,-1-1,1 0,4 3,2 2,-1 0,-1 2,-2 4,1 1,-2 5,2 2,-2 0,-1 2,-2 1,0Z" fill="#d1e5f0" stroke="#d1e5f0" fill-rule="evenodd"/><path d="M101,152l0,2 2,0 2,-2 3,0 3,2 6,0 1,-1 0,-2-1,-1-5,0-1,-1 0,-2-3,-2-3,2 1,1 0,2-1,1-2,0-1,-1 0,-2 0,3ZM139,141l-1,-1-4,0-1,1-2,0-1,1 0,2 6,0 2,-1ZM141,137l0,3 2,3 2,0 0,-2-1,0ZM140,130l-3,0-2,1 0,1 1,1 2,0 2,-2ZM87,130l-1,-1-1,1-4,0-1,1 3,0 2,1ZM132,128h1v1h-1ZM94,130l4,0 2,1 2,2 0,5 6,-3-1,-2 0,-5-11,0ZM119,119l1,-1 4,0 1,1 0,3-3,3-1,0-2,-2ZM104,120l-2,-3-2,0-1,1-4,0 1,4 3,0 1,-1 3,0ZM137,103l-2,2-4,-2 0,1-3,2-2,4 0,2-1,1-4,0-2,2-6,-1-4,3 0,2 3,3-1,4 4,-1 1,1 5,0 1,1 0,5 1,2-2,2-6,1-2,2 1,2 2,0 4,-5 2,0 2,-3 2,0 3,-2-2,-4 1,-1 3,0 0,-2 2,-2 1,0 2,-3 0,-2-3,-4 0,-3 2,-2ZM158,94l0,3 2,3 0,3-3,3 1,1 4,0 1,-1-1,-2 0,-3 1,-2-1,-1-1,-4ZM127,91l-2,0-1,2 1,2-4,4-1,0 0,1-2,2-6,-1-2,2 0,5 5,4 4,-3 2,1 0,-1-4,-3 0,-2 4,-2 5,-4 0,-2 2,-2ZM262,89h1v1h-1ZM140,89l-1,1 0,6 4,6-2,3 0,3 2,1-1,-1 0,-2 5,-7 0,-3-3,-3 1,-2ZM81,87l1,8-2,2-1,0 0,1-2,2-4,1 0,1 2,2 0,9 3,3 2,0 1,-1 1,1 0,3 3,3 2,0 3,-2 0,-2-2,-3-5,0-1,1-1,-1 1,-2-4,-6 0,-4 2,-2 3,2 1,3 11,5 2,0 0,-4 1,-2-1,-1-1,1-2,0-1,-1 1,-2-4,0-1,-1 0,-5 1,-1 0,-3-3,-4-2,-1ZM218,83h1v1h-1ZM150,83l0,2 1,0 2,2 2,-1 0,-1-2,-2ZM255,80l-1,1 0,2 3,0 0,-2ZM266,79l0,2 2,0 0,-2ZM160,79l-1,2 1,1 2,0 1,-1 0,-2ZM113,78l0,5 4,0 0,-3-2,-2ZM97,95l1,2 3,0 2,1 2,-2-1,-5 1,-1 0,-3 2,-2 2,0 1,1 0,4-1,1 5,4 2,-1 3,-3 0,-1 5,-4 7,1 1,-1 0,-2-2,-2-5,4-2,-1-3,3-4,0-4,-3-3,0-1,-1-1,-5-1,-1-2,0-2,4 1,3-2,2-2,0-1,1 0,6ZM109,78l2,-1-2,0ZM224,75l0,1 2,0ZM203,75l-3,-1-4,4-1,0-2,4 7,-2 3,-3ZM155,75l-1,-1-7,1-1,3-2,2-4,0-1,1 0,2 1,1 2,-3 4,-1 2,-2 2,0 1,-1 1,1 2,-1ZM163,73l0,1 1,0 0,-1ZM101,73l2,1 1,2 1,0 0,-1ZM144,71h1v1h-1ZM122,70l2,-1 1,1 0,2-2,1-1,-1ZM98,69l-1,0-3,3-1,0 0,3-3,3 0,6 2,1 2,0-1,-1 0,-3 2,-1-1,-4 3,-3 0,-3ZM199,69l-1,-1-3,0-2,2-1,4 2,0 3,-2 2,0ZM242,66l0,1 1,0 0,-1ZM86,65l0,4 2,1 3,0 1,-1 0,-2 1,-1-4,0-1,-1ZM269,62h1v1h-1ZM210,62l3,3 0,1 2,0-1,-2-2,0ZM139,62h1v1h-1ZM106,62l-3,1-3,3 1,1 3,0 2,-1ZM146,60l0,2 3,3 2,0 0,-2-3,-3ZM77,59l0,2 2,1 1,-2-1,-1ZM186,57l-1,0 0,1ZM90,57l0,1 4,3 2,0 1,-1 0,-3-4,0-1,-1ZM83,56l0,5 2,2 1,0 1,-2-2,-2 0,-2ZM74,54h1v1h-1ZM105,54l0,1 3,3 4,0-2,-4-2,0-1,-1ZM112,51l0,1 2,0 2,2 0,1 2,1 1,3 2,2 0,3-4,5 0,3 3,4 3,0 4,-3 0,-2 1,-2 2,-1 0,-2-2,0-3,-3 0,-1-2,-1 0,-5-3,-3-4,0-2,-2ZM291,38l0,2 3,2 3,0 0,-1-3,-3 0,-1-2,0ZM288,33l2,1 0,-1ZM70,27l0,5 2,1 2,-2 0,-1-2,-3Z" fill="#92c5de" stroke="#92c5de" fill-rule="evenodd"/><path d="M114,151l1,2 2,-1 0,-1ZM107,147l0,4 1,1 2,0 1,-1-1,-4ZM133,142l1,1 2,0 1,-2-3,0ZM115,139h1v1h-1ZM103,130l0,2 2,1 0,-3ZM99,129h1v1h-1ZM128,121l-5,5 0,6 4,-1-1,-1 0,-4 2,-2 1,0 0,-2ZM97,119l0,1 5,0 0,-1ZM84,117l0,1 3,3 2,-1-1,-4-3,0ZM124,115l-1,-1-4,2-2,0-1,-1-4,0-2,3 1,2 2,1 4,0 3,-4 2,0ZM130,106l-2,2 0,4-1,1-1,5 1,1 3,0 2,2 2,0 1,-1 0,-2-4,-6 0,-2 2,-1 1,-2-1,-1ZM77,106l-1,1 0,6 1,1 2,0 1,-1 0,-2-3,-3ZM88,106l7,4 1,-1 0,-2-3,0-2,-2 0,-1-1,0ZM113,102l-2,3 0,2 4,4 2,-1 0,-2-1,-1 0,-4-1,-1ZM124,99h1v1h-1ZM145,98l-2,0 0,2 1,1 1,-1ZM160,97l0,1 1,0 0,-1ZM88,93l-1,0 0,4-4,3 1,2 2,0 2,-2-1,-2ZM141,92l0,2 1,1 1,-2ZM113,89l-1,1 2,2 0,-2ZM100,88l-1,1 0,7 4,0 0,-8ZM82,89l3,2 2,-1-2,-2-2,0ZM129,85l1,1 0,-1ZM115,80h1v1h-1ZM201,77l-1,-1-2,2-1,0-1,2 1,-1 2,0ZM153,75l-1,1 1,0ZM196,70l-2,0 0,2 1,0ZM119,70l-1,1 2,2 0,1 1,0-2,-2ZM88,66l-1,2 1,1 2,0 1,-2ZM123,65h1v1h-1ZM104,65h1v1h-1ZM121,58h1v1h-1Z" fill="#4393c3" stroke="#4393c3" fill-rule="evenodd"/><path d="M109,148l-1,1 0,2 1,0ZM124,129l0,2 1,0 0,-2ZM112,116l-1,2 2,2 3,0 2,-2 0,-1-3,-2ZM128,113l0,5 3,0 2,2 1,-2-2,-2-1,-3ZM77,111l1,2 1,-1ZM113,104l0,4 2,2 1,0-1,-5ZM100,90l0,2 2,1 0,-2Z" fill="#2166ac" stroke="#2166ac" fill-rule="evenodd"/><path d="M113,116l-1,2 1,1 2,0 1,-2-1,-1ZM129,114l-1,2 1,1 2,0 0,-2ZM115,108h1v1h-1Z" fill="#053061" stroke="#053061" fill-rule="evenodd"/><path d="M221,122l-2,-2-4,-1-1,1 0,2-2,2-1,0-1,3 1,1 1,-1 7,0-1,-2ZM199,113l-2,0 0,1 1,1ZM48,108l-1,0 0,4-2,2 0,6 1,2 2,0 0,-4 3,-3-1,-3-2,-2ZM204,104l-1,-1-2,0-3,3-5,-2 1,6 4,-3 2,0 2,2 1,0 1,-1ZM43,101l4,1 2,2 1,3 6,1 1,1 2,0 1,-2 0,-2-3,-2 0,-5-1,-1-2,0-1,-1 0,-2-1,0 1,2-2,2-2,1-4,0ZM47,91l-2,1 0,3 2,-1ZM49,21l-2,-1-1,2 2,0Z" fill="#fddbc7" stroke="#fddbc7" fill-rule="evenodd"/><path d="M50,101l0,2 2,3 2,1 3,0-4,-7Z" fill="#f4a582" stroke="#f4a582" fill-rule="evenodd"/></g>
</g>
<use href="#lakes" fill="#c3e1eb" stroke="#4f6f7c" stroke-width="0.3"/>
<use href="#overlay"/>
<text x="145.6" y="85.9" font-size="6.3" font-weight="bold" text-anchor="middle" fill="#1b1b22">All cultivars</text>
<rect x="0.25" y="0.25" width="166.5" height="92.5" fill="none" stroke="#8a8a8a" stroke-width="0.5"/>
</svg>
<text x="265.40" y="538.80" font-size="5.65" font-weight="bold" text-anchor="middle" fill="#111" >1980-1999</text>
<svg x="350.9" y="541.1" width="167.0" height="93.0" viewBox="0 0 167.0 93.0" overflow="hidden">
<use href="#base"/>
<g clip-path="url(#dataclip)">
<g transform="scale(0.5) translate(0.5,0.5)" stroke-width="0.8" stroke-linejoin="round"><path d="M89,151l2,3 1,-2-1,-1ZM135,148l0,2 2,0ZM135,134h1v1h-1ZM127,131l-1,2 0,4-2,3-5,0-1,-1-2,1-6,6-1,0 0,3-1,1-3,-1-2,-2 1,-2 3,0 0,-2-4,1-3,-3 0,-3 5,-4 0,-2 2,-2 1,0 2,2 0,2-2,2 0,2 1,1 1,0 4,-4 1,0 2,-4 4,-3 3,0ZM102,125l2,-2 2,2-1,1-2,0ZM82,121l2,-1 1,2-2,1ZM48,121h1v1h-1ZM119,119l1,1 0,2-1,1 1,2-4,4-2,0-2,-3 0,-2 4,-2 0,-1 2,-2ZM140,116l1,-1 1,2-1,1ZM238,113l-1,1 0,2 4,1 1,-2ZM54,117l0,2 4,2 3,0 3,-2 0,-2-3,-1-2,-2 0,-1-2,0ZM112,113l2,-2 3,0 2,2 0,2-3,2-2,0-2,-2ZM245,111l0,3 1,0 2,2 0,2 2,2 0,1 1,0 0,-4-2,-1-2,-2-1,-3ZM135,110l1,-1 2,2 0,1-2,1-1,-1ZM195,110l0,2 1,1 0,5-1,1 5,5 2,0-1,-4 2,-2-1,-2 1,-2 6,3 2,0 3,3 0,3 2,2 2,-1 0,-5-2,-2-3,0-2,-2-3,0-4,-5-4,0-1,-1-3,0ZM45,110l-1,-1-1,1ZM164,107l2,3 0,2-1,1-7,1-1,-1 0,-3 2,-2 4,0ZM227,106l1,-1 1,1-1,1ZM102,105l1,2-2,1-1,-1ZM75,108l2,-3 2,0 1,1 7,1 2,2 0,1-2,2-2,0-1,1-2,-1-4,3-1,0-2,-4ZM255,105l-1,1 0,2 2,2 3,0-1,-4ZM183,103l1,0 2,3 0,4-1,1-1,0-3,-3 0,-2ZM58,105l-2,-1-3,3 0,2 3,0 2,-1ZM225,101l1,0 2,2 0,2-1,1-4,-3ZM250,101h1v1h-1ZM93,99l3,5 0,4-1,1 1,6-3,4-1,0-2,2-2,0-2,-2 0,-2 2,-2 1,-3 3,-2 0,-1-4,-3 0,-2 1,-2 3,-3ZM170,98l2,2 0,3-2,2-5,1-1,-1 0,-2 2,-1 3,-4ZM158,99l2,-2 2,0 2,2 0,2 1,1-1,1-3,0-3,-3ZM146,111l-1,2-3,2-2,-2 0,-3-2,-2-1,0-2,2-4,-1-3,4-1,0-5,-4 4,-5 3,0 3,-3 1,1 3,0 0,-4 2,-2 1,0 2,2-2,3 0,2 4,1 2,2 1,2ZM95,97l2,-2 1,0 2,2 0,1-1,1-3,0ZM109,93l2,2 3,1 2,2 0,1-2,2-6,0 0,4-2,2-2,-2 0,-3-1,-1 3,-4 1,-3ZM151,92l2,0 1,2 2,0 1,1 0,4-1,1-2,-1-3,0-3,-3ZM156,94l0,-2 1,-1 2,0 2,2-2,2-2,0ZM246,87l2,2-2,2-2,-2ZM177,87l1,1-1,2-7,7-2,-2-2,-4 0,-2 3,-3ZM202,84l3,3-2,4-2,0-1,-1 0,-4ZM216,82l4,2-3,6-2,0-3,-3 0,-1ZM185,83l1,-1 2,0 2,2 2,4-2,2-4,0-1,-1ZM269,82l1,-1 2,2-2,1ZM154,81l2,-1 1,2-1,1ZM143,79l1,2-2,2 0,1-2,2-1,0-1,-1 0,-2 4,-4ZM248,78l2,0 2,2 0,3-1,1-3,-1-2,-2ZM149,79l1,-1 1,1-1,1ZM164,78l1,-1 2,2-2,1ZM179,73l1,2-2,1-2,3-1,0-1,-1 0,-2 2,-2ZM278,71l0,1-5,4-2,0-2,-2 4,-2 2,-2 2,0ZM198,76l1,-4 2,-2 8,0 2,2 0,2 1,1-1,1-5,-1-5,4ZM172,70l1,-1 1,1-1,1ZM158,69l1,1 0,6-3,3-4,-4 0,-2 3,-4ZM62,71l-2,-1-1,1 0,2 2,0ZM261,69l-1,0-1,2 1,0ZM82,69l0,1 2,1 3,0 3,3 0,2-4,3 0,3-2,4 0,2 1,1 2,0 2,-1 0,-1 5,-4 0,-1 3,-3 0,-2-1,-1 0,-2-2,0-3,-4-1,1-3,0-2,-2ZM243,67l3,2 0,4 1,0 2,2 0,1-2,2-6,0-1,1 0,6-2,2-3,0 0,2 3,3 0,3-2,2-1,0-5,-5-2,0-3,-2 0,-3-2,-4 2,-2 2,0 1,1 4,-1 0,-1 4,-4 0,-2 1,-1 0,-1-2,-2 4,-3ZM110,66l2,-1 1,2-2,1ZM206,65l2,-2 2,0 1,1-1,2-3,0ZM125,63l2,-1 1,2-1,1ZM176,60l1,0 2,2 0,2-1,1-2,0-2,-2 0,-1ZM282,59l4,4 0,1-2,4-4,2-1,-1 0,-3 1,-1 0,-5ZM307,60l0,3 2,3-1,1-2,0-4,4-6,0 0,3 4,2-2,2-3,1 0,2-3,3-4,0-3,-3 0,-3 1,-1 4,1 1,1 1,-1 0,-2-1,-1 1,-1 0,-3-1,-1 1,-5 1,-1 6,-1 1,-1 0,-3 1,-1 3,0ZM240,59l1,-1 1,1-1,1ZM92,58l2,-1 3,3 0,1-1,1-2,0ZM56,87l1,-2 4,-4 2,3 3,0 2,-1 4,-4 4,-1 2,-2 0,-4-1,-1-2,0-2,-2-1,-3 2,-2 3,0 2,2 2,0-1,-6 2,-3 3,6 1,1 4,0 2,2 0,2 1,1 2,0 2,-1 1,-2 2,0 3,4 2,0 1,1-2,4 1,3 2,1 3,0 2,-1 3,3 0,1 3,0 2,2-3,4 2,3 2,0 4,-5 0,-6-1,-1 0,-3-5,0-1,1-2,-2 0,-9 1,-1 3,0 5,4 0,5 1,1 1,-1 3,0 1,1 4,0 2,2 0,2-8,6 0,2 4,0 2,3-1,1 0,2-2,2-2,0-1,1-2,0-1,-1-4,1-2,-2-5,1-1,-1 0,-4 1,-1-1,-3-3,0-3,2-2,0-2,-3-4,0-1,1-2,0 0,2 2,-2 2,0 2,2 0,2-1,1-4,0-2,2-8,0-4,3-4,0-3,4-3,0-1,-1 1,-2-2,-2 0,-2 2,-2 2,-1 3,0 1,-1 0,-2-2,-2-1,-4-1,0-2,2 1,2-2,2-7,0-1,2-5,0-2,2-2,-1ZM230,57l1,-1 3,0 2,2 0,3-1,1-4,0-1,-1ZM249,56l4,2 4,-3 2,2 0,2 3,3 0,5 3,1 2,2 0,3-2,2-3,1-2,3 0,3-2,4 1,4 1,1-1,2-1,0-3,-3 0,-2-1,-1 1,-6-2,-2 0,-1-1,0-3,-3 3,-3 1,0-1,-4-3,-3 0,-3-1,-1 0,-4ZM285,54l1,-1 2,1-1,1ZM196,53l3,3 0,3 3,4 0,2-2,2-1,0-2,-2-2,1 0,9-2,2-2,0-2,-2 0,-4 2,-3-4,-4 0,-1 2,-2 0,-3ZM271,52l-1,1 0,2 2,0 0,-2ZM312,47l1,1 0,3-2,2-3,0-1,-1 1,-2 3,-3ZM246,45l-1,1 0,2 1,0 1,-2ZM193,45l0,1 2,2 1,0 0,-2-1,-1ZM273,42l1,-1 2,0 1,1 0,2-2,1-2,-2ZM66,38l2,-1 1,2-2,1ZM294,36l2,2 0,3 1,1 0,4-1,1 1,1 2,-1 3,0 1,1 0,2-1,1-1,4-1,1-2,-2 0,-2-1,-1-4,0-1,-1-3,0-3,-2-2,0-4,4 0,3-2,2-3,1-1,2 0,6-1,1-2,-2 1,-4-5,-5-4,-1-3,-4 4,-4 3,0 3,3 2,0 2,-2 6,0 0,-2 2,-4 2,-2 0,-2 2,-3 4,5 1,0-1,-2 2,-2ZM264,34l1,-1 1,1 4,0 1,2-2,2-3,-1-2,-2ZM278,33l1,-1 3,3-2,2-2,-2ZM45,27l1,-1 1,2-1,1ZM333,53l-2,0-2,-2-2,0-1,1-2,-2 0,-5-2,-2-2,0-1,-1-9,0-2,-2 2,-4 2,0 2,2 0,1 1,-1 6,1 0,-2-3,-3 0,-1-4,0-3,2-3,0-2,-2 0,-3-2,-1-3,-3 0,-1-2,0-1,-1-4,0 0,2 5,4 2,4-1,2-2,0-3,-4-2,0-3,-2-5,1-2,-3 0,-4-2,0-2,2-5,-1-3,3-6,0-3,3-1,0-1,-2 3,-4-7,0-3,2 0,3 1,2-4,2 1,1 0,6 4,2-1,1-1,4-4,4-2,1-4,0-3,4-3,0-1,-1 0,-4-3,-4 0,-1-5,0-1,-1-6,3-1,-1-2,0-1,1 0,4 2,1 3,0 4,-4 1,1 0,5-2,2 0,1 4,4 1,3 4,4-1,2-3,0-4,-5-1,-3-5,0-1,1 0,1 1,0 3,3 1,0 2,2 0,1 2,0 3,3 0,2-4,3-1,-1 0,-5-6,-1-8,-7 0,-1 3,-4-5,-3 2,-2 2,0 1,-1-1,0-2,-2-1,-2 0,-4-2,0 0,1-4,3-3,-3 0,-1-2,0 2,4-3,3-1,0-2,-2 0,-1-4,1-2,-2 0,-2-1,-1-2,1-4,0-3,2 2,2 2,-1 2,0 1,1 0,1-2,2 1,4-1,1-6,-1-1,-1 0,-3-3,-2-2,0 0,2-2,3 0,5-4,4-3,0-1,1-2,0-4,-3-4,2-2,0-1,-1 0,-3-1,-1-4,4-2,-2 0,-3-3,-3-1,0-1,-2-4,-4 0,-4-1,-1-3,0 0,1-2,2-4,-1-1,2 5,0 2,2 0,2-2,2-4,0-3,-3 0,-2-1,-1-3,0-1,-1 1,-1 3,0 1,-1-1,-1-4,0-1,1-2,0-2,2 0,5-2,2-6,0-2,-1-4,-4-6,-3-2,0 1,1 0,4-1,1-2,0-2,-2 0,-2 1,-1-1,-2-2,0-1,-1-4,-1-3,3-3,0-2,-2-1,1 0,6-2,2 0,3 3,3 0,2-1,1-2,0 0,2 2,0 1,1 0,2-4,3 0,4-3,3-2,1-2,0-1,-1-5,0-2,1 2,8-4,3-3,-1-1,2 2,3 7,3 1,-1 4,-1 7,-5 2,0 2,2-1,2 0,3-2,3-3,1-1,3-3,3 1,2 4,-3 2,0 1,1-1,2 0,4 2,2-1,2 4,1 2,2 0,4 1,1 0,3-1,2 5,4 1,0 1,-1 0,-7 1,-1 7,0 2,2 0,1-2,2-2,0-1,4 3,4 1,4 2,2 0,1 6,5-1,1 2,2 2,1 3,0 1,-1 3,2 2,0 0,-2 1,-1-2,-4 1,-1 6,0 2,2-1,3 3,3 0,2 1,1 3,0 4,-2 3,-3 0,-1-1,0-2,2-2,-1 1,-6 1,-1 0,-5-1,-2 2,-2 3,0 1,-2 0,-2-1,0-4,-4 1,-2 0,-3 1,-1 6,0 1,1 3,0 5,-3 3,0 1,1 5,1 3,3 5,0 2,-1-1,-2 1,-4 2,-2 3,0 2,4-1,4 2,1 3,0 3,-2 0,-3-1,-1-4,0-1,-1 0,-5 2,-4-1,-3 1,-1 1,-6 2,-2 2,1 1,2 0,3 1,1 0,2-2,3 1,3 2,2 4,0 1,1 0,3-2,1-1,2 3,0 1,-1 4,2 0,-6-3,-4 0,-4 2,-2 0,-2 3,-3 2,0 3,-3 1,0 5,4 0,3 2,0-1,-5 4,-3 0,-1-3,-2 1,-2 2,1 5,0 1,1 0,3 1,2-4,6 2,4 3,0 4,-2 3,2 2,0 2,2 0,1 1,0 1,-1 0,-4 2,-2 4,0 3,2 1,-1 2,0 0,-2-4,-3 3,-3 1,-5 2,-2 3,0 4,3 1,0 2,-3 9,1 0,-2-3,-2 2,-2 0,-8 1,-1 3,1 2,3-3,6 8,0 1,-2-1,-1 3,-3 3,3-1,1 0,2 3,3 3,0 2,-2 1,0 2,2 3,1 3,-4 1,0 3,-3 2,0 1,1 0,5 3,0 4,2 3,0 4,-3-1,-2-2,0-1,2-3,0-2,-2 2,-4-4,-3-3,0-1,-1 1,-2 0,-6 2,-2 3,2 0,4-1,2 5,5 1,-1 3,0 3,-2 4,0 1,-1 2,0 0,-5 5,-5-1,-2 0,-3 2,-2 1,0 0,-3-1,1-5,0-1,1-1,5 2,2 0,2-2,2-5,0-1,1 0,3-1,1-3,0-1,-1 2,-4-2,-2-2,-4 0,-2 2,-3 0,-2 2,-2 5,0-1,-1 0,-2 2,-2 2,0 1,-1 4,5 4,1ZM39,21l0,3-2,3 0,4 4,4 0,1 1,1 3,0 3,2 4,0 3,2 4,0 4,5 2,0 2,-4 4,1 1,-1 6,0 1,-1 2,1 4,0 1,-1-1,-1-1,-5-2,-3 0,-2-2,-2-5,4-3,0-1,-1-1,1-4,0-2,2 0,2-3,3-2,0-7,-5 0,-3 1,-1 0,-4-1,-2-8,0-4,-4ZM29,23l0,-2-1,-1-1,1-2,0 0,1ZM31,16l0,1 2,1 2,-1-1,-2-2,0ZM48,14l-2,0 0,3 2,-1ZM78,15l-2,0-1,-1 0,-2-1,0-2,2-2,0-2,3-3,0-2,2-2,0-3,-3-3,0-1,3 1,1 0,2 4,2 1,2-1,1 1,1 2,0 2,-2 8,1 0,-4-4,-1-1,-1 0,-3 2,-2 3,2 1,3 4,0 0,-4ZM21,12l0,7 2,1 1,-4-1,-1 0,-3ZM63,9l1,2 2,0 1,1 2,0 1,-1 0,-3-1,-1-3,0ZM58,8l-3,0-2,-1-2,1-1,2 1,2 3,1ZM26,8l0,3 12,0 0,-2-1,-1-3,1-4,-3-2,0Z" fill="#d1e5f0" stroke="#d1e5f0" fill-rule="evenodd"/><path d="M117,140l-6,7 2,1 3,0 0,-1 2,-2 1,0 1,1-1,2 1,4 3,3 3,-4 0,-2 1,-1 0,-4-1,-1 0,-2-5,0-1,-1ZM127,133l-1,1 0,2 1,1 3,0 1,-1-1,-2ZM114,131l-2,0-1,1 0,3-1,2 1,0 4,-3 0,-2ZM57,117l0,1 2,0ZM182,114l0,1 1,0 0,-1ZM87,113l-2,1-4,0-5,7-1,4 2,2 2,4 1,-1 0,-4 1,-1 0,-5 2,-2 0,-1 4,-3ZM187,112l-1,1 0,2 3,3 0,2 0,-2-1,-1 0,-5ZM197,111l1,2 0,-2ZM109,113l1,-1 2,0 4,-2 4,3 0,2-2,2-5,1ZM225,107l-1,1 1,2 2,0 0,-1ZM80,102l-4,0-1,1-4,0-1,1 0,2 2,2-2,2-1,0-1,3 4,3-1,2 1,1 1,0 2,-3 0,-4-3,-3 4,-5 5,0ZM219,96l1,-1 2,2-2,1ZM141,95l2,2 0,1-2,2 0,2 2,1 4,4 1,3-4,5 0,3-2,2-2,-2-4,0-4,2-1,-1 3,-3 0,-4-1,-2-2,0-1,3-2,2-1,0-3,-3-3,-1-1,-2 3,-4-1,-2-1,0-2,-2 0,-1 2,-2 3,3 11,0 1,-4 2,-2ZM71,96l-1,1 0,2 1,0 1,-2ZM95,95l-1,-1-5,0-5,4-1,-1-2,0-1,1 4,0 1,1-1,6 2,0 2,-2 1,-3 2,-2 2,0ZM52,93l0,3 2,0 1,-1 0,-2ZM63,92l-1,-1-1,2 2,0ZM244,86l3,0 2,2 0,2-2,2-3,0-2,-2 0,-2ZM273,86l-1,0-1,2 2,0ZM79,88l-2,-2 0,-1-4,4-5,0 0,1 1,1 4,0 1,-1 3,0ZM303,84l-1,1 3,3 1,0 1,-2-2,-2ZM201,83l3,1 2,2-1,4-3,3-1,0-3,-3 0,-3ZM123,84l-4,3 0,3 2,0 1,-1ZM261,82l-2,3 0,2 1,1 2,-1 0,-4ZM67,81l-1,0 0,1ZM189,79l1,1 0,3 4,4 0,1-4,3-4,0-2,-2 0,-6ZM121,77l-3,2-2,0 0,1 1,1 2,0 2,-2ZM302,76l-3,3-1,0-7,8-1,0-4,-4-1,0-2,-2 0,-1-8,1-1,2 1,1 1,-1 2,1 3,0 3,4 4,-1 3,4 2,0 2,-2 1,0 4,-5 0,-3 2,-2ZM323,75l-2,0 1,4 2,-3ZM263,77l1,2 2,0 1,1 3,-1 0,-2-2,-2ZM94,75l-2,0-4,4-1,0-1,8 2,0 8,-7 0,-3ZM235,73l-4,0 1,5-2,1-1,2 1,0 1,-2 4,-3ZM297,72l0,1 2,0ZM212,70l0,3 4,3 1,5 2,1 3,0 3,-4 0,-3-1,-1-4,0-4,-3ZM305,69l-1,2 2,0 3,3 0,4-1,2 3,2 6,0 1,-1-4,0-1,-1 0,-6-1,-1 0,-3-1,-1ZM72,69l-1,2-3,3-1,0 0,3 2,2 1,-1 3,0 4,-2 0,-3ZM223,66l1,1 0,-1ZM231,64l2,4 3,0 3,-2 6,0 2,2 0,3 1,1 3,0 1,-1-1,-3-2,-2-2,-1-2,1-1,-2-4,-3-3,0-2,2-3,0ZM211,61l0,1 2,0 0,-1ZM254,89l-1,-2-6,-3-2,-2 0,-2-1,-1-3,0 0,8-2,2-2,0 2,5-3,4-4,-2-3,-3-3,-1-2,-2-1,-4-1,0-4,5-6,2-2,-2 0,-3-1,-2 5,-4 0,-2-2,-2-4,-2-2,0-4,4-3,0-3,-5 5,-6 2,-1 6,0-5,0-1,-1-2,1-5,0-1,2 1,5-6,5-1,-1 0,-4-1,-1 0,-3 2,-3-1,-1-2,0-2,2-2,-2 0,-1 3,-2 1,-3-4,0-2,-1-2,2 1,1 0,3-2,2 3,6 0,2-5,5-1,0-4,-5-3,0 0,5-1,1-3,-1-2,-3 0,-1 2,-2 1,0 5,-4 0,-3 1,-1 2,0 1,1 2,-1-1,-2-3,0-5,3-4,1-3,3 0,5-2,2 0,3 1,1-2,2-2,0-2,-3-7,0-2,1-3,4-3,0-2,-3 0,-2-1,0-2,2 2,2 1,4-1,1 0,2-2,2-3,1-2,2-2,0-1,-1-4,0-2,-2-1,0-1,1 0,4-2,2-6,0-1,1 1,2 0,5 1,1-1,2-2,-2-1,-3-1,0-2,2-2,0-2,-2 0,-3 1,-1 2,0 0,-4 1,-2 2,-1 0,-3 2,-2 2,0 2,2 2,0 1,-6-2,-2-4,3-4,-1 0,2-2,2-4,0-1,2 4,2 0,2-2,2-2,0-1,1 0,3 1,1 0,6 2,1 0,2-4,5-3,1-2,2-3,0-1,3 1,1 3,0 2,2 0,3-5,3 0,2 1,2 2,1 2,6 3,3 3,1 1,1 0,2 2,2 3,0 2,-2 0,-1-5,-3 0,-4-2,-2-3,1-4,-3 0,-1 2,-2 1,1 3,0 3,-3 1,0 0,-1-4,0-1,-1 0,-3 1,-1 5,0 0,-1-1,-1-3,0-3,-3 3,-3 2,0 0,-2 2,-2 4,2 0,1-2,2 2,2 0,3 1,1 1,0 2,-2 0,-4 1,-1 3,0 3,-4 3,3 0,2-1,1 1,1 3,-1 1,-2 1,0 2,2 0,1-2,2-1,0 0,2 2,1 1,-1-1,-3 3,-2 2,1 3,0 1,1 3,0 5,-3 4,0 4,2 7,0 1,-1 2,0 4,-5 5,0 1,-2 0,-7 1,-1-1,-2-3,0-1,1 1,5-3,3-4,-1-4,3-4,-3-2,1-2,-2 0,-2-1,-1 0,-1 2,-2 2,0 2,2-1,1 0,2 1,0 0,-2 2,-2 2,-1 3,0 0,-3-3,-1-2,-2-3,0-6,-3 0,-4 4,-5 2,1 2,0 1,-1 4,2 2,2-1,2 3,4 0,1 1,0 2,-2-1,-4-4,-3 0,-4 2,-2 1,1 2,-1 7,0 4,3 0,1-6,6-1,2 0,2 2,3 4,-5 2,0 1,1 0,4 1,0 1,-2 0,-3 2,-2 2,1-1,8 1,1 0,3 1,2 2,-2 0,-2 3,-3 2,0 1,-1 0,-1-1,0-2,-3 0,-3 1,-1 2,0 1,1 0,3 7,5 1,0 3,-3 1,0-3,-2 0,-3 1,-1 9,0 2,2-1,2 0,3 1,1-1,3 1,1-2,2 0,2 4,-1 0,-3 2,-4 2,-2 3,0 4,6 2,0 1,1 4,0 1,1-1,-5 4,-4 0,-3 3,-3 3,0 3,2 2,0 2,-3-1,-1ZM262,57l-1,2 2,2 0,5 1,0 4,4 3,1 1,-2-3,-4 1,-2 0,-3-4,-3ZM70,56l-1,1 2,2 1,0 1,-1 0,-2ZM243,55l-1,2 2,2 2,0 0,-3-1,-1ZM177,56l-2,-1-2,4 3,0ZM192,54l-2,-1-3,2 0,2 3,-1ZM92,53l0,1 2,0ZM291,52l-2,1 0,2-2,2-1,0-3,-3 0,-1-2,0-1,4-2,2-2,0 0,9 2,0 0,-2 1,-1-1,-4 2,-4 4,1 1,2 2,1 0,3-2,4-3,3-1,0-4,4 0,1 2,-1 2,1 3,0 1,-2 3,0 2,3 1,-2 0,-3-2,-2 0,-1 2,-2 0,-2 2,-2 4,0 1,-1-1,-5-3,0-2,-2 0,-2ZM210,52l-2,0-1,1-5,0-2,2 0,5 4,4 3,-2 0,-3 3,-3ZM220,52l2,0 1,-1-2,0ZM285,49l-1,1 2,1 0,-2ZM232,49l-1,0-3,4 0,6 0,-1 3,-3 3,-1 0,-3ZM75,52l0,3 2,2 0,4 2,3-1,-2 1,-1 1,-4 2,-2 2,0 1,1 0,5 2,2 4,0 2,4 2,0 1,-2 2,-1 1,1 4,1 3,3 1,0 1,1-1,6 4,0 1,1 2,0 0,-5 1,-1 0,-3-2,1-3,0-1,-1 0,-3 3,-2 1,1 2,0 3,-3 1,0 4,5 2,0-2,-3 3,-3 1,0 3,3-1,4-3,2 0,4 4,0 1,1 4,-1 4,5 1,-1 2,0 3,2 2,0 3,-3-1,-1 0,-2 1,-1-1,-2-4,-2-6,0-3,-4-2,1-2,-2 0,-6 2,-2-1,-1-1,0 0,1-4,3-4,0-2,-1-3,-4-3,0-2,-2-1,0-1,1 1,3-2,2-3,0-1,1-6,0-1,-1-2,0 0,5-2,2-3,-1-1,-2-1,0-4,-5-2,0-1,-1 0,-4-2,-2-4,0ZM300,44l-1,0 0,1ZM79,34l-2,-1-3,2-2,0 1,2-1,3 4,0 3,-3ZM272,39l-6,0-4,-4-1,-2-4,-1-2,2 0,6 2,0 2,2-8,9-1,2 1,3 3,0 2,-1 3,-6 2,-2 4,-2-2,-2 2,-3 3,3-1,3 1,0 2,2 2,0 1,-1-1,-2ZM287,32l2,4 2,-1 4,0 0,-1-4,-3-3,0ZM300,29l1,3 2,2-1,6 1,0 2,2 0,2-1,1 0,6-1,1 0,4 1,1 2,0 2,2 1,5 2,0 4,-5 0,-1 1,-1 2,0 0,-1 2,-2 3,-1 0,-1-2,-3 0,-3-1,0-4,-3-2,1 0,1 2,2-1,1 0,3-3,3-5,1-1,-1 0,-4 5,-5 0,-1-4,-3 0,-3 1,-1-4,-3 0,-4ZM266,30l0,2 2,1 3,0 5,3-1,1 0,3 4,1 1,1 2,-1 0,-2-1,-1-6,-3 1,-1 0,-2-2,-3ZM280,27l-1,1 1,2 2,2 0,1 2,1 1,-1-2,-2-1,-4ZM51,26l-2,1 0,2 1,1 1,-1ZM41,25l-2,4 1,1 1,0 1,-2 0,-2ZM64,23h1v1h-1Z" fill="#92c5de" stroke="#92c5de" fill-rule="evenodd"/><path d="M101,150l0,3 2,0 0,-2ZM94,144l0,2 2,2 2,0 2,-2-1,-2ZM117,141l-3,3 0,3 1,0 0,-1 3,-3 3,3 0,5 2,1 2,-2 0,-2 1,-1 0,-4-4,-2ZM113,133h1v1h-1ZM95,121l-3,0-2,2-1,0 0,2 1,0 3,3 0,3-3,3-2,0 0,2 1,1 6,-3 0,-4 1,-1ZM133,122l0,1 2,1 4,0 2,-2 0,-1-2,-2-3,0ZM98,119h1v1h-1ZM81,116l-4,5 0,2-1,1 1,1 2,0 1,-1ZM121,113l-1,4 1,1 0,3 2,1 1,-1 0,-7-1,-1ZM147,112l-2,3 0,3-2,3 12,1 1,1 1,-1 0,-3-1,-2-3,0 0,1-2,1-1,-1-1,-5ZM171,111l-4,5-3,0-2,-1-1,1 0,3 2,1 3,-4 4,1 1,-1ZM132,111l-1,1 0,2-2,2-1,0 0,5 1,1 0,-3 2,-4 2,-2ZM69,112l4,2 0,-2-1,-1-2,0ZM102,111l-1,1 0,3 4,1 4,3 0,1-2,2 1,3 1,0 0,-3 3,-3 3,0-3,0-1,-2-5,-4-1,-3-1,1ZM73,104h1v1h-1ZM121,104l-1,0-2,-2 0,-1-1,0-2,2-3,0-2,-1-1,1 0,3 2,4 6,0 4,-4ZM97,101l0,2 1,1 3,-1 0,-2ZM87,100l-1,1 0,2 1,0ZM164,94l0,2 2,3 1,-1 0,-2-1,-2ZM93,95l-1,-1-1,1-2,0-1,1 0,2 4,-1ZM106,90l-1,0-2,3-4,0 0,1 2,0 2,2 1,-1-1,-1 3,-3ZM252,89l-1,0 0,1-2,2 1,1 2,0 1,-1 0,-2ZM217,93l1,1 3,0 2,2 0,2-2,2-3,-1 1,2 1,0 2,-2 4,0 2,1 4,5 3,0 1,1 1,0 0,-4 4,-3 0,-2 1,-1 0,-4-2,-1-1,1 0,5-3,2-3,-2-3,0-1,-2-2,-2-3,-1-2,-3-1,0-1,2ZM208,88l-2,1 0,1-3,4-3,0-2,2 1,3 6,3 1,-1 0,-2-2,-4 4,-3ZM77,88h1v1h-1ZM112,87l-1,0-3,3 2,2 2,0 1,-2 0,-2ZM286,84l-2,0-1,1 2,2 2,-2ZM261,84l-1,2 1,0ZM130,97l0,2 1,1 3,0 1,-1 0,-4 1,-1 5,0 2,-1 2,3 0,6 3,5 2,-1 4,0 1,1 5,-1 0,-2-1,0-2,-2-2,0-3,-2-4,0-1,-1 0,-6 2,-2-1,-1 0,-6-4,0-1,3 1,0 3,3-1,2-2,1-2,-2 0,-2-4,-1 0,2-2,2 0,2-2,2ZM297,83l-2,2 0,2 1,0ZM242,80h1v1h-1ZM162,79l-2,0-1,1 0,5-1,1-4,0 0,2 4,0 3,2 1,-1 0,-4 2,-2ZM310,77l-1,2 2,1 0,-2ZM202,81l1,2 2,0 1,1 3,0 4,-2 0,-2-5,-3-2,0ZM265,77l0,1 2,1 2,-1 0,-1-2,-1ZM95,77l-2,-1-5,4 0,5 3,-1 4,-4ZM218,80l3,1 4,-5-1,-1-6,0-1,1 1,1ZM234,74l-2,0 0,1 1,1ZM76,74l-3,-3-1,0-1,2-3,2 0,1 1,1 2,-1 3,1 2,-1ZM196,70l0,2 2,0 0,-2ZM143,70l1,6 2,2 2,-2 0,-4-2,-2ZM136,70l0,3 2,3 2,0 0,-3-2,-2 0,-1ZM169,70l-1,-1-2,0-2,1 0,1-4,3 2,1ZM248,68l0,2 2,1 0,-2ZM181,67l-1,1 0,3 1,2 3,2 0,1-7,6-2,0-3,-4-2,0 0,5 3,0 7,4 0,2-7,8 0,2 1,1 2,-2 0,-2 1,-1 2,0 1,-1 2,0 1,1 1,-1 3,0 1,1-1,8 1,1 2,0 2,-2 0,-8 4,-2 1,-2-1,-1 0,-4 2,-1 1,-2-2,-4-2,-1-4,5 4,4 0,3-3,2-6,1-3,-3 0,-3 1,-1-1,-4 1,-1 2,0 2,-2 0,-4-1,-1 0,-3 1,-2-2,2-1,0ZM131,67l-1,0-3,3 0,2 1,1 1,-1 2,0 2,-2ZM277,64l0,1 1,0 0,-1ZM242,63l-3,-1-3,2-2,0-1,2 1,1 2,-1 3,0 1,-1 2,0ZM180,62l1,3 4,-2 0,-1-2,-1-2,0ZM294,60l-4,-1 0,3-3,3-2,5-3,2 0,2 2,0 1,-2 3,0 2,1-3,-3 3,-3 0,-2 3,-3 2,0ZM129,59h1v1h-1ZM264,58l0,2 1,1-1,4 4,3 1,0-2,-4 2,-2 0,-2-1,0-2,-2ZM86,58l0,3 2,1 1,-2-2,-2ZM244,56h1v1h-1ZM314,55l-3,0-3,2 2,4 2,0 2,-2ZM282,55h1v1h-1ZM201,55l0,5 3,2 2,0 0,-5 2,-1 0,-1-1,0-1,2-3,-2ZM125,59l-3,-1-3,-3 0,-1-2,0-1,1-2,0 0,1-3,2-3,0-2,1-1,2-5,-2-1,2 0,3 6,1 1,2 1,0 3,-4 4,-1 0,-2 2,-2 2,0 3,3 2,0ZM232,52l-1,0-2,2 0,1 1,0 2,-2ZM77,53l1,1 4,0 1,-1-1,-2-3,0ZM316,51l0,3 3,0 2,-1 0,-2-1,-1-3,0ZM309,43l-2,0-1,1 0,3 1,0 2,-2ZM268,40l0,1 2,2 1,0 0,-2-1,-1ZM276,38l1,2 2,-1-1,-1ZM306,37l-2,0 0,1 1,1ZM261,34l-4,0 0,4 4,5-4,2-2,2 0,2-3,3 0,3 2,0 3,-3 1,-2 0,-3 2,-1 0,-2 3,-4 0,-1-2,-2ZM289,32l0,2 4,0 0,-1ZM271,31l0,1 3,1 0,-2Z" fill="#4393c3" stroke="#4393c3" fill-rule="evenodd"/><path d="M98,145l-2,0-1,1 2,1ZM117,142l2,0 3,4 3,0 0,-2-2,-2ZM93,122l-2,1 0,1 3,3 0,2 1,-2-1,-1ZM80,120l-2,1 0,2 1,0 0,-2ZM140,121l-2,-2-3,2 0,2 4,0ZM162,117l0,1 1,0 0,-1ZM122,116l-1,1 1,1 0,3 1,0 0,-4ZM148,114l-2,1 0,3-1,2 4,0ZM103,112l0,2 1,1 4,1 1,1-5,-5ZM119,105h1v1h-1ZM111,103l-1,1 0,2 3,3 1,-1ZM98,102h1v1h-1ZM147,104l1,2 2,-1 7,0 1,-1-6,-3-3,1ZM230,100l1,2 4,0 1,-2-3,-2-1,0ZM174,97h1v1h-1ZM131,98l1,1 2,0 0,-2-2,0ZM200,96l0,2 1,1 4,1-2,-4ZM91,96h1v1h-1ZM241,93l-1,0 0,4-1,1 2,-3ZM188,93l2,3 0,1-2,2 0,3 2,1 1,-2 0,-4-1,-1 0,-3ZM139,92h1v1h-1ZM221,91l-1,2 1,0 3,3 0,2 1,1 2,0 1,-1 0,-3-2,-2-2,0-2,-2ZM111,88l-1,1 1,2 1,-1ZM160,86l-1,1 1,1ZM147,85l-2,0 0,1 1,1ZM179,81l-2,2 0,1 4,3 0,2-3,3 0,1 6,0 0,-1-2,-1 1,-8-2,-2ZM160,80l0,3 1,1 1,-1 0,-2ZM195,79l0,1 1,0 0,-1ZM171,79l0,3 2,0 0,-1ZM204,80l0,2 7,0 1,-1-4,-3-2,0ZM94,77l-2,0-2,2 0,4 3,-1 0,-1 2,-2ZM219,79l3,0 2,-2 0,-1-4,0-1,1ZM73,74l0,1 2,0 0,-1ZM138,73h1v1h-1ZM145,71l-1,1 2,1ZM181,69l0,3 4,3 0,2-1,1 2,1 1,-1 0,-4-4,-5ZM131,69l-2,0-1,2 2,0ZM289,65h1v1h-1ZM241,64l-1,-1-1,2ZM181,62l0,1 2,0 0,-1ZM100,62l0,1 2,0 0,-1ZM292,61h1v1h-1ZM122,59h1v1h-1ZM113,59l-1,-1-4,1 0,3 4,0 1,-1ZM313,57l-2,0-1,2 2,0ZM202,57l-1,2 2,2 2,0 0,-3-1,-1ZM320,51l-2,0 0,2 1,0ZM257,49l-1,0 0,1-2,2-1,0 0,2 2,-1ZM307,44l0,1 1,0 0,-1ZM259,35h1v1h-1Z" fill="#2166ac" stroke="#2166ac" fill-rule="evenodd"/><path d="M122,144h1v1h-1ZM139,121l-1,-1-2,2 3,0ZM155,104h1v1h-1ZM149,104l3,-1-2,0ZM189,100h1v1h-1ZM233,99l-1,1 1,0ZM202,98l1,1 0,-1ZM224,94l1,4 2,0 0,-4ZM179,82l-1,1 3,3 1,0 0,-3-1,-1ZM208,79l-2,0 0,2 1,0ZM94,78l-2,0-1,1 0,3 3,-2ZM222,77h1v1h-1ZM182,70l0,2 2,0 0,-1ZM112,60l-2,-1-1,2 2,0ZM202,58l0,1 2,1 0,-1Z" fill="#053061" stroke="#053061" fill-rule="evenodd"/></g>
</g>
<use href="#lakes" fill="#c3e1eb" stroke="#4f6f7c" stroke-width="0.3"/>
<use href="#overlay"/>
<text x="145.6" y="85.9" font-size="6.3" font-weight="bold" text-anchor="middle" fill="#1b1b22">All cultivars</text>
<rect x="0.25" y="0.25" width="166.5" height="92.5" fill="none" stroke="#8a8a8a" stroke-width="0.5"/>
</svg>
<text x="434.40" y="538.80" font-size="5.65" font-weight="bold" text-anchor="middle" fill="#111" >2000-2024</text>
<svg x="12.9" y="648.6" width="167.0" height="93.0" viewBox="0 0 167.0 93.0" overflow="hidden">
<use href="#base"/>
<g clip-path="url(#dataclip)">
</g>
<use href="#lakes" fill="#c3e1eb" stroke="#4f6f7c" stroke-width="0.3"/>
<use href="#overlay"/>
<text x="146.6" y="78.9" font-size="6.3" font-weight="bold" text-anchor="middle" fill="#1b1b22"><tspan font-style="italic">V. vinifera</tspan></text>
<text x="146.6" y="86.5" font-size="6.3" font-weight="bold" text-anchor="middle" fill="#1b1b22">cultivars</text>
<rect x="0.25" y="0.25" width="166.5" height="92.5" fill="none" stroke="#8a8a8a" stroke-width="0.5"/>
</svg>
<text x="96.40" y="646.30" font-size="5.65" font-weight="bold" text-anchor="middle" fill="#111" >1960-1979</text>
<svg x="181.9" y="648.6" width="167.0" height="93.0" viewBox="0 0 167.0 93.0" overflow="hidden">
<use href="#base"/>
<g clip-path="url(#dataclip)">
<g transform="scale(0.5) translate(0.5,0.5)" stroke-width="0.8" stroke-linejoin="round"><path d="M79,153l-2,2 2,2 1,-1ZM134,152l-1,1 0,3 2,1 3,-2-3,-3ZM111,146l2,0 2,2 0,2-2,3-3,-3 0,-3ZM137,136l1,0 3,4-2,4-1,0-2,-2 0,-5ZM114,135l1,1 0,2-1,1-3,0-1,-1 3,-3ZM56,134l1,-1 3,0 2,2 2,-1 3,0 2,2 0,1-4,4-2,0-2,-2-2,1-3,-3ZM125,132l2,0 2,2 1,-1 2,0 1,1-1,2 0,4-1,1-2,-1 0,-2-1,-1-3,0-2,-2 0,-1ZM62,129l2,1 0,2-1,1-1,0-2,-2ZM125,128l1,-1 1,1-1,1ZM87,124l2,2 2,0-1,-2ZM76,122l-2,0-3,3-2,0-2,-3-2,0-3,6-5,-1-1,1 0,5-1,1-3,0 0,5 5,4 1,6 2,2-1,2-4,0-2,-1 2,3 1,0 4,3 3,-1 2,-2 0,-2 2,-2 2,0 3,-2 3,0 0,-2-1,-1 0,-4 3,-5 0,-3-2,-2-6,-1-2,-2 2,-2 7,-1 1,-1 0,-2ZM59,120h1v1h-1ZM130,116l-1,1 2,1 0,-2ZM98,116l1,-1 3,0 9,8-1,3-3,2-3,0-3,-3 0,-2-4,-2ZM106,114l2,-3 5,5-3,2-3,0-1,-1ZM91,106l1,2-2,1-1,-1ZM119,106l1,-1 1,1-1,1ZM70,105l2,-2 2,0 2,2 0,2-1,1-3,0-2,-2ZM213,98l-2,0-2,4 2,0 2,-2ZM69,92l4,4-3,3-1,3-1,1-2,0-1,-1 0,-2 1,-1 0,-5 2,-2ZM218,92h1v1h-1ZM110,92l0,2 2,1 1,-2-1,-1ZM47,92l1,1 2,0-1,-1ZM236,91l2,-1 1,2-2,1ZM179,90l-2,0-1,1-4,0-1,1 0,4-3,3-1,4 4,-1 3,-3-1,-2 3,-3 3,0 2,1 0,-2-2,-2ZM132,90l2,-1 1,2-2,1ZM65,83l1,1 0,3-3,2-2,0-1,-2 4,-4ZM209,82l2,-1-2,0ZM180,81l0,5 3,0 1,-1 0,-2ZM241,78l1,0 4,3 0,6-1,1-5,0-1,-1 0,-2 1,-1-1,-4ZM88,79l1,-1 1,1-1,1ZM224,76l1,1 0,2-3,4-3,-3 0,-2 2,-2ZM157,76h1v1h-1ZM50,74l2,2 0,1-2,2-1,0-1,-1 0,-2ZM203,73l4,1 1,1 4,0 2,1 2,3 0,2-5,4 0,1-3,4-1,0-2,-2-2,-4 0,-2-2,-3 0,-4ZM124,70l1,1 0,3-1,1-2,-2 0,-1ZM161,73l2,0 3,-2-1,-1-4,0ZM217,66l1,0 2,2 0,2-1,1-3,0-1,-1 0,-2ZM236,64l2,2 0,3-1,2-2,1-4,5-2,1-3,-1-1,-1 0,-2 3,-3 4,1-1,-5 3,-3ZM133,63l1,1 0,2-1,1 0,5 2,4-5,5-3,0-1,1 1,2 0,3-2,2 1,3 2,0 1,-1 2,1 0,3 1,2 2,1 1,3-4,4-2,0-4,2-2,-2 3,-4 0,-2-3,-2-4,0-2,2-4,-1-1,2 2,0 3,3 0,4-2,2-6,0-2,3-1,-1-3,0-4,3-1,0-2,-2 6,-5 2,0 0,-4-2,-1-2,2-2,0-2,-2 0,-2-1,-1 1,-1 0,-2-4,-5 0,-1 7,-5 3,0 2,3-2,2-3,1 0,2 1,1 3,0 1,-1 0,-3 1,-1 4,0 2,-3 0,-5 1,-1 2,0 3,-2 2,0 4,-3 4,0 0,-3 1,-1 0,-6 2,-2ZM105,67l0,-1 3,-3 2,0 1,-1 3,0 3,2 0,2-2,2-9,0ZM205,60l2,0 4,3 1,4 1,1 0,2-2,2-2,0-3,-3 0,-2-2,-2 0,-4ZM94,59l2,2 0,4 1,2 4,3-2,2-3,1-4,3-2,-2 0,-1 3,-3 0,-3-1,-1 0,-2-2,-2 0,-2 1,-1ZM184,75l1,2 3,0 1,-1 2,2 0,2 2,3-1,3-3,3-3,1-1,3 4,0 3,-2 2,0 4,-4 5,7 0,1-3,3 0,1 3,0 0,-1 4,-4 4,-1 4,-4 4,-2 3,3 0,6-3,3 0,3 1,2 1,0-1,-2 2,-3 5,0 0,-10 1,-1 4,0 1,1 0,10-1,1 0,4 1,0 0,-2 3,-4 2,0 1,1 2,0 1,-1 0,-6 3,-3 4,0 4,-2 1,-2 0,-3-3,-3 0,-2 3,-3 2,0 2,-2 0,-5-2,-2 0,-1-4,-3-2,1-4,-2-4,3-4,-4-1,-2-5,0-1,1-2,0 0,2-1,1-2,0-6,-3-7,2-2,-2 0,-1-2,0-1,-1-4,0-1,1-4,0 0,2 2,2 0,5-2,2-4,0-2,1-4,-3-2,2 0,4ZM125,54l2,2 1,3-3,3 0,2-2,2-4,-1-4,-4-2,-1 1,-2 6,0 3,-4ZM49,53h1v1h-1ZM285,50l1,2 4,0-1,-2ZM144,50l-1,1 0,5 2,2 4,1 0,-3-1,-2-2,-2 0,-1ZM280,46l0,1 2,1 0,-1ZM49,65l-1,2 0,3 1,2-3,6 4,2 0,2 1,1 0,4 1,1 5,-1 1,1 0,3 3,2 0,1-5,5 0,2 2,2 0,1 4,3 0,4 5,5 3,0 3,-2 4,1 2,2-1,2 0,2 1,1 2,-1 0,-3 2,-2 5,0 1,-1 5,1 1,1 0,3 3,2 0,3 2,4-2,2-6,-1-1,2 5,3 0,2 2,2 0,3 1,0 4,-4-1,-2 4,-5 3,0 1,1-1,2 0,3 1,1-1,3 1,2-1,1-2,0-1,-1-4,2-5,6-1,-1-5,0-4,-3 1,-4 2,-1 4,-4-4,-4-2,-1-6,0-2,2 0,1 1,1 5,0 2,4-2,4 0,2-1,1 0,5 3,2 19,0 3,2 7,0 2,1 1,-1 3,0 2,-2 1,0 5,-7 4,0 3,-3 1,0 3,3 3,6 0,2 1,1 2,0 2,-3-1,-2-4,-4 0,-4 1,-1 3,0 1,1 1,-1 0,-2-2,-2-1,-4-1,-1 0,-2 1,-1 2,0-1,-3-3,-2-3,0-2,2 1,3-4,4-4,-3 0,-2 2,-2 3,-1 0,-3-8,-4-1,1-4,0-2,-2 0,-2 2,-2 0,-3 1,-1 6,0 3,2 4,1 2,2 0,4 2,0 0,-5 1,-1 1,-6-2,-3-2,2-5,2-2,-2 0,-6 1,-1 3,0 1,-1 0,-2 2,-2 4,-2 1,0 2,2-4,4-3,1 2,3 1,0 1,-3 2,-2 5,1 0,-6-6,-3 2,-3 2,-1 2,2 1,0 4,-4 5,3 0,3-2,4 0,7-1,1-5,1 1,1 0,2 1,1 2,0 1,-1 0,-2 6,-7 3,-8 2,-2 2,0 0,-3 2,-2 0,-3-3,-2-7,0-1,1 0,2 4,3 0,3-1,1-2,0-2,-4-2,-1-3,0-5,4-4,-4-2,1-11,0-1,-1 0,-5 1,-1 10,1 3,2 1,-1 4,-1 1,-2-3,-5-4,-1-3,-4-1,0 0,2-5,6-2,-2 0,-1 4,-4 2,-5-5,0-1,-1-3,0-2,-3 1,-5-5,-4-2,0-1,1 0,2-2,1-4,-4-2,0-1,1-5,-3-2,0-2,2 0,2 4,1 2,3 0,1-3,3-5,-5 0,-3-4,0-4,-4-1,1 1,3-2,2-7,-1-2,2-3,-1-2,-2 0,-3-3,0-4,5 2,0 1,-1 2,0 1,1 1,4 2,2 2,4 0,2-1,1 1,1 2,0 2,2 0,2-3,2-6,0 0,1-5,5 0,3 2,3 2,0 2,2 0,3-1,1 0,5 5,4 2,4 0,3-1,1-2,0-2,-1-6,-7 1,-2 0,-3-6,-7 0,-6 1,-1 0,-2-10,1-4,-4 0,-2 1,-1 4,0 0,-6-3,-3-4,-2-2,0-4,4ZM40,44l-2,0-2,2-3,1 2,2 4,-1ZM50,40l-2,1 0,5 2,-1ZM64,38h1v1h-1ZM79,37l-3,0-1,1 0,2-3,3-1,-1-3,0-2,2-1,0-1,1 1,2-1,1-2,-1-4,0-4,4-1,3 3,1 3,-3 1,0 3,3 0,1 4,3 0,4 3,2 0,2 2,2 0,1 2,-1 3,-4 0,-4-3,-1-2,2-1,0-5,-4 0,-3 2,-2 1,-4 4,-6 4,1 1,-1 2,0 2,-2-1,-3ZM53,36l0,2 2,1 1,-1-2,-2ZM27,33l0,3 1,1 4,0 2,1-1,0-3,-3 0,-2-1,-1ZM275,40l1,1 0,3 2,1 0,-3 3,-3 1,0 6,3 6,5 2,0 1,1-2,1 0,2 4,0 2,-2 4,0 1,-1 0,-4 4,-4 1,-4-1,-2-3,1-2,-2-5,-2-1,1-2,0 2,0 2,4-2,2-2,0-4,-4-2,0-1,1-3,0-3,-2 0,-2-2,-1-2,1-1,2 1,3-2,2-3,1ZM79,30l0,1 1,0 0,-1ZM286,28l0,1 1,0 0,-1ZM72,28l-2,0-1,1 0,4 2,1 2,-1ZM71,19l5,0 1,-1-6,0ZM52,14l0,3 4,4 0,1 1,0 3,4 3,0 1,-1 0,-2-1,0-6,-5 1,-2 2,0 2,-1 0,-1-2,-1Z" fill="#d1e5f0" stroke="#d1e5f0" fill-rule="evenodd"/><path d="M87,151l2,2 2,0 1,-1-1,0-2,-2ZM108,146l-4,0-2,1-2,2 0,2 2,2 6,-1 1,-1ZM60,143l-1,1 0,4 3,2 0,2-1,1 2,1 3,-5-2,-4-2,-2ZM85,134l-2,0-1,2 3,-1ZM144,133l-3,2 0,3 1,1 0,4-1,2 2,2 0,-4 4,-2 0,-3ZM97,133l1,1 0,-1ZM75,133l-3,0-1,1 0,4-4,3 0,1 3,3 2,-1 0,-4 2,-2 1,0 1,-2 0,-2ZM102,128l0,3 2,0 1,-1-2,-2ZM66,126h1v1h-1ZM105,113l-2,0-1,1 2,1ZM142,109l-2,1 0,3 2,0ZM110,110l0,1 2,2 1,0 2,3-1,2-2,1 1,6 2,0 0,-1 3,-3 2,0 1,1 0,1-4,4-2,0-1,1-4,-1-2,2 2,0 2,2-1,3 4,0 4,5-2,2-3,0-2,2 0,1 4,3 0,2 2,2 2,-1 0,-3 1,-1 2,0 4,4 3,-3 2,0 3,-2-1,-9-1,1 1,2-3,3-4,1-1,-2 2,-2-1,-1-4,0-2,-3 3,-4-2,-4 2,-2 3,0 1,1 0,6 1,1 1,-1 2,0 1,-2 3,-3 1,0 1,-3-6,-3-2,0-1,1-4,-1-2,-2 0,-2 2,-2 0,-3-3,-3-5,0-2,2ZM134,104l-2,2-3,0-2,2 1,2 7,0-1,-1ZM99,105l-2,0-2,-2-1,0 2,4-2,3-2,0-1,1 0,2 1,1 2,0 0,-3 2,-2 2,0 1,-1ZM144,101h1v1h-1ZM116,100l0,1 2,2 2,0 1,1 3,-1 2,-3-2,-2-4,0ZM63,96l0,1 1,0ZM239,95l0,1 1,0 0,-1ZM150,93l1,2 1,-1ZM103,92l-2,-1-1,2 2,0ZM65,89l-1,1 1,2 1,-1 3,0 5,3 0,3-3,3 0,1 1,1 4,1 1,1 0,3-4,2-4,-3-4,-1-1,1 0,3 2,2 3,0 3,2 6,1 3,2 1,-1 5,0 0,-2 1,-1-1,-2-4,-2-3,-3-1,0-4,-5 1,-5-3,-3 0,-1-2,-2-2,0-1,-1ZM83,85l2,-1 1,1 0,2-1,1-2,-2ZM247,84l0,1 2,2 3,-2 0,-2-4,0ZM69,81l-1,0 0,3 1,-1ZM171,79l1,1 0,-1ZM133,79l-5,4-1,8 3,-1 2,-2 3,0 3,3 0,1-2,2-4,0 0,1 4,4 2,0 1,-2 6,-5 0,-3 4,-4 0,-2-2,0-1,1-10,0-2,-2 0,-3ZM101,77l1,2-3,3-1,-2ZM207,73h1v1h-1ZM105,71l3,3-2,4-2,1-2,-2 1,-1 0,-3ZM137,74l3,2 4,0 4,2 2,0 3,-2 0,-2-2,-2-4,-1-1,-1-3,1-3,3ZM189,70l0,2 3,4 0,3 2,2 2,0 1,1 0,1-4,4 1,1 2,-2 3,0 2,2 2,5 2,1 1,-1 0,-2-3,-3 0,-3-3,-6 0,-6 2,-4-3,0-1,1-3,0-1,1-2,-1ZM239,68l0,2 1,0 0,-2ZM252,64l-7,0-1,1 1,1 0,2 3,3 0,1-2,2-4,0-4,-2-6,7 0,2-1,1-2,0-2,-3-2,2 0,4-1,1-2,0-4,-5-6,6 0,2 5,-3 3,0 4,4 0,5 2,1 0,-7 2,-2 2,-1 2,0 3,2 2,-1 1,-2 0,-4-2,-2 2,-2 4,0 3,2 2,0 4,-3 0,-2-2,-2 0,-2 3,-4ZM224,64l1,-1 1,1-1,1ZM55,63l-4,4 0,1 3,2 0,11-1,1 0,2 2,0 1,1 4,0 4,-4 0,-1-3,0-5,-5-1,-4 2,-2 2,0 1,1 1,-1 0,-2-2,-1-2,-2 0,-1ZM139,62l-3,0 0,4-1,2 2,0 2,-2ZM75,62l-3,2 0,3 2,0 2,-3ZM223,61l-6,0-4,2 0,3 2,0 3,-3 3,0 1,1-1,2 0,3 1,2-2,2-2,0-1,-1-3,0-1,1 0,1 4,4 1,0 3,-4 2,0 2,-2 1,0 2,-2 2,-4 0,-1-4,-1-1,-2ZM231,59l0,2 1,1 2,-1 3,0 1,1-3,-3ZM108,59l-2,0-4,5-2,0-1,-1-1,1 0,3 1,0 3,3 0,1-2,2-2,0-4,3-1,0-1,1 0,2-2,2-2,0-1,-1 0,-2 2,-2 0,-4-1,0-2,3-5,-1-1,2-2,2-1,0 0,5 3,1 3,3-2,3 0,4 1,2 1,0 3,3 2,5 2,1 1,-1-1,-2 0,-4 2,-2 0,-3-5,0-2,-2 0,-3 1,-1 2,0 1,1 4,0 5,-4 4,0 4,4 2,0 3,-3 0,-2-1,-1 0,-2 1,-1 6,-3 4,0 0,-8-1,-1-2,0-2,3-2,-1-9,0-1,-1 0,-3 5,-4ZM86,58l1,7 2,0-2,-4 1,-1 0,-2ZM130,56l0,3 1,0 0,-3ZM90,54l0,3 1,0 1,-1-1,-2ZM101,53l-1,2 1,2 1,0 1,-1 0,-2ZM97,53l-1,0-2,3 1,2 3,-4ZM109,49l1,1 3,0 1,1 0,5 4,0 3,-3-2,-2-5,0-3,-3ZM58,49l0,1 3,1 3,3 1,0 2,-3-1,-1-3,0-3,-2ZM299,40l0,1 2,0ZM303,36l0,5 2,1 1,-1 0,-2ZM284,36l-1,1 1,2 2,1 2,-2-2,-2Z" fill="#92c5de" stroke="#92c5de" fill-rule="evenodd"/><path d="M102,149l0,2 4,0 1,-1 0,-1ZM60,145l0,2 1,0 1,-1ZM114,144l3,0 1,1 2,0 1,-1 1,1 2,0 4,2 1,-1 4,-1 1,-3-3,0-3,2-2,0-1,-1-3,0-2,-2-1,0-1,1-4,1ZM143,136l0,3 2,1 0,-3ZM74,134l-1,1 1,1ZM137,125l-4,-3-8,0-2,-1 0,2-3,3 0,1-1,1-3,0-3,3 0,1 2,1 4,4 1,0 0,-2 3,-4-3,-1-1,-2 2,-2 1,0 1,-2 3,0 3,2 0,5 2,0ZM122,112l0,2 1,1 1,-2ZM118,111l-1,0-2,2 0,3 1,1-2,4 2,0 1,-1 4,-1 0,-2-2,-2 0,-3ZM78,110l1,-1 1,1-1,1ZM129,107l-1,1 2,2 1,0 1,-1 0,-2ZM86,113l-3,0-2,-3 0,-3-1,-1-1,0 0,1-2,2-8,0 6,4 3,0 1,1 6,0ZM125,99l-2,0-1,-1-2,1 0,3 1,1 2,0 2,-2ZM204,91h1v1h-1ZM83,90l-1,1 0,3 5,4 0,3 2,1 0,-4-5,-5 0,-2ZM249,84h1v1h-1ZM219,84l-2,-1-1,2 2,0ZM200,81l-1,1 0,2 2,1 0,-3ZM148,84l-2,1-6,0-1,-1-1,1-2,0-3,-4-4,3 0,4 6,-1 3,2 1,4-2,2-3,0 1,2 2,1 3,-4 3,-1 0,-4-1,-2 1,-1 4,0ZM60,81l-1,1 0,2 2,-1ZM236,81l-2,-1-3,4-2,0-1,1 8,0ZM101,81l0,2 3,1 4,3 2,-2 0,-2-5,-3-3,0ZM243,75l0,1 3,2 3,-1 0,-2ZM238,76l2,-1-2,0ZM101,74l-4,0-2,2-1,0-2,4-2,2-2,0-2,-2-1,-3-1,-1-2,0 0,1-2,2-2,0 0,4 4,1 2,-2 1,0 4,5 5,0 2,-2 0,-4 1,-2 4,-4ZM216,73l-1,1 1,2 2,0 0,-2ZM141,74l1,2 4,0 1,1 3,0 1,-1 0,-3-2,-1-5,0ZM199,71l-2,0-4,2 0,6 2,0 0,-2 4,-3ZM107,71l2,3-1,1 0,3 4,0 5,-4 3,1-1,-2-3,0-5,-4ZM224,68l0,2 2,0 0,-1ZM99,66l1,1 2,0-1,-2ZM107,61l-1,0 0,1ZM64,52h1v1h-1Z" fill="#4393c3" stroke="#4393c3" fill-rule="evenodd"/><path d="M132,143l-1,0-2,2 2,0ZM118,143h1v1h-1ZM115,130l0,2 1,0 3,3 1,-3-2,-2ZM125,123l3,1 2,2 0,4 1,0 5,-5-4,-3-2,1ZM117,114l-1,1 1,1 0,2 1,0 0,-3ZM73,110l0,1 3,1 0,-2ZM130,108l0,1 1,0 0,-1ZM121,99l0,2 2,1 1,-1 0,-2ZM137,96h1v1h-1ZM130,84l0,3 6,-1 4,3 0,3 2,1 0,-3-1,-2-2,-1 0,-1-4,0-2,-2 0,-1ZM102,82l5,3 2,0 0,-2-2,0-3,-2ZM79,81l0,1 2,0ZM99,75l-2,0-4,4 0,2-1,1-4,1 0,2 1,1 4,0 1,-1 0,-3 5,-6ZM197,73h1v1h-1ZM142,75l8,1 0,-2-2,-1-2,0ZM110,70l-1,1 0,6 4,0 2,-3-2,-2 0,-1Z" fill="#2166ac" stroke="#2166ac" fill-rule="evenodd"/><path d="M130,123l-1,1 2,4 1,0 3,-3-2,-2ZM122,101l2,-1-2,0ZM131,85h1v1h-1ZM92,83l-2,0-1,2 2,1 2,-2ZM110,71l0,5 2,0 1,-1 0,-2-2,-2Z" fill="#053061" stroke="#053061" fill-rule="evenodd"/><path d="M219,123l-6,3-1,2 0,2 1,1 4,0 1,-1 2,0 0,-6ZM213,120l-2,0-2,4 1,0ZM44,117l0,1 2,0 0,-1ZM158,113l-1,1 1,3 2,2 4,2 0,-5-3,-3ZM46,108l0,3 1,1 3,1 2,-2-1,-2-4,0ZM197,107l-2,1 0,2 1,1 1,-1ZM46,101l0,3 1,0 1,-2ZM35,26l1,2 2,0 0,-2Z" fill="#fddbc7" stroke="#fddbc7" fill-rule="evenodd"/></g>
</g>
<use href="#lakes" fill="#c3e1eb" stroke="#4f6f7c" stroke-width="0.3"/>
<use href="#overlay"/>
<text x="146.6" y="78.9" font-size="6.3" font-weight="bold" text-anchor="middle" fill="#1b1b22"><tspan font-style="italic">V. vinifera</tspan></text>
<text x="146.6" y="86.5" font-size="6.3" font-weight="bold" text-anchor="middle" fill="#1b1b22">cultivars</text>
<rect x="0.25" y="0.25" width="166.5" height="92.5" fill="none" stroke="#8a8a8a" stroke-width="0.5"/>
</svg>
<text x="265.40" y="646.30" font-size="5.65" font-weight="bold" text-anchor="middle" fill="#111" >1980-1999</text>
<svg x="350.9" y="648.6" width="167.0" height="93.0" viewBox="0 0 167.0 93.0" overflow="hidden">
<use href="#base"/>
<g clip-path="url(#dataclip)">
<g transform="scale(0.5) translate(0.5,0.5)" stroke-width="0.8" stroke-linejoin="round"><path d="M100,156l-1,-1-1,2ZM126,147l-1,-1-1,1-2,0 0,1 3,0ZM183,142h1v1h-1ZM220,139l0,2 1,0 1,-1ZM244,137l-1,1 2,1ZM213,138l-5,0-2,-4-3,0-2,2 0,2-1,1 0,5-2,1 0,1 2,-2 3,0 3,-4 2,-1 4,0ZM180,134l-3,0-3,2 4,2ZM84,130l2,-2 4,3 8,-1 6,6 0,1-8,4-2,-2-3,-1-2,-3-3,1-2,-2ZM226,128l2,-1 1,1 0,2-2,1-1,-1ZM164,127l-5,5 0,1 1,0 3,-3 3,0 1,1-1,1 0,4 2,0 1,-1 0,-3-1,0-2,-2 1,-1 0,-2ZM140,127l-1,2 1,1 2,0 1,-1-2,-2ZM72,127l2,-2 4,1 2,2 1,3-3,2-3,0ZM58,124l2,0 1,-1 4,0 1,1 2,0 1,-1 2,2 0,2-3,2 0,2 1,0 3,3 0,2-5,4-2,0-3,-5 0,-2 2,-2 0,-1-6,-3-1,-1ZM127,122l1,-1 3,0 1,1 0,2-2,1-2,-1ZM121,119l2,2-2,4-2,2-2,0-1,-1 0,-3 3,-4ZM222,118l1,-1 2,0 1,1 0,2-2,1-2,-2ZM111,117l1,0 2,2 0,2 1,1 0,3-2,2-2,-2 0,-4-1,-1 0,-2ZM206,121l2,-2 0,-2 1,-1 2,0 4,2 5,5 0,2-3,2-4,-2-5,0-2,-2ZM135,114l2,2-1,2-2,0-1,-1 0,-1ZM184,113l1,-1 3,0 2,2 0,2-1,1-2,0-3,-3ZM141,112l1,-1 2,0 1,1-2,2ZM113,110l1,-1 1,1-1,1ZM134,108l1,1-1,3-2,2-1,0-3,4-4,1-2,-2 5,-5-1,-2 1,-1 2,0 1,-1ZM91,108l2,0 3,3 1,0 7,8 0,5-2,4-1,0-2,-2 0,-6-1,0-2,-4-6,-5 0,-2ZM86,108l2,2-2,2 0,2 1,0 2,2-1,2-2,0-3,-3 0,-4ZM41,107l0,1 1,0 0,-1ZM234,105l4,0 1,1-1,6-1,1-1,0-3,-4 0,-3ZM182,105l2,3-1,1 0,2-1,1-5,0-2,-2 5,-5ZM77,105l1,0 2,2 0,2-2,2-2,0-2,-2 0,-2ZM258,107l3,-3 2,0 4,3 0,2-3,2-4,0ZM218,103l2,2-1,1 1,4-2,2-2,0-2,-2 0,-1 3,-3 0,-2ZM175,102l1,2-2,2-1,0-1,-2 2,-2ZM105,102l1,1 0,2-2,2-1,0-1,-2 1,-2ZM118,102l1,-1 2,1-1,1ZM159,101l-1,3-7,5-2,-2 4,-3 0,-2 3,-3ZM65,99l1,0 4,4 0,3 1,1 0,6 1,1 0,2-1,1-3,0-2,-2-1,-2 0,-6-1,0-3,-3 0,-2ZM205,98l1,1-1,1 0,5-2,2-2,0-1,-1 0,-2 2,-4 2,-2ZM160,98l1,2-2,1-1,-1ZM98,96l2,3-2,2-1,3-1,1-2,0-1,-1 0,-3 3,-5ZM252,95l1,-1 1,2-1,1ZM249,95l0,1-5,4-3,0-1,-1 0,-2 1,-1 4,0 2,-2ZM279,92l2,2-1,2-2,0-1,-1 0,-1ZM189,92l2,1 3,-1 1,1 0,3-1,1 0,6 1,1 0,3-1,1-2,0-2,-2-1,0-2,-2 0,-3-3,-3 0,-1ZM132,91l1,1 2,0 2,2-2,4-2,0-3,-3 0,-2ZM235,91l2,-1 1,2-2,1ZM216,91l1,-1 4,0 1,1 1,-1 2,0 1,1 0,4 3,3 2,0 1,1 0,2-2,2-3,1-6,-5 0,-1 2,-2 0,-2-3,0-1,1-3,-3ZM209,90l2,1 2,5 1,0 2,2-1,2-2,0-6,-7 0,-1ZM161,90l2,2 0,1-4,5-3,-3 0,-2 3,-3ZM68,91l2,-1 1,2-2,1ZM76,90l0,-1 2,-2 2,0 2,2-2,2-3,0ZM50,88l0,3 1,0 1,-1ZM241,86l2,0 1,1 0,2-2,2-1,0-2,-2 0,-1ZM225,89l3,-3 2,0 3,3-2,2-3,0ZM320,88l-4,-3-3,0-3,3-2,0-2,-2-1,1 1,4 3,0 1,-1 2,1 7,0 1,-1ZM115,85l-2,0-1,1 0,3 1,1 2,-3ZM139,82l2,2-1,3-4,3-3,-1-1,-1 0,-2 5,-4ZM221,77l1,0 2,3 0,1-2,2-2,0-1,-1 0,-3ZM108,77l3,1 2,2 4,2 3,0 2,2-1,2 0,4 1,1 4,0 3,2 0,1-4,5-2,0-2,-3 0,-3-1,0-2,3-1,0-2,-2-2,0-5,4-4,0-3,-3 0,-3 1,-1 4,-1 0,-3-2,-3 1,-1 2,0 0,-5ZM196,76l2,0 2,2 0,2-2,2-3,0-2,-3ZM208,75l6,1 1,1 0,1-3,3 1,2 0,3-1,1-2,0-3,-3 0,-2 1,-1-1,-5ZM235,74l1,1 0,3-2,2-1,0-2,-3 3,-3ZM250,74l1,-1 2,2-2,1ZM275,74l3,-2 5,3 2,-1 2,2 0,1-1,1-4,-1-4,2-3,-3ZM117,78l0,-3 2,-3 4,1 2,3-3,3-4,0ZM212,71l0,-4 1,-1 2,0 2,3-3,3ZM64,72l2,2 1,0 0,-2 2,-2 2,-1 6,0 4,5 2,0 1,-1 0,-3 2,-3 3,-1 2,2-3,6 1,1 0,2 1,0 3,3 0,3-2,2 3,3 0,2-2,2-4,1-2,2 3,3 0,2-3,3-3,-3 0,-3 1,-1 0,-4 2,-2 2,-4-1,-1-4,0-2,-2 2,-5-1,-1-1,2-3,2-1,0-4,-4-3,1-2,2-3,0-3,-3 0,-3ZM255,65l3,0 6,3 0,2-1,1 0,3 1,2 4,0 4,-2 1,1 0,4 7,0 1,1 0,2-2,3-2,-1-3,1 0,1 3,3-1,2-4,-1-4,-3-4,0-5,-4-4,-1-2,-2 0,-3 1,-1 3,0 0,-3 1,-1 0,-1-4,-3 0,-2ZM117,64l-1,2 0,3-1,1-6,0-1,1-2,-1 3,-6 4,0 1,-1 2,0ZM92,66l2,-2 4,-1 9,8 0,2-2,2-5,-5-1,0-2,2-2,0-3,-3ZM293,62l1,2-3,4-2,-2 0,-2 2,-2ZM70,59l1,-1 2,0 3,2 2,0 2,1 2,2 0,1-1,1-3,0-1,-1-5,0-2,-2ZM45,58l-1,2 0,3-2,3 4,4 6,0 2,-4-3,-4 0,-4ZM302,56l1,0 3,3 0,4 1,2-2,2-3,0-4,-3 0,-2 2,-2 0,-2ZM57,58l-1,-1-1,1ZM239,55l4,3 2,4 1,0 2,-2 2,0 1,1 0,3-2,2-2,4 0,2-2,2-3,0-2,-2 0,-2 1,-1-1,-5-1,0-3,3-2,0-1,-1 0,-5 1,-2ZM89,56h1v1h-1ZM317,55l0,2 2,0 0,-2ZM293,56l2,-2 2,0 1,-1 2,0 1,1 0,2-1,1-6,0ZM219,54l3,0 2,2 4,-4 3,0 1,1 0,1-4,4 0,3 4,5-1,1 0,7-2,2-2,0-4,-5-4,0-1,-1 1,-2 3,0 2,-2 0,-4-1,-2-2,-2-2,0-1,-1 0,-2ZM254,52l1,-1 2,1-1,1ZM260,48l1,-1 3,0 3,2-1,4-1,1-3,-1-2,-2ZM26,48l-1,1 0,3 1,1 1,-1 0,-3ZM234,46l3,0 1,1 0,3-2,3-1,0-2,-3 0,-3ZM108,49l-3,-2-2,1-1,2 2,1ZM93,46l-1,2 2,1 0,-3ZM249,43l1,-1 4,0 1,1 1,4-2,2ZM28,45l2,0 5,4 0,2-2,3 1,2 7,0 1,-1 0,-7-1,-1-4,0-2,-2 0,-1-2,-1-2,0ZM236,42l2,-2 1,0 3,3 0,1-1,1-3,0ZM269,38l2,0 4,4 0,9 2,2 1,0 2,2 2,0 3,-3 3,0 3,2 0,2-7,7-1,2-3,-1-3,-3 0,-1-4,0-1,1-2,-2 0,-4 2,-2 0,-2-2,-3 0,-3-3,-4 0,-1ZM243,41l2,-3 2,0 3,2 0,1-3,2-2,0ZM257,34h1v1h-1ZM324,66l-2,-3-2,0-3,3-2,-2 0,-4-2,-2 0,-4-3,-1-2,-4-2,2-3,0-2,-2 0,-2-5,0-3,-3 0,-3-1,-1-3,1-3,3 0,3-2,2-1,0-2,-2 0,-1-4,0-2,-2 0,-1 2,-2 2,0 4,2 2,-2 0,-1-7,0-2,-4-4,-1-1,-1-5,0-2,-1-1,1 0,3-2,2-4,0-1,2-1,0-2,-2-1,-2 0,-3-1,-1-4,0-3,3-3,0-1,-1-2,1-8,-1 0,2-3,3-1,0-1,2-2,1-1,-1-5,1 0,2 2,2-3,2-2,-1-3,0-2,1-6,6-1,0-1,2 3,4-1,2 0,3-2,1-2,-1-2,-3-2,0-2,2 0,2 3,3 0,3-2,2-7,0-3,3-2,-2 0,-2-3,0-2,2-1,0 2,3-3,4-3,0-5,-3-3,5-3,0-1,-1-1,-5-3,-1-3,3 0,1 1,0 2,2 0,1-2,2 1,5-3,3-3,-3 0,-1-4,-2 2,-2 4,0-1,-1 0,-4-4,-3-4,1-4,-5-4,-1-3,-2 0,-2 1,-1 4,-1 0,-2-2,-2 0,-2-1,-1-5,1 0,5-1,1-3,0-4,-4 0,-2 4,-3-1,-4-5,0-2,-2 0,-1-3,-2-2,0-2,2-2,4 0,1 1,0 2,2 0,2-1,1-1,0-4,-4-3,2-2,0-1,-1-5,0-6,3-2,-3 0,-2-2,-1-2,0-3,-2-5,0-1,1-4,-1 0,3 2,3-1,6-1,1-2,0-2,-4-3,-2-1,2 1,2 1,0 2,2 0,2-2,2-4,2-2,2 0,2-1,1 0,2 2,0 1,-1 4,0 1,1 0,3-1,1 1,4-2,2-1,-1-3,0-2,2-1,7-6,5-1,6 2,2 1,0 3,3 0,1-2,3-2,-1-3,0 0,2 3,0 1,2 4,4 0,3-2,2 0,2 3,3 1,0 6,7 4,0 1,2 2,1 1,-1 0,-2 2,-2 6,1 5,5-1,3 2,1 0,2 1,1 2,0 1,-1 7,0 3,-4 3,-1 3,-3 1,-2 0,-4 3,-2 3,2 2,4 0,7-1,2-2,2-1,0 0,1 6,0 2,-2 0,-1-3,-3 0,-3 2,-2 0,-1-3,-4 3,-3 10,0 2,2 0,2 1,0 2,2 2,0 2,-2 0,-3-2,-3-2,0-2,-2 0,-3 2,-1 3,4 0,-4-1,-1 3,-3 11,0 1,-1 4,-1 2,-2 1,1-1,2 1,2 1,-1 0,-2 2,-2 3,2 6,0 1,-2-3,-1-2,-4-4,0-1,-1-2,0-1,-1 0,-3 1,-1 7,0 6,-3 5,4 0,2-2,3 1,5 3,0 2,2 0,3-2,4 1,0 3,-4 6,1 2,2-1,1-3,0-2,2 0,3 2,0 1,1 4,0 3,-3 0,-3 2,-2 4,0 1,-1-1,-4-2,-1-3,2-3,0-2,-2 0,-1 3,-3 3,0 3,-2 1,1 3,0 2,2 0,2-1,1 0,5 1,1 2,0 4,4 0,3 1,1 2,-1 4,0 1,1 2,0 3,3 4,-2 2,0 3,3 1,0 2,-2 0,-4-3,-3 0,-2 2,-2 1,0 2,2 3,0 3,-3 1,-4-2,-2 1,-3 3,-3 1,0 0,-4-1,-1 2,-2 4,4 0,2 1,1 0,2-4,3 0,3 1,1 2,-1 8,-1 1,-1 0,-1-2,-1 0,-2 1,-1 9,0 3,-3 0,-4-3,-3 0,-2 1,-1 5,0 2,2 0,1-3,3 2,5 3,0 2,-1 0,-1 2,-2 2,1 7,0 1,-1 0,-5-5,1-4,-4 0,-2 1,-1 3,0 1,1 5,1 1,1 0,2 2,0 1,-1 6,1-1,-3-2,0-1,-1-4,0-4,-3 0,-2 2,-4-5,-4 2,-2 3,0 5,4 2,-2 0,-2-1,-1 0,-4 2,-2 1,0 3,4 4,-2 1,1 2,-2 2,0 2,2 1,3 2,1 3,-2-1,-6-2,-2 4,-2ZM45,29l2,0 1,1 0,5 2,3 0,2-1,1-3,0-4,-7 1,-3ZM66,25l2,-1 2,2 5,2 1,2-1,1-3,0-3,2-3,-3ZM48,25l4,-3 4,-1 3,3 0,3-1,1 0,5 4,0 3,3-2,2-8,0-2,-2 0,-2-2,-2 1,-4-3,0-1,-1ZM33,17l-1,2 1,1 0,2 1,2 3,2 3,-1 3,-5 1,0 3,3-2,5-2,2-2,0-1,1 1,4-1,1-1,5 9,9 3,0 2,1 0,-4 4,-3 1,0 2,2 0,4 3,2 1,-1 0,-2 2,-2 13,1 1,1 5,0 4,3 1,-1-2,-2 0,-3-2,-2 1,-4-2,-1 0,4-2,2-4,0-5,-3-2,0-2,-2 0,-3-2,0-1,-1 0,-1 2,-2 1,2 3,0 1,1 0,3 2,0-1,-4 2,-2 2,0 3,3 1,0 0,-2 2,-2 1,0 1,-2 0,-6-3,-2 0,4-2,3-2,0-3,-2 1,-1 0,-3-4,-5 0,-3-4,-3 0,-2-1,-1-2,0-1,-1-4,1 0,1 5,5 1,3-2,2-3,0-2,-2-8,0-2,-1-2,-2 0,-1-1,0-6,6-3,0Z" fill="#d1e5f0" stroke="#d1e5f0" fill-rule="evenodd"/><path d="M203,137h1v1h-1ZM129,134l0,3 2,2 1,0 1,-1-1,-3-1,-1ZM73,135l0,2 2,2 4,1 11,10 4,1 2,-2 0,-2-4,-1-1,-1 0,-1 2,-2 0,-2-1,-1-7,-1-2,-3 0,-2-3,0-2,2ZM103,132l0,1 1,0 0,-1ZM184,131h1v1h-1ZM190,129l-1,1 1,0ZM70,129l0,1 2,1 0,-2ZM56,129l0,3 3,1 1,-1 0,-3ZM209,126l0,1 2,2 4,1 1,1 2,0 4,-3 0,-1-2,0-4,2-3,-3ZM203,122l1,2 0,-2ZM198,124l-2,-3-4,3-2,0 1,1 6,0ZM204,115l0,2 2,1 0,-2ZM161,115l-1,2 2,2 0,-4ZM173,114l0,2 7,6 7,1-2,-4 0,-2-3,-4-6,0-1,-1ZM105,110l1,-1 2,2 0,1-2,1-1,-1ZM72,110l0,2 5,3 0,1-2,2-5,1 0,2 2,2 4,0 2,1 4,5 4,-2 4,2 4,0 2,-2-1,-4 2,-1 0,-1-2,-4-4,-4-3,-1 0,1 3,4-3,3-2,0 0,2-2,2-1,0-4,-2 4,-4-2,-5-4,0-4,-3ZM154,109l-1,0-1,2 2,0ZM111,107l1,-1 2,0 2,4 2,1 2,2 0,1-1,1-3,0-2,-2-1,0-2,-2ZM233,104l6,0 3,3-3,3 0,7-1,1-2,0-1,-1 0,-3-3,-5 0,-4ZM179,103l-4,4 3,-1ZM72,103l0,2 2,0 0,-1ZM222,102l0,1 2,0ZM280,97l-2,3 0,3 2,0 3,2 3,0 0,-1-3,-3-1,-3ZM206,96l2,2-2,3 0,4-3,3-2,0-2,-2 0,-4 5,-6ZM169,96l1,0 2,2-2,2-2,0-1,-1 0,-1ZM154,96l0,1 1,0ZM101,100l-3,3 0,2-2,4 3,0 2,2 0,4 1,0 3,3 0,8 1,0 2,2-2,2 0,2 5,0 1,1 0,3 4,-1 1,-1 2,1 3,0 1,-1 4,-1 1,-2 0,-5-4,-3-2,1 0,2-2,2-8,0-2,-2 0,-9 1,-1 2,0 3,6 4,-5 0,-1 1,-1 2,0 2,-2 0,-2-1,-1 1,-2 2,-1 1,1 4,-1 0,-3-2,-2 1,-2-1,-4-2,0-1,1 0,2-5,5-2,1-2,0-2,-2 0,-1 2,-2 0,-2-3,-2-3,0-3,2 0,4-4,8-3,-1-2,-2 2,-4 0,-3ZM238,98l0,-2 1,-1 6,0 3,-3 2,1 4,0 5,4-1,1-3,0-1,1-5,-1-1,1-2,0-2,2-2,0ZM227,95l2,2 1,-2 2,-2 1,0-6,-1ZM59,90l-1,0-2,4 0,3-1,2-5,4-1,4-1,1 1,2 2,1 3,0 1,-1 4,3-1,2-3,0-1,1 0,2-1,1 0,2 1,1 2,0 1,-1 2,0 1,1 0,-1-2,-1 0,-2 2,-2 3,0 1,-1 0,-3-3,-3 0,-2-1,-1-1,0-4,3-2,-1-2,-3 3,-2 4,0 1,-1 0,-7 2,-2ZM203,89l2,-1 2,2-1,1-2,0ZM177,83l0,2 4,0 0,-3-3,0ZM146,82l-3,0-1,1-1,4-4,4-2,0 1,0 2,3-1,2 1,4-4,2 1,2 0,9 3,2 0,2-2,2-2,0-2,-2-2,0-1,1 0,1 5,4 1,-1 5,0 4,-3 1,1 3,0 4,-3-1,-2-3,-3-1,0-2,2 0,2 1,1-1,2-5,-6 0,-2 2,-2 6,1 1,-2 0,-3 3,-2 0,-2-3,0-2,1-3,-6 1,-2 2,0 1,2 1,0 0,-3-1,-1-3,0-2,-2 1,-3 4,-2 0,-1ZM63,84l1,2 0,6-1,1 2,1 0,-3 1,-2 2,-2 1,0 4,4 0,2-2,2-2,0 1,2-1,3 2,1 0,-3 1,-1 2,0 8,9 0,2 2,0 1,-1 5,0 2,-1 0,-4 1,-1 1,-5 3,-2 2,0 0,-1-2,-2-2,0-3,2-3,0-1,1 0,2 1,1 0,5-2,2-1,0-3,-2-2,-4 1,-6 2,-2 1,0 1,-2 0,-2-1,-1-3,1 0,2 1,1 0,2-1,1-6,0-1,-1 0,-3 3,-2 2,0 0,-4-6,0-3,3-2,-1 0,-2-5,0ZM247,80l1,-1 2,0 1,1 0,2-1,1-2,0-1,-1ZM72,79h1v1h-1ZM138,78l-2,0-4,3-2,0-4,-2-3,0-1,2 4,4 0,2-2,2 0,1 5,0-1,-3 4,-3 1,0 3,-3 1,0 1,-1ZM58,76l0,1 1,0 0,-1ZM295,72l1,1 0,2-2,2-1,0-1,-1 0,-2ZM212,89l0,3 2,3 4,1 1,1 2,0 0,-2-1,1-2,0-2,-2 0,-4 1,-1 3,0 2,1 2,-1 3,-4 2,0 1,-1 1,0 3,3 4,-1-1,-3 2,-3 2,0 1,1 1,4 2,2 0,2-2,2-3,1-2,3-4,0-1,2 0,5-2,2-2,0-3,4-4,1-1,1 0,5 3,0 1,-1 3,3 0,5 1,1 0,2 3,-1 3,-4 2,4 2,-1 1,-2-1,-4 5,-7-1,-3 3,-3 3,0 2,2 1,4 1,1 0,5-2,2 2,0 5,-6-1,-6 4,-3 2,0 2,2 4,2 0,-1-2,-2 0,-3 3,-3 4,1 2,-4 0,-2-1,-1-2,0-6,-5-5,0-2,-2-4,-1-2,-2-1,0-2,-2 0,-2-3,-3 0,-1-2,0-1,1-5,-1-1,2-5,5-2,0-2,-4-3,0-2,-1-2,-3-3,0 0,1 4,3 1,4-3,3-2,0-2,-2 0,-3-2,0-2,2 1,4ZM216,74l2,-1-2,0ZM128,73l0,1 4,1 1,1 0,-1-1,0-2,-2ZM91,72l-1,1 0,3 3,3 2,0 3,-4 1,0 2,2 0,1-3,2-1,4-1,1-2,-1 0,2 3,-1 7,5 1,-2-2,-2-1,-3 4,-2 0,-3-1,-1-3,0-1,-1-1,-4-2,1ZM111,71l-2,2 0,3 1,0 3,3 2,0 2,-8ZM266,70l-2,4 1,1 3,0 1,-1 0,-2-2,-2ZM251,66l-2,4 4,1 1,1 0,2 2,0 0,-3-1,0-2,-2-1,-3ZM240,67l-1,-1-4,4-3,-1 0,3 2,0 1,-1 4,0ZM304,69l4,2 0,2-2,2 0,2 1,-1 3,0 1,-1 4,0 2,2 0,1 2,0 1,-1 0,-2-4,-3 3,-3 2,0 0,-2-2,1-3,0-2,-1-1,-2-4,0 1,1 3,0 1,1-2,2-3,1-2,-2-2,0ZM118,66l0,1 3,3 0,1 2,1 2,-1 0,-2-3,-1-3,-3ZM69,67l1,2 2,-1 7,0 1,1 0,2 1,1 2,0 0,-3-1,-1-2,0-1,-2-2,-1-6,0ZM296,64l-2,1-1,4-1,1-3,0-2,-2-1,1-2,-1-8,0-1,1 1,2 3,0 4,2 4,0 2,2-1,5-6,3 0,5-1,1 0,2 2,3 3,0 2,1 1,-1 0,-2 2,-2 0,-2-2,-1-2,-3 0,-1 2,-2 3,0 4,2 2,-1 0,-7 4,-3-1,0-2,-2 1,-2ZM63,64h1v1h-1ZM275,62h1v1h-1ZM289,61l1,-1 2,0-2,0ZM91,61l0,2 2,0 1,-1 5,0 2,2 4,2 2,-2 0,-1-3,-3-2,1-3,0-1,-1ZM46,60l0,1 1,0 0,-1ZM297,60l2,-1-2,0ZM231,58l-1,2 1,0ZM156,87l0,3 6,-1 2,2 0,2-2,3 1,4-6,6 1,1 8,-1 3,-3 2,0 5,-3 2,0 1,-1-1,-2 0,-2 1,-1 4,2 5,-4 4,0 3,-3 3,-1 1,2-3,3 0,3-1,1 0,7 1,1-1,3-1,1-2,0-4,-2-2,-2 0,-4-3,-2-1,2 0,3 3,3 0,3 3,0 3,2 2,-2 1,0 5,3 3,-2 3,0 2,2 4,2 2,0 2,2 3,1 3,3 0,2 2,1 0,-2-2,-2 0,-2-2,-2-4,-2-3,-3 0,-4 3,-3 0,-2-3,-1-1,-2-3,-2-2,-4 0,-2 2,-2 2,0 0,-1-5,-4 0,-1 2,-2-1,-6 1,-1 5,0-2,-3 1,-3-2,-3 0,-6-3,-2-2,1 1,1 0,6-1,1 0,8-1,1-2,0-1,-1 0,-3 1,-1-2,-2-1,1 0,4-1,1 4,3 0,3-3,3-3,0-4,-4-2,0-3,3 0,1-3,3 0,1-6,5-6,0-3,-2 0,-2 2,-2 1,0 4,3 1,-1-1,-2-1,0-4,-3-2,0-4,4-2,0-3,-2-1,0ZM233,56h1v1h-1ZM73,56l0,1 1,0 2,2 5,1 4,4 1,0-1,-3-4,-4-4,-2-3,0ZM304,54l0,1 1,0ZM110,53l-1,1 0,3 3,3 0,2 5,-1 0,-2-4,-4 0,-2ZM212,50l-1,1 0,4 1,1 1,4 5,3 0,3 4,0 1,-1-1,-4-1,-1-2,0-2,-2-1,-3-1,0-3,-3ZM300,50l-2,-1-2,2 0,1 3,0ZM39,49l-2,0 0,3 1,0 2,-2ZM277,47l-1,1 0,2 2,2 2,0 0,-4-1,-1ZM239,48l1,3 3,0 1,1-1,2 0,3 2,3 2,0 2,-2 1,0 2,2 0,4 8,0 1,1 2,0 4,2 4,-2 0,-2-4,0-2,-2 1,-4-5,-2-1,-2-1,0-2,2-2,0-3,4-1,-1 1,-9-2,-2-3,4-2,-4-5,0ZM259,46l-2,0 0,2 1,1 1,-1ZM85,46l-2,1 2,0ZM63,45l-2,1 1,2 1,-1ZM291,44l-2,1 0,4-1,1-2,0 0,1 2,0 1,-2 3,-1ZM230,45l-2,-1-2,1-5,0 1,1 0,3-1,1-2,0-1,2 4,0 3,-3 2,1 3,0ZM51,44l3,0 3,-3-1,-1-4,0-1,1ZM65,40l0,5 1,1 11,0-1,-2-5,0-3,-5ZM43,39h1v1h-1ZM60,30h1v1h-1ZM36,21l1,2 2,0-1,-2ZM59,20l2,5 2,0 1,-1-1,-2ZM71,19l-2,2 0,2 2,2 4,1 2,-2-1,-2-1,0-3,-3ZM47,17l-1,1 0,2 2,2 3,0 1,-1 0,-2-1,0-2,-2Z" fill="#92c5de" stroke="#92c5de" fill-rule="evenodd"/><path d="M91,148l1,1 2,0 0,-1ZM91,140l-4,1 1,1 0,3 1,0 0,-2 2,-1ZM78,137l0,1 1,0 3,3 3,0 0,-1-4,-5-2,2ZM127,128l-2,-2-2,0 0,1-2,2-10,0-1,-1-1,1 0,2 3,0 2,3 9,0 4,-3ZM195,123l0,1 1,0 0,-1ZM94,126l-3,-4-1,0 0,2-1,1-8,0 1,2 6,-1 3,2 1,0ZM115,116l0,4 2,0 1,-4ZM92,116l0,3 1,0 1,-2ZM147,115l2,1 0,-1ZM81,115l-2,0-3,4-2,0-2,1 0,1 6,0 2,-1 2,-3ZM174,115l2,2 1,0 2,2 0,1 3,0 1,-2-1,-4-4,0-1,1-2,-1ZM113,114l-3,0-4,2 0,8 3,1 1,-2-1,-2 0,-5 1,-1 3,0ZM229,114l1,2 3,0 0,-2-1,-1-2,0ZM103,112l-1,1 1,1ZM223,111l0,1 1,0 0,-1ZM58,108l0,2 2,2 0,1 1,1 2,0 0,-1-3,-3 0,-1ZM50,108l0,1 2,1 0,-2ZM109,106l-1,1 1,2ZM230,105h1v1h-1ZM84,105l0,1 2,0 0,-1ZM129,103l-4,0-4,3-4,0-1,2 1,2 3,1 2,2 0,1 1,0 1,-1-1,-4 2,-2 5,0 1,-1 0,-1ZM151,102h1v1h-1ZM184,101l0,3 1,0 0,-3ZM167,102l-1,-1-2,0-2,1-2,2 0,1 3,0 1,1 3,-2ZM279,101l1,1 2,0-1,-2ZM55,100l0,2 2,0 0,-2ZM209,99l-2,2 0,2 2,2-4,2-2,2 2,1 3,0 2,2-1,-2 2,-3 0,-3 1,-1ZM273,97h1v1h-1ZM128,97l0,2 1,0 1,-1ZM112,97l-1,1 0,3 2,2 1,0 2,-2 0,-3-1,-1ZM234,98l1,1 0,2 2,2 2,0 3,2 1,0 2,-2 5,0 1,-1 0,-2-1,-1-2,0-4,3-2,0-4,-3-1,-3-2,0ZM228,93h1v1h-1ZM77,93l1,6 1,2 2,2 1,0 0,-2-3,-4 1,-4ZM96,92l-1,0-2,2-4,0 0,2 1,1 0,5 2,-1 1,-2 0,-4 2,-1ZM164,94l0,3 2,0 3,-2 3,1 1,1 0,2-2,2 6,-3 0,-2-3,-3-2,0-4,-2-2,0ZM207,87l0,1 1,0 0,-1ZM157,87l0,2 2,0 1,-1 0,-1ZM143,86l-3,3 0,2-2,4 0,2 3,3 0,1-1,1-4,0 0,4 1,1 0,2-2,3 2,1 2,2 0,1-3,4-3,0-2,-1 3,2 5,0 2,-1 1,-2 0,-2-3,-2 0,-6 1,-1 4,0 3,2 1,-1 0,-1-4,-3 0,-6-2,-3 0,-5 1,-1ZM85,86l-2,1 1,2 1,-1ZM65,84h1v1h-1ZM284,83l-1,1 0,5 2,3 3,0 2,-2 0,-1-4,-4 0,-2ZM75,84l0,1 4,0-1,-2-2,0ZM127,82l0,2 1,1 3,-1 0,-2ZM237,80h1v1h-1ZM103,79l0,1 2,0 0,-1ZM290,78l0,2 6,1 0,-2ZM230,79l-1,-1-3,0-1,2 0,3-4,2-2,0-2,-3 0,-2-1,0-1,1 1,5-3,4 0,3 2,1 0,-5 1,-1 2,0 1,1 4,0 4,-5 2,0 2,-2ZM204,76l-1,0 0,3-6,5-2,0-3,-3-3,0-2,2 0,2-5,5-2,1 0,2 1,1 4,0 3,-3 3,0 2,-3 2,0 2,-2 2,0 1,1 1,3-4,3 0,6-1,1 0,10 1,1 2,0 1,-1-3,-9 4,-3 0,-2 2,-2 3,1-1,-3-2,0-2,-2 3,-3 0,-4 2,-2 0,-2-2,-2ZM241,75l-1,2 3,3 0,2 3,4 0,4-2,2-2,0-1,2 1,1 2,0 3,-4 3,0 1,1 3,0 2,2 2,0 2,2 0,2-1,1-3,0-2,2 0,2-1,1 0,6 2,3 2,-2-1,-2 0,-3 2,-2 4,-2 4,2 0,-2 2,-3 0,-2-3,-3 0,-1 1,-1 4,0 0,-1-3,-3-6,0 0,2-1,1-2,-1-3,0-1,-1 0,-5-1,-1-5,1-2,-2 0,-2 2,-3-4,-2ZM111,74l1,2 2,0-1,0-1,-2ZM266,74l2,-1-2,0ZM92,73l-1,1 0,2 2,2 1,0 1,-1 0,-3-1,-1ZM284,71l2,1 0,-1ZM315,69l-1,1-4,1-1,3 5,0 1,-1ZM71,67h1v1h-1ZM295,66l-1,1 1,2 2,0 1,-2-1,-1ZM75,66l0,1 2,0 0,-1ZM207,65l-1,0 0,8-1,1 1,0 1,-1 0,-2 2,-1 0,-3ZM220,62l0,2 1,0ZM103,62l0,1 2,0 0,-1ZM262,58l-2,2 0,1 4,3-1,-2 0,-4ZM253,60l0,2 2,1 3,0 0,-2-2,-3-2,2ZM76,57h1v1h-1ZM214,56l0,2 1,1 1,-1-1,-2ZM111,54l-1,2 2,1 0,-2ZM251,51l-1,0-4,3 0,2 1,1 1,0 2,-2 0,-3ZM278,48l-1,1 1,1ZM227,47h1v1h-1ZM67,42l0,2 2,1 0,-2ZM70,22l1,2 3,0 0,-1-2,-2Z" fill="#4393c3" stroke="#4393c3" fill-rule="evenodd"/><path d="M126,128l-2,-1-3,4-1,-1-5,0-1,1 0,2 4,0 1,1 5,-1 2,-2ZM116,117l0,2 1,-1ZM108,117l-2,2 1,4 2,0 0,-4ZM139,116l0,3 1,0 1,-2ZM81,117l-2,-1-1,3 1,0ZM181,115l-2,0 0,3 1,1 2,-2ZM138,111l-1,-1-1,2 2,0ZM255,109h1v1h-1ZM197,108l0,1 1,0 0,-1ZM130,105l-2,-1-3,0-4,3-3,0-1,1 4,3 4,-5 5,0ZM241,103h1v1h-1ZM165,103l-2,0-1,1 2,1ZM137,103l0,2 1,0 0,-2ZM208,101l0,1 1,0 0,-1ZM250,101l-2,-1-1,2 2,0ZM113,99l-1,1 2,1 1,-1ZM236,98h1v1h-1ZM267,97l-1,0-2,-2-3,0-1,4-1,1-3,0-1,1 0,3 2,0 3,-2 5,0 2,-3ZM140,95l-1,1 4,4 0,-2ZM92,95l-2,0 1,2 0,3 1,-1ZM244,93l-1,0 0,1ZM199,93l-1,2 1,2 1,0 0,-4ZM165,95l3,0 2,-1 4,2 0,-2-2,-1-5,0ZM255,92l1,1 3,0-2,-2ZM263,89l0,2 5,0 0,-1-2,-2ZM187,88l-2,0-2,2-1,0-1,2 3,2 2,-1 0,-1 2,-2ZM285,85l0,3 2,2 1,0 0,-2-1,0ZM247,85l0,4 3,2 2,0 1,-1 0,-4-1,-1ZM224,87l0,-2-7,1 2,2 4,0ZM189,82l0,4 2,1 4,0 0,-2-1,-1-1,0-2,-2ZM244,81l1,2 0,-2ZM204,80l-5,3 0,2 2,2 2,0 0,-5ZM227,79l-1,1 0,3 3,0 1,-2-1,-2ZM242,76l0,1 2,0ZM92,75l0,1 2,1 0,-2ZM312,72h1v1h-1ZM296,67h1v1h-1Z" fill="#2166ac" stroke="#2166ac" fill-rule="evenodd"/><path d="M126,130l-1,-2-3,4-2,-1-4,0-1,1 2,1 5,0ZM107,119l0,2 1,1 0,-3ZM119,108l0,1 2,0ZM266,98l-2,-2-1,0-4,5-2,0-1,1 1,1 3,-2 5,0ZM264,90l3,0-1,-1ZM187,90l-2,-1-3,3 1,1 2,0ZM249,86l-1,1 0,2 3,1 1,-1 0,-2-1,-1ZM220,87l1,1 2,-1 0,-1-2,0ZM190,84l3,2 0,-1ZM200,83l0,2 2,1 0,-3ZM227,80l0,2 1,0 1,-1Z" fill="#053061" stroke="#053061" fill-rule="evenodd"/><path d="M27,26l-2,0-2,2 0,2 2,0Z" fill="#fddbc7" stroke="#fddbc7" fill-rule="evenodd"/></g>
</g>
<use href="#lakes" fill="#c3e1eb" stroke="#4f6f7c" stroke-width="0.3"/>
<use href="#overlay"/>
<text x="146.6" y="78.9" font-size="6.3" font-weight="bold" text-anchor="middle" fill="#1b1b22"><tspan font-style="italic">V. vinifera</tspan></text>
<text x="146.6" y="86.5" font-size="6.3" font-weight="bold" text-anchor="middle" fill="#1b1b22">cultivars</text>
<rect x="0.25" y="0.25" width="166.5" height="92.5" fill="none" stroke="#8a8a8a" stroke-width="0.5"/>
</svg>
<text x="434.40" y="646.30" font-size="5.65" font-weight="bold" text-anchor="middle" fill="#111" >2000-2024</text>
<svg x="12.9" y="755.4" width="167.0" height="93.0" viewBox="0 0 167.0 93.0" overflow="hidden">
<use href="#base"/>
<g clip-path="url(#dataclip)">
</g>
<use href="#lakes" fill="#c3e1eb" stroke="#4f6f7c" stroke-width="0.3"/>
<use href="#overlay"/>
<text x="146.6" y="78.9" font-size="6.3" font-weight="bold" text-anchor="middle" fill="#1b1b22"><tspan font-style="italic">V. hybrid</tspan></text>
<text x="146.6" y="86.5" font-size="6.3" font-weight="bold" text-anchor="middle" fill="#1b1b22">cultivars</text>
<rect x="0.25" y="0.25" width="166.5" height="92.5" fill="none" stroke="#8a8a8a" stroke-width="0.5"/>
</svg>
<text x="96.40" y="753.10" font-size="5.65" font-weight="bold" text-anchor="middle" fill="#111" >1960-1979</text>
<svg x="181.9" y="755.4" width="167.0" height="93.0" viewBox="0 0 167.0 93.0" overflow="hidden">
<use href="#base"/>
<g clip-path="url(#dataclip)">
<g transform="scale(0.5) translate(0.5,0.5)" stroke-width="0.8" stroke-linejoin="round"><path d="M109,145l1,-1 2,0 1,1 4,0 2,2-1,1 0,2-1,1-2,0-4,-2-2,-2ZM81,138l0,2 2,1 1,-1 0,-2ZM111,135l2,-1 1,2-1,1ZM91,120l2,0 1,1 0,5 2,2 0,2-1,1-2,0-1,-2-4,-3 0,-3ZM110,117l2,-1 2,2-1,1-2,0ZM109,106l3,3 0,3-2,2-3,0-1,9-4,4-1,-1 0,-3 3,-3-1,-4 2,-2 0,-4-1,-1 3,-3ZM125,105l1,-1 1,1-1,1ZM96,93l2,2 0,4 1,1 4,0 1,1 0,3-1,1-3,0-1,-1-2,0-2,-2 0,-1-4,1-2,2-1,4 2,2 2,0 3,-2 2,2-1,2 1,4-4,3-3,-3 0,-1-3,-3-1,0 1,4-1,2-2,1-2,-2 0,-2-1,-1 0,-5-2,-2-5,-2-2,-2 0,-6 3,-2 4,0 1,1 0,2-1,1 0,5 2,0 0,-2-1,-1 0,-3 1,-1 10,0 3,-4ZM262,92l0,1 1,0 0,-1ZM164,88l0,1 1,0 0,-1ZM202,84l1,-2 7,0 1,1-2,2-2,0-1,1-2,0ZM146,85l0,3 4,0 1,1 8,0 1,-1-5,-5-4,0-1,1-3,0ZM224,82l1,1 0,3 2,2 0,-3-1,-2ZM264,82l0,1 5,0-1,-2ZM253,80l-1,-1-3,0-1,1 0,2-7,5-3,0-1,-1-4,-1-2,3 0,4 4,1 6,-3 4,4-1,4 6,-1 1,-2-4,-2-3,-4 4,-5 5,0ZM191,82l3,-3 4,-2 3,3 1,3-1,1-5,1-1,-1-2,0ZM180,79l0,-2 1,-1 2,2-2,2ZM258,75l-1,0 0,2 3,5-3,3 0,4 3,-5 0,-4 1,-1 0,-2ZM215,74l0,2 1,1 0,-3ZM204,68l1,2-2,2-1,-2ZM125,67l2,0 2,2 1,2-1,1 1,2 0,2-1,1 2,2 0,1-4,5-2,-1 1,-5-3,-3 0,-5ZM170,65l1,2 3,0-1,-2ZM123,63l1,-1 2,0 1,1 0,2-2,1-2,-2ZM106,63l-1,4 1,2 2,1 1,-1 0,-2ZM158,58l1,2 2,1 1,11 2,3 0,1-4,3 0,3 5,1 3,5 2,1 4,0 4,2 5,0 2,2 5,0 2,2 0,2 3,2 2,-2 3,0 1,-2 5,0 1,-2 5,2 0,-10 1,-1 0,-5-4,-1-1,-1 1,-2 0,-3 1,-1 0,-1-2,-2-3,0-1,-2-2,-2-1,0-1,4-3,3-1,0-1,-1 1,-2 0,-6-3,-2-2,0-2,1-5,6-2,0-2,-2-1,0 0,9-4,3-1,4-2,2-1,0-4,-3 0,-2 3,-5 0,-2-2,-2-2,0-3,-2-1,-6-1,-1 0,-3-2,0ZM146,56l-1,1-4,1-2,2-2,0-2,2-3,0-1,-1 1,-5-3,-2-3,0-3,3-2,0-1,-1-1,1-2,0-8,-4-1,2 1,2 0,3 3,3 3,6 1,4 5,1 3,3-3,5-1,0-3,-4-3,0-1,2-2,1-3,0 0,3-3,3-2,0-3,-3-2,-5-2,0-3,-2 0,-3 1,-1 3,0 4,-4 0,-2-1,-1-1,0-2,2-2,0 0,3-1,1-2,0-2,-3-2,1-8,-1-3,3 1,1 4,0 1,1 6,0 1,1 0,4-1,1 0,7-3,5-2,0-3,-3 0,-2 4,-2-1,-4-2,-1-1,1-4,1-3,-3 0,-1 3,-3-2,-1-2,-3-2,0-1,2 1,5-4,2 0,2 2,2 0,2-1,1-4,0-1,1 1,1 0,2 2,1 3,4-4,4-2,0 0,3 2,0 2,3-1,3-2,2 0,2 2,0 0,-1 2,-2 3,0 3,3 0,2 1,1-2,2-1,-1 0,-2-3,0-1,1 0,3 3,0 1,-1 3,3 0,2-1,1-5,0 0,6 2,0 2,-2 2,0 2,3 0,3 2,1 1,-1 0,-4 2,-2 5,0 4,4 0,5 1,1 2,0 1,-1 0,-5 1,-1 5,1 0,-2 3,-2 3,0 4,-4 3,0 2,-1 1,1 0,2 2,4-4,3-1,0-2,-2 0,-1-1,0-3,4 2,2-1,2-1,0-2,-3-2,0-1,2-4,3 0,2-7,5 2,6 2,0 1,-3 3,-2 3,1 5,5 0,1 2,1 3,0 4,-5 2,1 3,0 1,-1 0,-3-2,-2-2,0-1,-1 0,-5 1,-1 3,0 1,-1 6,0 2,-3 0,-5-2,1 0,2-1,1-4,0-2,-2 0,-1 2,-2 3,-1 0,-2-2,-2 1,-1 5,0 3,3 3,0 3,-2 4,1 0,-2-5,-5 0,-1 2,-1 0,-5-1,-1-3,0-2,-2-2,-4-3,0-1,-1 0,-3-2,-2-3,0-1,1 0,8-1,1 0,4-2,2-2,0-1,-1 0,-7-3,-3 0,-3-2,0-2,2-1,0-2,-2 0,-2 3,-3 1,-2-1,-1 2,-2 1,0 2,2 0,5 1,1 3,0 2,-1 3,-6 4,1 6,6 0,4 0,-1 3,-3 3,0 2,1 3,-3 0,-3-4,-1-4,-5-2,1-1,2-2,0-1,-1 0,-3 1,-2 2,-2 3,0 2,2 3,0-1,-2 0,-2 1,-1 3,0 3,-2 5,0 2,1 0,-2 2,-2 2,0 1,-1-1,-1-5,0-3,2-5,0-1,-1 0,-2 1,-1-1,-5 1,-1 3,0 3,-2 0,-2-3,-1ZM104,54l-2,-2-2,0-4,4-1,0-3,3-4,1 0,1 1,1 2,0 3,-3 1,0 4,4 0,1 1,0 0,-7ZM100,49h1v1h-1ZM43,44l3,2 3,-1 0,-2-4,0ZM30,42l0,1 2,1 0,-1ZM302,41l0,1 3,0 2,1-1,-3-3,0ZM58,34l-3,0-3,3 0,4 2,0 3,-3ZM82,35l-2,1-8,0-2,-2 0,-1-2,0-2,1-1,2 4,3 0,2-1,1-4,0-4,-4-2,2 0,3-2,3 0,2 2,2 2,0 5,-4 1,0 4,-5 9,0 2,-2ZM275,39l2,0 5,3 6,0 4,-4 4,-2-1,-3-10,0-1,-1-1,1 1,1 2,0 1,-1 3,3 0,1-2,2-2,1-2,-1-4,0-1,-1-4,0ZM303,31l0,1 2,0 0,-1ZM58,28h1v1h-1ZM80,20l-3,0-1,1 0,4-2,2 0,4 2,0 3,-2 0,-6 1,-1ZM53,19h1v1h-1ZM56,16h1v1h-1ZM67,14l0,4 2,1 1,-1 0,-3-1,-1Z" fill="#d1e5f0" stroke="#d1e5f0" fill-rule="evenodd"/><path d="M95,148l1,0 2,-2-3,0ZM101,140l-1,2 0,3 4,-2 1,1 0,5 2,1 1,2 2,1 3,0 1,-1-4,-2-2,-2 0,-4 2,-2 5,2 1,-1 0,-3-1,-1-3,0-1,2-2,0-3,-3-2,0-2,2ZM117,133l0,2 6,1 1,1 2,-1-3,-1-2,-2 0,-1ZM106,126h1v1h-1ZM78,126l-1,1 0,2 2,2 0,-4ZM71,126h1v1h-1ZM96,124l0,2 2,0 1,-1 0,-1ZM90,118l-2,-2-2,4 3,0ZM78,115l0,1 2,2 1,7 2,2 2,0 1,-1-3,-3 0,-3-2,-2-1,-3ZM98,106l0,2 1,1-1,2 0,4 1,1-2,3 1,2 2,1 2,-2 0,-6 1,-1 0,-2-2,-2 0,-2-1,-1ZM137,112l-3,-3 0,-2-3,-2-2,1-9,9-2,1-2,-2 0,-7-1,-1-3,0 1,6-3,3 2,0 3,3 0,1-1,1-6,0 1,3 5,0 2,-1 2,2 0,3 2,2 0,1 2,0 4,-3 0,-1-3,-3 1,-2 2,1 5,0 3,2 3,0 1,-2-1,0-4,-5 4,-3ZM93,103l-1,0-2,4 1,1 1,0 2,-3ZM124,99l0,3 3,1 1,-1 0,-2-1,-1ZM69,99l-2,2 2,4 0,3 3,1 4,3 3,-1-1,-2-1,0-3,-3-2,0-1,-1 0,-5ZM120,92l-4,1 0,3 1,1 2,0 2,-2 0,-2ZM79,92l0,1 4,1-2,-3ZM136,89l-2,3 0,4 4,1 2,-1 1,-2-3,-4 0,-1ZM234,88l0,2 2,0 1,-1ZM153,84l-1,1 2,1ZM71,80l-1,1 0,2 1,1 1,10 3,0 2,-4 2,-2 2,-4 0,-2-2,1-3,0-3,-3ZM165,79l-2,1 2,0ZM85,95l1,1 4,0 4,-4-1,-3 2,-2 2,0 1,2-2,2 0,1 2,1 1,4 1,1 2,0 2,-2-3,-4 1,-1 3,0 1,1 0,3 2,0 1,-1 0,-5 1,-1 12,0 1,1 1,-1 0,-3-1,-1-4,0-2,-2-1,-3-3,3-2,0-2,2 1,4-1,1-2,0-1,-1-3,0-2,-1-2,-3 0,-2-2,-2-3,0-2,-2-2,4 0,6-2,4ZM151,75h1v1h-1ZM208,70l-2,0 0,1-3,3 0,3-1,1 0,2 1,1 3,0 0,-3-1,-1 3,-3ZM164,70l0,1 2,1 0,-1ZM174,82l0,2 5,5 4,0 3,2 3,0 5,3 2,0 2,-3 1,1 5,0 1,-1 5,0 1,-1-1,-4-8,1-2,-2-2,1 0,5-1,1-1,0-2,-2 0,-5-3,-1-1,-2 1,-2 2,-2 1,0 2,-4 1,1 2,0 1,-1 0,-3-4,2-2,-2 0,-3 1,-1-3,-4-1,0-5,5-4,1-1,1 0,1 4,4 0,3-3,3-2,0-1,-1 0,-2-1,-1-2,0-1,4ZM114,63l0,2 1,1 0,2 2,4 2,1 3,0 1,-1 0,-5-2,-2-2,0-2,-2ZM98,59h1v1h-1ZM119,58l-1,1 2,3 2,0 0,-2-2,-2ZM127,57l-2,2 0,1 4,3-1,4 3,3 0,1 3,-4 2,3-1,1 1,1 0,3-2,2-2,-1 1,2 0,3-4,3 0,2 1,0 3,-5 3,0 1,-1 2,2 0,1 1,0-1,-3 2,-2 4,0 2,-2-3,-1-3,-3 2,-2 1,0 0,-3-3,-3 0,-2-2,-1-1,1-2,0-2,2 0,3-1,1-2,-2 0,-3-2,-2 0,-4ZM111,56l0,2 2,0 0,-1ZM61,43h1v1h-1Z" fill="#92c5de" stroke="#92c5de" fill-rule="evenodd"/><path d="M114,141l0,1 1,0 0,-1ZM105,140l0,1 2,2 0,-2ZM110,122l2,1 2,-2-4,0ZM100,119h1v1h-1ZM99,112l0,1 2,1 0,-2ZM73,108l1,1 0,-1ZM132,106l-2,0-6,7-1,0-5,4-1,0-3,-3 1,-6-2,-1 0,3 1,1-1,4 1,0 2,2 0,4 1,0 2,2 0,4 2,2 2,0 2,-2 0,-1-5,-5 3,-2 3,2 6,0 1,1-1,-6 3,-2 0,-3ZM125,100l0,1 2,0 0,-1ZM120,94l-2,-1-1,1 0,2 2,0ZM98,91l2,5 1,0-1,-4ZM201,90l0,1 1,0 0,-1ZM137,90l-1,1 0,4 2,0 1,-1ZM101,89h1v1h-1ZM205,88l0,1 2,0 1,1 2,-1-1,-2ZM117,85l2,1 0,-1ZM72,82l1,2 0,4 1,2 1,0 0,-1 2,-2 1,0 0,-2-4,0-1,-1 0,-2ZM97,81l-5,0-1,2 0,5-1,1 0,3-1,2 1,0 2,-2 0,-4 2,-2 4,0 2,1ZM204,79l0,1 1,0ZM206,73l-1,1 1,0ZM134,79l6,-1 1,-1 3,0 0,-1-4,-2-2,-2 0,-1-1,0 0,6ZM188,68l-5,3 2,1 3,-1 1,1-3,5 0,2-3,3-3,0-2,-2 0,-2-2,0 0,5 3,3 2,0 1,-1 2,2 0,2 2,0 1,1 1,-1 4,1 0,-4-3,-2 0,-2 4,-5 1,-4-1,-1 0,-3-1,-1ZM116,66l1,4 2,2 3,0 1,-4-3,-2ZM136,64l0,3 2,2 5,0-1,-3-3,-3-2,0Z" fill="#4393c3" stroke="#4393c3" fill-rule="evenodd"/><path d="M119,124l1,4 3,0 1,-1 0,-1-3,-3ZM132,107l-2,0-2,2 0,2 2,2 0,1-2,2-2,-2-3,0-3,2-1,3 7,0 2,2 2,0 1,-1-1,-4 4,-2 0,-4ZM118,95h1v1h-1ZM178,83l2,1 0,-1ZM92,83l0,4 3,-2 3,0 0,-2-1,-1-4,0ZM177,80h1v1h-1ZM189,79l-2,0-2,2 0,6 1,1 2,-1 0,-2-1,-1 2,-3ZM139,75l1,2 1,-1ZM192,72l-2,1-1,2 1,1 2,0 1,-2ZM118,68l1,3 3,0 0,-3-2,-1ZM138,64l-1,2 2,2 2,0 0,-1Z" fill="#2166ac" stroke="#2166ac" fill-rule="evenodd"/><path d="M121,124l-1,1 0,2 2,1 1,-1 0,-2ZM121,116l0,2 4,0 0,-3-3,0ZM129,108l1,4 1,1 2,0 0,-3-1,-2ZM93,85l1,-1 3,0-1,-1-2,0ZM120,69l0,1 1,0 0,-1Z" fill="#053061" stroke="#053061" fill-rule="evenodd"/><path d="M206,121l-1,1 1,2 4,2 2,-3-1,-2ZM204,114l0,2 5,0 1,1 2,0 1,-1 0,-2 2,-2 4,1 1,1 0,2 4,4 0,1-2,2-1,0-2,-2-2,0-1,1 0,4 1,1 6,0 2,-1 0,-2 2,-4 3,-3 0,-1-3,0-2,-2-5,0-2,-3-5,0-1,-1-4,1ZM168,115l-3,-4-1,-4-2,1 0,4-4,4-1,0-2,-2-6,-1 0,2 2,3 3,1 2,-2 1,0 4,4 4,-3 1,0ZM44,104l0,7-1,1-3,0 0,2 1,1 3,-3 2,2 1,5-2,2 0,2 3,0 4,-8-1,-2-3,-1-2,-2 3,-3 1,1 2,0 1,-2-1,-1-2,0-1,1-3,-2ZM162,97l-2,1 0,2-4,4 0,3 1,1 2,0 2,-2 0,-1 4,-3-1,-3ZM51,97l0,3 2,0 1,-2-1,-1ZM35,25l1,2 9,0 1,-1 0,-1-4,-1-2,-2-3,1Z" fill="#fddbc7" stroke="#fddbc7" fill-rule="evenodd"/><path d="M152,115l0,1 2,0ZM48,115l1,2 0,-2ZM158,105h1v1h-1Z" fill="#f4a582" stroke="#f4a582" fill-rule="evenodd"/></g>
</g>
<use href="#lakes" fill="#c3e1eb" stroke="#4f6f7c" stroke-width="0.3"/>
<use href="#overlay"/>
<text x="146.6" y="78.9" font-size="6.3" font-weight="bold" text-anchor="middle" fill="#1b1b22"><tspan font-style="italic">V. hybrid</tspan></text>
<text x="146.6" y="86.5" font-size="6.3" font-weight="bold" text-anchor="middle" fill="#1b1b22">cultivars</text>
<rect x="0.25" y="0.25" width="166.5" height="92.5" fill="none" stroke="#8a8a8a" stroke-width="0.5"/>
</svg>
<text x="265.40" y="753.10" font-size="5.65" font-weight="bold" text-anchor="middle" fill="#111" >1980-1999</text>
<svg x="350.9" y="755.4" width="167.0" height="93.0" viewBox="0 0 167.0 93.0" overflow="hidden">
<use href="#base"/>
<g clip-path="url(#dataclip)">
<g transform="scale(0.5) translate(0.5,0.5)" stroke-width="0.8" stroke-linejoin="round"><path d="M80,144h1v1h-1ZM71,135l0,2 2,2 1,-1 0,-2-1,-1ZM218,120l-2,0 0,2 1,1 2,-2ZM161,120h1v1h-1ZM168,119l3,5 2,-1 3,3 4,2 2,0 8,-4 0,-2-1,-1-1,0-2,3-2,0-2,-2 0,-2-4,0-1,-1-7,0-1,-1ZM225,115l-1,1 1,0ZM83,113l1,1 2,0 2,2 0,2-2,2-2,0-3,-3 0,-2ZM234,109l-2,2 0,2 3,2 2,-1 0,-1ZM176,108l-2,1 0,2 1,1-1,2 2,2 3,-1 0,-3-1,-1 0,-2ZM162,107l-2,0-2,4-4,0 0,1 3,0 2,-2 1,1 2,0 1,-1-1,-1ZM101,106l1,-1 2,0 1,1-1,1-2,0ZM209,118l-1,1-2,0-2,-1-2,-3-5,0-4,-4 0,-3-2,-2-2,-1-4,0-1,-1 2,-2 6,0 2,2 1,3 3,-1 0,-1 3,-3 4,-2 4,0 2,2 0,1-2,2-2,0-1,1 2,4-1,4 2,2ZM139,99l3,6-4,4 0,2-2,2-1,0-1,-2 1,-1 1,-10 1,-1ZM167,99l2,-1 1,2-1,1ZM176,96l1,-1 2,2 0,1-2,1-1,-1ZM100,96l0,4 1,1-1,1 0,4-1,1-5,0-4,-2 0,4-2,2-2,-1-3,0-2,1-1,-1 0,-6 4,-5 1,0 4,4 2,0 4,-3 1,-4 1,-1 2,0ZM81,95l1,-1 1,1-1,1ZM186,94l1,-1 3,2 2,0 1,-1 4,1 2,-1 2,2 0,1-3,2-5,0-2,-2-4,0-1,-1ZM161,94l1,-1 1,1-1,1ZM225,92l2,-1 3,0 3,3 0,1 2,0 1,1 0,4-2,4-2,-2 0,-3-4,0-2,1-3,-3 0,-3ZM175,90l2,1 0,3-1,1-2,-2 0,-2ZM72,91l1,-1 1,1-1,1ZM86,88l1,-1 1,1-1,1ZM171,86l1,2-3,3-2,-2 0,-1 2,-2ZM132,91l7,-6 1,0 3,3 0,2 2,2 4,-3 1,0 3,3 1,0 2,2 0,1-1,1-9,0-1,-1-4,0-2,-3-1,2-2,2-1,0-3,-2ZM178,85l1,-1 3,0 1,1 0,2-2,2-2,0-1,-1ZM231,82l0,3 1,1 6,-1 3,2 3,-3-1,-2-2,0-2,2-2,0-2,-2 0,-1-3,0ZM166,76l2,2-6,6-1,0-2,-2 0,-3 3,-3ZM244,76l0,3 1,1 2,0 1,-1 0,-3ZM134,78l2,2-4,5-1,-1-3,0-1,1-3,-3-6,1-1,1-1,6 4,4 4,-1 3,2 0,5-1,2 4,5 0,3-4,3 0,4-1,1-2,0-4,-2-1,1 0,2 2,2 0,3-1,1-5,0-1,2 2,1 3,0 1,-1 1,2-4,5-6,-1-2,2 0,3-1,1-4,-4 0,-1 2,-2 3,0 2,-4-2,-2-4,0-2,1-3,-3-2,-5-2,-2 0,-3 1,-1 7,0 3,-3 1,0 1,1 0,2-2,2-1,0-1,4-1,1 3,0 4,-4 1,-2 4,0 0,-2 1,-1 3,0 1,1 0,2 1,0 1,-1-1,-1 0,-2 2,-3 0,-1-3,-3 1,-2 0,-3-2,-1-2,2-5,0-2,1-3,4-1,0-1,-1 0,-2 2,-1 0,-3-1,-2 2,-2 1,0 1,-2-1,-1-1,1-3,0-1,1 1,2-1,1-2,0-1,-1 1,-3-2,-2-3,-1-2,-2-1,-3-3,0-2,1-1,-2 3,-3 3,1 2,-4 2,-1 1,1 0,4 2,2 0,2 2,2 6,1 3,-5 0,-3 3,-4 4,-1 4,3 5,0 2,2ZM277,73l2,0 4,4 0,5-1,1-2,0-4,-5 0,-4ZM231,68l2,-1 3,3-2,2-1,0-2,-2ZM181,67l2,2 0,3 1,1 1,4-3,3-10,0-1,-1 2,-2 4,-1 1,-2 0,-3ZM100,69l-5,4-2,0-1,1-2,-1 0,-2 5,-4 3,0ZM173,66l1,1 0,3-4,4-2,1-2,0-4,-5 1,-1 4,-1 2,-2ZM89,64l1,-1 3,0 1,1 0,2-1,1-2,0-2,-2ZM194,61l0,1 2,1 0,4 1,0 1,-1 0,-2-2,-2 0,-1ZM180,61l1,-1 2,1-1,1ZM304,61l2,-2 3,0 1,1 4,1 1,1 0,2-1,1-3,-2-3,2-2,0ZM250,56l4,3 0,3-1,1-1,0-3,-3 0,-3ZM78,57l1,2 3,-1 0,-1ZM258,57l1,-2 2,1-2,2ZM217,57l0,2 2,1 3,0 2,-2-3,-2-3,0ZM297,54l1,1 4,-1 3,5 0,1-4,3 0,2 1,1 4,0 1,-1 1,1 2,0 2,2 0,1-4,4-3,0-4,-4 0,-1-4,1-3,-2 0,-7ZM57,44l-2,0-1,1 0,4 1,1 3,-5ZM291,42l1,1 0,5-2,2-2,0-3,-3 0,-1 2,-2ZM60,45l0,3 1,1 2,0 1,-1 10,0 2,-1-1,-2-4,2-2,-2-3,0-3,-2-1,0ZM46,42l-1,1 1,0ZM302,39l2,-1 1,2-1,1ZM79,40l1,2 4,0 1,-2-2,-2-2,0ZM39,38l2,1 0,-1ZM47,35l-1,1 2,4 2,0 1,-1-1,-4ZM277,32l-2,1-2,4 2,2 3,1 2,-1 0,-3ZM323,42l-1,-1-3,0-6,-4-2,2-3,0-1,-1 3,-3 1,0 0,-1-1,-1-4,1-2,-2-3,0-1,1 0,3-2,2-2,1-4,0 0,1-2,2-2,0-4,-2-1,1 0,4-1,1-4,1-1,2 0,3 8,0 4,3 1,2 0,3 1,1-5,4 0,2 1,0 3,3 0,2-1,1-4,0-6,-5 0,-1 2,-2 0,-3 4,-2-1,-2-7,1-3,-2-2,2 0,2 2,1 3,0 1,2-1,1-2,0-1,-1-4,4-1,-1 0,-2-4,-1 0,5 3,3 0,1-2,3-2,0-2,-2-1,-4-2,0-3,2-4,0-1,-1 0,-3 2,-2 4,1 1,-1 0,-2 7,-6 0,-2 2,-3 2,0 1,-1 4,1-1,-1-3,0-2,-1-2,3-3,0-2,-2-1,-4 1,-1 0,-4 1,-1 0,-9-2,-1-2,2 0,4-2,2-1,-1-3,0 0,3 4,4 1,4-2,1-2,-3-4,-2-2,0-2,2 0,2 2,0 2,2 0,3-1,1-1,0-2,-2 0,4-3,3-2,0-4,-4-4,0-2,1 0,3-5,5-3,1-2,-2 0,-1-2,0-1,2 4,3 0,3-3,2-3,-3-4,-2 0,-6-3,-2 0,-2 3,-4-1,-1-4,0-1,-1-2,2-5,0 1,6 2,0 3,-2 4,2-2,4 0,6-1,2-2,2-4,0-1,-1-1,1 0,3-4,4-3,0-1,-1-1,-6 4,-3 2,-4-2,-1-2,-4-1,0-2,-2 0,-3 1,-1-1,-1-4,2-1,-2-4,0-2,1-3,-3-2,0-1,2 2,2-2,2-1,0-1,-2-2,0 0,3-3,3-3,0-2,2 0,2-1,1-6,-1-3,2 0,1 5,4 0,2-1,1 0,4-1,1-4,0-4,-6-5,0-1,-1 0,-3 3,-4-1,-2-1,0-2,2-2,0-4,-3-5,0-2,-2 0,-3 3,-4-1,-2-4,-2-4,1 0,2 1,1 0,4-2,2-1,0 0,4 1,1 3,-1 2,2 0,2-1,1-3,0-3,3-2,-1-4,0-3,4-2,-3 0,-2 2,-1 1,-2-1,-1 0,-4 6,-5 2,-6-6,-6-3,0 0,1-3,3 0,2-3,3 0,3 3,1 3,-6 2,1 0,4-4,4-5,0-1,-1 0,-5-1,-1 0,-2-4,-4-2,0-2,4-2,2 1,4 1,1 0,2-1,1-3,0-1,1-3,0-2,1 0,3 3,4-1,1-3,0-5,-4-1,0 0,7-2,2 0,1 3,-2 1,1 4,0 4,3 0,6-1,1-4,-2-2,0 0,1-2,2 0,5 1,1 2,0 2,-2 3,0 1,1 0,1-3,3 0,1 3,3 0,1-3,3 0,6-1,2-4,4-6,-3 4,-2 0,-3 1,-1 2,-8-1,-1-3,0-2,-2 0,-2-3,-2-3,0 0,3 1,1 0,6-2,4 3,3 0,6 1,1 0,2 2,2 5,1 2,2 1,2 0,4 4,0 1,-1 2,0 3,4 0,3 1,1 2,-1 2,1 0,5-1,1 0,3 5,0 2,-2 1,0 2,2 0,1 1,0 0,-1 3,-3 2,0 2,2 0,1-3,3 0,2 1,1 2,0 2,-2 5,0 1,-2 4,-4 2,-1 1,-4 3,-3 1,-8-2,-3-3,0-1,-1 0,-1 2,-2 6,1 2,2 0,5 3,5 0,-5 2,-2 5,0-1,-2-2,-1-4,0-2,-2 2,-2 4,-2 1,1 3,0 1,-1 0,-6 2,-2 0,-4 2,-2 2,0 1,1 0,-3-4,-2 0,-2 2,-3 2,0 3,2 2,0 2,-2 3,0 0,-2 2,-2 1,0 1,1 0,3 2,2 0,4 3,0 3,-3 1,1 5,0 3,3 5,-1 1,1 0,3 1,1 2,0 2,2-1,2 0,4 1,1 5,0 2,2 3,0 2,2 1,4 2,0 3,-3 1,1 2,0 1,-2 0,-2-2,-2 0,-3 2,-3 0,-8-1,-1 1,-1 0,-2-1,-1 0,-2-3,0-2,1-2,-2 2,-4 0,-1-2,-2 1,-2 0,-4 4,-3 3,0 0,-2-3,-3 1,-2 3,0 4,5 0,1-3,4-3,0-2,1-1,2 0,3 1,1 5,1 2,2 1,0 1,-4 1,-1 2,0 1,1-1,4-1,1 0,4-3,5 0,2 3,0 2,-1 2,2 1,0 2,-2 3,0 3,3 1,0 0,-1 2,-2 3,0 2,1 2,-4 2,-1 3,0 2,-3 2,0 0,-3-2,0-3,3-2,-2 0,-3 1,-2-2,0-1,1 0,3-1,1-2,0-2,-4-3,-2-3,2-2,0-3,-4 0,-1-3,-3 0,-3-1,-2 2,-3 4,1 2,2 4,0 0,-1 4,-4 0,-2-1,-1 1,-1 0,-2 2,-2 4,0 2,3 0,2 3,3 1,7 2,2 3,-2 2,0 4,4 0,2-2,2 0,4-2,2 0,3 5,2 2,-2 1,0 2,-3-3,-3 0,-3-1,-1 2,-4 0,-4 2,-2 2,0 4,4-1,1-4,1 1,3 3,1 3,-4 3,0 2,2 4,0 1,1 2,-2 2,0 1,1 4,0 2,-2 2,-4 6,0 2,2 6,-1 5,-6 0,-3 4,-2 0,-5 1,-1 0,-3 3,-3 0,-2-2,-2-1,0-3,3 0,2-2,2-3,0-1,-1 0,-2 1,-1 2,0 1,-1-1,-1-7,3-7,-8 1,-2 3,-2 2,0 2,4 3,0 1,-1 0,-1-2,-2 1,-2 3,2 3,0ZM281,29l0,2 2,2 0,2 1,1 2,0 3,-2 4,2 3,-3 0,-1-3,-3-2,0-2,2-3,0-1,-2-2,-1ZM77,28l2,-1-2,0ZM34,24l1,7-1,1-3,-2-3,0-1,1-2,0-1,1 0,2 1,2 3,0 1,-1 4,3 3,1 1,-1-1,0-2,-2 0,-4 1,-1 2,2 1,0 1,-1 0,-2-3,-6ZM86,23l-1,1 0,3 1,1 4,1 0,-1 2,-2 0,-2-1,-1ZM61,22l4,5-1,2-4,0-2,-1 0,2 2,2 1,4 2,2 3,0 3,4 3,-1 1,-1 0,-3-2,-2 0,-1-2,0-2,-2 0,-5-1,-2-1,0-2,-2 0,-1ZM65,8l-1,1 0,3 2,2-1,1 0,4 4,4 0,1 3,0 2,-1 1,-2 0,-4-1,-1-5,0-3,-3 2,-4-1,-1ZM58,5l-2,0-3,2-2,0 0,2 1,1-5,5-2,0-1,1-4,-5-3,0-2,2 0,2 2,2 4,0 1,1-1,6 2,1 2,2 0,1 2,1 6,0 1,-1-3,-4-3,-1-2,-2 3,-6 7,-4 3,-3 0,-2Z" fill="#d1e5f0" stroke="#d1e5f0" fill-rule="evenodd"/><path d="M123,129l-2,0-3,6-4,0-1,-1-3,0-1,1 1,3 2,1 2,4 0,2-2,2-3,0-1,1 0,2 4,0 0,-1 2,-2 2,0 3,-2 1,-4-3,-3 2,-3 1,0 2,2 2,-3 0,-3ZM130,128l0,2 1,0ZM96,122l-1,1 1,0ZM67,121h1v1h-1ZM107,116l-1,0-1,2 1,0ZM138,114l-1,0-3,4-2,0-1,-1 3,-3-2,-2-2,0-3,2 0,3 2,2-1,1-2,-1-3,0-1,-1-2,0 0,2 1,2 3,2 5,0 2,-2 2,0 3,-2 3,0ZM78,112l0,4-2,2 1,2 0,3-3,3 1,5 2,1 3,-3 1,0 2,2 0,1 4,3 0,1 2,0 2,2 0,2-1,1 0,4 2,-1 3,0 2,2 4,0 3,-2 2,0 1,-1-1,-2-7,1-1,-1 0,-2 1,-1 4,0-1,-5 2,-2 3,0 2,-3-3,-2-4,5-2,-1 0,-2 0,3-2,2-7,0-2,-2 0,-2 1,-1 2,0 1,1 0,-3-6,1-3,-3-1,-3-2,-2-2,0-1,-1 0,-1 2,-2 0,-3ZM84,112l5,4 2,0 6,-5 3,0 2,1 1,-2-1,-1-6,0-1,-1-3,0-1,2 0,3-1,1-4,-3ZM65,103l3,2 0,1-2,2 0,2 2,2 0,1 1,0 0,-2 1,-1 0,-5-2,-2ZM222,101l-1,0-2,2 3,-1ZM195,100l-1,1 1,2 2,1 1,-4ZM120,99l-2,0-1,1-5,0-3,3-2,4 0,2 3,3 3,0-1,-4 2,-2 3,4 3,-1 2,-2-1,-2-2,0-1,-1 0,-2 2,-2ZM82,100l-2,-1-1,2 2,0ZM209,98l0,1 1,0 0,-1ZM102,98h1v1h-1ZM243,97h1v1h-1ZM89,97l1,-2 2,1-2,2ZM77,92h1v1h-1ZM234,91l0,2 4,3 0,3-1,2 1,1 2,0 0,-3-2,-3 0,-3-2,-2ZM172,90l-2,2 0,5 3,3 1,0 1,-4-2,-3 0,-3ZM263,88l-2,1 0,6 2,0 1,-1 0,-4ZM180,83l3,0 1,1 0,3-2,2-4,0-1,-1 0,-2ZM271,83l0,2 1,0 1,-1ZM242,83l-1,0-1,2 2,0ZM232,82l0,3 2,0 1,-2-1,-1ZM101,78l0,1 1,0 0,-1ZM247,77l-2,0 0,1 1,1ZM111,77l-3,0 0,1-3,3-2,0 0,3 3,2 2,0 2,-2 0,-5ZM77,77l-1,2 5,4 0,2 1,1 0,5 4,3 1,6 1,1 4,0 2,-2 0,-4 2,-2 3,-1 0,-1-1,0-2,-2 0,-1-3,-4-2,0-2,2 2,3 0,2-1,1-2,-1-3,0-3,-3 4,-3 0,-3 2,-2 0,-3-2,0-1,1-2,-1ZM94,75l-2,1 1,1ZM215,73l0,1 1,0 0,-1ZM251,73l0,2 1,1 1,4 2,-1 3,0 4,4 2,0 1,-1 0,-4-3,-2-1,-4ZM315,71l-1,-1-2,1-2,4-3,0-2,-1-1,2 1,1 8,0 1,-1ZM129,69l2,2 0,3-1,1-2,0-2,-2 0,-2ZM269,70l0,5 1,0 2,2 0,1 2,1 1,-1-1,-3 3,-3 2,0 4,4 1,2 0,3 1,1 6,-3 4,0 1,-1 0,-2 2,-2 4,0 0,-2-1,-1-4,1-2,-2-1,0-4,4-2,1-6,-3-6,-6-3,0 0,1-3,3ZM266,66l0,2 1,0 0,-2ZM100,66l1,2 0,3 3,-1 0,-3-1,-1ZM79,70l3,3 2,0 4,-2 2,-2 0,-1-2,-2-5,0-2,1-2,2ZM211,70l-1,-1 0,-5-2,0-1,1 0,4 1,2-2,1-4,5-2,0 0,1-2,2-2,0-2,3-3,0-2,-1-2,-4-1,0-4,3-6,0-1,1-3,0-3,-2-2,0-5,5-2,1-2,-2-1,-6 2,-2 3,0 2,-1 0,-1-3,-2-3,0-5,-3-3,2 3,2 0,2 1,1 0,5 3,3 0,1 2,0 2,2 0,2 2,1 2,2 0,1 2,0-1,-2 0,-3 3,-3 3,0 2,3 2,0 3,5 0,2 3,4 0,1 8,0 0,-1-2,0-4,-4 0,-1 2,-2 4,2 2,-1 9,0 2,3-1,1 0,2 2,-1-1,-1 0,-2 1,-1 0,-2-1,-1 0,-8 2,-2 2,0 2,-2 1,0-2,-4 0,-3 1,-1 2,0ZM302,63l0,1 2,1 0,-2ZM292,63l-1,0-2,2 0,2 1,1 2,-1 0,-2 1,-1ZM320,61l-2,0-1,1 0,4 1,1 2,-1ZM159,66l0,1 2,1 1,-1 5,0 5,-3 2,0 1,1 0,5-4,4-2,1 1,2 1,-1 3,0 3,-2 1,-6 2,-2 1,0 3,3 0,4 1,1 4,-1 3,-2 0,-3-2,-2 0,-1-2,-2-2,0-1,-1-3,2-2,0-5,-3-3,0-1,1-5,0-3,3-3,0ZM281,60h1v1h-1ZM252,64l-4,-4 0,-1-2,0-4,3-3,0-3,-3-4,0-1,1 0,2-4,4 0,1-1,1-2,0-2,4-4,4-1,5-3,3-3,0-2,2 0,3 7,2 2,-4 5,0 1,-1 2,2 0,2 1,0-1,-3-1,0-2,-2 0,-2-1,-1 0,-4 3,-4 2,1 3,0 1,1 3,0 3,-3-5,0-3,-4 1,-5 2,-2 1,0 2,2 0,3 1,1 1,0 2,-4 3,0 2,-1 3,3 2,4 1,0 0,-2 2,-2ZM274,58l-1,2 1,1 2,0 1,-1ZM100,57l0,2 1,0 0,-2ZM120,55l-1,1 2,2 0,3-4,3 0,2 2,0 3,3-1,6 1,1 7,0 1,2 5,0 1,1 0,2-1,1 0,2-3,3-2,-1-4,1-3,-4-3,0-2,2-1,4 4,4 5,0 2,2-1,8 5,5 0,2 1,0 1,-1 0,-5 1,-1-1,-3 2,-3-4,-1-2,-2 0,-2 1,-2 6,-5 5,0 2,3 0,2 2,0 4,-4 1,0 2,2 0,2 4,2 2,0 0,-1-5,-2-3,-4-6,0-1,-1 0,-4-3,-2-3,0-2,-3 0,-4-2,-1-3,0-4,-3-4,-1-2,-4 0,-1 2,-2 0,-2ZM110,55l-2,0 0,5-1,1 2,-2 1,0 1,-2ZM304,53l1,4 1,1 3,0-2,-2-1,-3ZM90,53l-1,1 0,2-2,2 0,2 1,1 6,0-3,-3 2,-2 0,-2-1,-1ZM250,49l1,6 4,4 0,4-1,2 2,1 1,-2 3,-3 1,0 0,-2-3,0-1,-1 0,-3 2,-2-1,-1-4,1-2,-4ZM278,49l0,2 9,0-1,-2-2,0-3,-2-1,0ZM287,42l-2,-1-1,1 0,2 2,0ZM292,60l2,-1 0,-6 2,-2 2,0 1,1 3,-1 0,-1-3,-3 0,-4 1,-1 2,4 4,-2 2,0 4,-3 2,0 3,2 2,0-4,-3-2,0-1,1-5,0-4,2-2,0-1,-1 0,-3-3,0-3,2-1,8-2,3 0,6ZM70,38l0,2 1,0 1,-1ZM276,36l0,2 2,1 1,-1-2,-2ZM260,36l-1,4-3,3 0,2 2,3 2,-1 0,-3 1,-1 0,-6ZM303,34l-1,1 1,1 1,-1ZM63,32l-1,1 0,2 1,1 2,0 1,-2-2,-2ZM292,31l-1,2 2,1 1,-1ZM48,26l0,1 3,0-1,-2ZM67,17l0,1 4,4 2,-1 0,-2-1,-1ZM46,17l-2,1-1,2 0,3 2,-1Z" fill="#92c5de" stroke="#92c5de" fill-rule="evenodd"/><path d="M99,145l2,-1-2,0ZM118,143l-1,0-1,2 1,0ZM95,136l-2,1 0,3-1,2 4,-1 1,-3ZM111,135l0,2 1,0 2,2 2,-1 0,-2ZM123,130l-2,1 0,3 2,-1ZM106,127l-1,2 2,1 1,-2ZM76,126l-1,1 0,2 2,1 1,-2-1,-2ZM80,121l0,2 3,4 1,4 3,0 0,-2-4,-3-2,-5ZM135,119l-2,0-2,1 0,1 3,0ZM121,119l1,3 4,2 3,-2-3,-2ZM130,113l-2,1 0,2 1,1 2,-2ZM93,111l0,1 1,0 0,-1ZM108,108l1,2 2,1 1,-2 0,-3 2,-2 2,1 0,2 2,2 2,-1 1,-2-3,-1-2,-2 1,-2-5,0ZM129,97l-1,6 4,3 1,-1 0,-2-1,0-2,-3 2,-2 1,0-1,-1ZM172,93l-1,3 2,2 1,-2ZM88,93h1v1h-1ZM187,88l1,-1 2,0 1,1-1,1-2,0ZM145,87l0,1 1,0 0,-1ZM91,85l1,6 1,2 1,0 2,-2 0,-1-3,-4 0,-1ZM119,85l0,4 1,0 2,2 7,1 0,-2-5,0-1,-1 0,-4-2,-1ZM233,83l0,1 1,0ZM83,83l0,1 1,0 0,-1ZM180,82l-3,0-3,2 0,2 2,1 0,-1ZM171,83l-2,-2-2,0-4,4-1,2 1,1 2,0 4,-4ZM109,82l-1,-1-1,1-2,0 0,2 2,1 2,-2ZM202,81l-6,0-1,1 0,4 1,1-2,2-2,-1 0,-3-2,-2-1,0-3,-3-2,1 1,2 0,4-2,2-4,1 0,2 2,4 2,2 1,0 0,-2-1,-1 0,-2 1,-1 4,0 2,1 3,-2 2,1 3,0 2,-1 2,-3 0,-2-1,0-2,2-1,0-1,-2ZM138,79l-2,3 0,2 6,0 1,-1 0,-2-3,-2ZM78,78l1,2 3,1 0,-2-1,-1ZM222,75l-3,1-1,2 0,3-3,4-4,0-1,1 0,3 3,0 2,1 2,-4 4,0 1,-1 0,-2-1,-1 1,-2ZM294,74l0,1 1,0 0,-1ZM207,74l-1,0-2,2-1,2 1,2 3,0 1,-1 0,-4ZM282,73l3,6 1,1 2,-1 1,-2-2,-2-2,0ZM257,73l-2,3 0,2 4,0 3,4 2,0 0,-3-4,-4 0,-2ZM122,74l1,1 2,0 0,-2-2,0ZM133,72l-2,3 0,2 5,0-1,-2 0,-3ZM176,71l-4,3-1,0 0,1 4,-1ZM153,71l2,6 2,-2 0,-2-2,-2ZM224,71l0,2 2,0 1,1 4,0 0,-1-3,-3-3,0ZM123,68l0,1 3,0 0,-1ZM271,70l0,2 2,0 1,1 5,-2-3,-4-2,0ZM83,67l0,2 1,1 4,-1-1,-2ZM208,66l0,2 1,0 0,-2ZM184,65l0,2 2,2 0,2 4,1 2,-2 0,-1-3,-4-2,-1ZM178,64l-2,1 1,4 0,-1 2,-2ZM168,64l-2,0-1,2 2,0ZM121,65l-1,-1-1,1ZM258,60l-2,0 0,4 3,-3ZM247,60l-2,1 0,1 2,2 0,2 2,3 2,-3 0,-2-2,-2 0,-1ZM255,56h1v1h-1ZM279,49l0,1 3,0 0,-1-2,-1ZM295,45l-1,1 0,3 3,0 0,-3ZM260,42l-2,1 0,3 2,-1Z" fill="#4393c3" stroke="#4393c3" fill-rule="evenodd"/><path d="M122,132h1v1h-1ZM123,121l3,2-1,-2ZM129,115h1v1h-1ZM119,106l-2,0 0,1 1,1ZM110,106l-1,2 2,1 0,-3ZM129,101l-1,1 1,1ZM180,91l1,2 3,-2 4,0 2,1-1,-2-2,0-1,-1-2,0ZM210,87l1,2 3,0 0,-2-1,-1-2,0ZM92,86l0,2 2,2 0,1 0,-2ZM176,84l-1,1 1,0ZM186,83l1,2 3,0 0,-1ZM198,82l-2,0 0,3 2,-1ZM169,82l-2,0-3,4 5,-2ZM137,82l0,1 4,0 0,-2-3,0ZM262,79h1v1h-1ZM221,77l-2,1 0,2-2,4 1,1 3,0-1,-2ZM285,76l0,1 1,0 0,-1ZM207,75l-2,1 0,2 1,1 1,-1ZM258,74l-1,2 1,1 2,0-1,-3ZM134,73l-2,2 1,2 2,-1ZM228,72l0,1 1,0 0,-1ZM274,68l-1,1 0,2 1,1 2,0 1,-1 0,-2-1,-1ZM188,66l0,4 2,1 1,-2ZM247,62l1,4 2,1 0,-4-1,-1Z" fill="#2166ac" stroke="#2166ac" fill-rule="evenodd"/><path d="M211,87l1,1 0,-1ZM219,84h1v1h-1ZM139,82h1v1h-1ZM220,78h1v1h-1ZM274,69l0,2 2,0 0,-2ZM249,64h1v1h-1Z" fill="#053061" stroke="#053061" fill-rule="evenodd"/></g>
</g>
<use href="#lakes" fill="#c3e1eb" stroke="#4f6f7c" stroke-width="0.3"/>
<use href="#overlay"/>
<text x="146.6" y="78.9" font-size="6.3" font-weight="bold" text-anchor="middle" fill="#1b1b22"><tspan font-style="italic">V. hybrid</tspan></text>
<text x="146.6" y="86.5" font-size="6.3" font-weight="bold" text-anchor="middle" fill="#1b1b22">cultivars</text>
<rect x="0.25" y="0.25" width="166.5" height="92.5" fill="none" stroke="#8a8a8a" stroke-width="0.5"/>
</svg>
<text x="434.40" y="753.10" font-size="5.65" font-weight="bold" text-anchor="middle" fill="#111" >2000-2024</text>
<text x="2.6" y="197.6" font-size="12.5" font-weight="bold" fill="#000">d</text>
<text x="2.6" y="306.8" font-size="12.5" font-weight="bold" fill="#000">e</text>
<text x="2.6" y="414.8" font-size="12.5" font-weight="bold" fill="#000">f</text>
<text x="2.6" y="540.4" font-size="12.5" font-weight="bold" fill="#000">g</text>
<text x="2.6" y="646.2" font-size="12.5" font-weight="bold" fill="#000">h</text>
<text x="2.6" y="753.4" font-size="12.5" font-weight="bold" fill="#000">i</text>
<text x="260.50" y="517.00" font-size="5.4" font-weight="normal" text-anchor="middle" fill="#222" >Average estimated annual cold damage for grapevine cultivation</text>
<rect x="86.3" y="520.6" width="7.4" height="7.2" fill="#30123b" stroke="#222" stroke-width="0.4"/>
<text x="96.50" y="526.20" font-size="5.2" font-weight="bold" text-anchor="start" fill="#222" >&lt; 5%</text>
<rect x="111.7" y="520.6" width="7.4" height="7.2" fill="#4559cb" stroke="#222" stroke-width="0.4"/>
<text x="121.90" y="526.20" font-size="5.2" font-weight="bold" text-anchor="start" fill="#222" >5-10%</text>
<rect x="142.4" y="520.6" width="7.4" height="7.2" fill="#3e9bfe" stroke="#222" stroke-width="0.4"/>
<text x="152.60" y="526.20" font-size="5.2" font-weight="bold" text-anchor="start" fill="#222" >10-15%</text>
<rect x="176.0" y="520.6" width="7.4" height="7.2" fill="#19d5cd" stroke="#222" stroke-width="0.4"/>
<text x="186.20" y="526.20" font-size="5.2" font-weight="bold" text-anchor="start" fill="#222" >15-20%</text>
<rect x="210.0" y="520.6" width="7.4" height="7.2" fill="#46f884" stroke="#222" stroke-width="0.4"/>
<text x="220.20" y="526.20" font-size="5.2" font-weight="bold" text-anchor="start" fill="#222" >20-25%</text>
<rect x="242.5" y="520.6" width="7.4" height="7.2" fill="#a4fc3c" stroke="#222" stroke-width="0.4"/>
<text x="252.70" y="526.20" font-size="5.2" font-weight="bold" text-anchor="start" fill="#222" >25-30%</text>
<rect x="275.5" y="520.6" width="7.4" height="7.2" fill="#e1dd37" stroke="#222" stroke-width="0.4"/>
<text x="285.70" y="526.20" font-size="5.2" font-weight="bold" text-anchor="start" fill="#222" >30-35%</text>
<rect x="308.7" y="520.6" width="7.4" height="7.2" fill="#fea431" stroke="#222" stroke-width="0.4"/>
<text x="318.90" y="526.20" font-size="5.2" font-weight="bold" text-anchor="start" fill="#222" >35-40%</text>
<rect x="342.0" y="520.6" width="7.4" height="7.2" fill="#f05b12" stroke="#222" stroke-width="0.4"/>
<text x="352.20" y="526.20" font-size="5.2" font-weight="bold" text-anchor="start" fill="#222" >40-45%</text>
<rect x="375.0" y="520.6" width="7.4" height="7.2" fill="#c32503" stroke="#222" stroke-width="0.4"/>
<text x="385.20" y="526.20" font-size="5.2" font-weight="bold" text-anchor="start" fill="#222" >45-50%</text>
<rect x="408.8" y="520.6" width="7.4" height="7.2" fill="#7a0403" stroke="#222" stroke-width="0.4"/>
<text x="419.00" y="526.20" font-size="5.2" font-weight="bold" text-anchor="start" fill="#222" >&gt; 50%</text>
<text x="259.60" y="857.60" font-size="5.25" font-weight="normal" text-anchor="middle" fill="#222" >Average estimated annual cold damage change compared to 1960-1979</text>
<rect x="123.0" y="861.0" width="6.8" height="6.4" fill="#053061" stroke="#ddd" stroke-width="0.3"/>
<text x="132.60" y="866.20" font-size="5.1" font-weight="bold" text-anchor="start" fill="#222" >&lt;-50%</text>
<rect x="150.0" y="861.0" width="6.8" height="6.4" fill="#2166ac" stroke="#ddd" stroke-width="0.3"/>
<text x="159.60" y="866.20" font-size="5.1" font-weight="bold" text-anchor="start" fill="#222" >-40%</text>
<rect x="173.8" y="861.0" width="6.8" height="6.4" fill="#4393c3" stroke="#ddd" stroke-width="0.3"/>
<text x="183.40" y="866.20" font-size="5.1" font-weight="bold" text-anchor="start" fill="#222" >-30%</text>
<rect x="198.5" y="861.0" width="6.8" height="6.4" fill="#92c5de" stroke="#ddd" stroke-width="0.3"/>
<text x="208.10" y="866.20" font-size="5.1" font-weight="bold" text-anchor="start" fill="#222" >-20%</text>
<rect x="223.0" y="861.0" width="6.8" height="6.4" fill="#d1e5f0" stroke="#ddd" stroke-width="0.3"/>
<text x="232.60" y="866.20" font-size="5.1" font-weight="bold" text-anchor="start" fill="#222" >-10%</text>
<rect x="250.4" y="861.0" width="6.8" height="6.4" fill="#f7f7f7" stroke="#ddd" stroke-width="0.3"/>
<text x="260.00" y="866.20" font-size="5.1" font-weight="bold" text-anchor="start" fill="#222" >0%</text>
<rect x="269.4" y="861.0" width="6.8" height="6.4" fill="#fddbc7" stroke="#ddd" stroke-width="0.3"/>
<text x="279.00" y="866.20" font-size="5.1" font-weight="bold" text-anchor="start" fill="#222" >+10%</text>
<rect x="295.4" y="861.0" width="6.8" height="6.4" fill="#f4a582" stroke="#ddd" stroke-width="0.3"/>
<text x="305.00" y="866.20" font-size="5.1" font-weight="bold" text-anchor="start" fill="#222" >+20%</text>
<rect x="321.3" y="861.0" width="6.8" height="6.4" fill="#d6604d" stroke="#ddd" stroke-width="0.3"/>
<text x="330.90" y="866.20" font-size="5.1" font-weight="bold" text-anchor="start" fill="#222" >+30%</text>
<rect x="347.3" y="861.0" width="6.8" height="6.4" fill="#b2182b" stroke="#ddd" stroke-width="0.3"/>
<text x="356.90" y="866.20" font-size="5.1" font-weight="bold" text-anchor="start" fill="#222" >+40%</text>
<rect x="373.3" y="861.0" width="6.8" height="6.4" fill="#67001f" stroke="#ddd" stroke-width="0.3"/>
<text x="382.90" y="866.20" font-size="5.1" font-weight="bold" text-anchor="start" fill="#222" >&gt;+50%</text>
</svg></body></html>
